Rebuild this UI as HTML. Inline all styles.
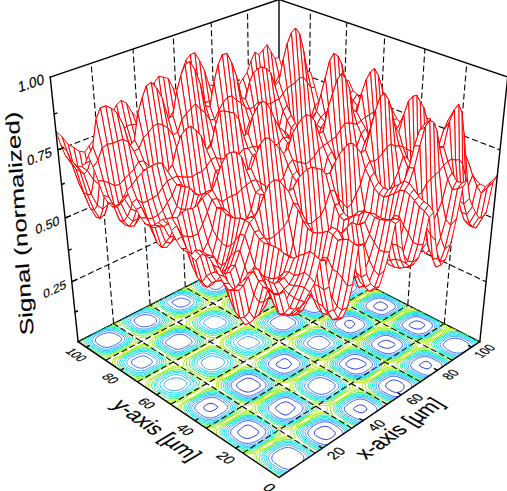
<!DOCTYPE html>
<html><head><meta charset="utf-8"><style>
html,body{margin:0;padding:0;background:#fff;width:507px;height:491px;overflow:hidden}
svg{display:block}
text{font-family:"Liberation Sans",sans-serif}
</style></head><body>
<svg width="507" height="491" viewBox="0 0 507 491">
<rect width="507" height="491" fill="#fff"/>
<path d="M113.6 323.6L91.1 63.2M444.3 323.6L466.8 63.2M150.1 305.1L133 49M407.8 305.1L424.9 49M185.3 287.2L173.2 35.3M372.6 287.2L384.7 35.3M218.8 270.1L211.2 22.4M339.1 270.1L346.7 22.4M251 253.8L247.5 10.1M307 253.8L310.4 10.1M71.8 281.8L279 184.5M279 184.5L486.1 281.8M65.1 218L279 126.3M279 126.3L492.8 218M57.9 149.9L279 64.7M279 64.7L500 149.9" stroke="#000" stroke-width="1.1" stroke-dasharray="6,3" fill="none"/>
<path d="M50.2 77.1L279 -0.5M279 -0.5L507.7 77.1M279 -0.5L279 239.5M78.1 341.7L279 239.5M279 239.5L479.8 341.7" stroke="#000" stroke-width="1.4" fill="none" stroke-linecap="square"/>
<path d="M326.7 439.5l-2.6 -0.2 -2 -0.5 -1.7 -0.7 -1.7 -0.8 -1.5 -0.8 -1.4 -1 -1.1 -1.1 -0.5 -1.5 1 -2.4 1.2 -1 1.4 -0.9 1.5 -0.7 1.6 -0.8 1.8 -0.5 1.5 -0.3 2.5 0.1 1.9 0.6 1.4 0.9 1.3 1 1.2 1.1 1.3 1 1.1 1.1 0.5 1.5 -1 2 -1.2 1 -1.3 0.8 -1.5 0.9 -1.6 0.7 -2.1 0.5M398.1 392.3l-1.5 0.2 -2.2 -0.3 -1.8 -0.6 -1.5 -0.7 -1.5 -0.9 -1.3 -0.8 -1.3 -1 -1 -1.1 -0.4 -1.4 0.6 -1.7 0.9 -1 1 -0.9 1.2 -0.8 1.4 -0.7 1.7 -0.5 1.9 -0.2 2.1 0.4 1.8 0.5 1.5 0.8 1.3 0.8 1.3 1 1 1 0.7 1.3 0.2 1.7 -0.9 1.8 -1 0.9 -1.1 0.9 -1.4 0.7 -1.7 0.6M362.8 412.5l-1.7 0.2 -2.1 -0.4 -1.7 -0.7 -1.7 -0.7 -1.4 -0.9 -0.7 -1.3 0.9 -1.2 1.3 -0.9 1.3 -0.8 1.6 -0.6 2.2 -0.3 2.8 0.7 1.4 0.8 1.2 1.1 0.7 1.3 -1.2 2.2 -1.4 0.8 -1.5 0.7M427 368.9l-2.2 -0.6 -1.6 -0.6 -1.7 -0.6 -1.5 -0.8 -0.6 -1.3 1 -1.1 1.2 -0.8 1.1 -0.8 1.3 -0.6 1.9 -0.4 2.8 0.9 1.3 0.9 1 1 0.6 1.4 -0.7 1.3 -1 0.9 -1.1 0.8 -1.8 0.4M251.1 437.8l-2 0.5 -2.3 0.2 -2.1 -0.4 -1.7 -0.7 -1.5 -0.9 -1.3 -0.9 -1.3 -1 -0.9 -1.1 -0.2 -1.7 1.4 -1.9 1.3 -1 1.3 -1 1.2 -1 1.3 -0.9 1.8 -0.7 2.3 -0.3 2.1 0.6 1.5 0.8 1.3 0.9 1.3 0.9 1.4 0.9 1.4 0.9 1 1.2 0.3 1.5 -1.3 1.8 -1.4 0.9 -1.6 0.8 -1.6 0.8 -1.7 0.8M287.3 414.8l-2.3 0.2 -2.6 -0.8 -1.4 -0.8 -1.3 -1 -1.3 -0.9 -1.2 -0.9 -1.1 -1 -0.6 -1.4 1.1 -1.9 1.2 -0.9 1.3 -0.9 1.4 -0.9 1.4 -0.8 1.6 -0.6 2.1 -0.4 2.2 0.4 1.5 0.8 1.4 0.8 1.3 0.9 1.3 0.9 1.1 1 0.7 1.3 -1.6 2.2 -1.2 0.9 -1.1 1 -1.1 1.1 -1.2 0.9 -1.6 0.8M362 367.3l-1.6 0.6 -1.7 0.5 -1.7 0.5 -2.3 0.2 -2.7 -0.6 -1.6 -0.7 -1.5 -0.7 -1.3 -0.8 -1.1 -0.9 -0.6 -1.2 0.4 -1.4 1.3 -1.3 1.9 -1.3 1.2 -0.7 1.5 -0.6 2 -0.3 2.8 0.2 1.7 0.5 1.6 0.7 1.5 0.7 1.4 0.7 1.4 0.7 1 1 0.4 1.4 -1.2 1.5 -1.3 0.7 -1.5 0.6M390.5 347.7l-1.4 0.5 -2.5 0.1 -1.9 -0.5 -1.7 -0.5 -1.7 -0.6 -1.5 -0.6 -1.2 -0.8 -0.5 -1.3 1 -1.1 1.2 -0.7 1.4 -0.7 1.3 -0.5 1.7 -0.5 1.9 -0.3 1.9 0.5 1.5 0.6 1.5 0.6 1.5 0.7 1.3 0.7 0.8 1.1 -0.7 1.3 -1.2 0.7 -1.4 0.7 -1.3 0.6M420 328.9l-2 0.2 -3 -0.4 -1.7 -0.6 -1.5 -0.6 -1.3 -0.7 -1.1 -0.9 -0.2 -1.4 1.8 -1.6 1.2 -0.6 1.3 -0.7 1.4 -0.5 2 -0.2 2.4 0.4 1.6 0.5 1.4 0.7 1.2 0.8 0.9 1 0.1 1.5 -0.9 1.1 -2.2 1.4 -1.4 0.6M252.4 391.2l-1.7 0.5 -2 0.4 -3 -0.2 -1.7 -0.6 -1.5 -0.7 -1.5 -0.7 -1.3 -0.8 -1.3 -0.8 -1 -1 -0.7 -1.1 0 -1.6 0.8 -1.2 1 -1 1.3 -0.8 1.4 -0.8 1.4 -0.8 1.4 -0.7 1.6 -0.7 1.9 -0.4 2.6 0 1.7 0.5 1.5 0.7 1.3 0.8 1.4 0.8 1.3 0.7 1.2 0.9 1.1 0.9 0.6 1.2 0 1.3 -0.8 1.2 -1.2 0.9 -1.3 0.8 -1.5 0.8 -1.4 0.7 -1.6 0.8M286 368.3l-1.5 0.2 -2.2 -0.2 -1.7 -0.6 -1.5 -0.6 -1.4 -0.7 -1.2 -0.9 -0.5 -1.2 0.9 -1.4 1.2 -0.8 1.3 -0.8 1.1 -0.9 1.1 -0.8 1.5 -0.7 2.1 -0.3 1.9 0.7 1.2 0.8 1 0.9 0.9 1 0.8 1.1 0.4 1.3 -1.2 1.8 -1.1 0.8 -1.4 0.8 -1.7 0.5M382 310.4l-2.9 -0.3 -1.4 -0.6 -1.3 -0.6 -1.3 -0.7 -1.1 -0.8 -0.5 -1.5 1.6 -1.6 2 -1.5 1.2 -0.6 1.8 -0.3 2.4 0.4 1.3 0.7 1.1 0.8 1.1 0.7 1.1 0.9 0.5 1.6 -1.6 1.7 -2.3 1.3 -1.7 0.4M211.2 411.4l-2.7 0 -2 -0.8 -1.4 -0.8 -1.1 -1 -0.5 -1.3 1.5 -2 1.4 -0.8 1.6 -0.8 1.9 -0.5 2.9 0.2 1.5 0.7 1.4 0.8 1.2 0.8 0.9 1.2 -1.8 2.1 -1.5 0.7 -1.6 0.8 -1.7 0.7M349.6 328.2l-1.9 -0.7 -1.1 -0.8 -1.7 -1.9 -0.1 -1.9 1.6 -1.8 1.3 -0.6 2 -0.2 1.9 0.5 1.3 0.7 1 0.8 0.8 2 -1.5 1.8 -1.8 1.8 -1.8 0.3" stroke="#2a3cf0" fill="none" stroke-width="1.0"/>
<path d="M294 467.3l-2.4 1.1 -2 0.6 -1.3 0.2 -1.3 0 -3.3 -0.8 -1.7 -0.8 -1.6 -0.9 -1.5 -0.9 -1.4 -1 -1.5 -0.9 -1.4 -1 -1.2 -1.1 -1 -1.3 -0.6 -1.5 0 -1.8 0.7 -1.5 0.8 -1.3 1.2 -1.2 1.3 -1 1.4 -0.9 1.5 -0.9 1.6 -0.8 1.6 -0.8 1.9 -0.7 2 -0.5 2.6 -0.1 3 0.5 1.4 0.5 2 0.9 1.6 0.9 1.4 0.9 1.5 1 1.3 1 1.3 1.1 1 1.2 0.8 1.4 0.3 1.7 -0.8 2.2 -0.4 0.5M327.7 444.5l-1.4 0.1 -1.5 -0.1 -1.7 -0.2 -2.7 -0.6 -1.9 -0.6 -1.7 -0.8 -1.5 -0.8 -1.4 -1 -1.3 -1 -1.2 -1.1 -1.1 -1.1 -1 -1.1 -0.8 -1.1 -0.6 -1.7 0.1 -1.9 0.8 -1.5 1 -1.2 1.1 -1 1.2 -1 1.3 -0.9 1.4 -0.9 1.4 -0.8 1.6 -0.7 1.7 -0.7 1.9 -0.5 2.1 -0.4 1.9 -0.1 2.4 0.3 2 0.5 1.7 0.7 1.6 0.8 1.4 0.8 1.4 0.9 1.4 1 1.3 1 1.2 1 1.2 1.1 1 1.2 0.8 1.3 0.3 1.6 0 0.1M365 419.3l-1.4 0.2 -1.9 0.1 -2.4 -0.2 -2 -0.5 -1.8 -0.6 -1.6 -0.8 -1.5 -0.8 -1.5 -0.9 -1.4 -0.8 -1.4 -0.9 -1.3 -1 -1.1 -1 -0.9 -1.3 -0.5 -1.3 0.1 -1.5 0.6 -1.3 1 -1 1.2 -0.9 1.2 -0.9 1.3 -0.8 1.3 -0.8 1.3 -0.8 1.4 -0.8 1.5 -0.7 1.5 -0.5 2.4 -0.4 2.7 0 2.6 0.6 1.7 0.6 1.5 0.8 1.4 0.9 1.4 0.9 1.4 0.8 1.3 0.9 1.3 1 1.2 1 0.8 1.1 0.6 1.6 -0.2 1.8 -0.2 0.3M398.5 396.6l-2.7 0 -2.1 -0.3 -1.9 -0.6 -1.7 -0.6 -1.6 -0.7 -1.6 -0.8 -1.5 -0.7 -1.5 -0.8 -1.5 -0.8 -1.3 -0.9 -1 -1.1 -0.9 -1.2 -0.6 -1.3 0 -1.7 0.9 -1.9 0.9 -1 1.1 -0.9 1.2 -0.8 1.3 -0.7 1.3 -0.8 1.3 -0.7 1.4 -0.7 1.4 -0.7 1.8 -0.5 2.2 -0.2 3.3 0.4 1.9 0.5 1.7 0.6 1.6 0.6 1.7 0.7 1.5 0.7 1.5 0.8 1.4 0.8 1.2 0.8 1.2 1.1 0.8 1.2 0.6 1.4 0.1 1.7M430.3 375.1l-2 0.2 -2.9 -0.4 -1.9 -0.5 -1.7 -0.6 -1.5 -0.7 -1.5 -0.8 -1.5 -0.7 -1.4 -0.8 -1.4 -0.8 -1.3 -0.9 -1.2 -0.9 -0.9 -1.1 -0.5 -1.4 0.2 -1.4 1.4 -2 2 -1.8 1.1 -0.7 1.2 -0.8 1.3 -0.7 1.4 -0.6 1.6 -0.5 1.8 -0.4 1.9 -0.2 2.3 0.1 2 0.4 1.6 0.6 1.6 0.7 1.5 0.7 1.4 0.7 1.5 0.8 1.4 0.7 1.4 0.8 1.2 1 1 1 0.6 1.3 -0.1 1.8 0 0.1M461.1 352.9l-2.1 0.2 -1.3 0 -1.4 -0.1 -2.7 -0.5 -1.7 -0.6 -1.4 -0.6 -1.6 -0.8 -1.3 -0.8 -1.3 -0.8 -1.1 -1 -1 -1 -0.7 -1.2 -0.3 -1.5 0.9 -1.5 1.9 -1.6 1.2 -0.7 1.2 -0.7 1.3 -0.6 1.5 -0.5 1.9 -0.3 1.8 -0.1 2.1 0.2 2 0.4 1.7 0.5 1.5 0.6 1.5 0.7 1.5 0.7 1.3 0.8 1.3 0.9 1 1 0.6 1.2 0.1 1.5 -1.2 2 -1.9 1.6 -1.1 0.8 -1.2 0.7 -1.4 0.6 -1.6 0.5M257.9 440.4l-1.6 0.8 -1.7 0.8 -1.9 0.6 -1.8 0.4 -2.6 0.4 -3 -0.1 -2.4 -0.5 -1.7 -0.7 -1.6 -0.8 -1.4 -0.9 -1.4 -0.9 -1.3 -1 -1.3 -0.9 -1.2 -1 -1 -1.1 -0.9 -1.2 -0.6 -1.4 0.1 -1.3 0.6 -1.5 0.9 -1.2 1.2 -1.1 1.3 -0.9 1.3 -1 1.4 -0.9 1.4 -0.9 1.4 -0.9 1.5 -0.8 1.3 -0.7 2.1 -0.7 2.1 -0.4 2.9 0.1 2.1 0.5 1.8 0.6 1.5 0.6 1.7 0.8 1.4 0.9 1.3 0.9 1.4 0.9 1.2 0.9 1.1 1.1 1.1 1.1 0.8 1.2 0.4 1.5 -0.3 2 -1.2 1.7 -1.1 1.1 -1.2 1.1 -1.3 1 -1.4 0.9 -1.4 0.9M295.4 416.4l-1.5 0.8 -1.6 0.7 -1.7 0.6 -1.9 0.5 -2.3 0.3 -3 -0.1 -2.5 -0.6 -1.7 -0.6 -1.6 -0.8 -1.4 -0.8 -1.2 -0.8 -1.4 -1 -1.3 -1 -1.2 -0.9 -1 -1.1 -1 -1.1 -0.7 -1.2 -0.1 -1.4 0.6 -1.4 0.9 -1.1 1.1 -1 1.2 -0.8 1.4 -0.9 1.4 -0.9 1.3 -0.8 1.3 -0.9 1.4 -0.8 1.5 -0.7 1.7 -0.6 2 -0.4 2.7 -0.1 2.3 0.6 1.6 0.6 1.5 0.8 1.4 0.8 1.4 0.8 1.5 0.8 1.4 0.7 1.5 0.8 1.3 0.9 1.2 1 0.8 1.2 0.4 1.4 -0.5 2.1 -1.1 1.7 -1 1 -1.1 1 -1.3 1 -1.3 0.8 -1.4 0.9M366.1 371.1l-1.3 0.8 -1.4 0.6 -1.6 0.6 -1.7 0.5 -2.1 0.3 -1.8 0.1 -2.3 -0.1 -1.9 -0.5 -1.6 -0.6 -1.4 -0.8 -1.3 -0.8 -1.1 -0.8 -1.4 -0.9 -1.3 -0.8 -1.3 -0.9 -1.2 -0.8 -1 -1 -0.8 -1.1 -0.1 -1.6 1.4 -2.1 1 -0.9 1.1 -0.8 1.2 -0.8 1.2 -0.8 1.2 -0.7 1.2 -0.8 1.3 -0.7 1.4 -0.6 1.7 -0.5 1.7 -0.2 2.4 0.1 2 0.3 1.8 0.5 1.6 0.6 1.4 0.7 1.5 0.7 1.4 0.7 1.3 0.8 1.3 0.8 1.2 0.8 1.1 1 0.9 1 0.6 1.3 -0.1 1.8 -0.8 1.3 -0.9 1 -1.1 0.8 -1.1 0.9 -1.2 0.8 -1.1 0.8M392.5 352.9l-1.8 0.5 -2.1 0.2 -2.6 -0.2 -1.9 -0.4 -1.7 -0.6 -1.6 -0.6 -1.4 -0.6 -1.4 -0.8 -1.3 -0.7 -1.3 -0.9 -1.1 -0.8 -1.1 -0.9 -1 -1 -0.6 -1.1 -0.1 -1.6 0.9 -1.5 1.9 -1.6 1.1 -0.8 1.2 -0.7 1.1 -0.8 1.2 -0.7 1.3 -0.6 1.4 -0.6 1.6 -0.4 2.1 -0.3 1.5 0.1 1.4 0.1 2.3 0.6 1.6 0.6 1.5 0.6 1.4 0.7 1.3 0.8 1.4 0.7 1.2 0.8 1.2 0.8 1.1 0.9 0.9 1.1 0.5 1.3 -0.2 1.4 -1.4 2 -1.9 1.7 -1.2 0.7 -1.2 0.8 -1.3 0.7 -1.4 0.6 -1.5 0.5M422 333.7l-2.1 0.3 -2.6 -0.1 -2.5 -0.4 -1.7 -0.5 -1.4 -0.7 -1.4 -0.7 -1.3 -0.7 -1.2 -0.7 -1.5 -0.8 -1.2 -0.7 -1.2 -0.8 -1 -1 -0.7 -1 -0.1 -1.5 1.2 -1.7 2 -1.5 1 -0.7 1.1 -0.7 2.3 -1.4 1.2 -0.6 1.4 -0.5 1.7 -0.4 2.1 -0.2 2.7 0.3 1.7 0.5 1.5 0.6 1.4 0.6 1.4 0.7 1.4 0.6 1.4 0.7 1.4 0.7 1.2 0.7 1.1 0.9 0.8 1 0.4 1.4 -0.5 1.8 -0.7 1.1 -1.8 1.6 -2.1 1.5 -1.1 0.7 -1.3 0.7 -1.4 0.5 -1.6 0.4M325.8 393.7l-1.9 0.4 -2.1 0.2 -2.3 -0.2 -1.5 -0.3 -2.2 -0.8 -1.5 -0.7 -1.4 -0.8 -1.3 -0.9 -1.1 -0.9 -1.1 -1 -0.8 -1.2 -0.5 -1.3 0.1 -1.5 0.6 -1.2 0.9 -1.1 1.1 -0.9 1.1 -0.8 1.3 -0.9 1.4 -0.7 1.5 -0.7 1.7 -0.5 2.2 -0.3 1.6 0.1 1.6 0.3 2.2 0.6 1.6 0.7 1.5 0.7 1.4 0.8 1.4 0.7 1.4 0.8 1.2 1 0.9 1 0.4 1.5 -0.6 2 -0.9 1 -1.1 0.9 -1.3 0.9 -1.2 0.8 -1.3 0.8 -1.4 0.8 -1.6 0.7M259.1 392l-1.3 0.6 -1.6 0.9 -1.5 0.7 -1.6 0.7 -1.7 0.6 -1.7 0.4 -2.8 0.1 -2 -0.4 -1.7 -0.6 -1.6 -0.7 -1.4 -0.7 -1.5 -0.7 -1.4 -0.8 -1.4 -0.7 -1.3 -0.8 -1.2 -0.9 -1 -1 -0.8 -1.1 -0.5 -1.3 0 -1.5 0.6 -1.7 0.9 -1.1 1 -1 1.2 -0.9 1.3 -0.8 1.3 -0.9 1.4 -0.7 1.4 -0.8 1.4 -0.7 1.6 -0.7 1.7 -0.6 2 -0.3 1.7 -0.2 2.3 0.2 1.8 0.4 1.8 0.6 1.5 0.6 1.4 0.8 1.2 0.8 1.3 0.8 1.2 0.8 1.2 0.9 1.2 0.9 1 0.9 0.9 1.1 0.5 1.3 0 1.6 -0.7 1.4 -0.9 1.1 -1.1 0.9 -1.3 0.9 -1.4 0.8 -1.4 0.8M216.2 416.5l-1.3 0.5 -2.5 0.7 -1.6 0.2 -2.6 -0.1 -1.4 -0.3 -2.4 -0.8 -1.4 -0.7 -1.3 -0.9 -1.3 -0.9 -1.2 -0.9 -1.2 -0.9 -1.1 -1 -1.1 -1 -0.8 -1.1 -0.4 -1.4 0.5 -1.8 1 -1.1 1.1 -1.1 1.3 -0.9 1.4 -0.9 1.4 -0.8 1.3 -0.9 1.4 -0.9 1.5 -0.8 1.7 -0.6 1.9 -0.5 2.3 -0.3 3.1 0.3 2 0.6 1.5 0.7 1.3 0.8 1.3 0.8 1.2 0.9 1.3 0.8 1.3 0.9 1.2 0.9 1.1 1 0.8 1 0.3 1.6 -0.7 1.7 -1.1 1.1 -1.2 1 -1.4 0.9 -1.4 0.8 -1.4 0.9 -1.4 0.9 -1.4 0.8 -1.6 0.8M288.1 372.7l-1.9 0.4 -1.8 0.2 -2.3 -0.2 -1.7 -0.3 -1.9 -0.7 -1.4 -0.7 -1.4 -0.7 -1.4 -0.7 -1.3 -0.8 -1.3 -0.8 -1.2 -0.8 -1 -0.9 -0.8 -1.1 -0.4 -1.3 0.3 -1.7 0.7 -1.2 0.9 -1 1.1 -0.9 1.1 -0.8 1.3 -0.8 1.3 -0.7 1.4 -0.7 1.5 -0.6 1.6 -0.6 1.7 -0.5 1.9 -0.4 2.1 -0.1 2 0.3 1.7 0.6 1.4 0.6 1.4 0.7 1.3 0.7 1.3 0.8 1.4 0.7 1.2 0.8 1.1 0.9 1 1 0.7 1.1 0.4 1.3 -0.3 1.7 -0.9 1.3 -1 0.9 -1.3 0.8 -1.3 0.7 -1.4 0.7 -1.3 0.8 -1.4 0.7 -1.5 0.7 -1.6 0.6M356.1 331.7l-1.4 0.6 -1.8 0.4 -1.9 0.3 -2.2 -0.2 -1.8 -0.4 -1.6 -0.5 -1.4 -0.7 -1.4 -0.6 -1.3 -0.7 -1.3 -0.7 -1.3 -0.7 -1.2 -0.8 -1 -0.8 -1.4 -2.1 0 -1.5 0.7 -1.3 2 -1.5 1.3 -0.7 1.2 -0.6 1.2 -0.7 1.2 -0.7 1.3 -0.6 1.4 -0.6 1.6 -0.4 2 -0.2 2.8 0.3 1.6 0.5 1.5 0.6 1.4 0.6 1.3 0.6 1.4 0.7 1.3 0.6 1.3 0.7 1.2 0.8 1 0.9 1 2.2 -0.8 2.1 -1.8 1.7 -1.2 0.7 -1.1 0.7 -1.2 0.7 -1.3 0.7 -1.3 0.6M384.6 314.2l-1.8 0.4 -1.4 0 -2 -0.3 -1.7 -0.4 -1.5 -0.6 -1.4 -0.6 -1.4 -0.6 -1.2 -0.6 -1.5 -0.7 -1.3 -0.6 -1.3 -0.7 -1 -0.8 -1.2 -1.7 -0.1 -1.4 0.8 -2 1.8 -1.6 2.2 -1.3 1.2 -0.6 1.3 -0.6 1.4 -0.5 1.5 -0.5 1.6 -0.3 2.1 -0.2 2.5 0.3 1.7 0.4 1.5 0.5 1.4 0.6 1.3 0.6 1.3 0.7 1.2 0.7 1.2 0.7 1.2 0.7 1 0.9 1.4 2 -0.1 1.5 -1.3 1.5 -2.3 1.3 -1.2 0.6 -1.1 0.7 -1.1 0.7 -1.1 0.6 -1.2 0.7 -1.4 0.5M320.8 349.8l-2.5 -0.1 -1.9 -0.4 -1.6 -0.5 -1.5 -0.7 -1.4 -0.6 -1.3 -0.7 -1.3 -0.8 -1 -0.9 -0.8 -1.5 0.2 -1.3 1.6 -1.9 1 -0.9 1.1 -0.8 1.1 -0.8 1.3 -0.7 1.5 -0.5 1.8 -0.4 2.3 -0.1 3 0.5 1.4 0.7 1.2 0.8 1.1 0.8 1.1 0.8 1 0.9 1 0.9 0.8 1.9 -1.4 2.1 -1.1 0.8 -1.1 0.8 -1.1 0.8 -1.3 0.7 -1.4 0.6 -1.8 0.5M319.1 311.6l-1.6 0.4 -1.8 0.4 -2.3 0.1 -2.7 -0.5 -1.3 -0.4 -1.6 -0.7 -1.3 -0.7 -1.2 -0.6 -1.3 -0.7 -1.1 -0.7 -1.8 -1.7 -0.4 -2.3 1.4 -1.8 2.1 -1.5 1.1 -0.7 1.2 -0.6 1.2 -0.7 1.3 -0.5 1.6 -0.5 1.3 -0.2 2.5 -0.1 2 0.2 1.7 0.4 1.5 0.5 1.3 0.6 1.3 0.7 1.2 0.6 1.1 0.7 1.1 0.8 1.5 1.9 0.2 1.6 -0.6 1.3 -1.5 1.5 -2.2 1.4 -1.2 0.6 -1.3 0.6 -1.4 0.6M285.7 329.8l-1.5 0.2 -2.5 0 -1.9 -0.3 -1.6 -0.5 -1.4 -0.6 -1.3 -0.7 -1.1 -0.8 -1 -0.8 -1.1 -0.8 -1.4 -1.3 -0.7 -1.7 0.5 -1.2 2 -1.7 1.2 -0.7 1.2 -0.7 1.2 -0.7 1.2 -0.7 1.4 -0.6 1.7 -0.4 1.9 -0.2 2.2 0.1 1.7 0.4 1.5 0.6 1.3 0.6 1.2 0.7 1.3 0.7 1.2 0.7 1.1 0.7 1.3 1.2 0.5 1.6 -1.3 2.1 -1.1 0.8 -1.1 0.7 -1.1 0.8 -1.2 0.7 -1.3 0.7 -1.4 0.6 -1.6 0.5M346.4 294.3l-2.3 0 -2 -0.3 -1.5 -0.5 -1.4 -0.5 -1.2 -0.7 -1.1 -0.7 -1.2 -0.7 -1.1 -0.7 -1.8 -1.6 -0.3 -1.6 1 -1.5 1.3 -0.9 2.2 -1.3 1.1 -0.6 1.3 -0.6 1.3 -0.5 1.6 -0.4 1.6 -0.2 2 0.2 1.6 0.3 1.6 0.5 1.3 0.6 1.3 0.6 1.2 0.6 1.2 0.7 1.7 1.3 0.8 1.2 0.1 1.3 -0.7 1.2 -1.8 1.5 -2.1 1.3 -1.2 0.6 -1.3 0.6 -1.4 0.5 -1.8 0.3M180.3 349.1l-2.1 0.3 -2.9 -0.5 -1.5 -0.6 -1.2 -0.7 -1.3 -0.7 -1.2 -0.7 -1.3 -0.6 -1.3 -0.7 -1.1 -0.8 -0.8 -1.1 0.2 -1.5 0.9 -1 1 -0.9 1.2 -0.9 1.2 -0.8 1.2 -0.8 1.3 -0.7 1.3 -0.8 1.5 -0.6 1.8 -0.4 2.1 -0.3 2.6 0.1 1.7 0.5 1.5 0.5 1.2 0.7 1.1 0.7 1.1 0.8 1.1 0.8 1.9 1.7 0.7 2.2 -0.8 1.1 -1.1 0.9 -1.2 0.8 -1.4 0.7 -1.4 0.7 -1.4 0.7 -1.4 0.7 -1.5 0.6 -1.7 0.6M284.9 291.7l-1.5 0.5 -1.7 0.3 -2.3 0.1 -2.3 -0.5 -1.4 -0.6 -1.2 -0.6 -1.2 -0.6 -2 -1.5 -0.9 -1.2 0.5 -2.2 1.8 -1.6 2.1 -1.4 1.2 -0.6 1.4 -0.5 1.3 -0.3 2.6 -0.1 1.7 0.3 1.5 0.5 1.2 0.6 2.2 1.3 2 1.5 1.3 1.9 -0.6 1.4 -2.1 1.5 -1.1 0.6 -1.3 0.6 -1.2 0.6M143.1 368l-2.4 0.2 -2.4 -0.5 -1.5 -0.6 -1.3 -0.7 -1.2 -0.7 -1.2 -0.8 -1 -0.8 -0.9 -2.2 0.7 -1.3 1.1 -0.9 1.4 -0.8 1.5 -0.7 1.5 -0.7 1.5 -0.7 1.7 -0.6 1.4 -0.3 2.4 0.1 1.6 0.5 1.3 0.7 1.2 0.8 1.2 0.7 1.1 0.8 1 0.8 0.6 2 -0.8 1.2 -1.1 0.9 -1.4 0.8 -1.3 0.8 -1.5 0.8 -1.5 0.7 -1.7 0.5M252.6 308.2l-1.5 0.5 -1.9 0.3 -2.4 -0.4 -1.3 -0.6 -2 -1.6 -1.3 -1.4 -0.2 -1.5 1.8 -1.7 1.1 -0.7 2.2 -1.5 1.3 -0.6 1.9 -0.3 1.8 0.5 1.3 0.6 1.1 0.7 1.2 0.6 1.1 0.7 1.3 1.4 -1 2.1 -2 1.4 -1.3 0.8 -1.2 0.7M311.4 276l-2.1 -0.2 -1.4 -0.5 -1.2 -0.6 -2.1 -1.4 -2.3 -1.3 -1.6 -1.5 1.3 -1.8 2.2 -1.3 1.9 -1.3 2.1 -1.3 1.3 -0.3 2.3 0 1.6 0.4 1.2 0.5 2.2 1.3 1.1 0.6 1.2 0.6 2 1.2 0.7 1.1 -0.6 1.3 -2.1 1.3 -1.2 0.6 -2.3 1.2 -1.2 0.6 -1.3 0.5 -1.7 0.3M112.5 346.1l-1.6 0.6 -1.8 0.5 -1.8 0.2 -2.2 -0.2 -1.6 -0.3 -1.6 -0.6 -1.3 -0.7 -1.2 -0.6 -1.2 -0.7 -1.1 -0.8 -1.6 -1.7 -0.2 -2.1 0.5 -1.3 0.9 -1.1 1.2 -0.9 1.3 -0.7 1.4 -0.7 1.5 -0.7 1.6 -0.6 1.7 -0.5 1.9 -0.4 2.2 -0.2 3 0.4 1.5 0.5 1.4 0.6 1.3 0.6 1.3 0.6 1.2 0.7 1.1 0.7 1.3 1.9 -0.2 1.4 -1 1.4 -1 1 -1.2 0.8 -1.4 0.8 -1.4 0.7 -1.4 0.7 -1.5 0.7M147.1 326.6l-2.1 0.2 -2.6 0 -2.1 -0.5 -1.4 -0.5 -1.1 -0.7 -2 -1.5 -1.6 -1.8 -0.1 -1.8 0.7 -1.1 1.1 -0.9 1.2 -0.7 1.3 -0.7 1.4 -0.7 1.5 -0.6 1.7 -0.4 2.1 -0.2 2.6 0.1 1.9 0.4 1.6 0.4 1.3 0.6 1.2 0.7 1.7 1.1 1 1.2 0.1 2.5 -0.9 1 -1.1 0.8 -1.3 0.8 -1.3 0.7 -1.5 0.6 -1.5 0.6 -1.8 0.4M183 306.9l-1.9 0.3 -1.4 -0.1 -1.7 -0.3 -1.2 -0.7 -2.2 -1.3 -1.1 -0.7 -1.2 -0.8 -0.4 -1.6 2.3 -1.5 1.5 -0.5 1.4 -0.6 1.4 -0.6 1.7 -0.4 2.3 0.1 1.6 0.4 1.5 0.5 1.5 0.5 1.4 0.5 1.2 0.8 0.6 1.8 -1.8 1.7 -1.3 0.7 -1.3 0.6 -1.4 0.6 -1.5 0.6M217.1 289.4l-1.3 0.2 -2 -0.2 -1.4 -0.5 -2 -1.4 -2 -1.4 -1.2 -1 -0.3 -1.5 1.9 -1.6 1.3 -0.6 1.3 -0.6 1.2 -0.4 1.9 -0.4 2.6 0.1 1.8 0.6 1.3 0.6 1.2 0.5 1.2 0.6 1.2 1.5 -1 2 -1.9 1.6 -2.2 1.4 -1.6 0.5M248 272.9l-2.3 0 -1.8 -0.4 -1.3 -0.5 -1.2 -0.5 -2.1 -1.3 -1 -1.3 0.9 -2 2 -1.4 1.2 -0.6 1.4 -0.4 1.9 -0.3 2.3 0.1 2 0.4 1.4 0.4 1.1 0.6 1.9 1.4 0.4 2 -1.7 1.6 -2.3 1.3 -1.3 0.5 -1.5 0.4M279 256.7l-1.6 0.4 -1.5 0 -1.6 -0.3 -1.4 -0.9 -1.3 -1.2 -1.9 -1.3 -0.8 -1.9 1.8 -1.4 2.3 -1.1 1.4 -0.5 2 -0.1 2.2 0.4 1.4 0.3 1.4 0.5 1.4 0.4 1.3 0.5 1.8 1.4 -1.1 2 -2.3 1.2 -2.3 1.1 -1.2 0.5" stroke="#3a66ff" fill="none" stroke-width="1.0"/>
<path d="M288 471.4l-2.6 -0.2 -2 -0.5 -2 -0.8 -1.6 -0.8 -1.5 -1 -1.5 -0.9 -1.4 -1 -1.4 -1 -1.4 -1 -1.3 -1 -1.2 -1.2 -0.9 -1.3 -0.5 -1.5 0 -1.9 0.6 -1.8 0.9 -1.3 1 -1.2 1.3 -1.1 1.3 -1 1.5 -0.9 1.5 -0.9 1.5 -0.8 1.6 -0.8 1.7 -0.8 1.9 -0.6 2 -0.5 2.5 -0.2 1.6 0 2 0.4 2 0.7 1.6 0.8 1.6 0.8 1.5 0.9 1.5 0.9 1.5 1 1.4 0.9 1.3 1 1.2 1.2 1 1.2 0.7 1.4 0.4 1.3 0 0.4M325.1 446.3l-2.1 -0.3 -2.5 -0.5 -1.9 -0.6 -1.8 -0.7 -1.6 -0.8 -1.5 -0.9 -1.4 -0.9 -1.3 -1 -1.2 -1.1 -1.2 -1.1 -1.1 -1.1 -1 -1.2 -0.8 -1.3 -0.5 -1.5 0.1 -1.9 0.7 -1.4 1 -1.2 1.1 -1 1.2 -1 1.3 -0.9 1.3 -0.9 1.3 -0.9 1.4 -0.9 1.5 -0.8 1.6 -0.7 1.8 -0.6 1.9 -0.5 2.2 -0.3 1.5 -0.1 1.3 0.1 3.2 0.6 1.3 0.5 2.1 0.9 1.6 0.8 1.5 0.8 1.4 0.9 1.5 0.9 1.3 0.9 1.3 1 1 1 1.2 1.2 1 1.3 0.7 1.4M361.7 421.5l-2.5 -0.2 -2.1 -0.4 -1.8 -0.7 -1.6 -0.7 -1.5 -0.8 -1.5 -0.9 -1.4 -0.9 -1.5 -0.8 -1.4 -0.9 -1.3 -1 -1.2 -1 -1 -1.1 -0.8 -1.2 -0.5 -1.3 0 -1.6 0.6 -1.3 0.9 -1.1 1.1 -1 1.2 -0.9 1.3 -0.8 1.2 -0.9 1.3 -0.8 1.3 -0.8 1.3 -0.8 1.5 -0.8 1.6 -0.6 1.8 -0.5 2.2 -0.3 2.7 0 2.7 0.5 1.8 0.6 1.6 0.8 1.5 0.8 1.4 0.8 1.4 0.9 1.4 0.8 1.4 0.9 1.4 0.9 1.4 0.9 1.1 1.1 0.9 1.2 0.4 1.5M396.1 398.3l-2.2 -0.4 -1.9 -0.5 -1.8 -0.6 -1.7 -0.7 -1.6 -0.7 -1.5 -0.8 -1.5 -0.7 -1.5 -0.8 -1.4 -0.9 -1.3 -0.9 -1.2 -1 -1 -1 -0.8 -1.3 -0.5 -1.4 0 -1.7 0.7 -1.7 0.9 -1 1 -0.9 1.2 -0.8 1.2 -0.8 1.3 -0.8 1.2 -0.8 1.3 -0.7 1.3 -0.8 1.4 -0.7 1.5 -0.6 1.8 -0.4 2.3 -0.2 3.2 0.3 1.8 0.5 1.8 0.6 1.6 0.6 1.6 0.7 1.6 0.7 1.6 0.7 1.5 0.7 1.4 0.8 1.4 0.9 1.2 0.9 1 1.1 0.8 1.3 0.6 1.4M427.8 376.8l-2.2 -0.3 -1.9 -0.4 -1.8 -0.6 -1.7 -0.6 -1.6 -0.7 -1.4 -0.8 -1.5 -0.8 -1.4 -0.8 -1.3 -0.8 -1.3 -0.8 -1.3 -1 -1.1 -0.9 -0.9 -1.2 -0.4 -1.4 0.2 -1.4 1.3 -2.1 1.9 -1.8 1.1 -0.8 1.1 -0.8 1.1 -0.7 1.3 -0.7 1.3 -0.7 1.5 -0.6 1.6 -0.5 1.9 -0.4 1.9 -0.2 2.4 0.2 2 0.4 1.7 0.5 1.6 0.7 1.5 0.6 1.5 0.7 1.5 0.7 1.5 0.7 1.5 0.8 1.3 0.7 1.4 0.9 1.1 1 0.9 1.1 0.5 1.4M459.9 355.1l-2.2 0 -2.4 -0.4 -1.5 -0.3 -2.1 -0.7 -1.6 -0.6 -1.5 -0.7 -1.5 -0.7 -1.4 -0.8 -1.3 -0.8 -1.2 -0.9 -1.1 -0.9 -0.9 -1.1 -0.7 -1.1 -0.4 -1.5 1 -2.2 1.9 -1.6 1.1 -0.7 1.1 -0.7 1.1 -0.8 1.2 -0.6 1.3 -0.7 1.5 -0.5 1.8 -0.4 2.2 -0.1 3 0.3 1.9 0.4 1.7 0.5 1.6 0.6 1.5 0.7 1.5 0.7 1.4 0.7 1.4 0.7 1.3 0.8 1.2 0.9 1 1 0.7 1.2 0.3 1.5M256.4 443.2l-1.8 0.6 -1.9 0.6 -1.6 0.4 -3 0.3 -3 -0.1 -2.2 -0.4 -1.9 -0.7 -1.6 -0.7 -1.5 -0.8 -1.5 -0.9 -1.3 -0.9 -1.3 -1 -1.3 -0.9 -1.1 -1 -1.2 -1.1 -1 -1.1 -0.8 -1.3 -0.5 -1.4 0.3 -1.9 1.1 -2 0.9 -1 1.4 -1.2 1.3 -1 1.4 -0.9 1.4 -0.9 1.4 -0.8 1.5 -0.9 1.5 -0.8 1.5 -0.8 1.7 -0.7 1.9 -0.6 2.2 -0.3 2.6 0.1 2.1 0.4 1.8 0.5 1.4 0.5 1.9 0.9 1.5 0.8 1.4 0.8 1.4 0.9 1.3 0.9 1.3 1 1.2 1 1.1 1 1 1.2 0.7 1.3 0.4 1.5 -0.3 2 -1.1 1.6 -1 1.2 -1.2 1 -1.3 1 -1.3 1 -1.4 1 -1.4 0.9 -1.5 0.9 -1.6 0.8M295.6 418.2l-1.2 0.6 -2.1 0.8 -1.8 0.6 -1.7 0.4 -2.7 0.3 -3 -0.2 -2.1 -0.4 -1.8 -0.6 -1.7 -0.7 -1.5 -0.8 -1.4 -0.8 -1.4 -0.9 -1.3 -0.9 -1.3 -0.9 -1.2 -1 -1.1 -1 -1 -1 -0.9 -1.2 -0.6 -1.3 0 -1.7 1.2 -2.1 1.1 -1 1.2 -1 1.3 -0.9 1.3 -0.9 1.3 -0.8 1.3 -0.9 1.4 -0.8 1.4 -0.8 1.5 -0.7 1.6 -0.7 1.8 -0.5 2.1 -0.4 2.6 0 2.1 0.4 1.8 0.6 1.6 0.7 1.4 0.7 1.5 0.8 1.4 0.8 1.4 0.8 1.5 0.8 1.4 0.8 1.3 0.9 1.2 0.9 1.1 1.1 0.7 1.2 0.3 1.6 -0.5 2.1 -0.9 1.5 -0.9 1.1 -1 1.1 -1.1 1 -1.3 0.9 -1.4 0.8 -1.4 0.8 -1.5 0.8M363.8 374.2l-1.7 0.5 -1.9 0.4 -2.2 0.3 -1.4 0.1 -2.5 -0.1 -2 -0.4 -1.7 -0.6 -1.6 -0.6 -1.3 -0.8 -1.3 -0.9 -1.2 -0.9 -1.3 -0.8 -1.3 -0.8 -1.3 -0.8 -1.2 -0.9 -1.2 -0.8 -1 -1.1 -0.6 -1.2 -0.1 -1.4 1.2 -2.2 1 -1 1 -0.8 1.2 -0.8 1.2 -0.8 1.2 -0.8 1.2 -0.7 1.2 -0.8 1.3 -0.7 1.3 -0.7 1.5 -0.6 1.8 -0.4 1.6 -0.2 2.5 0.1 2 0.3 1.8 0.4 1.7 0.6 1.5 0.6 1.4 0.8 1.4 0.7 1.4 0.7 1.3 0.8 1.4 0.8 1.2 0.8 1.2 0.9 1 1 0.8 1.1 0.5 1.4 -0.2 1.7 -0.6 1.2 -1.8 1.9 -1 0.9 -1.1 0.8 -1.2 0.9 -1.1 0.8 -1.2 0.8 -1.3 0.7 -1.5 0.6M398.5 352l-1.3 0.7 -1.3 0.7 -1.5 0.6 -1.6 0.5 -1.3 0.3 -2.7 0.3 -2.6 -0.2 -2 -0.4 -1.7 -0.5 -1.7 -0.5 -1.5 -0.7 -1.4 -0.7 -1.4 -0.7 -1.3 -0.8 -1.2 -0.8 -1.2 -0.9 -1.1 -0.9 -1 -0.9 -0.9 -1 -0.7 -1.2 0 -1.5 0.8 -1.5 1.8 -1.7 1 -0.8 1.1 -0.8 1.1 -0.7 1.1 -0.8 1.2 -0.7 1.2 -0.6 1.3 -0.6 1.7 -0.5 1.7 -0.4 2.2 -0.2 2.9 0.2 2.1 0.5 1.7 0.5 1.6 0.5 1.5 0.7 1.4 0.7 1.3 0.7 1.3 0.8 1.3 0.8 1.2 0.8 1.1 0.9 1 0.9 0.8 1.1 0.4 1.4 -0.1 1.3 -1.2 2 -1.8 1.8 -1 0.8 -1.1 0.8 -1.2 0.7M428 333l-1.2 0.7 -1.3 0.6 -1.5 0.5 -1.7 0.4 -2.1 0.2 -2.6 0 -2.7 -0.4 -1.8 -0.4 -1.5 -0.7 -1.4 -0.7 -1.3 -0.7 -1.3 -0.8 -1.3 -0.7 -1.3 -0.7 -1.3 -0.8 -1.3 -0.7 -1.1 -0.8 -1 -1 -0.7 -1.1 -0.1 -1.3 1.1 -2 1.7 -1.4 1.3 -0.9 1.1 -0.7 2.1 -1.4 2.3 -1.3 1.3 -0.6 1.5 -0.5 1.8 -0.3 2.1 -0.2 2.8 0.3 1.8 0.4 1.5 0.6 1.5 0.6 1.3 0.7 1.4 0.6 1.4 0.7 1.4 0.6 1.4 0.7 1.4 0.7 1.2 0.8 1 0.9 0.7 1.1 0.3 1.4 -0.3 1.7 -0.6 1.3 -1.7 1.7 -2.1 1.5 -1.1 0.7 -1.1 0.7M329.8 394.4l-1.4 0.8 -1.7 0.6 -1.9 0.5 -2.3 0.1 -1.3 0 -1.8 -0.2 -2.5 -0.5 -1.7 -0.6 -1.3 -0.6 -1.7 -0.9 -1.3 -0.8 -1.3 -0.9 -1.3 -0.9 -1.1 -0.9 -1 -1 -0.9 -1.2 -0.6 -1.3 -0.1 -1.6 0.9 -1.9 1 -1 1.1 -0.9 1.2 -0.8 1.3 -0.9 1.2 -0.8 1.3 -0.8 1.3 -0.8 1.4 -0.7 1.7 -0.5 2.1 -0.3 2.6 0 2.7 0.4 1.4 0.5 1.9 0.7 1.4 0.7 1.5 0.8 1.4 0.8 1.4 0.7 1.4 0.8 1.2 0.9 1.2 0.9 0.9 1.1 0.5 1.4 0 1.7 -0.6 1.2 -0.9 1.1 -1 1 -1.2 0.8 -1.2 0.9 -1.3 0.8 -1.3 0.8 -1.3 0.8M256.3 395.2l-1.5 0.8 -1.6 0.6 -1.8 0.6 -1.6 0.3 -2.9 0.1 -2.1 -0.3 -1.7 -0.6 -1.5 -0.6 -1.6 -0.8 -1.4 -0.7 -1.4 -0.8 -1.4 -0.8 -1.4 -0.7 -1.3 -0.8 -1.2 -0.9 -1.1 -0.9 -0.9 -1.1 -0.6 -1.2 -0.4 -1.3 0 -1.4 0.5 -1.4 0.7 -1.2 1 -1 1.1 -1 1.2 -0.9 1.3 -0.8 1.3 -0.9 1.3 -0.8 1.4 -0.7 1.4 -0.8 1.6 -0.6 1.6 -0.6 1.5 -0.4 2.5 -0.4 2.5 -0.1 2.9 0.4 1.8 0.5 1.6 0.6 1.5 0.7 1.3 0.8 1.3 0.8 1.2 0.8 1.2 0.8 1.2 0.9 1.2 0.9 1.1 0.9 1 1 0.8 1.1 0.4 1.3 -0.1 1.5 -0.5 1.3 -0.9 1.1 -1 1 -1.2 0.9 -1.3 0.9 -1.4 0.8 -1.4 0.8 -1.4 0.8 -1.4 0.8 -1.4 0.7M214.5 419l-2.1 0.4 -1.8 0.2 -2.6 -0.1 -1.3 -0.2 -2.6 -0.7 -1.6 -0.7 -1.4 -0.8 -1.3 -0.9 -1.3 -0.9 -1.2 -0.8 -1.3 -0.9 -1.2 -1 -1 -0.9 -1 -1.1 -0.7 -1.2 -0.4 -1.4 0.4 -1.8 1 -1.4 1.1 -1.1 1.3 -0.9 1.1 -0.8 1.6 -1 1.4 -0.9 1.3 -0.8 1.4 -0.9 1.5 -0.8 1.6 -0.7 1.7 -0.6 2 -0.4 2.3 -0.3 3 0.2 2.4 0.6 1.6 0.6 1.4 0.8 1.4 0.8 1.3 0.8 1.2 0.9 1.3 0.8 1.3 0.8 1.2 0.9 1.2 1 0.9 1 0.8 1.2 0.2 1.5 -0.6 1.9 -1 1.2 -1.1 1 -1.3 1 -1.3 0.9 -1.4 0.8 -1.5 0.9 -1.4 0.9 -1.5 0.8 -1.5 0.8 -1.7 0.7 -1.8 0.6M288.3 374.3l-2 0.4 -1.9 0.2 -2.4 -0.2 -1.3 -0.2 -2.4 -0.7 -1.6 -0.6 -1.4 -0.7 -1.3 -0.8 -1.3 -0.8 -1.2 -0.8 -1.3 -0.8 -1.2 -0.8 -1.1 -0.9 -1 -0.9 -0.8 -1.1 -0.4 -1.3 0.4 -1.7 0.6 -1.2 0.9 -1 0.9 -1 1.1 -0.8 1.2 -0.9 1.3 -0.7 1.3 -0.8 1.4 -0.7 1.4 -0.6 1.2 -0.5 1.9 -0.7 1.8 -0.5 1.9 -0.3 2.2 -0.1 2.1 0.3 1.6 0.5 1.5 0.6 1.4 0.7 1.4 0.7 1.3 0.7 1.4 0.7 1.4 0.7 1.3 0.8 1.2 0.8 1.1 0.9 0.8 1.1 0.6 1.2 0.3 1.4 -0.3 1.7 -0.7 1.2 -1 1 -1.1 0.8 -1.2 0.9 -1.3 0.7 -1.4 0.8 -1.3 0.7 -1.4 0.7 -1.4 0.7 -1.5 0.7 -1.7 0.5M354.9 333.8l-1.7 0.4 -2.1 0.2 -2.3 -0.1 -1.8 -0.4 -1.6 -0.5 -1.5 -0.6 -1.4 -0.6 -1.4 -0.7 -1.4 -0.7 -1.3 -0.7 -1.4 -0.6 -1.2 -0.8 -1.1 -0.8 -0.9 -0.9 -0.8 -1.1 -0.5 -1.7 0.7 -2.3 1.8 -1.7 1.1 -0.7 1.2 -0.6 1.3 -0.7 1.2 -0.6 1.3 -0.7 1.2 -0.6 1.3 -0.6 1.5 -0.5 1.6 -0.5 2.1 -0.1 3 0.2 1.7 0.5 1.5 0.5 1.4 0.6 1.4 0.7 1.4 0.6 1.3 0.7 1.3 0.6 1.4 0.7 1.2 0.8 1.1 0.8 0.9 0.9 1 2.3 -0.6 1.9 -0.9 1.3 -2 1.6 -1.1 0.7 -1.2 0.7 -1.2 0.7 -1.2 0.6 -1.3 0.7 -1.4 0.6 -1.6 0.5M384.9 315.7l-1.8 0.3 -1.6 0 -2.1 -0.2 -1.7 -0.5 -1.5 -0.5 -1.5 -0.6 -1.4 -0.6 -1.4 -0.6 -1.3 -0.7 -1.3 -0.6 -1.3 -0.7 -1.3 -0.7 -1.1 -0.7 -1.7 -1.9 -0.5 -2 0.8 -2.1 1.6 -1.7 2.1 -1.4 1.2 -0.6 1.1 -0.6 1.3 -0.6 1.2 -0.6 1.5 -0.5 1.5 -0.4 1.7 -0.3 2.2 -0.2 2.5 0.2 1.7 0.4 1.6 0.5 1.4 0.6 1.3 0.6 1.4 0.6 1.3 0.7 1.3 0.6 1.2 0.7 1.1 0.8 1.1 0.8 1.1 1 1.1 1.8 0 1.6 -1.1 1.6 -2 1.4 -1.2 0.7 -1.2 0.6 -1.1 0.7 -1.1 0.7 -1.1 0.6 -1.2 0.7 -1.3 0.6 -1.5 0.5M323.7 351.4l-1.8 0.4 -2.2 0.2 -2.3 -0.2 -1.9 -0.4 -1.6 -0.6 -1.6 -0.6 -1.4 -0.6 -1.4 -0.7 -1.4 -0.7 -1.3 -0.7 -1.2 -0.8 -1 -0.9 -1 -1.5 -0.1 -1.5 1.1 -2.3 1.7 -1.7 1.3 -0.9 1.1 -0.7 1.3 -0.7 1.3 -0.7 1.5 -0.5 1.6 -0.5 1.8 -0.4 2.2 -0.2 2.8 0.2 1.8 0.5 1.6 0.5 1.3 0.7 1.3 0.7 1.2 0.8 1.2 0.8 1.2 0.8 1.1 0.8 1.1 0.9 0.8 1 0.6 1.2 -0.4 1.3 -1.8 1.8 -1.1 0.8 -1.1 0.8 -1.2 0.7 -1.2 0.8 -1.1 0.8 -1.3 0.7 -1.5 0.6M287.8 331l-1.7 0.4 -2 0.3 -2.5 0 -2.3 -0.3 -1.7 -0.5 -1.5 -0.5 -1.4 -0.7 -1.2 -0.7 -1.1 -0.8 -1 -0.8 -1.1 -0.8 -1.9 -1.7 -1.2 -1.5 -0.1 -1.4 1.5 -1.9 1.1 -0.8 1.1 -0.8 1.1 -0.7 1.1 -0.8 1.1 -0.7 1.2 -0.8 1.3 -0.6 1.5 -0.5 1.8 -0.4 2 -0.2 1.5 0 2 0.1 1.8 0.4 1.3 0.5 1.5 0.7 1.3 0.6 1.2 0.7 1.2 0.7 1.2 0.7 1.1 0.8 1.1 0.8 1.6 1.9 0.1 1.3 -0.5 1.4 -1.7 1.8 -1 0.8 -1.2 0.7 -1.2 0.7 -1.3 0.7 -1.2 0.7 -1.4 0.6 -1.5 0.6M317.9 313.6l-1.8 0.4 -1.8 0.1 -2.2 -0.1 -1.8 -0.4 -1.5 -0.6 -1.3 -0.6 -1.3 -0.6 -1.3 -0.7 -1.2 -0.6 -1.3 -0.7 -1.2 -0.6 -1.2 -0.8 -1.5 -1.5 -0.6 -1.3 0 -1.4 0.6 -1.2 1.7 -1.7 2.2 -1.4 1.1 -0.7 1.2 -0.6 1.1 -0.7 1.3 -0.6 1.3 -0.5 1.6 -0.4 1.9 -0.3 2.3 0 2.6 0.2 1.7 0.3 1.5 0.5 1.4 0.6 1.2 0.7 1.1 0.7 1.2 0.7 1.1 0.7 1.1 0.7 1.1 0.8 1.6 1.8 0.2 2 -1.2 1.9 -1.9 1.6 -1.1 0.7 -1.1 0.7 -1.2 0.7 -1.3 0.6 -1.3 0.6 -1.4 0.5 -1.6 0.5M350.3 295.1l-1.6 0.4 -1.8 0.3 -2.2 0.1 -2.9 -0.3 -1.7 -0.5 -1.4 -0.5 -1.3 -0.6 -1.3 -0.6 -1.1 -0.7 -1.1 -0.7 -1.1 -0.8 -1.8 -1.3 -1 -1.1 -0.4 -2.1 1.2 -1.8 1.9 -1.4 2.2 -1.3 1.2 -0.6 1.2 -0.6 1.4 -0.5 1.4 -0.4 1.5 -0.4 1.9 -0.3 2.6 0.2 1.9 0.4 1.5 0.5 1.3 0.5 1.4 0.6 1.3 0.6 1.2 0.6 1.2 0.6 1.1 0.7 1.8 1.7 0.8 1.9 -0.8 2 -1.6 1.6 -2 1.4 -2.2 1.3 -1.3 0.6 -1.4 0.5M216.8 368.8l-1.8 0.5 -2 0.4 -2.3 0.1 -2.8 -0.4 -1.4 -0.6 -1.4 -0.8 -1.1 -0.8 -1 -1 -1.5 -2 -0.2 -1.4 0.5 -1.7 1 -1.1 1.2 -0.8 1.3 -0.8 1.3 -0.8 1.5 -0.7 1.6 -0.6 1.9 -0.4 1.8 0.1 2 0.3 1.6 0.5 1.6 0.6 1.6 0.6 1.4 0.6 1.3 0.7 1 0.9 0.7 2.2 -0.4 1.3 -0.7 1.2 -1.1 0.9 -1.2 0.9 -1.3 0.8 -1.5 0.7 -1.6 0.6M176.9 390.5l-2.4 0.2 -3 -0.3 -2.1 -0.6 -1.5 -0.6 -1.3 -0.8 -1.1 -0.9 -0.9 -1 -0.6 -1.1 -0.1 -1.5 0.8 -1.5 1.1 -1 1.4 -0.9 1.3 -0.6 1.8 -0.8 1.7 -0.6 2 -0.4 2.3 -0.2 2.9 0.2 1.9 0.6 1.5 0.6 1.4 0.7 1.3 0.8 1 0.9 0.6 1.1 -0.4 1.8 -0.9 1.1 -1.1 1 -1.2 1 -1.3 0.9 -1.4 0.8 -1.7 0.6 -2 0.5M250.3 348.5l-1.3 0.3 -2.3 -0.2 -1.6 -0.5 -1.4 -0.7 -1.2 -0.7 -1.3 -0.7 -1.2 -0.6 -1.3 -0.8 -1.2 -2.2 1.7 -2 1.3 -0.7 1.3 -0.8 1.2 -0.7 1.3 -0.7 1.5 -0.6 1.9 -0.4 2.3 0.2 1.6 0.5 1.4 0.6 1.4 0.7 1.3 0.6 1.4 0.7 1.2 0.8 1.2 1.4 -0.3 1.4 -0.9 0.9 -1.2 0.7 -1.4 0.7 -1.3 0.8 -1.3 0.7 -1.3 0.7 -1.5 0.6M182.6 350.5l-1.7 0.6 -2 0.3 -2.5 0 -2.2 -0.5 -1.4 -0.6 -1.3 -0.7 -1.1 -0.8 -1.2 -0.7 -1.2 -0.7 -1.4 -0.7 -1.3 -0.6 -1.2 -0.7 -1 -0.8 -0.9 -2.2 0.5 -1.3 0.8 -1 1 -1 1 -0.9 1.2 -0.8 1.2 -0.8 1.3 -0.8 1.3 -0.7 1.3 -0.8 1.5 -0.6 1.6 -0.6 1.8 -0.4 2.1 -0.2 1.9 -0.1 2.1 0.2 1.8 0.4 1.4 0.5 1.3 0.7 1.2 0.7 1.1 0.7 1.1 0.8 1.1 0.8 1.1 0.7 1.8 1.8 0.7 1.5 -0.1 1.5 -0.8 1.1 -1 0.9 -1.3 0.8 -1.3 0.7 -1.4 0.7 -1.4 0.7 -1.3 0.8 -1.3 0.7 -1.4 0.8 -1.5 0.6M144.1 370.4l-2 0.5 -1.9 0 -2 -0.3 -1.7 -0.5 -1.5 -0.6 -1.4 -0.7 -1.3 -0.7 -1.3 -0.7 -1.2 -0.7 -1.1 -0.8 -1.4 -1.5 -0.6 -1.6 0.1 -1.5 1.1 -1.6 1.1 -1 1.3 -0.8 1.4 -0.8 1.4 -0.7 1.5 -0.7 1.5 -0.8 1.5 -0.6 1.6 -0.6 1.8 -0.5 1.4 -0.2 2.4 0.1 1.7 0.4 1.5 0.6 1.2 0.7 1.2 0.7 1.2 0.8 1.2 0.7 1.3 0.7 1.2 0.7 1 0.9 1 2.3 -0.6 1.7 -1 1.1 -1.3 0.9 -1.4 0.8 -1.4 0.7 -1.5 0.7 -1.5 0.8 -1.4 0.8 -1.5 0.7 -1.6 0.6M253.7 310.2l-1.4 0.5 -1.7 0.5 -1.6 0.1 -2 -0.2 -1.6 -0.4 -1.4 -0.5 -1.4 -0.7 -1.2 -0.6 -1.3 -0.6 -1.2 -0.7 -1.2 -0.6 -1.3 -1.2 -0.7 -1.6 0.1 -1.3 0.6 -1.2 1.8 -1.5 1.5 -0.7 1.3 -0.6 1.4 -0.6 1.3 -0.6 1.3 -0.6 1.5 -0.5 1.6 -0.4 2 -0.2 2.5 0.3 1.4 0.5 1.2 0.7 2.2 1.4 1.1 0.7 1.2 0.6 1.1 0.7 1.9 1.6 0.1 1.9 -0.9 1.2 -1.9 1.3 -1.2 0.7 -1.3 0.7 -1.2 0.6 -1.3 0.7 -1.3 0.6M282.8 294.4l-2.1 0.2 -2.6 -0.2 -2.1 -0.5 -1.4 -0.5 -1.2 -0.6 -1.2 -0.7 -1.1 -0.6 -1.2 -0.7 -1.1 -0.6 -1.9 -1.5 -0.8 -2.1 0.7 -1.7 1.2 -1.1 2.2 -1.3 1.2 -0.7 1.2 -0.6 1.2 -0.6 1.3 -0.5 1.4 -0.5 1.7 -0.4 1.9 -0.2 2.1 0.2 1.7 0.3 1.5 0.5 1.3 0.5 1.2 0.6 1.1 0.6 2.2 1.4 2 1.4 1.4 1.8 0 1.7 -1.8 1.6 -1.1 0.7 -1.2 0.6 -1.2 0.7 -1.1 0.6 -1.2 0.7 -1.2 0.6 -1.4 0.5 -1.6 0.4M314 277.4l-1.3 0.3 -2.4 0.1 -1.8 -0.3 -1.5 -0.5 -1.2 -0.6 -1.2 -0.6 -1.1 -0.6 -1.2 -0.7 -1.2 -0.5 -1.3 -0.6 -1.1 -0.6 -1.8 -1.6 -0.2 -1.7 1.4 -1.6 2.1 -1.3 2.2 -1.3 2.2 -1.2 1.2 -0.5 1.3 -0.5 1.6 -0.4 2 -0.1 2 0.1 1.7 0.4 1.4 0.4 1.3 0.6 2.1 1.3 2.2 1.3 1.7 1.1 1.3 1 0.8 1.2 -0.8 2 -2 1.3 -2.3 1.2 -2.3 1.2 -1.1 0.6 -1.3 0.6 -1.4 0.5M219.9 327.4l-1.5 0.6 -1.5 0.5 -1.8 0.5 -2.3 0.1 -2.5 -0.6 -1.3 -0.7 -1.2 -0.7 -1 -0.7 -1.1 -0.8 -1.9 -1.6 -0.3 -2 1.9 -1.8 1.2 -0.7 1.2 -0.7 1.2 -0.8 1.1 -0.8 1.3 -0.6 1.6 -0.5 2.1 -0.2 2.7 0.5 1.5 0.5 1.2 0.7 1.2 0.7 1.2 0.6 1.2 0.7 1.1 0.7 1.3 2 -0.5 1.5 -2.1 1.6 -1.3 0.7 -1.3 0.7 -1.4 0.6M109.4 349.1l-2.2 0.2 -2.8 -0.2 -2 -0.5 -1.5 -0.5 -1.3 -0.6 -1.3 -0.7 -1.2 -0.7 -1.2 -0.7 -1.1 -0.7 -1.6 -1.4 -0.8 -1.2 -0.2 -2.5 0.7 -1.5 1 -1 1.1 -0.9 1.3 -0.8 1.3 -0.8 1.4 -0.7 1.4 -0.7 1.4 -0.7 1.6 -0.6 1.6 -0.6 1.7 -0.4 2.2 -0.3 2.5 0.1 2.3 0.4 1.5 0.5 1.3 0.6 1.2 0.7 1.2 0.6 1.2 0.7 1.2 0.7 1.1 0.7 1.8 1.7 0.4 1.9 -0.5 1.3 -0.7 1.2 -1 1 -1.2 0.9 -1.2 0.8 -1.4 0.7 -1.4 0.8 -1.4 0.7 -1.5 0.7 -1.5 0.7 -1.7 0.6 -1.7 0.5M149.7 328.2l-1.5 0.5 -2.3 0.3 -2.3 0.1 -2.8 -0.2 -2.1 -0.5 -1.4 -0.5 -1.2 -0.7 -2 -1.5 -1.8 -1.6 -1.3 -1.5 -0.6 -1.3 0.1 -1.3 1.1 -1.6 1.1 -0.9 1.2 -0.7 1.3 -0.7 1.3 -0.7 1.3 -0.7 1.4 -0.6 1.5 -0.6 1.6 -0.5 1.9 -0.4 2.2 -0.1 2.9 0.3 1.7 0.4 1.5 0.5 1.3 0.6 1.2 0.6 1.1 0.7 2.1 1.4 1.5 1.8 0.4 2.2 -1.4 2.1 -1.1 0.9 -1.2 0.7 -1.2 0.8 -1.3 0.7 -1.3 0.8 -1.4 0.6 -1.5 0.6M283.5 257.9l-1.4 0.5 -1.5 0.4 -1.6 0.3 -1.9 0.1 -2.5 -0.1 -1.8 -0.3 -1.4 -0.5 -2.1 -1.2 -1.9 -1.4 -1.7 -1.5 -1.2 -1.5 0.7 -2 1.9 -1.3 2.2 -1.2 2.3 -1.1 1.3 -0.5 1.5 -0.4 1.9 -0.1 2.6 0.2 1.7 0.3 1.4 0.4 1.3 0.5 1.3 0.5 2.2 1.2 1.8 1.3 0.9 1.2 -0.2 2 -1.7 1.7 -1.6 1.2 -1.3 0.7 -1.2 0.6M182.7 309.6l-2 0.3 -1.4 0 -2 -0.3 -1.5 -0.5 -1.3 -0.5 -1.2 -0.6 -1.1 -0.7 -1.2 -0.7 -1.1 -0.6 -2 -1.4 -1.2 -1.8 0.2 -1.3 1.9 -1.7 1.2 -0.7 1.3 -0.6 1.3 -0.6 1.3 -0.7 1.2 -0.7 1.3 -0.6 1.4 -0.6 1.7 -0.4 2.2 -0.1 2.2 0.3 1.6 0.4 1.3 0.5 1.2 0.6 2.2 1.3 2.1 1.4 1.1 1 0.9 1.7 -0.5 1.3 -1.8 1.8 -1.1 0.8 -1.1 0.7 -1.2 0.7 -1.3 0.7 -1.4 0.6 -1.5 0.6 -1.7 0.4M218.2 291.3l-1.7 0.4 -2.4 0 -1.8 -0.3 -1.6 -0.4 -1.4 -0.5 -1.2 -0.6 -1.2 -0.6 -2.1 -1.3 -1.3 -1 -1.1 -1.4 -0.2 -2.1 1.7 -1.7 1.1 -0.6 1.2 -0.7 1.2 -0.6 1.2 -0.6 1.3 -0.6 1.3 -0.6 1.5 -0.4 1.8 -0.3 1.6 0 1.8 0.2 1.5 0.4 1.4 0.5 1.3 0.6 1.3 0.5 1.2 0.6 1.2 0.6 1.8 1.3 0.8 1.8 -0.6 1.9 -0.9 1.1 -2 1.5 -1.2 0.7 -1.2 0.6 -1.3 0.6 -1.5 0.6 -1.5 0.4M247.8 275.3l-2.2 0.1 -2 -0.3 -1.5 -0.4 -1.3 -0.5 -1.2 -0.6 -2.2 -1.3 -2.1 -1.2 -1.5 -1.6 0.1 -1.8 1.4 -1.7 1.9 -1.4 2.1 -1.3 1.3 -0.6 1.4 -0.4 1.6 -0.4 2 -0.2 2.3 0.1 2.5 0.3 1.5 0.4 1.2 0.6 2.2 1.2 2.1 1.3 1.5 1.6 0.2 1.8 -1.5 1.7 -2 1.3 -2.2 1.3 -1.2 0.7 -1.2 0.5 -1.5 0.5 -1.7 0.3" stroke="#40a8ff" fill="none" stroke-width="1.0"/>
<path d="M285.9 472.8l-2.2 -0.5 -1.3 -0.4 -2.5 -0.9 -1.7 -0.9 -1.5 -0.9 -1.4 -1 -1.4 -1 -1.4 -1 -1.4 -1 -1.3 -1 -1.2 -1.1 -0.9 -1 -1 -1.6 -0.4 -1.3 0 -1.9 0.5 -1.6 0.8 -1.3 1 -1.3 1.2 -1.1 1.3 -1 1.3 -1 1.5 -0.9 1.5 -0.9 1.5 -0.9 1.5 -0.8 1.7 -0.8 1.6 -0.7 2 -0.6 2.1 -0.5 2.6 -0.1 3.1 0.4 1.9 0.6 1.7 0.7 1.6 0.8 1.5 0.9 1.5 0.9 1.5 0.9 1.5 0.9 1.4 1 1.4 0.9 1.2 1.1 1.1 1.2 0.9 1.3 0.7 1.5M323.4 447.4l-1.5 -0.2 -2.8 -0.7 -1.9 -0.7 -1.7 -0.7 -1.5 -0.9 -1.5 -0.9 -1.4 -0.9 -1.3 -1 -1.2 -1.1 -1.2 -1 -1.2 -1.1 -1.1 -1.2 -0.9 -1.1 -0.8 -1.4 -0.5 -1.5 0.1 -1.4 0.6 -1.4 0.9 -1.2 1.1 -1 1.2 -1 1.3 -0.9 1.3 -1 1.3 -0.9 1.4 -0.8 1.3 -0.9 1.5 -0.8 1.5 -0.8 1.6 -0.7 1.8 -0.6 2.1 -0.4 2.3 -0.3 2.7 0.1 2.1 0.5 1.8 0.6 1.7 0.7 1.6 0.7 1.6 0.8 1.6 0.8 1.5 0.8 1.4 0.9 1.4 0.9 1.3 1 1.1 1 1.2 1.2 0.9 1.2 0.9 1.4M359.8 422.8l-2.3 -0.3 -1.9 -0.6 -1.7 -0.7 -1.6 -0.8 -1.4 -0.9 -1.5 -0.8 -1.4 -0.9 -1.4 -0.9 -1.4 -0.9 -1.3 -0.9 -1.3 -1 -1.1 -1.1 -0.9 -1.2 -0.7 -1.3 -0.3 -1.6 0.4 -1.9 0.7 -1.2 1 -1 1.1 -1 1.3 -0.9 1.2 -0.8 1.3 -0.9 1.2 -0.8 1.3 -0.9 1.3 -0.8 1.5 -0.7 1.5 -0.7 1.7 -0.5 2 -0.5 1.9 -0.1 2.6 0 2.2 0.4 1.8 0.5 1.7 0.7 1.4 0.6 1.6 0.9 1.4 0.9 1.5 0.8 1.4 0.8 1.5 0.8 1.5 0.9 1.4 0.8 1.2 1.1 1 1.1 0.7 1.4M394.6 399.3l-2 -0.5 -1.9 -0.6 -1.7 -0.6 -1.7 -0.7 -1.6 -0.7 -1.5 -0.8 -1.5 -0.8 -1.4 -0.8 -1.4 -0.8 -1.3 -1 -1.1 -0.9 -1.2 -1.1 -0.9 -1.1 -0.7 -1.3 -0.4 -1.3 0.1 -1.5 0.4 -1.3 0.8 -1.1 0.9 -0.9 1.1 -0.9 1.2 -0.8 1.2 -0.8 1.3 -0.8 1.2 -0.7 1.3 -0.8 1.2 -0.8 1.3 -0.7 1.5 -0.7 1.6 -0.5 1.3 -0.4 2.9 -0.1 2.2 0.2 1.7 0.4 2 0.6 1.7 0.6 1.7 0.7 1.5 0.7 1.3 0.6 1.8 0.8 1.5 0.7 1.5 0.8 1.4 0.8 1.3 0.9 1.1 1.1 0.9 1.1 0.7 1.3M426.3 377.8l-1.9 -0.4 -2 -0.5 -1.7 -0.6 -1.7 -0.6 -1.5 -0.8 -1.5 -0.7 -1.4 -0.8 -1.4 -0.8 -1.4 -0.8 -1.3 -0.9 -1.3 -0.9 -1.1 -0.9 -1.1 -1 -0.7 -1.2 -0.3 -1.5 0.6 -2 1.5 -2 2 -1.7 1.1 -0.8 1.1 -0.8 1.2 -0.7 1.2 -0.7 1.3 -0.7 1.3 -0.7 1.6 -0.5 1.6 -0.5 2 -0.3 2.3 -0.2 3.2 0.4 1.8 0.6 1.6 0.6 1.5 0.7 1.5 0.6 1.6 0.7 1.5 0.7 1.5 0.7 1.5 0.7 1.5 0.8 1.2 0.8 1.2 1 0.9 1.1 0.8 1.2M457.9 356.5l-2.2 -0.3 -1.9 -0.5 -1.7 -0.5 -1.6 -0.6 -1.6 -0.7 -1.5 -0.7 -1.5 -0.7 -1.4 -0.7 -1.4 -0.8 -1.2 -0.9 -1.2 -0.9 -1 -1 -0.8 -1.1 -0.7 -1.2 -0.3 -1.5 0.8 -1.9 1.8 -1.7 1.1 -0.7 1.1 -0.7 1.1 -0.8 1.1 -0.7 1.1 -0.7 1.2 -0.7 1.3 -0.6 1.6 -0.5 1.8 -0.3 2.4 -0.1 2.5 0.3 2 0.3 1.7 0.5 1.7 0.6 1.5 0.6 1.5 0.7 1.4 0.7 1.5 0.7 1.4 0.7 1.3 0.8 1.3 0.9 1.1 0.9 0.9 1.1 0.7 1.2M259.3 443.2l-1.6 0.8 -1.7 0.8 -1.9 0.6 -2 0.5 -2.3 0.4 -1.3 0.1 -2.8 0 -1.7 -0.2 -2.6 -0.7 -1.7 -0.7 -1.6 -0.7 -1.6 -0.9 -1.4 -0.9 -1.3 -0.9 -1.3 -0.9 -1.3 -1 -1.2 -1 -1.1 -1.1 -1.1 -1.1 -0.9 -1.2 -0.7 -1.3 -0.3 -1.5 0.4 -1.7 0.7 -1.4 1 -1.2 1 -1.1 1.3 -1.1 1.3 -0.9 1.4 -0.9 1.5 -0.9 1.4 -0.8 1.5 -0.9 1.5 -0.8 1.6 -0.8 1.6 -0.7 1.7 -0.7 2 -0.5 2.4 -0.2 3.2 0.3 2.1 0.6 1.8 0.6 1.6 0.7 1.6 0.7 1.5 0.8 1.4 0.8 1.4 0.9 1.3 0.9 1.3 0.9 1.2 1 1.2 1 1.1 1.1 0.9 1.2 0.6 1.4 0.3 1.6 -0.4 1.7 -0.8 1.3 -1 1.1 -1.1 1.1 -1.3 1 -1.3 1 -1.3 1 -1.3 1 -1.4 0.9 -1.5 0.9M296.8 419l-1.5 0.7 -1.7 0.7 -1.7 0.7 -1.9 0.5 -2.2 0.4 -1.4 0.1 -2.6 -0.1 -1.8 -0.2 -2.4 -0.6 -1.8 -0.6 -1.6 -0.8 -1.5 -0.8 -1.4 -0.8 -1.3 -0.9 -1.3 -0.9 -1.3 -0.9 -1.2 -1 -1.2 -0.9 -1.1 -1 -1 -1.1 -0.8 -1.3 -0.4 -1.4 0.2 -1.8 0.8 -1.4 1 -1 1.1 -1 1.2 -1 1.3 -0.9 1.3 -0.9 1.3 -0.8 1.3 -0.9 1.4 -0.8 1.4 -0.8 1.6 -0.7 1.5 -0.7 1.8 -0.5 1.8 -0.5 2.3 -0.3 1.3 0 1.6 0.2 2.5 0.6 1.6 0.6 1.6 0.7 1.5 0.8 1.4 0.7 1.5 0.8 1.4 0.8 1.4 0.8 1.4 0.8 1.3 0.9 1.2 0.9 1.1 1.1 1 1.1 0.5 1.3 0.1 1.7 -0.4 1.4 -0.6 1.3 -0.8 1.2 -0.9 1.2 -1.1 1 -1.1 1 -1.3 0.8 -1.4 0.9 -1.5 0.8 -1.5 0.8M366.6 374.3l-1.3 0.6 -1.8 0.7 -1.9 0.4 -2 0.3 -2 0.2 -2.6 0 -2.2 -0.3 -1.9 -0.4 -1.7 -0.6 -1.5 -0.7 -1.4 -0.8 -1.2 -0.8 -1.3 -0.9 -1.2 -0.9 -1.3 -0.8 -1.3 -0.8 -1.3 -0.8 -1.2 -0.9 -1.1 -0.9 -0.8 -1.1 -0.5 -1.4 0.3 -1.7 0.7 -1.3 1.6 -1.7 1.3 -1 1.1 -0.8 1.3 -0.8 1.2 -0.8 1.2 -0.7 1.2 -0.8 1.2 -0.7 1.3 -0.7 1.5 -0.6 1.6 -0.5 1.9 -0.4 2.4 -0.1 2.8 0.2 1.9 0.4 1.7 0.5 1.6 0.7 1.4 0.6 1.4 0.8 1.4 0.7 1.3 0.8 1.4 0.7 1.4 0.8 1.3 0.8 1.2 0.8 1 1 0.9 1.1 0.7 1.2 0.3 1.4 -0.3 1.9 -0.9 1.4 -0.9 0.9 -1 0.9 -1.1 0.9 -1.1 0.8 -1.1 0.9 -1.1 0.8 -1.2 0.8 -1.3 0.7M330 396.1l-1.2 0.6 -2.1 0.7 -2 0.4 -2.5 0.1 -3 -0.2 -2 -0.4 -1.9 -0.6 -1.4 -0.5 -1.7 -0.9 -1.4 -0.8 -1.3 -0.9 -1.3 -0.8 -1.3 -0.9 -1.3 -0.9 -1.1 -0.9 -1 -1.1 -0.8 -1.1 -0.5 -1.3 -0.1 -1.6 0.8 -1.9 0.9 -1 1.1 -0.9 1.3 -0.9 1.3 -0.8 1.2 -0.8 1.3 -0.8 1.2 -0.8 1.2 -0.8 1.4 -0.8 1.5 -0.6 1.8 -0.5 2.1 -0.3 2.7 0 2.3 0.4 1.6 0.4 1.9 0.7 1.5 0.7 1.4 0.7 1.4 0.8 1.4 0.8 1.4 0.7 1.3 0.8 1.3 0.9 1.2 0.9 1.1 1 0.8 1.2 0.4 1.4 0 1.3 -0.4 1.3 -0.8 1.2 -0.9 1 -1.1 0.9 -1.2 0.9 -1.3 0.8 -1.3 0.8 -1.3 0.8 -1.3 0.9 -1.3 0.7M392.6 355.8l-1.9 0.3 -1.5 0.1 -2.4 -0.1 -1.6 -0.2 -2.3 -0.5 -1.7 -0.6 -1.6 -0.6 -1.4 -0.7 -1.4 -0.7 -1.4 -0.7 -1.3 -0.8 -1.2 -0.8 -1.2 -0.9 -1.1 -0.9 -1.1 -0.9 -1 -0.9 -0.8 -1.1 -0.6 -1.2 0.1 -1.4 1.3 -2 2 -1.7 1 -0.7 1.1 -0.8 1 -0.8 1.2 -0.7 1.1 -0.8 1.3 -0.6 1.4 -0.6 1.4 -0.6 1.7 -0.4 1.8 -0.4 2.2 -0.1 2.1 0.3 1.4 0.2 2.3 0.6 1.6 0.5 1.6 0.6 1.5 0.6 1.4 0.7 1.3 0.7 1.3 0.8 1.3 0.8 1.1 0.8 1.2 0.9 1 0.9 1 1 0.7 1.1 0.3 1.5 -0.5 1.7 -1.4 2 -1.8 1.7 -1.1 0.8 -1.1 0.8 -1.2 0.7 -1.2 0.7 -1.3 0.7 -1.4 0.6 -1.5 0.6 -1.7 0.5M423.8 336l-1.9 0.3 -1.8 0.2 -2.5 -0.1 -2.1 -0.2 -1.9 -0.4 -1.7 -0.5 -1.5 -0.6 -1.3 -0.8 -1.3 -0.7 -1.2 -0.8 -1.3 -0.8 -1.3 -0.7 -1.4 -0.7 -1.3 -0.7 -1.2 -0.8 -1.1 -0.9 -0.8 -1 -0.5 -1.2 0.1 -1.6 0.7 -1.2 1.7 -1.7 1.8 -1.3 1.4 -0.8 2.2 -1.5 2.2 -1.3 1.3 -0.6 1.4 -0.5 1.6 -0.4 1.9 -0.3 1.8 -0.1 2.2 0.2 1.7 0.3 1.8 0.5 1.5 0.6 1.4 0.7 1.4 0.6 1.3 0.7 1.4 0.6 1.5 0.7 1.4 0.6 1.3 0.7 1.3 0.8 1.1 0.8 0.9 1 0.5 1.3 0.2 1.4 -0.2 1.4 -1.1 2 -1.8 1.6 -2.1 1.5 -1.1 0.7 -1.1 0.7 -1.2 0.7 -1.2 0.6 -1.5 0.6 -1.6 0.4M257.6 396l-1.5 0.8 -1.6 0.7 -1.8 0.6 -1.9 0.4 -2.3 0.3 -2.9 -0.2 -2.2 -0.5 -1.7 -0.6 -1.5 -0.7 -1.5 -0.7 -1.4 -0.8 -1.4 -0.8 -1.3 -0.7 -1.3 -0.8 -1.3 -0.9 -1.3 -0.8 -1.1 -0.9 -1 -1 -0.8 -1.1 -0.5 -1.3 -0.2 -1.4 0.2 -1.7 0.7 -1.5 0.9 -1.1 1.1 -1 1.1 -0.9 1.3 -0.9 1.2 -0.8 1.3 -0.8 1.3 -0.9 1.4 -0.7 1.4 -0.8 1.5 -0.7 1.6 -0.6 1.3 -0.3 2.5 -0.6 1.3 -0.1 2.7 -0.1 2.2 0.3 1.9 0.4 1.7 0.5 1.6 0.6 1.4 0.7 1.4 0.8 1.2 0.8 1.3 0.8 1.2 0.9 1.2 0.8 1.2 0.9 1.1 0.9 1 0.9 0.9 1.1 0.7 1.2 0.3 1.4 -0.4 1.8 -0.8 1.3 -0.9 1.1 -1.2 0.9 -1.2 0.9 -1.3 0.9 -1.4 0.8 -1.3 0.8 -1.4 0.8 -1.3 0.8 -1.4 0.8M215.9 420l-1.9 0.5 -2.2 0.4 -2.7 0 -2.9 -0.3 -1.9 -0.5 -1.6 -0.7 -1.5 -0.7 -1.4 -0.8 -1.4 -0.9 -1.3 -0.8 -1.3 -0.9 -1.2 -0.9 -1.2 -0.9 -1.2 -0.9 -1 -1.1 -0.8 -1.1 -0.5 -1.3 -0.2 -1.4 0.3 -1.4 0.7 -1.3 1 -1.1 1.2 -1.1 1.2 -0.9 1.4 -0.9 1.4 -0.9 1.4 -0.8 1.4 -0.8 1.4 -0.9 1.5 -0.8 1.5 -0.7 1.7 -0.7 1.8 -0.5 1.6 -0.3 2.9 -0.3 2.5 0.2 2 0.4 1.7 0.6 1.5 0.7 1.4 0.8 1.3 0.8 1.3 0.8 1.3 0.8 1.3 0.8 1.4 0.9 1.2 0.8 1.1 1 1 1 0.9 1.1 0.5 1.4 0.1 1.5 -1.1 2.3 -1.1 1.3 -1.2 1 -1.2 1 -1.4 0.9 -1.4 0.8 -1.4 0.9 -1.5 0.8 -1.5 0.9 -1.5 0.8 -1.6 0.7 -1.8 0.7M289.7 375.2l-1.8 0.5 -2.1 0.3 -2.6 0 -2.7 -0.3 -1.9 -0.5 -1.7 -0.5 -1.5 -0.7 -1.4 -0.7 -1.3 -0.8 -1.2 -0.8 -1.2 -0.9 -1.2 -0.8 -1.3 -0.8 -1.2 -0.8 -1 -0.9 -1 -1 -0.6 -1.2 -0.2 -1.4 0.6 -1.8 0.9 -1.5 1 -1 1 -0.9 1.1 -0.9 1.2 -0.8 1.3 -0.7 1.3 -0.8 1.3 -0.7 1.4 -0.7 1.5 -0.6 1.6 -0.6 1.7 -0.5 1.8 -0.4 2 -0.3 2.6 0 2.5 0.6 1.6 0.6 1.4 0.6 1.3 0.7 1.4 0.8 1.4 0.6 1.4 0.7 1.4 0.7 1.4 0.7 1.2 0.8 1.1 0.9 0.9 1 0.7 1.2 0.4 1.3 0.2 1.4 -0.5 1.9 -1 1.4 -1.1 0.9 -1.1 0.9 -1.2 0.8 -1.3 0.8 -1.3 0.7 -1.3 0.8 -1.4 0.7 -1.4 0.7 -1.5 0.7 -1.6 0.6M356.4 334.6l-1.7 0.4 -1.8 0.4 -2.3 0.1 -3.1 -0.3 -1.8 -0.5 -1.6 -0.6 -1.4 -0.6 -1.4 -0.6 -1.4 -0.7 -1.3 -0.7 -1.4 -0.7 -1.3 -0.7 -1.2 -0.7 -1.2 -0.8 -1 -0.9 -1.1 -1.4 -0.6 -1.7 0 -1.3 1.1 -2.1 1.9 -1.6 1.1 -0.7 1.2 -0.7 1.2 -0.7 1.2 -0.6 1.3 -0.7 1.2 -0.6 1.4 -0.6 1.3 -0.5 1.6 -0.5 1.7 -0.4 2.2 -0.1 2.1 0.2 1.8 0.4 1.6 0.5 1.5 0.5 1.4 0.6 1.4 0.7 1.3 0.6 1.3 0.7 1.4 0.7 1.3 0.7 1.2 0.7 1.1 0.8 1 0.8 0.9 1.1 0.6 1.6 -0.4 2.4 -1.5 1.9 -2 1.5 -1.2 0.8 -1.1 0.7 -1.2 0.7 -1.2 0.7 -1.3 0.6 -1.4 0.6 -1.4 0.6M386.3 316.4l-1.6 0.4 -2 0.2 -2.7 -0.1 -1.8 -0.4 -1.6 -0.4 -1.6 -0.6 -1.5 -0.6 -1.3 -0.6 -1.4 -0.6 -1.3 -0.7 -1.3 -0.7 -1.3 -0.6 -1.2 -0.7 -1.2 -0.8 -1.1 -0.8 -1.5 -1.9 -0.3 -1.5 0.5 -2.2 1.1 -1.3 1.4 -1.2 2.2 -1.3 1.1 -0.7 1.2 -0.6 1.1 -0.7 1.3 -0.5 1.3 -0.6 1.5 -0.4 1.6 -0.4 1.9 -0.3 1.6 -0.1 2.1 0.2 1.7 0.2 1.8 0.5 1.4 0.6 1.4 0.5 1.4 0.7 1.3 0.6 1.3 0.6 1.3 0.7 1.3 0.7 1.1 0.7 1.1 0.8 1.2 1.1 1.3 1.7 0.4 1.7 -0.8 2 -1.8 1.6 -2.2 1.3 -1.1 0.7 -1.2 0.7 -1.1 0.6 -1.1 0.7 -1.2 0.7 -1.3 0.6 -1.4 0.5M323.8 352.9l-1.9 0.4 -2.1 0.1 -2.3 -0.1 -1.9 -0.4 -1.7 -0.5 -1.6 -0.6 -1.5 -0.6 -1.2 -0.6 -1.6 -0.8 -1.4 -0.7 -1.3 -0.7 -1.2 -0.8 -1.1 -0.8 -1 -1 -0.8 -1.5 -0.1 -1.5 0.9 -2.3 0.8 -1.1 2 -1.6 1.2 -0.8 1.2 -0.7 1.3 -0.6 1.3 -0.7 1.5 -0.6 1.5 -0.5 1.6 -0.5 1.6 -0.3 2.5 -0.2 2.6 0.2 1.8 0.4 1.6 0.5 1.4 0.6 1.4 0.7 1.3 0.7 1.3 0.7 1.3 0.7 1.2 0.8 1.2 0.8 1.1 0.8 1 0.9 0.8 1.1 0.4 1.2 -0.2 1.5 -1.7 1.9 -1 0.8 -1.2 0.7 -1.2 0.8 -1.2 0.8 -1.2 0.7 -1.2 0.8 -1.2 0.7 -1.4 0.7 -1.6 0.5M287.7 332.3l-1.8 0.4 -1.9 0.2 -2.4 0 -2 -0.3 -1.8 -0.3 -1.6 -0.5 -1.5 -0.6 -1.3 -0.7 -1.2 -0.7 -1.2 -0.8 -1 -0.8 -1.1 -0.8 -1 -0.8 -1 -0.8 -1.8 -1.8 -0.5 -2 1.5 -2 1.1 -0.8 1.1 -0.7 1.1 -0.8 1.1 -0.7 1.1 -0.8 1.1 -0.7 1.2 -0.7 1.3 -0.7 1.4 -0.6 1.6 -0.4 1.9 -0.3 2.1 -0.2 2.5 0.1 2.4 0.3 1.5 0.5 1.5 0.5 1.3 0.7 1.3 0.6 1.2 0.7 1.2 0.8 1.1 0.7 1.2 0.7 1.1 0.8 1.7 1.8 0.7 2.3 -1 2.1 -1.8 1.8 -1.1 0.8 -1.2 0.7 -1.2 0.7 -1.3 0.7 -1.3 0.6 -1.4 0.7 -1.4 0.6 -1.5 0.5M317.8 314.9l-1.9 0.3 -2.2 0.1 -3.2 -0.4 -1.5 -0.5 -1.4 -0.6 -1.3 -0.7 -1.3 -0.6 -1.3 -0.7 -1.2 -0.6 -1.3 -0.7 -1.3 -0.6 -1.1 -0.7 -1.9 -1.7 -1 -2 0.1 -1.6 1 -1.7 1.9 -1.6 2.2 -1.4 1.1 -0.7 1.2 -0.6 1.1 -0.7 1.3 -0.6 1.3 -0.6 1.4 -0.4 1.8 -0.4 1.5 -0.1 2.5 -0.1 2.1 0.2 1.9 0.2 1.6 0.4 1.5 0.6 1.2 0.6 1.2 0.7 1 0.7 1.2 0.8 1.1 0.7 1.1 0.7 1.2 0.7 1 0.8 1.6 1.8 0.2 1.7 -1.1 2.1 -1.8 1.6 -1.1 0.7 -1.2 0.7 -1.1 0.6 -1.2 0.7 -1.2 0.7 -1.2 0.6 -1.4 0.6 -1.5 0.5 -1.6 0.5M350.2 296.3l-1.7 0.3 -1.9 0.3 -2.3 0 -2.1 -0.2 -1.8 -0.4 -1.5 -0.4 -1.5 -0.6 -1.3 -0.6 -1.2 -0.6 -1.2 -0.7 -1.1 -0.7 -1.1 -0.7 -2.1 -1.5 -1.7 -1.7 -0.3 -2 1.1 -1.8 1.8 -1.6 2.1 -1.3 2.3 -1.2 1.2 -0.6 1.3 -0.5 1.4 -0.5 1.5 -0.4 1.6 -0.4 1.9 -0.2 2.5 0.1 1.7 0.4 1.5 0.4 1.4 0.6 1.4 0.5 1.3 0.6 1.2 0.6 1.3 0.6 1.2 0.7 1.1 0.7 2 1.5 0.9 1.1 0.5 1.4 -0.6 2.1 -1.5 1.7 -1.9 1.5 -2.1 1.3 -1.2 0.6 -1.2 0.6 -1.4 0.5 -1.5 0.5M219.3 370.3l-1.7 0.6 -1.8 0.5 -1.6 0.3 -2.8 0.3 -2.6 -0.2 -1.8 -0.4 -1.6 -0.6 -1.4 -0.7 -1.2 -0.8 -1.2 -0.8 -1.2 -0.8 -1.1 -0.8 -0.9 -1 -0.9 -1.1 -0.5 -2 0.3 -1.4 0.7 -1.2 1.1 -0.9 1.3 -0.8 1.4 -0.7 1.4 -0.7 1.4 -0.8 1.4 -0.7 1.4 -0.7 1.5 -0.7 1.7 -0.5 2.1 -0.2 2.1 0.3 1.7 0.4 1.6 0.6 1.4 0.6 1.5 0.6 1.4 0.7 1.4 0.7 1.3 0.7 1.1 0.8 1 0.9 0.8 1.5 0 1.6 -0.5 1.3 -0.8 1.1 -1 1 -1.1 0.9 -1.2 0.9 -1.3 0.8 -1.3 0.7 -1.5 0.7M177.8 392.8l-2.3 0.3 -2.7 -0.1 -2.9 -0.4 -1.8 -0.5 -1.5 -0.7 -1.4 -0.7 -1.3 -0.8 -1.1 -0.8 -1.1 -0.9 -0.9 -1 -0.6 -1.2 -0.3 -1.3 0.3 -1.6 0.9 -1.4 1.1 -1 1.2 -0.9 1.3 -0.9 1.3 -0.8 1.4 -0.9 1.4 -0.8 1.5 -0.7 1.7 -0.6 2.1 -0.3 2.4 -0.2 3.1 0.4 1.8 0.5 1.4 0.7 1.2 0.8 1.3 0.8 1.2 0.8 1.2 0.8 1.2 0.8 1 0.9 0.8 1.1 0.1 1.4 -0.7 1.6 -1 1.1 -1 1 -1.2 1 -1.2 0.9 -1.4 0.9 -1.4 0.8 -1.5 0.8 -1.7 0.6 -1.9 0.5M251.5 350.8l-1.6 0.3 -2.7 0.1 -1.9 -0.3 -1.6 -0.6 -1.5 -0.6 -1.3 -0.6 -1.3 -0.7 -1.3 -0.7 -1.3 -0.8 -1.2 -0.7 -1 -0.9 -1.3 -2.1 0.1 -1.4 0.8 -1.3 0.9 -1 1 -0.8 1.2 -0.8 1.3 -0.7 1.3 -0.7 1.3 -0.7 1.4 -0.7 1.5 -0.6 1.8 -0.4 1.4 -0.2 2.3 0.1 1.6 0.3 1.8 0.6 1.4 0.6 1.3 0.7 1.3 0.7 1.2 0.7 1.3 0.7 1.1 0.8 1.1 0.8 1 1.1 0.4 1.8 -1.5 2.1 -1.2 0.8 -1.2 0.7 -1.3 0.7 -1.3 0.8 -1.2 0.8 -1.2 0.7 -1.4 0.7 -1.5 0.7M182.4 352l-1.8 0.5 -2 0.3 -2.6 0 -1.9 -0.4 -1.6 -0.6 -1.3 -0.6 -1.2 -0.8 -1.2 -0.7 -1.2 -0.8 -1.2 -0.7 -1.3 -0.6 -1.3 -0.7 -1.2 -0.7 -1.1 -0.8 -1.4 -1.9 0.1 -1.4 0.9 -1.8 0.9 -1.2 1 -0.9 1.1 -0.9 1.2 -0.8 1.2 -0.8 1.3 -0.7 1.3 -0.8 1.4 -0.7 1.4 -0.6 1.6 -0.6 1.6 -0.5 1.9 -0.4 2.2 -0.2 2.5 0 2.9 0.4 1.6 0.5 1.4 0.6 1.2 0.7 1.2 0.7 1.1 0.8 1.1 0.7 1.1 0.7 1.1 0.8 1.1 0.8 1.6 1.8 0.5 1.3 -0.1 1.5 -0.6 1.2 -0.9 1 -1.2 0.8 -1.3 0.8 -1.3 0.7 -1.4 0.7 -1.3 0.8 -1.4 0.7 -1.3 0.8 -1.3 0.7 -1.5 0.7 -1.6 0.6M287.3 294.3l-1.3 0.6 -1.5 0.5 -1.8 0.3 -2.1 0.1 -2.7 -0.1 -1.9 -0.4 -1.5 -0.5 -1.4 -0.6 -1.2 -0.6 -1.2 -0.7 -1.1 -0.6 -1.2 -0.6 -1.1 -0.7 -2.1 -1.4 -1.3 -1.6 -0.2 -1.4 0.4 -1.5 1.2 -1.5 2.2 -1.4 1.2 -0.6 1.2 -0.5 1.3 -0.6 1.2 -0.6 1.3 -0.6 1.3 -0.5 1.5 -0.5 1.6 -0.3 2 -0.2 2.1 0.1 1.8 0.3 1.5 0.5 1.3 0.5 1.3 0.5 1.2 0.6 1.2 0.7 1.1 0.6 1.2 0.7 2 1.4 1.6 1.6 0.8 1.6 -0.9 2.1 -2.1 1.4 -1.2 0.6 -1.2 0.6 -1.1 0.7 -1.1 0.7 -1.1 0.7 -1.2 0.6M144.1 372.2l-1.8 0.4 -2.7 0.1 -2 -0.4 -1.7 -0.5 -1.5 -0.6 -1.4 -0.6 -1.4 -0.7 -1.2 -0.7 -1.3 -0.7 -1.2 -0.8 -1.1 -0.8 -1 -0.8 -1.5 -1.9 -0.3 -1.3 0.1 -1.5 1.1 -1.8 1 -1 1.3 -0.9 1.3 -0.8 1.4 -0.8 1.4 -0.7 1.4 -0.8 1.4 -0.7 1.5 -0.7 1.5 -0.7 1.7 -0.5 1.9 -0.5 1.9 -0.2 2.3 0.1 1.9 0.4 1.5 0.6 1.3 0.6 1.2 0.7 1.3 0.8 1.2 0.7 1.2 0.7 1.2 0.7 1.2 0.8 1 0.8 1.4 2.1 0.2 1.3 -0.5 1.7 -0.9 1.2 -1.2 1 -1.2 0.8 -1.5 0.8 -1.4 0.7 -1.5 0.7 -1.5 0.8 -1.4 0.8 -1.4 0.7 -1.5 0.8 -1.7 0.6M223.4 328l-1.4 0.7 -1.4 0.6 -1.6 0.5 -1.6 0.5 -1.8 0.4 -2.1 0.3 -2.4 -0.3 -1.6 -0.4 -1.4 -0.6 -1.3 -0.7 -1.2 -0.7 -1.2 -0.6 -1.2 -0.7 -1.2 -0.8 -1.8 -1.6 -0.7 -2 1.2 -2.2 1 -0.9 1.1 -0.8 1.2 -0.8 1.2 -0.7 1.3 -0.7 1.3 -0.7 1.4 -0.6 1.5 -0.5 1.7 -0.4 2 -0.3 2.6 0.1 1.9 0.4 1.5 0.5 1.4 0.5 1.3 0.7 1.2 0.6 1.1 0.8 2.1 1.5 1.6 1.8 0.4 2 -1.4 2.1 -1 0.8 -1.1 0.8 -1.3 0.8 -1.3 0.6M252.4 312.2l-1.7 0.4 -2 0.2 -2 -0.2 -1.5 -0.4 -1.6 -0.6 -1.3 -0.6 -1.3 -0.6 -1.3 -0.6 -1.3 -0.6 -1.3 -0.6 -1.2 -0.6 -1.9 -1.6 -0.9 -2.1 0.1 -1.3 0.6 -1.4 1.7 -1.8 1.1 -0.7 1.2 -0.7 1.3 -0.6 1.4 -0.6 1.3 -0.5 1.4 -0.6 1.5 -0.5 1.6 -0.4 1.7 -0.4 2 -0.2 2.9 0.3 1.5 0.5 1.3 0.5 1.2 0.7 2.2 1.4 1.1 0.7 1.1 0.6 1.2 0.7 1.6 1.2 1.2 1.2 0 2.1 -1.5 1.8 -2.2 1.5 -1.2 0.7 -1.2 0.7 -1.3 0.6 -1.3 0.7 -1.3 0.6 -1.4 0.6 -1.5 0.5M314.1 278.6l-1.7 0.4 -2.1 0 -1.8 -0.3 -1.5 -0.4 -1.3 -0.6 -1.3 -0.5 -1.2 -0.6 -1.2 -0.6 -1.2 -0.6 -1.3 -0.6 -1.2 -0.6 -1.2 -0.6 -1.2 -0.9 -1.2 -1.5 -0.1 -1.6 1.1 -1.8 1.7 -1.5 2.1 -1.2 2.4 -1.2 1.2 -0.6 1.2 -0.5 1.4 -0.4 1.5 -0.5 1.7 -0.2 1.5 -0.1 2.1 0.1 1.8 0.2 1.5 0.4 1.4 0.5 1.3 0.5 1.2 0.6 2.1 1.3 2 1.4 2 1.4 1.6 1.7 0 1.5 -1.5 1.6 -2 1.3 -2.3 1.2 -2.3 1.2 -1.2 0.6 -1.2 0.6 -1.3 0.5 -1.5 0.4M110.8 350l-1.7 0.4 -2.4 0.3 -2.8 -0.2 -1.7 -0.4 -1.5 -0.6 -1.4 -0.6 -1.3 -0.6 -1.3 -0.7 -1.1 -0.7 -1.2 -0.7 -1.1 -0.7 -2 -1.6 -1.3 -1.9 0 -2.5 0.7 -1.2 0.8 -1.1 1.1 -0.9 1.2 -0.9 1.3 -0.8 1.4 -0.7 1.3 -0.8 1.4 -0.7 1.4 -0.7 1.4 -0.7 1.6 -0.6 1.7 -0.5 1.6 -0.4 2.4 -0.2 2.5 0 2.3 0.4 1.4 0.4 1.5 0.6 1.2 0.7 1.2 0.6 1.1 0.7 1.1 0.7 1.1 0.8 1.1 0.7 1.9 1.6 1 2.1 -0.3 1.4 -0.8 1.5 -0.9 1.1 -1 0.9 -1.2 0.9 -1.3 0.8 -1.4 0.7 -1.4 0.8 -1.4 0.7 -1.5 0.7 -1.5 0.7 -1.5 0.6 -1.7 0.6M149.5 329.7l-1.4 0.3 -2.5 0.3 -2.4 0.1 -2.8 -0.2 -1.9 -0.4 -1.5 -0.5 -1.3 -0.6 -1.2 -0.6 -2 -1.5 -1.9 -1.6 -1.7 -1.7 -1 -2 0.1 -1.3 1.1 -1.6 1 -0.9 1.2 -0.8 1.3 -0.7 1.3 -0.7 1.4 -0.7 1.3 -0.7 1.4 -0.6 1.4 -0.7 1.4 -0.6 1.6 -0.5 1.8 -0.3 1.4 -0.2 2.3 0.1 1.4 0.2 2.1 0.5 1.4 0.5 1.3 0.6 1.3 0.6 1.1 0.6 1.2 0.7 2.1 1.4 1.6 1.7 0.8 1.3 0.2 1.7 -0.5 1.2 -0.8 1 -1.1 0.8 -1.1 0.8 -1.3 0.8 -1.2 0.8 -1.3 0.7 -1.3 0.8 -1.3 0.7 -1.4 0.6 -1.6 0.6M187.4 309.5l-1.3 0.6 -1.7 0.5 -1.7 0.4 -2 0.3 -1.8 0 -1.9 -0.2 -1.6 -0.5 -1.4 -0.5 -1.4 -0.6 -1.2 -0.6 -1.2 -0.6 -1.1 -0.6 -1.2 -0.7 -1.9 -1.5 -1.4 -1.7 -0.2 -2.3 1.7 -1.8 1.1 -0.8 1.2 -0.7 1.3 -0.7 1.2 -0.6 1.3 -0.7 1.2 -0.7 1.3 -0.6 1.4 -0.6 1.6 -0.5 1.8 -0.3 2.2 -0.1 2.6 0.3 1.7 0.3 1.5 0.5 1.3 0.5 1.2 0.6 2 1.4 2 1.5 1.8 1.5 1 2 -0.5 1.4 -1.8 1.8 -1 0.8 -1.1 0.7 -1.2 0.8 -1.2 0.7 -1.2 0.7 -1.4 0.6M222.5 291.1l-1.3 0.6 -1.5 0.5 -1.6 0.4 -1.7 0.4 -2.3 0 -2 -0.3 -1.5 -0.3 -1.6 -0.5 -1.4 -0.5 -1.3 -0.6 -1.1 -0.6 -2.2 -1.3 -1.8 -1.5 -1.4 -1.7 -0.2 -2.3 1.7 -1.7 2.3 -1.4 1.1 -0.6 1.2 -0.6 1.2 -0.7 1.2 -0.6 1.2 -0.6 1.5 -0.5 1.5 -0.4 1.7 -0.3 2.3 0 1.8 0.3 1.6 0.3 1.4 0.5 1.4 0.5 1.2 0.5 1.2 0.6 1.2 0.6 2.1 1.3 1.7 1.5 0.7 1.8 -0.5 1.8 -0.9 1.3 -1.9 1.6 -1.2 0.7 -1.2 0.6 -1.3 0.6 -1.3 0.6M252.5 275.4l-1.4 0.5 -1.5 0.4 -1.8 0.3 -2.2 0 -2.2 -0.2 -1.6 -0.4 -1.4 -0.4 -1.2 -0.6 -2.3 -1.2 -2.2 -1.3 -2.1 -1.2 -1.2 -1.2 -0.5 -1.5 0.5 -1.4 1.3 -1.4 1.8 -1.4 1.2 -0.7 2.2 -1.2 1.2 -0.6 1.3 -0.5 1.4 -0.5 1.7 -0.3 1.9 -0.2 1.6 0 2 0.1 1.5 0.2 1.7 0.5 1.3 0.5 2.3 1.2 2.1 1.2 2 1.3 1.5 1.6 0.3 2.2 -1.4 1.7 -2.1 1.3 -2.1 1.2 -1.3 0.7 -1.1 0.7 -1.2 0.6M283.6 259.1l-1.4 0.5 -1.6 0.3 -1.6 0.3 -2.1 0.2 -2.5 -0.2 -1.6 -0.3 -1.5 -0.4 -1.3 -0.5 -1.2 -0.5 -1.4 -0.8 -1.7 -1.1 -1.7 -1.5 -1 -0.9 -1 -1.5 0.1 -1.3 1.5 -1.6 1.9 -1.2 1.2 -0.6 2.2 -1.1 2.4 -1.1 1.4 -0.4 1.5 -0.4 1.9 -0.2 2.4 0.2 2.3 0.3 1.6 0.4 1.3 0.4 1.3 0.5 2.2 1.2 1.9 1.3 1.8 1.4 0.9 1.2 -0.2 1.9 -0.8 1.1 -1.4 1.3 -1.2 0.8 -2.1 1.3 -1.2 0.5 -1.3 0.5" stroke="#20c8ff" fill="none" stroke-width="1.0"/>
<path d="M284.3 473.9l-2.1 -0.6 -1.3 -0.4 -2.4 -1 -1.7 -0.8 -1.5 -0.9 -1.5 -1 -1.3 -1.1 -1.4 -1 -1.3 -1 -1.3 -1.1 -1.3 -1 -1.1 -1.1 -1.1 -1.3 -0.7 -1.4 -0.3 -1.7 0.3 -2.1 0.8 -1.8 0.8 -1.1 1.3 -1.3 1.2 -1.1 1.4 -0.9 1.4 -1 1.5 -0.9 1.4 -0.9 1.5 -0.9 1.5 -0.9 1.5 -0.8 1.7 -0.8 1.8 -0.7 2 -0.5 1.4 -0.3 3.2 -0.2 2.4 0.3 1.7 0.4 2.1 0.8 1.7 0.7 1.5 0.9 1.5 0.9 1.4 0.9 1.4 1 1.5 0.9 1.5 0.9 1.4 0.9 1.4 1 1.1 1.2 1 1.2 0.8 1.4M321.9 448.4l-2.2 -0.4 -1.9 -0.6 -1.8 -0.7 -1.7 -0.8 -1.5 -0.9 -1.4 -0.9 -1.4 -1 -1.3 -1 -1.3 -1 -1.3 -1 -1.2 -1.1 -1.1 -1.1 -1.1 -1.1 -0.9 -1.3 -0.7 -1.3 -0.3 -1.6 0.5 -2.1 0.8 -1.3 1 -1 1.2 -1 1.3 -1 1.4 -0.9 1.3 -0.8 1.4 -0.9 1.3 -0.9 1.3 -0.9 1.4 -0.9 1.4 -0.8 1.6 -0.7 1.7 -0.7 1.3 -0.3 2.7 -0.6 2.5 -0.1 1.3 0 2 0.3 2.1 0.6 1.7 0.7 1.6 0.7 1.6 0.8 1.6 0.8 1.6 0.8 1.5 0.8 1.5 0.8 1.5 0.9 1.3 1 1.2 1 1 1.2 1 1.2 0.9 1.3M358.2 423.9l-1.8 -0.4 -2.1 -0.7 -1.7 -0.7 -1.5 -0.9 -1.5 -0.8 -1.4 -0.9 -1.4 -0.9 -1.4 -0.9 -1.3 -0.9 -1.4 -1 -1.2 -0.9 -1.2 -1.1 -1 -1.1 -0.8 -1.3 -0.6 -1.4 -0.2 -1.6 0.9 -2.3 0.8 -1.1 1.1 -1 1.1 -0.9 1.2 -0.9 1.3 -0.9 1.2 -0.8 1.3 -0.9 1.3 -0.8 1.3 -0.8 1.4 -0.8 1.5 -0.7 1.6 -0.6 1.9 -0.5 2 -0.3 2.5 -0.1 3 0.3 2 0.4 1.7 0.6 1.6 0.7 1.5 0.8 1.5 0.8 1.4 0.8 1.5 0.8 1.5 0.8 1.6 0.8 1.5 0.8 1.3 0.9 1.3 1 1 1.1 0.8 1.3M393.3 400.1l-2 -0.5 -1.8 -0.5 -1.7 -0.7 -1.2 -0.5 -2.1 -0.9 -1.4 -0.8 -1.5 -0.8 -1.3 -0.9 -1.4 -0.9 -1.3 -0.9 -1.2 -1 -1.2 -0.9 -1 -1.1 -0.9 -1.2 -0.6 -1.3 -0.3 -1.6 0.4 -1.7 0.6 -1.2 0.9 -1 1.1 -0.9 1.1 -0.8 1.2 -0.8 1.2 -0.8 1.3 -0.8 1.2 -0.8 1.2 -0.8 1.2 -0.8 1.3 -0.7 1.4 -0.7 1.5 -0.6 1.6 -0.5 2.1 -0.3 2.7 0 2.7 0.5 1.5 0.4 2.1 0.7 1.6 0.6 1.6 0.7 1.6 0.7 1.5 0.7 1.5 0.7 1.5 0.8 1.5 0.7 1.4 0.8 1.4 0.9 1.2 1 1 1.1 0.8 1.2M425 378.7l-1.7 -0.4 -2.1 -0.6 -1.7 -0.6 -1.6 -0.7 -1.5 -0.7 -1.4 -0.8 -1.5 -0.8 -1.3 -0.8 -1.4 -0.8 -1.4 -0.9 -1.3 -0.8 -1.2 -1 -1.1 -0.9 -0.9 -1.1 -0.7 -1.3 -0.1 -1.6 1 -2.3 1.7 -1.9 1 -0.8 1.1 -0.8 1.1 -0.8 1.2 -0.8 1.1 -0.7 1.2 -0.8 1.2 -0.7 1.3 -0.7 1.4 -0.6 1.6 -0.5 1.7 -0.5 1.9 -0.2 2.5 -0.1 2.3 0.2 1.5 0.4 2 0.7 1.5 0.7 1.5 0.7 1.5 0.7 1.6 0.7 1.5 0.6 1.6 0.7 1.5 0.7 1.4 0.8 1.3 0.8 1.2 1 1 1 0.8 1.2M456.3 357.5l-1.9 -0.4 -1.8 -0.5 -1.7 -0.6 -1.6 -0.7 -1.5 -0.7 -1.5 -0.7 -1.5 -0.7 -1.4 -0.7 -1.4 -0.8 -1.3 -0.8 -1.2 -0.9 -1.1 -1 -0.9 -1 -0.8 -1.2 -0.6 -1.2 -0.2 -1.5 0.6 -1.5 1.7 -1.7 1.1 -0.7 1.1 -0.8 1.1 -0.7 1.1 -0.7 2.1 -1.5 1.1 -0.7 1.2 -0.7 1.4 -0.5 1.6 -0.5 1.4 -0.2 2.6 -0.1 2.3 0.2 1.4 0.2 2.3 0.6 1.7 0.5 1.6 0.7 1.5 0.6 1.4 0.7 1.5 0.7 1.4 0.7 1.5 0.7 1.3 0.8 1.3 0.8 1.2 0.9 1 1 0.9 1.1M253.6 446.9l-2.2 0.5 -2 0.2 -3 0.1 -2.4 -0.2 -2.1 -0.5 -1.9 -0.6 -1.6 -0.8 -1.6 -0.8 -1.5 -0.8 -1.4 -0.9 -1.4 -0.9 -1.3 -0.9 -1.2 -1 -1.2 -1 -1.2 -1.1 -1 -1.1 -1 -1.1 -0.9 -1.2 -0.6 -1.4 -0.1 -1.6 0.8 -2.2 0.9 -1.3 1 -1.1 1.2 -1.1 1.2 -1 1.3 -1 1.5 -0.9 1.4 -0.8 1.5 -0.9 1.5 -0.8 1.5 -0.8 1.6 -0.8 1.5 -0.7 1.7 -0.7 1.8 -0.6 2.1 -0.5 2.1 -0.1 2.4 0.2 1.8 0.4 2 0.6 1.8 0.7 1.6 0.7 1.5 0.8 1.5 0.8 1.4 0.8 1.3 0.9 1.4 0.9 1.3 0.9 1.3 0.9 1.2 1 1.1 1 1 1.2 0.8 1.2 0.6 1.5 0 1.7 -0.8 2.2 -0.9 1.2 -1.1 1.1 -1.2 1 -1.3 1 -1.3 1 -1.4 0.9 -1.4 1 -1.4 0.9 -1.4 0.9 -1.5 0.9 -1.6 0.8 -1.8 0.7 -1.9 0.6M291.4 422.5l-2 0.5 -2 0.2 -2.8 0.1 -2.4 -0.3 -1.5 -0.3 -2.4 -0.7 -1.7 -0.6 -1.6 -0.8 -1.4 -0.8 -1.4 -0.9 -1.4 -0.9 -1.3 -0.9 -1.3 -0.9 -1.3 -0.9 -1.2 -0.9 -1.1 -1 -1 -1.1 -0.9 -1.2 -0.6 -1.2 -0.3 -1.6 0.6 -2 1.1 -1.5 1 -1 1.1 -1 1.2 -0.9 1.3 -0.9 1.3 -0.9 1.3 -0.9 1.4 -0.8 1.4 -0.8 1.4 -0.8 1.5 -0.7 1.6 -0.7 1.7 -0.6 1.7 -0.5 2 -0.5 2.1 -0.1 2.4 0.1 1.3 0.3 2.4 0.7 1.6 0.7 1.6 0.7 1.5 0.7 1.4 0.8 1.5 0.8 1.4 0.8 1.4 0.8 1.3 0.8 1.3 0.9 1.3 0.9 1.1 1 1 1.1 0.8 1.2 0.5 1.5 -0.2 1.8 -0.6 1.6 -0.7 1.3 -0.9 1.1 -1 1.1 -1.1 1 -1.3 0.9 -1.3 0.9 -1.4 0.9 -1.4 0.8 -1.5 0.8 -1.5 0.8 -1.6 0.7 -1.6 0.7 -1.8 0.6M329.9 397.7l-1.6 0.6 -1.9 0.5 -1.3 0.2 -2.9 0.2 -2.4 -0.2 -1.5 -0.2 -2.6 -0.6 -1.7 -0.6 -1.6 -0.7 -1.5 -0.8 -1.3 -0.8 -1.4 -0.9 -1.3 -0.8 -1.3 -0.8 -1.3 -0.9 -1.2 -0.9 -1.1 -1 -1 -1.1 -0.7 -1.2 -0.4 -1.4 -0.1 -1.6 0.6 -1.5 0.8 -1.1 1.1 -0.9 1.2 -0.9 1.4 -0.7 1.3 -0.8 1.3 -0.8 1.2 -0.8 1.2 -0.9 1.3 -0.8 1.3 -0.8 1.4 -0.7 1.4 -0.5 2.1 -0.4 1.5 -0.2 2.6 0 2.2 0.3 2 0.4 1.7 0.5 1.7 0.6 1.5 0.7 1.4 0.7 1.4 0.8 1.3 0.8 1.4 0.8 1.3 0.9 1.3 0.8 1.2 0.9 1.1 1 0.9 1.1 0.7 1.2 0.4 1.5 -0.3 1.9 -0.7 1.3 -0.8 1 -1 1 -1.1 0.9 -1.3 0.9 -1.2 0.8 -1.3 0.8 -1.3 0.8 -1.3 0.9 -1.3 0.8 -1.5 0.7M363 376.8l-2 0.3 -2.2 0.3 -2.4 0.1 -2.7 -0.2 -2.1 -0.3 -1.8 -0.5 -1.3 -0.6 -1.8 -0.8 -1.4 -0.7 -1.3 -0.9 -1.3 -0.8 -1.3 -0.8 -1.3 -0.9 -1.2 -0.8 -1.3 -0.8 -1.2 -0.9 -1.1 -0.9 -1 -1 -0.7 -1.2 -0.2 -1.5 0.5 -1.9 0.9 -1.3 0.9 -1 1 -0.9 1.1 -0.8 1.2 -0.8 1.2 -0.8 1.2 -0.7 1.2 -0.8 1.3 -0.7 1.2 -0.8 1.3 -0.7 1.4 -0.6 1.5 -0.6 1.8 -0.4 2.1 -0.2 1.3 -0.1 2.4 0.1 2 0.3 1.9 0.5 1.6 0.5 1.5 0.7 1.4 0.7 1.4 0.7 1.4 0.8 1.3 0.7 1.4 0.8 1.4 0.7 1.3 0.8 1.3 0.8 1.1 0.9 1 1.1 0.7 1.1 0.6 1.3 0.1 1.6 -0.2 1.3 -1.5 2.1 -0.9 0.9 -1.1 0.9 -1 0.8 -1.2 0.9 -1.1 0.8 -1.1 0.8 -1.2 0.8 -1.3 0.8 -1.4 0.7 -1.6 0.6 -1.7 0.5M394.1 356.6l-1.8 0.4 -2 0.3 -2.6 0 -2.3 -0.3 -1.9 -0.4 -1.8 -0.5 -1.6 -0.6 -1.5 -0.6 -1.5 -0.7 -1.4 -0.7 -1.3 -0.8 -1.3 -0.8 -1.2 -0.8 -1.3 -0.8 -1.1 -0.9 -1.1 -0.9 -1.1 -0.9 -0.9 -1 -0.8 -1.1 -0.4 -1.3 0.4 -1.8 1.7 -1.9 2 -1.6 1.1 -0.8 1 -0.8 1.1 -0.7 1.1 -0.8 1.2 -0.7 1.3 -0.6 1.3 -0.6 1.4 -0.6 1.6 -0.5 1.2 -0.3 2.5 -0.4 2.5 0 2.4 0.4 1.5 0.4 2 0.5 1.6 0.6 1.6 0.6 1.5 0.6 1.4 0.7 1.4 0.7 1.3 0.7 1.2 0.8 1.2 0.9 1.1 0.8 1.1 0.9 1.1 0.9 0.9 1.1 0.6 1.2 0.1 1.3 -0.8 2.3 -1.6 1.8 -2 1.7 -1.1 0.8 -1.1 0.7 -1.2 0.8 -1.2 0.7 -1.2 0.7 -1.3 0.7 -1.4 0.6 -1.6 0.6M425.2 336.7l-1.8 0.4 -2 0.3 -2.4 0 -2.7 -0.1 -2 -0.3 -1.8 -0.4 -1.6 -0.6 -1.5 -0.7 -1.3 -0.7 -1.3 -0.8 -1.2 -0.8 -1.3 -0.7 -1.3 -0.8 -1.4 -0.7 -1.3 -0.7 -1.2 -0.8 -1.1 -0.8 -1 -1 -0.7 -1.1 -0.3 -1.3 0.4 -1.8 0.8 -1.2 1.8 -1.6 2.1 -1.5 2.2 -1.4 2.2 -1.4 1.1 -0.6 1.3 -0.6 1.4 -0.6 1.5 -0.4 1.7 -0.4 2.1 -0.2 2.5 0.1 2 0.3 1.8 0.4 1.6 0.5 1.4 0.6 1.5 0.6 1.3 0.7 1.4 0.7 1.4 0.6 1.4 0.7 1.5 0.6 1.3 0.7 1.3 0.8 1.1 0.8 1 0.9 0.7 1.1 0.5 1.3 0 1.6 -0.3 1.5 -1.3 1.9 -1.9 1.6 -2.2 1.4 -1.1 0.8 -1.1 0.7 -1.1 0.7 -1.3 0.6 -1.3 0.6 -1.5 0.5M217.2 420.8l-1.8 0.6 -2.1 0.5 -2.4 0.3 -1.7 0 -2.4 -0.2 -2.1 -0.5 -1.8 -0.6 -1.6 -0.7 -1.4 -0.7 -1.4 -0.8 -1.4 -0.9 -1.3 -0.8 -1.3 -0.9 -1.3 -0.8 -1.2 -0.9 -1.2 -1 -1 -1 -0.8 -1.1 -0.7 -1.2 -0.5 -1.4 0.1 -1.6 0.7 -1.7 0.8 -1.3 1.1 -1.1 1.1 -1 1.3 -0.9 1.4 -0.9 1.4 -0.8 1.4 -0.9 1.5 -0.8 1.4 -0.8 1.5 -0.8 1.5 -0.8 1.6 -0.7 1.7 -0.6 1.9 -0.5 2.2 -0.3 2.5 -0.1 3.3 0.4 1.9 0.6 1.5 0.6 1.4 0.8 1.4 0.7 1.3 0.9 1.4 0.8 1.3 0.7 1.4 0.8 1.3 0.9 1.3 0.8 1.1 1 1 1 0.8 1.1 0.7 1.3 0.4 1.4 -0.2 1.7 -0.7 1.4 -0.8 1.2 -1.1 1.1 -1.2 1 -1.3 0.9 -1.3 0.9 -1.5 0.9 -1.4 0.8 -1.4 0.9 -1.5 0.8 -1.5 0.9 -1.6 0.7 -1.7 0.7M253.9 398.8l-1.8 0.6 -2.1 0.3 -1.4 0.2 -2.6 -0.1 -1.8 -0.3 -2.1 -0.6 -1.6 -0.6 -1.6 -0.7 -1.4 -0.8 -1.4 -0.7 -1.4 -0.8 -1.3 -0.9 -1.2 -0.8 -1.3 -0.8 -1.2 -0.9 -1.2 -0.9 -1.1 -0.9 -0.9 -1.1 -0.7 -1.1 -0.4 -1.3 -0.1 -1.5 0.4 -1.8 1 -1.7 1.1 -1 1.1 -0.9 1.2 -0.9 1.3 -0.9 1.3 -0.8 1.2 -0.8 1.3 -0.9 1.4 -0.8 1.4 -0.7 1.5 -0.7 1.6 -0.6 1.7 -0.6 1.8 -0.4 1.5 -0.3 2.9 -0.2 2.4 0.2 2 0.3 1.8 0.5 1.5 0.5 1.7 0.7 1.4 0.7 1.4 0.7 1.2 0.8 1.3 0.9 1.2 0.8 1.2 0.8 1.2 0.9 1.1 0.9 1.2 0.9 0.9 1 0.8 1.1 0.5 1.3 0.1 1.6 -0.8 2 -0.9 1.3 -1.1 1 -1.2 0.9 -1.2 0.8 -1.3 0.9 -1.4 0.8 -1.3 0.8 -1.3 0.9 -1.3 0.8 -1.4 0.8 -1.5 0.8 -1.6 0.7 -1.7 0.6M290.9 375.9l-1.7 0.6 -1.9 0.4 -2.2 0.2 -1.8 0 -2.2 -0.2 -2 -0.4 -1.8 -0.5 -1.7 -0.6 -1.4 -0.6 -1.4 -0.8 -1.2 -0.8 -1.2 -0.9 -1.2 -0.8 -1.3 -0.8 -1.2 -0.8 -1.2 -0.9 -1.1 -0.8 -1.1 -0.9 -0.8 -1.1 -0.5 -1.2 0 -1.5 0.5 -1.5 0.7 -1.2 0.9 -1 1 -0.9 1.1 -0.9 1.1 -0.8 1.3 -0.8 1.2 -0.8 1.3 -0.7 1.3 -0.8 1.4 -0.7 1.4 -0.6 1.5 -0.6 1.7 -0.6 1.7 -0.4 1.9 -0.4 1.9 -0.2 2.4 0 2 0.4 1.6 0.5 1.4 0.7 1.4 0.7 1.3 0.7 1.4 0.7 1.4 0.7 1.4 0.7 1.4 0.6 1.4 0.8 1.3 0.7 1.1 0.9 0.9 1 0.8 1.1 0.6 1.2 0.3 1.3 0.1 1.6 -0.5 1.3 -0.7 1 -0.9 1 -1.1 0.9 -1.1 0.9 -1.2 0.8 -1.3 0.8 -1.3 0.8 -1.3 0.8 -1.3 0.7 -1.4 0.7 -1.5 0.7 -1.6 0.6M357.6 335.3l-1.5 0.5 -1.8 0.4 -1.5 0.2 -2.6 0.1 -2.2 -0.2 -1.6 -0.4 -1.9 -0.5 -1.5 -0.6 -1.4 -0.6 -1.4 -0.7 -1.4 -0.7 -1.3 -0.6 -1.3 -0.7 -1.3 -0.7 -1.3 -0.8 -1.2 -0.7 -1 -0.9 -1.4 -1.5 -0.8 -1.6 -0.2 -1.3 0.3 -1.5 1.4 -1.9 1.8 -1.6 1.3 -0.7 1.1 -0.7 1.2 -0.7 1.2 -0.7 1.3 -0.6 1.3 -0.6 1.3 -0.6 1.3 -0.6 1.5 -0.5 1.4 -0.4 2.1 -0.3 2.4 0 2.7 0.4 1.7 0.4 1.5 0.5 1.5 0.6 1.4 0.6 1.3 0.6 1.4 0.7 1.3 0.7 1.3 0.6 1.3 0.7 1.2 0.8 1.2 0.7 1.1 0.9 0.9 0.9 1 2 0.2 1.3 -0.8 2.3 -1.7 1.7 -2.1 1.5 -1.2 0.7 -1.2 0.8 -1.1 0.7 -1.2 0.7 -1.2 0.7 -1.3 0.6 -1.5 0.6M387.5 317l-1.5 0.5 -1.8 0.3 -2.2 0.2 -3.1 -0.4 -1.8 -0.4 -1.6 -0.5 -1.6 -0.5 -1.4 -0.6 -1.4 -0.7 -1.3 -0.6 -1.3 -0.7 -1.3 -0.7 -1.3 -0.7 -1.2 -0.7 -1.2 -0.7 -1.2 -0.7 -1.7 -1.9 -0.7 -1.8 0.2 -2.1 0.7 -1.3 1.6 -1.5 1.2 -0.7 2.2 -1.4 2.2 -1.3 2.3 -1.3 1.3 -0.5 1.3 -0.5 1.6 -0.4 1.8 -0.4 2 -0.1 2.4 0 2.1 0.2 1.4 0.4 1.8 0.5 1.5 0.6 1.3 0.5 1.4 0.7 1.3 0.6 1.3 0.6 1.3 0.7 1.2 0.7 1.2 0.7 1.1 0.8 1 0.8 1.7 1.9 0.8 2 -0.5 2.1 -1.7 1.7 -2 1.4 -2.2 1.4 -2.2 1.4 -1.1 0.6 -1.3 0.7 -1.2 0.6 -1.4 0.5M323.7 354.3l-2 0.3 -1.5 0.1 -2.4 -0.1 -1.8 -0.3 -1.9 -0.5 -1.6 -0.6 -1.6 -0.6 -1.4 -0.6 -1.4 -0.7 -1.4 -0.7 -1.4 -0.7 -1.3 -0.7 -1.3 -0.8 -1.1 -0.8 -1 -0.9 -1.3 -2 -0.3 -1.6 0.3 -1.3 1.1 -2.2 1.8 -1.8 1.2 -0.8 1.2 -0.7 1.3 -0.7 1.3 -0.7 1.4 -0.6 1.3 -0.6 1.5 -0.6 1.5 -0.6 1.7 -0.4 1.9 -0.3 1.9 -0.1 2.3 0.1 1.9 0.4 1.6 0.5 1.5 0.5 1.4 0.7 1.4 0.7 1.3 0.6 1.4 0.7 1.3 0.7 1.3 0.7 1.2 0.8 1.2 0.8 1 1 0.8 0.9 0.7 1.1 0.4 1.4 -0.6 1.8 -1 1.2 -1 0.9 -1.1 0.8 -1.1 0.8 -1.2 0.7 -1.3 0.8 -1.2 0.7 -1.2 0.8 -1.3 0.7 -1.3 0.7 -1.5 0.6 -1.6 0.5M289 333.1l-1.6 0.5 -1.8 0.4 -2.2 0.1 -2.9 -0.2 -2.4 -0.4 -1.5 -0.4 -1.7 -0.6 -1.4 -0.6 -1.3 -0.7 -1.2 -0.7 -1.2 -0.8 -1.1 -0.7 -1.1 -0.8 -1.1 -0.8 -1.1 -0.8 -1.9 -1.7 -0.8 -1.3 -0.3 -1.5 1.4 -2 1 -0.9 1.1 -0.7 1.1 -0.8 1.2 -0.7 1.1 -0.7 1.1 -0.8 1.1 -0.7 1.2 -0.7 1.3 -0.7 1.2 -0.5 1.7 -0.6 1.7 -0.3 2 -0.3 1.8 -0.1 2.3 0 2 0.3 1.7 0.4 1.5 0.5 1.4 0.6 1.4 0.6 1.2 0.7 1.2 0.6 1.2 0.8 1.1 0.7 1.2 0.7 1 0.8 1.1 0.8 1.6 1.9 0.5 1.7 -0.8 2.3 -1.6 1.9 -2.1 1.6 -1.3 0.7 -1.2 0.7 -1.3 0.6 -1.3 0.7 -1.4 0.6 -1.3 0.7 -1.5 0.6M319.2 315.6l-1.7 0.4 -2 0.3 -2.3 0 -2.3 -0.3 -1.3 -0.3 -1.8 -0.7 -1.4 -0.6 -1.2 -0.6 -1.3 -0.7 -1.3 -0.7 -1.3 -0.6 -1.2 -0.6 -1.3 -0.7 -1.2 -0.7 -1.1 -0.7 -1.3 -1.3 -0.9 -1.6 -0.2 -1.7 0.9 -2.1 1.3 -1.3 1.5 -1.1 2.2 -1.4 1.1 -0.7 1.1 -0.6 1.2 -0.7 1.2 -0.6 1.3 -0.6 1.4 -0.5 1.7 -0.4 1.8 -0.3 2.2 -0.1 2.5 0.1 2.2 0.2 1.8 0.3 1.6 0.5 1.4 0.5 1.2 0.7 1.1 0.7 2.2 1.5 1.1 0.7 1.2 0.7 1.2 0.7 1.1 0.7 1.1 0.7 1.4 2 0.1 1.3 -0.7 1.8 -1 1.2 -2 1.5 -1.2 0.7 -1.1 0.7 -1.2 0.7 -1.2 0.6 -1.1 0.7 -1.2 0.7 -1.3 0.6 -1.4 0.6 -1.6 0.4M351.5 296.9l-1.6 0.4 -1.7 0.4 -2 0.2 -1.4 0 -2.1 -0.2 -1.8 -0.3 -1.7 -0.4 -1.5 -0.5 -1.4 -0.5 -1.3 -0.7 -1.2 -0.6 -1.2 -0.7 -1.1 -0.7 -1.1 -0.7 -1.1 -0.7 -2.1 -1.5 -1.6 -1.7 -0.2 -1.7 1 -1.9 1.7 -1.6 2 -1.4 2.2 -1.3 1.2 -0.6 1.2 -0.5 1.2 -0.6 1.4 -0.5 1.4 -0.4 1.5 -0.5 1.7 -0.3 1.7 -0.1 2.1 0.1 1.8 0.3 1.6 0.4 1.4 0.5 1.4 0.5 1.3 0.6 1.2 0.6 1.3 0.6 1.2 0.6 1.2 0.7 1.2 0.7 1.1 0.7 1.9 1.5 1.2 2 0 1.3 -1.1 2 -1.6 1.5 -2 1.5 -2.1 1.3 -1.2 0.6 -1.2 0.6 -1.4 0.5 -1.4 0.5M183.1 392.8l-1.6 0.7 -1.7 0.6 -1.9 0.5 -2.2 0.4 -2 0 -2.4 -0.2 -1.7 -0.3 -1.9 -0.6 -1.6 -0.7 -1.4 -0.7 -1.3 -0.8 -1.3 -0.7 -1.3 -0.8 -1.2 -0.9 -1 -0.9 -0.9 -1 -0.6 -1.1 -0.3 -1.4 0.2 -1.5 1.1 -1.9 1.1 -1 1.2 -1 1.3 -0.9 1.3 -0.9 1.2 -0.8 1.3 -0.9 1.4 -0.8 1.4 -0.8 1.7 -0.6 1.8 -0.5 2.1 -0.4 2 -0.1 2.5 0 2 0.3 1.8 0.5 1.4 0.7 1.3 0.7 1.1 0.9 1.2 0.8 1.1 0.8 1.2 0.9 1.2 0.8 1.2 0.8 1.1 0.9 0.7 1.1 0.2 1.4 -0.9 2 -0.9 1.1 -1 1.1 -1.1 1 -1.3 0.9 -1.3 0.9 -1.4 0.8 -1.4 0.8 -1.5 0.8M217.8 372.7l-1.9 0.4 -2.1 0.3 -2.4 0.2 -2.8 -0.2 -1.9 -0.4 -1.7 -0.5 -1.4 -0.7 -1.3 -0.7 -1.3 -0.8 -1.3 -0.7 -1.2 -0.8 -1.2 -0.8 -1.1 -0.9 -0.9 -0.9 -0.9 -1.8 -0.3 -1.8 0.3 -1.4 0.7 -1.2 1 -1 1.2 -0.8 1.3 -0.8 1.5 -0.7 1.4 -0.7 1.5 -0.7 1.3 -0.7 1.4 -0.8 1.3 -0.7 1.5 -0.7 1.7 -0.5 2.1 -0.3 3 0.3 1.9 0.5 1.5 0.6 1.4 0.6 1.4 0.7 1.3 0.7 1.3 0.7 1.3 0.7 1.3 0.8 1.2 0.7 1.2 0.8 0.9 1 0.8 1.8 0 1.5 -0.5 1.3 -0.8 1.1 -1 1 -1.1 0.9 -1.2 0.9 -1.2 0.8 -1.3 0.9 -1.3 0.8 -1.4 0.7 -1.5 0.7 -1.7 0.6M254.9 351.3l-1.5 0.6 -1.7 0.5 -1.9 0.4 -2.5 0 -2.2 -0.3 -1.6 -0.4 -1.7 -0.7 -1.5 -0.6 -1.4 -0.6 -1.4 -0.7 -1.3 -0.7 -1.2 -0.7 -1.2 -0.8 -1 -0.8 -1.6 -1.8 -0.5 -1.3 0 -1.5 0.8 -1.6 0.9 -1 1 -0.9 1.1 -0.8 1.2 -0.8 1.2 -0.7 1.3 -0.7 1.3 -0.7 1.4 -0.7 1.4 -0.6 1.6 -0.6 1.8 -0.4 2.1 -0.2 2.6 0.1 1.8 0.4 1.6 0.5 1.5 0.5 1.4 0.7 1.2 0.7 1.2 0.7 1.2 0.7 1.2 0.8 1.1 0.8 1.1 0.8 0.9 0.9 1.2 1.5 0.3 1.6 -1.5 2.1 -1.1 0.9 -1.1 0.8 -1.3 0.8 -1.2 0.7 -1.2 0.8 -1.2 0.8 -1.3 0.7 -1.3 0.8M183.7 352.8l-1.7 0.5 -1.9 0.5 -2.2 0.2 -1.7 0 -2 -0.3 -1.7 -0.5 -1.4 -0.6 -1.3 -0.7 -1.2 -0.7 -1.2 -0.7 -1.2 -0.8 -1.3 -0.7 -1.3 -0.6 -1.2 -0.7 -1.2 -0.7 -1.1 -0.8 -1.5 -1.9 -0.1 -2.6 0.6 -1.2 0.8 -1.1 0.9 -1.1 1 -0.9 1.1 -0.9 1.2 -0.8 1.3 -0.7 1.3 -0.8 1.3 -0.7 1.4 -0.7 1.4 -0.7 1.4 -0.6 1.7 -0.5 1.7 -0.5 1.6 -0.2 2.7 -0.2 2.5 0.1 2 0.2 1.5 0.4 1.7 0.6 1.3 0.6 1.2 0.7 1.2 0.7 1.1 0.7 1.1 0.8 1.2 0.7 1.1 0.8 1.1 0.7 1.1 1.1 1.2 1.7 0.3 2.3 -0.5 1.2 -0.8 1.1 -1 0.9 -1.2 0.8 -1.3 0.8 -1.3 0.8 -1.3 0.7 -1.4 0.8 -1.3 0.7 -1.3 0.8 -1.4 0.7 -1.5 0.7 -1.5 0.6M287.3 295.6l-1.4 0.5 -1.6 0.4 -1.6 0.3 -2.5 0.1 -2.2 -0.2 -1.8 -0.3 -1.6 -0.4 -1.4 -0.5 -1.3 -0.6 -1.3 -0.6 -1.2 -0.7 -1.1 -0.6 -1.2 -0.6 -1.2 -0.7 -1.2 -0.7 -1.8 -1.5 -0.8 -1.3 -0.3 -1.4 0.4 -1.9 0.9 -1.2 1.8 -1.5 1.3 -0.7 1.2 -0.5 1.3 -0.6 1.3 -0.6 1.2 -0.6 1.3 -0.5 1.2 -0.6 1.4 -0.5 1.5 -0.4 1.7 -0.4 1.5 -0.1 2.2 0.1 1.8 0.3 1.6 0.4 1.4 0.4 1.3 0.6 1.2 0.6 1.2 0.6 1.2 0.6 1.2 0.6 1.2 0.7 2 1.4 1.8 1.6 1.2 1.9 0 1.4 -1.5 1.8 -2.2 1.3 -1.2 0.7 -1.1 0.6 -1.2 0.7 -2.2 1.3 -1.1 0.7 -1.3 0.6M320.6 277.2l-1.1 0.6 -1.3 0.6 -1.3 0.5 -1.4 0.5 -1.6 0.4 -1.7 0.2 -1.5 0.1 -2 -0.2 -1.5 -0.4 -1.4 -0.5 -1.3 -0.6 -1.3 -0.6 -1.2 -0.6 -1.3 -0.5 -1.3 -0.6 -1.3 -0.5 -1.2 -0.6 -2.1 -1.4 -1.5 -1.6 -0.6 -2.2 0.7 -1.6 0.9 -1.1 1.8 -1.5 2.1 -1.3 2 -0.9 1.6 -0.7 1.3 -0.5 1.3 -0.5 1.5 -0.4 1.5 -0.4 1.9 -0.2 2.2 0 2.4 0.2 1.6 0.3 1.6 0.4 1.3 0.5 1.3 0.6 1.2 0.5 2.1 1.4 2.1 1.3 2 1.4 1.7 1.5 0.6 2.2 -1.3 1.7 -1.7 1.3 -1.3 0.7 -2.2 1.3 -2.3 1.2M143.9 373.8l-1.6 0.3 -2.7 0 -2.1 -0.3 -1.8 -0.4 -1.6 -0.6 -1.5 -0.6 -1.4 -0.7 -1.3 -0.7 -1.2 -0.7 -1.2 -0.8 -1.2 -0.7 -1.1 -0.8 -1.1 -0.8 -1.7 -1.9 -0.7 -2.4 0.2 -1.5 0.8 -1.5 1 -1.1 1.2 -0.9 1.3 -0.8 1.4 -0.8 1.4 -0.8 1.3 -0.8 1.4 -0.7 1.4 -0.8 1.4 -0.7 1.5 -0.7 1.7 -0.6 1.5 -0.4 2.3 -0.4 2.3 -0.1 1.4 0 1.7 0.3 1.8 0.5 1.5 0.6 1.3 0.7 1.3 0.6 1.3 0.7 1.2 0.8 1.2 0.7 1.2 0.7 1.1 0.8 0.9 0.9 1.6 2 0.5 2.3 -0.3 1.5 -0.8 1.2 -1 1 -1.2 0.9 -1.3 0.8 -1.4 0.8 -1.5 0.7 -1.4 0.8 -1.4 0.8 -1.4 0.7 -1.4 0.8 -1.5 0.8 -1.6 0.7 -1.7 0.6M222.2 330.3l-1.2 0.4 -1.9 0.7 -1.7 0.4 -1.5 0.4 -2.5 0.2 -2.5 -0.2 -1.7 -0.5 -1.4 -0.5 -1.4 -0.6 -1.3 -0.7 -1.3 -0.6 -1.2 -0.7 -1.3 -0.6 -1.1 -0.8 -2 -1.6 -1 -1.5 -0.3 -1.6 1 -1.9 1.1 -1.3 1 -0.9 1 -0.8 1.2 -0.7 1.2 -0.8 1.3 -0.6 1.3 -0.6 1.6 -0.6 1.5 -0.5 1.6 -0.5 1.3 -0.3 2.5 -0.3 2.6 0.1 1.9 0.3 1.7 0.5 1.5 0.4 1.4 0.6 1.3 0.6 1.2 0.7 1.1 0.7 2 1.6 1.7 1.7 1 1.5 0.1 1.5 -1.4 2.1 -1 0.9 -1 0.8 -1.1 0.8 -1.3 0.8 -1.2 0.7 -1.4 0.6 -1.4 0.7M252.4 313.6l-1.8 0.3 -1.8 0.2 -2.2 -0.2 -1.4 -0.3 -1.7 -0.6 -1.4 -0.6 -1.2 -0.6 -1.3 -0.6 -1.3 -0.6 -1.3 -0.6 -1.3 -0.6 -1.3 -0.7 -1.1 -0.7 -1.7 -1.6 -0.6 -2.3 0.1 -1.3 0.9 -1.8 1.1 -1.2 2.1 -1.5 1.2 -0.7 1.3 -0.6 1.3 -0.6 1.4 -0.6 1.4 -0.5 1.5 -0.5 1.6 -0.4 1.6 -0.4 1.6 -0.3 2.3 -0.2 2.4 0.2 1.6 0.4 1.5 0.5 1.3 0.6 1.2 0.6 1.1 0.7 2.2 1.4 2.1 1.4 2.1 1.4 1.6 1.8 0.1 1.9 -1.5 1.9 -2 1.6 -1.1 0.7 -1.2 0.7 -1.2 0.7 -1.3 0.6 -1.2 0.7 -1.4 0.6 -1.3 0.6 -1.5 0.6 -1.5 0.5M110.2 351.3l-1.9 0.4 -2 0.2 -2.3 -0.2 -1.8 -0.3 -1.6 -0.5 -1.5 -0.6 -1.3 -0.6 -1.3 -0.7 -1.2 -0.7 -1.1 -0.7 -1.2 -0.7 -1.1 -0.7 -1.1 -0.7 -1.9 -1.6 -1 -2.1 0.1 -2 0.5 -1.3 0.8 -1.1 1 -1 1.2 -0.9 1.3 -0.8 1.3 -0.7 1.4 -0.8 1.3 -0.7 1.4 -0.8 1.3 -0.7 1.4 -0.7 1.5 -0.7 1.6 -0.5 1.8 -0.5 2 -0.3 1.9 -0.2 2.4 0.1 1.9 0.2 1.7 0.4 1.5 0.5 1.4 0.6 1.2 0.7 1.1 0.7 2.1 1.5 2.1 1.4 1.9 1.6 1.4 1.9 0 2.3 -0.7 1.3 -0.8 1.1 -1 0.9 -1.1 1 -1.2 0.8 -1.3 0.8 -1.4 0.8 -1.4 0.7 -1.4 0.7 -1.5 0.8 -1.4 0.6 -1.6 0.7 -1.6 0.6 -1.8 0.5M149.1 331l-1.9 0.3 -2 0.2 -2.5 0 -2.2 -0.1 -1.8 -0.4 -1.7 -0.4 -1.4 -0.6 -1.3 -0.6 -1.2 -0.6 -1.1 -0.7 -2 -1.5 -1.9 -1.6 -1.6 -1.7 -0.8 -2.1 0.3 -1.4 0.8 -1.3 1 -1 1.1 -0.8 1.2 -0.7 1.4 -0.7 1.3 -0.7 1.4 -0.7 1.3 -0.6 1.4 -0.7 1.3 -0.7 1.4 -0.7 1.4 -0.5 1.7 -0.5 1.8 -0.4 2.3 0 2.8 0.2 2 0.5 1.4 0.4 1.4 0.6 1.2 0.6 1.2 0.7 1.1 0.6 1.1 0.7 1.1 0.7 1.8 1.2 1.1 1.1 1.1 1.8 0.4 1.7 -0.4 1.3 -1.6 1.8 -1.3 1 -1.2 0.7 -1.3 0.8 -1.2 0.7 -1.3 0.8 -1.3 0.7 -1.3 0.8 -1.4 0.7 -1.5 0.6 -1.6 0.5M187.3 310.9l-1.5 0.5 -1.6 0.5 -1.8 0.4 -2 0.2 -1.5 0.1 -2 -0.2 -1.6 -0.4 -1.5 -0.5 -1.4 -0.6 -1.3 -0.6 -1.2 -0.6 -1.3 -0.6 -1.2 -0.6 -1.1 -0.7 -1.9 -1.5 -1 -1.1 -0.9 -1.6 -0.1 -1.9 1.5 -2 1 -0.8 1.1 -0.8 1.1 -0.7 1.3 -0.7 1.2 -0.6 1.2 -0.7 1.3 -0.7 1.4 -0.6 1.3 -0.5 1.5 -0.6 1.7 -0.4 1.8 -0.3 2.3 0 2.1 0.2 1.8 0.3 1.6 0.4 1.5 0.5 1.3 0.5 2.1 1.3 1.9 1.5 2 1.5 1.8 1.5 1 2 -0.5 1.4 -1.7 1.8 -1.1 0.8 -1.1 0.7 -1.2 0.8 -1.2 0.7 -1.2 0.7 -1.3 0.7 -1.2 0.6 -1.4 0.7M222.3 292.3l-1.3 0.6 -1.5 0.5 -1.6 0.5 -1.3 0.2 -2.5 0.1 -1.9 -0.3 -1.7 -0.3 -1.5 -0.5 -1.5 -0.4 -1.3 -0.6 -1.3 -0.5 -1.2 -0.6 -2.1 -1.3 -1.9 -1.5 -1.6 -1.6 -0.9 -1.9 0.2 -1.3 1.6 -1.7 2.2 -1.4 1.2 -0.6 1.1 -0.7 1.2 -0.7 1.1 -0.6 1.2 -0.7 1.2 -0.6 1.4 -0.5 1.5 -0.4 1.7 -0.4 1.9 -0.2 1.6 0 1.9 0.2 1.7 0.3 1.5 0.4 1.5 0.5 1.3 0.5 1.2 0.5 2.3 1.3 2 1.3 1.8 1.5 1.2 1.8 0 1.8 -1 2 -1 0.9 -2 1.4 -1.2 0.6 -1.2 0.7 -1.3 0.6 -1.3 0.6 -1.4 0.5M253.7 276l-1.3 0.6 -1.5 0.4 -1.6 0.4 -1.3 0.2 -2.4 0.1 -2 -0.2 -1.6 -0.3 -1.6 -0.4 -1.3 -0.5 -1.2 -0.6 -1.2 -0.6 -2.2 -1.2 -2.3 -1.2 -2 -1.4 -1.1 -1.2 -0.4 -1.5 0.5 -1.5 1.1 -1.3 1.3 -1 1.7 -1.1 2.3 -1.2 2.3 -1.2 1.2 -0.6 1.3 -0.5 1.5 -0.4 1.7 -0.3 2 -0.2 2.3 0 2.7 0.3 1.8 0.3 1.3 0.5 1.2 0.6 2.1 1.2 2.2 1.3 2.1 1.2 1.7 1.5 1 1.8 -0.2 1.4 -1.2 1.5 -1.3 1 -1.8 1 -1.1 0.7 -1.2 0.6 -1.1 0.6 -1.2 0.6 -1.2 0.6M284.8 259.8l-1.2 0.4 -1.6 0.4 -1.6 0.4 -1.8 0.2 -1.8 0.1 -2 -0.1 -1.8 -0.2 -1.5 -0.4 -1.4 -0.5 -1.3 -0.5 -1.2 -0.5 -2.3 -1.2 -1.3 -0.8 -1.5 -1.2 -1.6 -1.5 -1.1 -1.7 0.7 -2.1 1.8 -1.4 2 -1.3 2.3 -1.1 2.3 -1.1 1.2 -0.5 1.3 -0.5 1.4 -0.4 1.5 -0.4 2 -0.1 2.4 0.1 2.1 0.3 1.3 0.3 1.7 0.5 1.3 0.4 2.3 1.2 2 1.2 1.9 1.3 1.7 1.5 0.8 1 -0.1 2.1 -1.5 1.7 -1.8 1.4 -2.1 1.3 -2.2 1.1 -1.3 0.6" stroke="#00e0ff" fill="none" stroke-width="1.0"/>
<path d="M282.9 474.8l-2.1 -0.6 -1.8 -0.6 -1.9 -0.8 -1.6 -0.8 -1.6 -0.9 -1.4 -1 -1.3 -1.1 -1.4 -1 -1.3 -1.1 -1.3 -1 -1.3 -1.1 -1.3 -1 -1.1 -1.2 -1 -1.2 -0.6 -1.5 -0.1 -1.8 0.3 -1.7 0.6 -1.5 0.8 -1.3 1.1 -1.2 1.3 -1.1 1.4 -0.9 1.4 -1 1.5 -0.9 1.4 -0.9 1.4 -0.9 1.4 -1 1.4 -0.9 1.5 -0.9 1.6 -0.8 1.7 -0.7 1.9 -0.6 2 -0.4 2.5 -0.3 2.9 0 2.8 0.5 1.4 0.4 2.2 0.9 1.6 0.8 1.5 0.9 1.4 0.9 1.4 0.9 1.4 1 1.5 0.9 1.5 0.9 1.5 0.9 1.4 1 1.2 1 1.1 1.2 0.8 1.4M320.5 449.4l-2.1 -0.5 -1.9 -0.7 -1.7 -0.7 -1.6 -0.9 -1.5 -0.9 -1.4 -0.9 -1.3 -1 -1.4 -0.9 -1.4 -1 -1.3 -1 -1.2 -1 -1.2 -1.1 -1.1 -1.1 -1 -1.2 -0.9 -1.3 -0.6 -1.4 -0.2 -1.4 0.3 -1.6 0.7 -1.2 1 -1.2 1.2 -1 1.3 -0.9 1.4 -0.9 1.4 -0.9 1.4 -0.8 1.3 -0.9 1.4 -0.9 1.3 -0.9 1.3 -0.9 1.3 -0.8 1.5 -0.9 1.6 -0.7 1.2 -0.4 2.5 -0.7 1.6 -0.2 3 -0.2 2.4 0.3 1.6 0.4 2.1 0.7 1.6 0.8 1.6 0.7 1.5 0.8 1.6 0.8 1.6 0.8 1.5 0.8 1.6 0.8 1.5 0.8 1.4 1 1.2 1 1.1 1.2 0.9 1.2 1 1.2M356.9 424.8l-1.9 -0.5 -2 -0.7 -1.6 -0.7 -1.5 -0.8 -1.5 -0.9 -1.3 -1 -1.4 -0.9 -1.4 -0.9 -1.3 -0.9 -1.3 -1 -1.3 -0.9 -1.2 -1 -1.1 -1.1 -1 -1.2 -0.7 -1.3 -0.5 -1.5 0 -1.7 0.6 -1.3 0.8 -1.2 1 -1 1.1 -0.9 1.1 -0.9 1.3 -0.9 1.2 -0.9 1.2 -0.9 1.3 -0.8 1.3 -0.8 1.3 -0.8 1.4 -0.8 1.4 -0.7 1.6 -0.7 1.7 -0.6 1.9 -0.4 2.2 -0.3 1.5 0 2.5 0.1 2.1 0.4 1.8 0.6 1.7 0.6 1.5 0.8 1.5 0.8 1.5 0.8 1.5 0.7 1.5 0.8 1.6 0.8 1.6 0.7 1.5 0.8 1.3 0.9 1.3 1 1 1.1 0.9 1.2M392.1 400.9l-1.9 -0.5 -1.8 -0.6 -1.8 -0.6 -1.6 -0.7 -1.6 -0.7 -1.4 -0.9 -1.4 -0.9 -1.3 -0.9 -1.3 -0.9 -1.3 -0.9 -1.3 -0.9 -1.2 -1 -1.1 -1 -1 -1.1 -0.8 -1.2 -0.6 -1.3 -0.1 -1.7 0.7 -2.1 0.9 -1 1 -0.9 1.1 -0.9 1.2 -0.8 1.2 -0.8 1.3 -0.8 1.2 -0.8 1.2 -0.8 1.2 -0.8 1.2 -0.8 1.2 -0.7 1.3 -0.8 1.4 -0.6 1.5 -0.6 1.9 -0.5 1.7 -0.2 2.5 0.1 2.1 0.3 1.9 0.5 1.8 0.6 1.7 0.6 1.6 0.6 1.6 0.7 1.5 0.7 1.5 0.8 1.5 0.7 1.5 0.7 1.5 0.8 1.4 0.8 1.4 0.8 1.2 1 1.1 1 0.9 1.2M423.8 379.5l-1.7 -0.4 -2 -0.6 -1.7 -0.7 -1.6 -0.7 -1.4 -0.7 -1.5 -0.8 -1.4 -0.8 -1.3 -0.9 -1.4 -0.8 -1.4 -0.8 -1.3 -0.9 -1.2 -0.9 -1.2 -0.9 -1 -1 -0.9 -1.2 -0.4 -1.4 0.1 -1.7 0.6 -1.4 0.9 -1.3 1.6 -1.5 1.1 -0.8 1.2 -0.8 1.1 -0.8 1.2 -0.7 1.2 -0.8 1.1 -0.7 1.1 -0.8 1.2 -0.7 1.3 -0.7 1.4 -0.6 1.7 -0.5 1.8 -0.4 2.1 -0.2 1.4 0 2.3 0.1 1.9 0.4 1.3 0.4 1.9 0.8 1.5 0.7 1.5 0.7 1.5 0.7 1.5 0.7 1.6 0.7 1.5 0.7 1.5 0.7 1.5 0.7 1.3 0.9 1.2 0.9 1 1 0.9 1.1M455 358.4l-1.8 -0.5 -1.8 -0.6 -1.6 -0.6 -1.5 -0.6 -1.5 -0.8 -1.5 -0.7 -1.5 -0.7 -1.4 -0.8 -1.4 -0.7 -1.3 -0.8 -1.3 -0.9 -1.1 -0.9 -1 -1 -0.9 -1.1 -0.8 -1.1 -0.5 -1.3 -0.1 -1.3 1.1 -2.1 1.9 -1.6 1.1 -0.7 1.1 -0.8 1.1 -0.7 1.1 -0.7 2.1 -1.5 2.2 -1.4 1.3 -0.7 1.4 -0.5 1.7 -0.4 2.1 -0.2 2.6 0 2.8 0.4 1.8 0.5 1.7 0.5 1.6 0.6 1.5 0.6 1.5 0.7 1.5 0.6 1.5 0.7 1.5 0.7 1.4 0.7 1.4 0.8 1.2 0.8 1.2 0.9 1.1 1 0.9 1M105.7 327.6l2.9 -0.4 2.3 -0.1 2.8 0.2 1.9 0.3 1.6 0.5 1.5 0.5 1.3 0.6 1.2 0.6 2 1.5 2 1.6 2 1.5 2 1.6 1.2 1.9 -0.1 1.8 -0.5 1.3 -0.8 1.1 -0.9 1 -1.1 1 -1.2 0.8 -1.2 0.9 -1.3 0.8 -1.4 0.7 -1.4 0.8 -1.4 0.7 -1.4 0.7 -1.5 0.7 -1.5 0.7 -1.6 0.6 -1.7 0.6 -1.9 0.5 -2 0.3 -2.4 0.1 -2.7 -0.4 -1.7 -0.4 -1.6 -0.5 -1.4 -0.6 -1.3 -0.7 -1.2 -0.7 -1.1 -0.7 -1.2 -0.7 -1.1 -0.7 -1.2 -0.7 -1.1 -0.7 -1.1 -0.8 -1.1 -0.9 -1.1 -1.8 -0.2 -2.5 0.4 -1.4 0.7 -1.2 1 -1M141.8 309.3l1.3 -0.3 2 -0.3 2.4 0 2.3 0.2 1.7 0.3 1.6 0.5 1.4 0.5 1.2 0.6 1.2 0.6 1.1 0.7 1.2 0.7 1.1 0.6 1.1 0.7 1.6 1.1 1.3 1.2 1.4 1.8 0.7 2.1 -0.2 1.4 -1.6 2 -1.1 0.9 -1.2 0.7 -1.3 0.8 -1.2 0.7 -1.3 0.8 -1.3 0.7 -1.3 0.8 -1.3 0.7 -1.3 0.7 -1.5 0.7 -1.5 0.5 -1.8 0.5 -2 0.3 -2.2 0.1 -2.6 0 -2.8 -0.4 -1.7 -0.4 -1.5 -0.5 -1.3 -0.6 -1.3 -0.7 -1.2 -0.6 -1.1 -0.7 -1.2 -0.7 -1 -0.7 -2 -1.5 -1.6 -1.7 -1 -2 0.1 -2.2 0.6 -1.2 0.9 -1 0.5 -0.4M174.6 292.6l2.1 -0.7 1.7 -0.4 2 -0.2 1.5 0 2 0.2 1.8 0.2 1.8 0.4 1.5 0.4 1.4 0.5 1.3 0.5 2.1 1.4 1.9 1.4 2 1.5 2 1.4 1.1 1.2 0.5 1.7 -0.6 1.6 -1.4 1.5 -1 0.8 -1.1 0.7 -1.2 0.7 -1.3 0.7 -1.2 0.7 -1.3 0.7 -1.2 0.7 -1.3 0.7 -1.3 0.7 -1.4 0.6 -1.5 0.5 -1.6 0.5 -1.9 0.3 -2.1 0.2 -2.6 -0.1 -2 -0.4 -1.5 -0.5 -1.4 -0.5 -1.3 -0.6 -1.3 -0.6 -1.3 -0.6 -1.2 -0.6 -1.3 -0.6 -1.1 -0.6 -1.9 -1.5 -1.1 -1.4 -0.9 -1.3 -0.5 -2.2 0.5 -1.3 1.7 -1.8 1.1 -0.8 0.8 -0.6M209 275.1l2.5 -0.7 1.8 -0.3 2 -0.2 2.6 0.2 1.7 0.3 1.6 0.3 1.6 0.4 1.4 0.5 1.3 0.5 1.3 0.6 2.1 1.2 2 1.4 1.8 1.5 1.6 1.6 0.5 2.2 -0.4 1.3 -1.4 1.9 -2 1.5 -1.2 0.6 -1.2 0.6 -1.3 0.6 -1.3 0.6 -1.3 0.6 -1.3 0.6 -1.3 0.6 -1.4 0.6 -1.4 0.5 -1.6 0.5 -2 0.2 -1.4 0 -1.9 -0.2 -1.7 -0.4 -1.3 -0.3 -1.8 -0.5 -1.4 -0.5 -1.4 -0.6 -1.2 -0.6 -1.1 -0.6 -2.2 -1.3 -2 -1.4 -1.7 -1.5 -1.2 -1.8 -0.2 -2 1.6 -1.8 2.1 -1.4 1.2 -0.7 1.2 -0.7 0.1 0M240.3 259.2l1.9 -0.5 1.8 -0.2 2.1 -0.1 2.3 0 2.1 0.2 1.8 0.2 1.4 0.4 1.3 0.6 2.2 1.2 2 1.2 2.2 1.3 2 1.3 1.4 1.1 0.9 1.3 0.1 1.7 -1.1 1.9 -1.4 1.3 -1.4 0.9 -2.3 1.2 -1.2 0.6 -1.2 0.6 -1.3 0.6 -1.2 0.6 -1.3 0.5 -1.3 0.6 -1.5 0.4 -1.7 0.4 -1.9 0.2 -2.4 -0.1 -2.4 -0.3 -1.6 -0.4 -1.4 -0.5 -1.3 -0.5 -1.2 -0.6 -1.2 -0.6 -1.2 -0.6 -1.1 -0.6 -1.2 -0.6 -2.2 -1.2 -1.8 -1.4 -1.1 -1.8 0.2 -1.7 1.1 -1.9 1.5 -1.3M268.9 244.6l1.3 -0.5 1.3 -0.5 1.5 -0.4 1.4 -0.2 2.2 -0.2 2.2 0.2 1.7 0.2 1.6 0.3 1.5 0.4 1.4 0.4 1.2 0.5 2.2 1.2 2.1 1.2 1.9 1.4 1.8 1.3 1.5 1.6 0.4 1.3 -1 1.8 -1.6 1.5 -2 1.3 -2.1 1.2 -2.3 1.2 -1.2 0.5 -1.3 0.5 -1.4 0.5 -1.5 0.4 -1.6 0.3 -1.8 0.2 -2.2 0.1 -2.8 -0.3 -1.5 -0.4 -1.4 -0.4 -1.4 -0.5 -1.3 -0.5 -1.2 -0.5 -1.2 -0.6 -2.3 -1.1 -1.1 -0.8 -1.6 -1.3 -1.3 -1.4 -1.1 -1.8 0.2 -1.4 1.2 -1.4 1.7 -1.3M254.9 447.8l-2 0.6 -2.2 0.4 -2.5 0.2 -2.9 0 -2.9 -0.5 -1.9 -0.6 -1.8 -0.7 -1.6 -0.8 -1.5 -0.8 -1.5 -0.8 -1.4 -0.9 -1.4 -0.9 -1.3 -1 -1.2 -1 -1.2 -1 -1.2 -1 -1.1 -1.1 -1 -1.1 -0.9 -1.2 -0.8 -1.2 -0.5 -1.5 0 -1.4 0.6 -1.5 0.8 -1.3 1 -1.2 1.1 -1.1 1.2 -1 1.3 -1 1.4 -0.9 1.4 -0.9 1.5 -0.9 1.4 -0.8 1.5 -0.8 1.5 -0.8 1.6 -0.8 1.5 -0.8 1.6 -0.7 1.7 -0.7 1.9 -0.6 2.2 -0.3 2.9 0.1 2.2 0.4 1.9 0.5 1.8 0.6 1.7 0.6 1.6 0.7 1.5 0.8 1.4 0.9 1.4 0.8 1.3 0.9 1.4 0.9 1.4 0.8 1.3 0.9 1.3 1 1.1 1 1.1 1.1 0.9 1.2 0.6 1.4 0.4 1.5 0 1.5 -0.5 1.4 -0.8 1.3 -1.1 1.2 -1.2 1 -1.3 1 -1.3 0.9 -1.4 1 -1.5 0.9 -1.4 0.9 -1.4 0.9 -1.4 1 -1.4 0.9 -1.5 0.9 -1.6 0.8 -1.8 0.7M294.3 422.6l-1.2 0.5 -2.3 0.8 -2.1 0.4 -2.5 0.2 -3 -0.2 -2.4 -0.4 -1.5 -0.3 -2.3 -0.7 -1.7 -0.8 -1.5 -0.8 -1.4 -0.8 -1.3 -0.9 -1.4 -0.9 -1.3 -0.9 -1.3 -0.9 -1.3 -0.9 -1.2 -0.9 -1.2 -1 -1.1 -1 -0.9 -1.2 -0.8 -1.2 -0.5 -1.3 0 -1.5 0.5 -1.5 0.7 -1.1 1 -1.2 1.1 -1 1.1 -1 1.3 -0.9 1.2 -0.9 1.4 -0.8 1.3 -0.9 1.4 -0.8 1.4 -0.8 1.4 -0.8 1.5 -0.7 1.6 -0.7 1.6 -0.7 1.7 -0.6 1.8 -0.5 2.1 -0.3 2.5 -0.1 2.5 0.4 1.5 0.4 2 0.7 1.7 0.7 1.5 0.7 1.5 0.7 1.5 0.8 1.4 0.8 1.4 0.8 1.4 0.8 1.3 0.8 1.3 0.9 1.3 0.9 1.1 1 1.1 1 0.9 1.2 0.7 1.3 0.2 1.6 -0.4 2 -0.8 1.7 -0.8 1.2 -1 1 -1.1 1 -1.2 1 -1.3 0.8 -1.4 0.9 -1.4 0.8 -1.4 0.9 -1.4 0.8 -1.4 0.9 -1.5 0.8 -1.6 0.7M333.9 396.9l-1.4 0.8 -1.4 0.7 -1.5 0.7 -1.7 0.6 -1.8 0.4 -2.5 0.2 -2.9 -0.1 -2.4 -0.2 -2.1 -0.4 -1.8 -0.6 -1.7 -0.6 -1.5 -0.7 -1.2 -0.7 -1.6 -1 -1.4 -0.8 -1.3 -0.8 -1.4 -0.9 -1.3 -0.8 -1.2 -0.9 -1.2 -1 -1 -1 -0.8 -1.1 -0.6 -1.3 -0.3 -1.4 0 -1.7 1 -2 0.9 -1 1.2 -0.9 1.3 -0.8 1.4 -0.8 1.3 -0.7 1.3 -0.8 1.3 -0.8 1.2 -0.8 1.2 -0.8 1.3 -0.8 1.4 -0.8 1.5 -0.6 1.7 -0.5 2 -0.4 2.5 -0.1 2.7 0.3 2 0.3 1.9 0.5 1.7 0.5 1.6 0.6 1.5 0.7 1.5 0.8 1.3 0.7 1.4 0.9 1.3 0.8 1.2 0.8 1.3 0.9 1.2 0.9 1.1 0.9 1.1 1.1 0.8 1.1 0.6 1.3 0.2 1.6 -0.5 2 -0.9 1.5 -0.9 1 -1.1 0.9 -1.2 0.9 -1.2 0.9 -1.3 0.8 -1.2 0.8 -1.3 0.8 -1.3 0.9M364.2 377.4l-1.8 0.5 -2.1 0.3 -2.3 0.2 -2.6 0 -2.9 -0.3 -2 -0.4 -1.7 -0.6 -1.6 -0.7 -1.5 -0.7 -1.4 -0.7 -1.4 -0.8 -1.3 -0.8 -1.3 -0.8 -1.3 -0.9 -1.2 -0.8 -1.3 -0.9 -1.2 -0.8 -1.1 -1 -1 -0.9 -0.9 -1.1 -0.5 -1.3 0 -1.6 0.4 -1.2 1.4 -2.1 1 -0.9 1.1 -0.9 1.1 -0.8 1.2 -0.8 1.2 -0.7 1.3 -0.8 1.2 -0.7 1.2 -0.8 1.2 -0.7 1.3 -0.7 1.3 -0.7 1.5 -0.6 1.7 -0.5 1.9 -0.3 1.7 -0.2 2.5 0 2.1 0.3 2 0.3 1.7 0.5 1.6 0.6 1.5 0.7 1.4 0.7 1.4 0.7 1.3 0.8 1.4 0.7 1.4 0.7 1.4 0.8 1.4 0.7 1.2 0.8 1.2 0.9 1 1 0.8 1.2 0.7 1.2 0.4 1.4 0 1.6 -0.5 1.4 -0.8 1.1 -1.9 1.8 -1.1 0.8 -1.1 0.8 -1.2 0.8 -1.2 0.9 -1.2 0.8 -1.2 0.8 -1.2 0.7 -1.3 0.8 -1.4 0.7 -1.6 0.5M395.4 357.3l-1.7 0.5 -1.8 0.4 -2.3 0.1 -2.7 -0.1 -2.7 -0.4 -1.8 -0.4 -1.8 -0.6 -1.6 -0.6 -1.5 -0.6 -1.4 -0.8 -1.3 -0.7 -1.4 -0.8 -1.3 -0.8 -1.2 -0.8 -1.3 -0.8 -1.2 -0.8 -1.1 -0.9 -1.1 -0.9 -1 -1 -0.9 -1 -0.7 -1.1 -0.3 -1.3 1 -2.2 1.9 -1.8 1 -0.8 1.1 -0.7 1 -0.8 1.1 -0.8 1.2 -0.7 1.1 -0.8 1.2 -0.7 1.2 -0.7 1.3 -0.6 1.3 -0.6 1.5 -0.6 1.6 -0.4 1.7 -0.4 2.1 -0.2 1.7 0 2 0.3 1.8 0.4 1.7 0.5 1.7 0.5 1.6 0.6 1.5 0.6 1.5 0.6 1.4 0.7 1.4 0.7 1.3 0.7 1.3 0.8 1.2 0.8 1.2 0.9 1.1 0.8 1.1 0.9 1 1 0.8 1.1 0.5 1.3 -0.1 1.6 -0.5 1.3 -1.1 1.4 -1.4 1.3 -1.1 0.8 -1.1 0.8 -1.1 0.7 -1.2 0.8 -1.1 0.8 -1.2 0.7 -1.1 0.8 -1.3 0.7 -1.3 0.7 -1.4 0.6M426.4 337.4l-1.6 0.4 -1.9 0.4 -2.2 0.1 -2.6 0 -2.9 -0.3 -2 -0.3 -1.8 -0.5 -1.2 -0.5 -1.7 -0.8 -1.4 -0.7 -1.2 -0.8 -1.3 -0.8 -1.3 -0.7 -1.3 -0.8 -1.3 -0.7 -1.3 -0.7 -1.3 -0.8 -1.1 -0.8 -1.1 -0.9 -0.8 -1 -0.5 -1.2 -0.1 -1.5 0.9 -2.1 1.6 -1.7 2 -1.5 2.1 -1.4 1.1 -0.7 1.1 -0.7 1.2 -0.7 1.1 -0.6 1.3 -0.6 1.3 -0.6 1.4 -0.5 1.6 -0.4 1.9 -0.3 2.1 -0.2 2.8 0.2 2.2 0.4 1.6 0.5 1.6 0.6 1.4 0.5 1.5 0.7 1.4 0.6 1.4 0.7 1.4 0.6 1.4 0.7 1.4 0.6 1.3 0.7 1.3 0.8 1.2 0.8 1 0.9 0.9 1 0.6 1.2 0.3 1.4 -0.1 1.6 -0.5 1.6 -1.5 1.8 -2.1 1.5 -1.1 0.7 -1.1 0.7 -1.1 0.7 -1.1 0.7 -1.1 0.7 -1.2 0.7 -1.2 0.7 -1.4 0.6M218.4 421.6l-1.7 0.7 -2 0.5 -1.6 0.3 -3.1 0.3 -2.6 -0.2 -2.2 -0.3 -1.9 -0.5 -1.7 -0.7 -1.5 -0.7 -1.5 -0.8 -1.4 -0.8 -1.3 -0.8 -1.3 -0.9 -1.4 -0.8 -1.3 -0.9 -1.2 -0.9 -1.2 -0.9 -1 -1 -0.9 -1.1 -0.8 -1.2 -0.5 -1.2 -0.3 -1.5 0.3 -1.7 1 -2 0.9 -1.2 1.1 -1 1.3 -1 1.3 -0.9 1.4 -0.9 1.4 -0.8 1.5 -0.8 1.4 -0.8 1.4 -0.8 1.5 -0.8 1.4 -0.8 1.6 -0.8 1.6 -0.7 1.8 -0.5 2 -0.5 1.9 -0.2 2.8 0 2.3 0.2 1.5 0.4 2 0.7 1.5 0.7 1.3 0.8 1.3 0.8 1.4 0.8 1.3 0.7 1.4 0.8 1.4 0.8 1.4 0.8 1.2 0.8 1.1 1 1 1 0.9 1.2 0.7 1.2 0.5 1.3 0.2 1.5 -0.5 2 -0.8 1.2 -1 1.2 -1.1 1 -1.2 1 -1.3 0.9 -1.4 0.9 -1.4 0.9 -1.5 0.8 -1.4 0.9 -1.5 0.8 -1.4 0.9 -1.5 0.8 -1.6 0.8M255 399.5l-1.8 0.6 -1.9 0.4 -1.5 0.3 -2.9 0.1 -2.2 -0.3 -2 -0.5 -1.7 -0.5 -1.7 -0.6 -1.6 -0.7 -1.5 -0.7 -1.3 -0.8 -1.3 -0.8 -1.3 -0.9 -1.2 -0.9 -1.2 -0.8 -1.3 -0.9 -1.2 -0.8 -1.1 -0.9 -1 -1 -0.9 -1.1 -0.5 -1.2 -0.3 -1.4 -0.1 -1.5 0.4 -1.5 0.7 -1.2 1 -1 1.1 -0.9 1.3 -0.9 1.3 -0.9 1.2 -0.8 1.3 -0.8 1.3 -0.8 1.3 -0.9 1.4 -0.8 1.3 -0.7 1.5 -0.8 1.5 -0.6 1.6 -0.6 1.8 -0.5 1.9 -0.4 2.2 -0.3 2.6 0 2.5 0.3 1.9 0.4 1.7 0.5 1.6 0.6 1.5 0.7 1.4 0.7 1.4 0.7 1.2 0.8 1.3 0.8 1.2 0.9 1.2 0.8 1.3 0.8 1.2 0.9 1.1 0.9 1 1 0.9 1 0.6 1.2 0.3 1.3 0 1.6 -0.5 1.3 -0.8 1.2 -1 1 -1.1 0.9 -1.3 0.9 -1.3 0.8 -1.4 0.8 -1.3 0.9 -1.3 0.8 -1.3 0.9 -1.3 0.8 -1.4 0.9 -1.4 0.8 -1.5 0.7 -1.6 0.7M292 376.6l-1.6 0.6 -1.8 0.5 -1.4 0.3 -3 0.2 -2.4 -0.2 -2.1 -0.3 -1.9 -0.4 -1.7 -0.6 -1.6 -0.6 -1.5 -0.7 -1.3 -0.7 -1.3 -0.9 -1.1 -0.8 -1.2 -0.8 -1.2 -0.9 -1.3 -0.8 -1.2 -0.8 -1.2 -0.9 -1.1 -0.8 -0.9 -1 -0.7 -1.1 -0.3 -1.4 0.2 -1.6 0.8 -1.7 0.8 -1.1 0.9 -1 1.1 -0.9 1.2 -0.8 1.2 -0.8 1.3 -0.7 1.2 -0.8 1.3 -0.8 1.2 -0.7 1.4 -0.8 1.3 -0.7 1.5 -0.6 1.6 -0.5 1.7 -0.5 1.9 -0.4 1.9 -0.4 2.3 -0.1 2.7 0.2 1.8 0.5 1.5 0.6 1.4 0.6 1.4 0.7 1.3 0.8 1.4 0.7 1.3 0.7 1.4 0.6 1.4 0.7 1.4 0.7 1.3 0.8 1.2 0.8 1 1 0.9 1 0.6 1.2 0.5 1.2 0.3 1.4 -0.2 1.7 -0.7 1.4 -0.9 1 -1 0.9 -1.2 0.9 -1.2 0.8 -1.2 0.8 -1.3 0.8 -1.2 0.8 -1.3 0.8 -1.3 0.8 -1.3 0.7 -1.5 0.7 -1.5 0.7M358.8 335.9l-1.5 0.5 -1.7 0.5 -1.6 0.3 -2.4 0.2 -2.7 -0.1 -2 -0.3 -1.8 -0.4 -1.6 -0.6 -1.6 -0.5 -1.4 -0.7 -1.4 -0.6 -1.4 -0.7 -1.3 -0.7 -1.2 -0.7 -1.3 -0.8 -1.3 -0.7 -1.2 -0.7 -1.1 -0.8 -1 -0.9 -1.4 -2.1 -0.5 -2 0.6 -2.3 1.6 -1.8 2.1 -1.5 1.1 -0.8 1.2 -0.7 1.2 -0.6 1.2 -0.7 1.2 -0.7 1.2 -0.6 1.3 -0.6 1.3 -0.6 1.4 -0.5 1.6 -0.5 1.7 -0.4 1.5 -0.2 2.4 0 2 0.3 1.7 0.4 1.7 0.5 1.5 0.5 1.4 0.6 1.4 0.6 1.4 0.6 1.3 0.7 1.3 0.7 1.3 0.6 1.3 0.7 1.2 0.8 1.2 0.7 1.1 0.8 0.9 1 1.4 2 0.3 1.4 -0.1 1.3 -1 2.1 -1.9 1.7 -1.1 0.7 -1.2 0.7 -1.1 0.7 -1.2 0.7 -1.1 0.7 -1.2 0.8 -1.2 0.7 -1.2 0.7 -1.3 0.6M389.8 317l-1.3 0.6 -1.4 0.5 -1.6 0.4 -1.9 0.3 -1.9 0 -2 -0.2 -1.9 -0.4 -1.7 -0.4 -1.6 -0.5 -1.6 -0.5 -1.4 -0.6 -1.4 -0.7 -1.3 -0.6 -1.3 -0.7 -1.3 -0.7 -1.2 -0.7 -1.3 -0.7 -1.2 -0.7 -1.2 -0.8 -1 -0.8 -1.2 -1.3 -0.7 -1.7 -0.1 -1.3 0.3 -1.8 0.9 -1.3 2 -1.5 1.2 -0.6 1.1 -0.6 1.2 -0.7 2.1 -1.3 2.2 -1.4 1.2 -0.6 1.3 -0.5 1.4 -0.5 1.7 -0.3 1.9 -0.3 2.1 -0.1 2.6 0.1 2.3 0.4 1.7 0.4 1.5 0.5 1.4 0.6 1.4 0.6 1.3 0.6 1.3 0.6 1.3 0.7 1.3 0.7 1.2 0.6 1.2 0.8 1.1 0.7 1.1 0.8 1.8 1.8 1.2 2.2 0.1 1.3 -1 1.9 -1.8 1.6 -2.1 1.4 -2.1 1.4 -2.2 1.4 -1.2 0.6 -1.2 0.7 -1.3 0.6M325.1 355.1l-1.7 0.5 -2 0.3 -2.5 0 -2.7 -0.3 -1.8 -0.4 -1.7 -0.6 -1.5 -0.6 -1.5 -0.6 -1.4 -0.7 -1.4 -0.7 -1.4 -0.7 -1.4 -0.7 -1.3 -0.7 -1.3 -0.8 -1.1 -0.8 -1 -0.9 -0.9 -1 -0.8 -1.2 -0.4 -1.7 0 -1.4 1 -2.3 0.9 -1.2 1.8 -1.5 1.2 -0.8 1.3 -0.6 1.3 -0.7 1.3 -0.7 1.4 -0.6 1.3 -0.7 1.3 -0.6 1.4 -0.6 1.6 -0.6 1.7 -0.4 2 -0.2 2.4 -0.1 3.1 0.4 1.7 0.5 1.5 0.5 1.4 0.7 1.4 0.6 1.3 0.7 1.4 0.7 1.4 0.6 1.4 0.7 1.3 0.7 1.2 0.7 1.1 0.9 1 0.9 0.9 1 0.8 1 0.6 1.2 0.2 1.4 -0.5 1.4 -1.6 2 -1 0.8 -1.1 0.8 -1.2 0.8 -1.2 0.7 -1.2 0.8 -1.3 0.7 -1.2 0.7 -1.3 0.8 -1.3 0.7 -1.4 0.6 -1.5 0.6M290.2 333.8l-1.4 0.6 -1.7 0.4 -1.9 0.4 -2.4 0 -2.3 -0.2 -2 -0.3 -1.7 -0.5 -1.6 -0.5 -1.4 -0.6 -1.4 -0.6 -1.3 -0.7 -1.2 -0.7 -1.2 -0.7 -1.2 -0.7 -1.2 -0.8 -1.2 -0.7 -1 -0.8 -1.9 -1.7 -1.2 -1.6 -0.5 -1.6 0.7 -1.8 1.3 -1.3 1.1 -0.8 1.1 -0.8 1.1 -0.7 1.2 -0.7 1.2 -0.8 1.1 -0.7 1.2 -0.7 1.1 -0.7 1.3 -0.7 1.4 -0.6 1.4 -0.5 1.6 -0.5 1.9 -0.3 2 -0.2 2.3 -0.1 2.7 0.2 1.8 0.3 1.6 0.5 1.3 0.5 1.6 0.6 1.3 0.7 1.2 0.6 1.2 0.7 1.2 0.7 1.1 0.8 1.2 0.7 1 0.8 1.1 0.8 1.8 1.7 0.9 2.2 -0.1 1.3 -1.1 2.1 -1.7 1.8 -1.1 0.8 -1.2 0.7 -1.2 0.7 -1.3 0.6 -1.3 0.7 -1.3 0.7 -1.3 0.7 -1.3 0.6 -1.4 0.7M320.5 316.3l-1.7 0.5 -1.8 0.3 -2.1 0.2 -1.3 0 -2.1 -0.2 -1.8 -0.4 -1.5 -0.5 -1.5 -0.5 -1.3 -0.7 -1.3 -0.6 -1.3 -0.7 -1.2 -0.6 -1.3 -0.7 -1.3 -0.6 -1.3 -0.7 -1.2 -0.7 -1.1 -0.7 -1.4 -1.2 -1 -1.5 -0.6 -2.1 0.5 -1.9 0.9 -1.3 1.9 -1.5 2.2 -1.4 1.1 -0.7 1.1 -0.7 1.2 -0.7 1.1 -0.6 1.3 -0.6 1.2 -0.6 1.4 -0.5 1.6 -0.5 1.7 -0.3 2 -0.2 2.3 -0.1 2.6 0.2 2.4 0.2 1.8 0.4 1.5 0.5 1.3 0.6 1.2 0.6 1.1 0.7 2.1 1.5 1.2 0.7 1.2 0.7 1.2 0.7 1.2 0.6 1.2 0.8 1.7 1.7 0.3 1.9 -0.6 2.2 -1.6 1.8 -2.1 1.4 -1.2 0.7 -1.2 0.6 -1.2 0.7 -1.2 0.7 -1.1 0.7 -1.2 0.7 -1.2 0.6 -1.3 0.6 -1.5 0.5M352.6 297.5l-1.4 0.5 -1.6 0.4 -1.4 0.3 -2.5 0.2 -2.4 -0.1 -1.9 -0.3 -1.7 -0.4 -1.5 -0.5 -1.5 -0.5 -1.4 -0.6 -1.3 -0.6 -1.2 -0.6 -1.2 -0.7 -1.2 -0.7 -1.1 -0.7 -1.1 -0.7 -1.1 -0.7 -1.2 -0.9 -1.7 -1.5 -0.7 -2.2 0.8 -1.8 0.9 -1 1.7 -1.5 2.1 -1.4 2.2 -1.2 1.2 -0.6 1.2 -0.6 1.2 -0.6 1.3 -0.5 1.4 -0.5 1.4 -0.4 1.6 -0.4 1.8 -0.3 2.1 0 2.6 0.2 1.7 0.4 1.5 0.4 1.5 0.5 1.3 0.6 1.2 0.6 1.2 0.6 1.2 0.7 1.2 0.6 1.2 0.6 1.2 0.7 1.2 0.7 1.1 0.7 1.9 1.6 1 1.8 0 1.6 -0.9 1.5 -1.6 1.6 -2 1.4 -2.1 1.4 -2.3 1.3 -1.2 0.6 -1.3 0.5 -1.4 0.5M181.4 395.2l-1.7 0.7 -1.9 0.5 -1.7 0.3 -2.9 0.1 -2.3 -0.2 -2 -0.4 -1.6 -0.6 -1.5 -0.7 -1.3 -0.8 -1.3 -0.7 -1.3 -0.8 -1.3 -0.8 -1.4 -0.7 -1.3 -0.8 -1.1 -0.8 -1 -1 -0.8 -1 -0.5 -1.2 -0.2 -1.4 0.2 -1.6 1 -1.8 1 -1.1 1.2 -1 1.2 -0.9 1.3 -0.9 1.2 -0.9 1.3 -0.8 1.4 -0.9 1.3 -0.8 1.5 -0.7 1.6 -0.7 1.7 -0.6 1.9 -0.4 2.1 -0.3 1.6 -0.1 2.5 0 2.2 0.2 1.9 0.4 1.6 0.6 1.4 0.7 1.2 0.8 1.1 0.8 1.1 0.9 1.1 0.9 1.2 0.8 1.2 0.8 1.2 0.8 1.2 0.8 1 0.9 0.7 1.1 0.1 1.5 -0.9 2 -0.8 1.1 -1 1.1 -1 1.1 -1.2 0.9 -1.3 0.9 -1.4 0.8 -1.5 0.8 -1.4 0.9 -1.5 0.7 -1.5 0.8 -1.6 0.7M217.7 374.2l-2 0.4 -1.7 0.2 -2.9 0.2 -2.4 -0.1 -2 -0.4 -1.7 -0.5 -1.5 -0.6 -1.4 -0.7 -1.3 -0.8 -1.3 -0.7 -1.3 -0.8 -1.3 -0.7 -1.2 -0.8 -1.1 -0.8 -1 -0.9 -1.4 -2.1 -0.3 -1.3 0 -1.5 0.6 -1.7 1.1 -1.6 1 -0.9 1.3 -0.8 1.3 -0.8 1.4 -0.7 1.5 -0.7 1.4 -0.7 1.3 -0.7 1.4 -0.8 1.3 -0.7 1.5 -0.7 1.5 -0.6 1.8 -0.5 2.2 -0.2 2.9 0.2 2.1 0.4 1.6 0.5 1.5 0.6 1.3 0.7 1.3 0.8 1.1 0.7 1.2 0.8 1.3 0.7 1.3 0.8 1.2 0.7 1.3 0.8 1.1 0.8 0.9 0.9 0.8 1.8 -0.1 1.6 -0.5 1.3 -0.7 1.1 -0.9 1 -1.2 0.9 -1.2 0.9 -1.3 0.8 -1.2 0.8 -1.3 0.9 -1.3 0.8 -1.3 0.8 -1.4 0.8 -1.6 0.6 -1.7 0.5M254.9 352.8l-1.6 0.6 -1.7 0.5 -1.9 0.3 -2.5 0 -2.1 -0.3 -1.7 -0.5 -1.7 -0.5 -1.5 -0.5 -1.5 -0.6 -1.4 -0.7 -1.4 -0.6 -1.3 -0.7 -1.2 -0.8 -1.2 -0.8 -1 -0.8 -1 -0.9 -1.3 -1.7 -0.6 -1.5 0.1 -1.5 0.7 -1.5 1.7 -2 1 -0.8 1.2 -0.8 1.2 -0.7 1.3 -0.8 1.3 -0.7 1.3 -0.7 1.3 -0.7 1.4 -0.6 1.5 -0.6 1.6 -0.5 1.8 -0.4 2.2 -0.2 2.4 0.1 2 0.4 1.7 0.4 1.6 0.5 1.5 0.5 1.3 0.7 1.2 0.7 1.1 0.8 1.1 0.8 1.1 0.8 1.1 0.8 1.1 0.8 1.1 0.8 1 0.9 1.1 1.5 0.2 1.6 -1.3 2.2 -1.1 0.8 -1.1 0.9 -1.2 0.8 -1.1 0.7 -1.3 0.8 -1.2 0.8 -1.2 0.8 -1.3 0.7 -1.3 0.7 -1.5 0.7M184.8 353.5l-1.6 0.6 -1.8 0.5 -1.8 0.3 -2.5 0.2 -2.6 -0.2 -1.7 -0.4 -1.6 -0.6 -1.4 -0.6 -1.3 -0.7 -1.2 -0.7 -1.3 -0.7 -1.1 -0.6 -1.4 -0.8 -1.3 -0.7 -1.2 -0.7 -1.1 -0.8 -1 -0.8 -1.7 -1.8 -0.5 -1.3 0 -1.6 0.5 -1.3 0.7 -1.1 0.8 -1.1 0.9 -1 1.1 -0.9 1.1 -0.8 1.3 -0.8 1.3 -0.7 1.3 -0.8 1.4 -0.7 1.3 -0.7 1.4 -0.7 1.3 -0.6 1.6 -0.6 1.7 -0.5 1.9 -0.4 2.1 -0.2 2.4 -0.1 2.7 0.2 2.4 0.3 1.6 0.5 1.4 0.6 1.3 0.6 1.2 0.7 1.1 0.8 1.1 0.7 1.1 0.7 1.2 0.8 1.1 0.7 1.1 0.8 1.1 0.9 1.5 1.8 0.6 2.4 -0.4 1.5 -0.7 1.1 -0.9 1 -1.1 0.9 -1.2 0.8 -1.2 0.8 -1.3 0.7 -1.4 0.8 -1.3 0.7 -1.4 0.8 -1.3 0.7 -1.4 0.7 -1.4 0.7 -1.5 0.7M289.7 295.6l-1.3 0.6 -1.3 0.6 -1.5 0.4 -1.8 0.4 -2 0.2 -2.3 0 -2.9 -0.3 -1.6 -0.4 -1.5 -0.5 -1.4 -0.5 -1.3 -0.6 -1.3 -0.6 -1.2 -0.6 -1.2 -0.6 -1.3 -0.7 -1.1 -0.6 -1.4 -0.9 -1.6 -1.3 -1.1 -1.5 -0.5 -1.4 0.1 -1.4 0.5 -1.5 1.1 -1.4 2.1 -1.4 1.2 -0.6 1.3 -0.6 1.2 -0.6 1.3 -0.6 1.2 -0.5 1.2 -0.6 1.3 -0.6 1.3 -0.6 1.4 -0.4 1.6 -0.4 1.8 -0.3 2.3 0 2.4 0.2 1.7 0.4 1.5 0.4 1.4 0.5 1.3 0.6 1.2 0.5 1.2 0.6 1.2 0.7 1.2 0.6 1.1 0.6 2.1 1.4 1.8 1.6 1.4 1.8 0.5 2 -1.3 1.8 -2.1 1.5 -1.1 0.6 -1.2 0.7 -1.1 0.6 -1.2 0.7 -1.7 1.1 -1.6 0.9M321.8 277.8l-1.2 0.6 -1.2 0.6 -1.3 0.5 -1.4 0.5 -1.5 0.4 -1.6 0.4 -1.9 0.2 -2.5 -0.1 -1.7 -0.3 -1.5 -0.5 -1.3 -0.5 -1.3 -0.6 -1.3 -0.6 -1.3 -0.5 -1.3 -0.6 -1.3 -0.5 -1.3 -0.6 -1.1 -0.6 -2.1 -1.4 -1.6 -1.6 -0.9 -2 0.1 -1.5 0.8 -1.4 1.1 -1.2 1.8 -1.5 2.1 -1.2 2.4 -1.1 1.2 -0.6 1.3 -0.5 1.3 -0.5 1.4 -0.4 1.5 -0.4 1.7 -0.3 1.9 -0.2 1.6 0 1.9 0.2 1.8 0.3 1.6 0.3 1.5 0.4 1.3 0.5 1.3 0.6 1.2 0.6 2.1 1.3 2.1 1.3 2 1.4 1.9 1.5 1 1.4 0 1.8 -0.9 1.2 -1.8 1.4 -1.5 1 -1.7 1 -2.3 1.2 -1.1 0.6M143.3 375.1l-2.2 0.3 -2.9 -0.2 -2.4 -0.5 -1.6 -0.4 -1.7 -0.6 -1.5 -0.6 -1.3 -0.7 -1.3 -0.7 -1.2 -0.8 -1.2 -0.8 -1.1 -0.7 -1.2 -0.8 -1.1 -0.8 -1 -0.9 -1.4 -2 -0.5 -2.1 0.2 -1.6 0.6 -1.3 0.9 -1.1 1.1 -1 1.2 -0.9 1.4 -0.8 1.4 -0.8 1.3 -0.7 1.4 -0.8 1.4 -0.8 1.3 -0.8 1.4 -0.7 1.5 -0.7 1.6 -0.6 1.8 -0.5 1.9 -0.4 2.1 -0.3 2.4 -0.1 2.3 0.3 1.7 0.4 1.6 0.6 1.4 0.6 1.4 0.6 1.3 0.6 1.3 0.7 1.3 0.7 1.1 0.8 1.1 0.7 1 0.9 1.9 1.8 1.1 1.6 0.6 1.7 -0.1 1.4 -0.7 1.8 -0.9 1.1 -1.1 0.9 -1.3 0.9 -1.3 0.8 -1.4 0.8 -1.4 0.8 -1.4 0.8 -1.4 0.7 -1.4 0.9 -1.4 0.8 -1.5 0.7 -1.5 0.7 -1.7 0.7 -1.9 0.4M222.1 331.7l-1.5 0.5 -1.6 0.6 -1.7 0.4 -1.4 0.3 -2.6 0.3 -2.5 -0.2 -1.6 -0.5 -1.5 -0.5 -1.4 -0.6 -1.3 -0.7 -1.3 -0.6 -1.3 -0.6 -1.3 -0.7 -1.3 -0.6 -1.1 -0.7 -2 -1.6 -1.5 -1.9 -0.4 -1.9 0.4 -1.3 0.7 -1.1 1.7 -1.8 1 -0.9 1 -0.8 1.2 -0.8 1.2 -0.7 1.4 -0.6 1.4 -0.6 1.5 -0.6 1.5 -0.5 1.6 -0.5 1.6 -0.5 1.8 -0.3 2 -0.3 2.3 0.1 1.9 0.4 1.6 0.4 1.6 0.4 1.4 0.6 1.4 0.5 1.3 0.7 1.2 0.6 1.1 0.7 2 1.6 1.2 1.1 1.4 1.5 0.9 1.3 0.2 1.5 -1.4 2.1 -0.9 0.9 -1.1 0.9 -1 0.8 -1.2 0.8 -1.2 0.7 -1.2 0.7 -1.4 0.7 -1.3 0.7 -1.5 0.6M253.7 314.3l-1.6 0.5 -1.9 0.3 -2.2 0.1 -3 -0.4 -1.5 -0.5 -1.4 -0.5 -1.3 -0.6 -1.2 -0.7 -1.3 -0.6 -1.3 -0.7 -1.2 -0.6 -1.3 -0.6 -1.3 -0.6 -1.2 -0.7 -1.8 -1.5 -0.7 -1.2 -0.3 -1.6 0.1 -1.3 0.9 -2.2 1.7 -1.7 2.2 -1.5 1.2 -0.7 1.2 -0.7 1.3 -0.6 1.3 -0.5 1.5 -0.6 1.5 -0.5 1.5 -0.4 1.6 -0.4 1.7 -0.4 1.9 -0.3 1.4 -0.1 2.2 0.2 1.7 0.3 1.6 0.4 1.4 0.5 1.4 0.6 1.2 0.6 1.2 0.6 2.1 1.5 2.1 1.4 2.1 1.5 1.9 1.5 0.7 1.4 -0.7 2.3 -1.7 1.7 -2.1 1.5 -1.1 0.8 -1.2 0.7 -1.2 0.7 -1.2 0.6 -1.3 0.7 -1.2 0.6 -1.4 0.7 -1.4 0.5 -1.6 0.5" stroke="#00ecc8" fill="none" stroke-width="1.0"/>
<path d="M281.3 475.9l-2 -0.6 -1.4 -0.5 -2.3 -0.9 -1.7 -0.9 -1.5 -0.9 -1.5 -1 -1.3 -1.1 -1.3 -1 -1.2 -1.1 -1.4 -1 -1.3 -1.1 -1.3 -1 -1.3 -1 -1.2 -1.2 -0.9 -1.3 -0.5 -1.6 0 -1.4 0.3 -1.7 0.5 -1.6 0.8 -1.4 1.1 -1.2 1.3 -1 1.5 -0.9 1.5 -0.9 1.5 -0.9 1.4 -0.9 1.5 -0.9 1.4 -0.9 1.1 -0.9 1.6 -1.1 1.3 -0.9 1.5 -0.9 1.6 -0.8 1.8 -0.6 2 -0.6 2.2 -0.4 2.1 -0.2 2.7 0 2.4 0.3 2 0.5 1.9 0.7 1.7 0.7 1.5 0.9 1.4 0.9 1.4 0.9 1.4 1 1.4 0.9 1.5 0.9 1.6 0.9 1.5 0.9 1.4 0.9 1.3 1.1 1.1 1.1 1 1.3M318.8 450.5l-2 -0.6 -1.8 -0.6 -1.6 -0.9 -1.5 -0.9 -1.4 -0.9 -1.4 -1 -1.4 -0.9 -1.4 -1 -1.4 -0.9 -1.4 -1 -1.4 -0.9 -1.2 -1.1 -1.1 -1.1 -1.1 -1.1 -0.9 -1.3 -0.8 -1.3 -0.5 -1.5 -0.1 -1.8 0.8 -2 1 -1.1 1.2 -1.1 1.3 -0.9 1.4 -0.8 1.4 -0.9 1.5 -0.8 1.4 -0.8 1.4 -0.9 1.3 -0.9 1.3 -0.9 1.3 -0.9 1.3 -0.9 1.3 -0.9 1.4 -0.8 1.6 -0.8 1.8 -0.5 2 -0.5 2.3 -0.2 1.5 -0.1 2.5 0.1 2.1 0.5 1.7 0.6 1.7 0.7 1.5 0.8 1.5 0.8 1.6 0.8 1.6 0.8 1.6 0.8 1.6 0.7 1.7 0.7 1.6 0.8 1.3 0.9 1.1 1.1 1.2 1.1 0.9 1.3 0.9 1.2M355.4 425.8l-1.4 -0.4 -2.4 -0.8 -1.6 -0.8 -1.6 -0.8 -1.4 -0.9 -1.4 -0.9 -1.3 -1 -1.3 -0.9 -1.3 -1 -1.3 -0.9 -1.3 -1 -1.2 -1 -1.2 -1 -1.1 -1.1 -0.9 -1.2 -0.7 -1.3 -0.4 -1.5 0 -1.3 0.4 -1.3 0.9 -1.2 1 -1 1.2 -0.9 1.1 -0.9 1.3 -0.9 1.2 -0.9 1.3 -0.8 1.2 -0.9 1.3 -0.8 1.3 -0.8 1.3 -0.9 1.3 -0.8 1.3 -0.7 1.5 -0.8 1.5 -0.6 1.7 -0.6 1.7 -0.4 2.5 -0.2 2.7 0 2.7 0.3 1.8 0.5 1.7 0.7 1.6 0.7 1.5 0.8 1.4 0.8 1.6 0.8 1.5 0.7 1.6 0.7 1.3 0.6 2 0.8 1.5 0.8 1.3 1 1.2 1 1.1 1.1 0.9 1.2M390.8 401.8l-2 -0.5 -1.8 -0.5 -1.8 -0.6 -1.7 -0.7 -1.5 -0.8 -1.3 -0.9 -1.2 -0.9 -1.4 -1 -1.2 -0.9 -1.3 -1 -1.3 -0.9 -1.3 -0.9 -1.2 -0.9 -1.2 -1 -1 -1.1 -0.8 -1.2 -0.5 -1.4 0 -1.7 0.6 -1.7 0.9 -1 1.1 -0.9 1.2 -0.9 1.2 -0.7 1.3 -0.8 1.2 -0.8 1.2 -0.8 1.2 -0.8 1.2 -0.8 1.2 -0.8 1.1 -0.8 1.2 -0.8 1.2 -0.8 1.3 -0.7 1.4 -0.7 1.6 -0.6 1.8 -0.4 2.3 -0.2 3.2 0.3 2.1 0.5 1.9 0.5 1.7 0.6 1.6 0.6 1.6 0.7 1.6 0.7 1.5 0.7 1.4 0.8 1.5 0.7 1.5 0.8 1.5 0.7 1.5 0.8 1.3 0.9 1.3 0.9 1.2 1 0.9 1 0 0.1M422.4 380.4l-1.9 -0.4 -1.8 -0.6 -1.7 -0.6 -1.5 -0.8 -1.4 -0.8 -1.4 -0.8 -1.4 -0.8 -1.3 -0.9 -1.4 -0.8 -1.4 -0.8 -1.3 -0.9 -1.2 -0.9 -1.2 -0.9 -1.1 -1 -1 -1 -0.7 -1.2 -0.4 -1.5 0.1 -1.4 1.1 -2.3 1.1 -1.1 1.8 -1.5 1.2 -0.7 1.2 -0.8 1.3 -0.7 1.1 -0.7 1.2 -0.8 1.1 -0.8 1.1 -0.8 1.1 -0.8 1.1 -0.7 1.2 -0.7 1.5 -0.6 1.7 -0.4 1.7 -0.3 2.4 -0.2 2.6 0 2.4 0.3 1.7 0.5 1.7 0.6 1.5 0.7 1.4 0.7 1.5 0.7 1.5 0.8 1.5 0.6 1.5 0.7 1.6 0.7 1.5 0.7 1.4 0.8 1.3 0.8 1.2 0.9 1.1 1 1 1.1M453.6 359.3l-1.4 -0.4 -2.1 -0.7 -1.6 -0.6 -1.6 -0.7 -1.4 -0.7 -1.4 -0.8 -1.4 -0.7 -1.4 -0.8 -1.4 -0.8 -1.4 -0.7 -1.3 -0.9 -1.2 -0.8 -1.1 -0.9 -1.1 -1.1 -0.8 -1.1 -0.7 -1.1 -0.6 -1.3 0 -1.7 1 -1.5 2 -1.6 1.1 -0.7 1.1 -0.7 1.2 -0.7 1.1 -0.8 1.1 -0.7 2 -1.5 2.1 -1.5 1.1 -0.7 1.2 -0.7 1.5 -0.5 1.7 -0.4 2.1 -0.2 2.6 0.1 2.7 0.3 1.8 0.4 1.7 0.6 1.5 0.6 1.5 0.6 1.5 0.7 1.5 0.6 1.6 0.7 0.3 0.1M475.4 339.4l1.2 1 1.1 0.9 1 1.1M439.4 321.1l1.7 1.9 0.5 1.3 0.2 1.4 -0.1 1.6 -1 2 -1.9 1.6 -1.1 0.7 -1.1 0.7 -1.1 0.7 -1.2 0.7 -1.1 0.7 -1.1 0.8 -1.1 0.7 -1.1 0.7 -1.1 0.7 -1.2 0.7 -1.4 0.6 -1.6 0.4 -1.3 0.2 -2.7 0.2 -2.5 -0.1 -2.3 -0.1 -1.3 -0.2 -2.6 -0.5 -1.6 -0.6 -1.5 -0.6 -1.6 -0.6 -1.4 -0.7 -1.2 -0.8 -1.2 -0.8 -1.3 -0.8 -1.3 -0.7 -1.3 -0.8 -1.2 -0.7 -1.3 -0.8 -1.2 -0.8 -1 -0.9 -1 -0.9 -0.7 -1.1 -0.4 -1.3 0.1 -1.6 0.6 -1.3 0.9 -1.1 1.6 -1.4 2.1 -1.5 1.1 -0.7 1.1 -0.7 1.1 -0.7 1.1 -0.7 1.2 -0.6 1.1 -0.7 1.2 -0.7 1.2 -0.6 1.3 -0.6 1.4 -0.5 1.6 -0.4 1.5 -0.2 2.7 -0.1 2.2 0.1 1.9 0.3 1.6 0.5 1.6 0.5 1.4 0.5M400.9 301.5l1.8 1.7 1.4 2 0.6 2 -1 1.9 -1.9 1.5 -2.1 1.4 -2.1 1.4 -2.2 1.4 -1.1 0.7 -1.1 0.7 -1.2 0.6 -1.2 0.7 -1.3 0.6 -1.3 0.6 -1.4 0.5 -1.4 0.4 -2.2 0.3 -2.7 -0.2 -2.1 -0.3 -1.8 -0.4 -1.7 -0.5 -1.6 -0.5 -1.6 -0.5 -1.4 -0.6 -1.4 -0.6 -1.4 -0.7 -1.2 -0.7 -1.2 -0.7 -1.3 -0.7 -1.2 -0.7 -1.2 -0.7 -1.2 -0.8 -1.1 -0.7 -1.7 -1.8 -0.6 -1.1 -0.4 -1.9 0.4 -2.4 1.5 -1.6 2.3 -1.3 1.2 -0.6 1.2 -0.7 1.2 -0.6 2.1 -1.3 2.1 -1.4 2.2 -1.3 1.3 -0.6 1.5 -0.4 1.8 -0.3 1.5 -0.2 2.6 -0.1 2.2 0.1 1.8 0.3 1.7 0.4 1.5 0.4M355.8 278.6l1.9 1.1 1.2 0.7 1.2 0.6 1.2 0.7 1.3 0.6 1.2 0.6 1.1 0.7 1.8 1.7 1 1.7 0 1.8 -0.8 1.4 -1.8 1.6 -2 1.3 -2.3 1.3 -2.2 1.3 -1.1 0.7 -1.2 0.6 -1.1 0.6 -1.3 0.6 -1.3 0.6 -1.4 0.5 -1.6 0.4 -1.8 0.3 -2.1 0.2 -2.2 -0.1 -2 -0.3 -1.6 -0.4 -1.6 -0.5 -1.4 -0.5 -1.4 -0.6 -1.3 -0.6 -1.3 -0.7 -1.2 -0.6 -1.3 -0.6 -1.2 -0.7 -1.2 -0.6 -1.2 -0.7 -1.1 -0.7 -2.1 -1.5 -1.6 -1.7 -0.5 -2 0.8 -2 1.6 -1.7 2 -1.4 2.2 -1.2 2.2 -1.3 2.3 -1.2 1.1 -0.6 1.2 -0.6 1.3 -0.5 1.4 -0.5 1.3 -0.4 1.8 -0.4 1.6 -0.2 2.4 0 2 0.1 1.7 0.3 1.7 0.4 1.5 0.5 1.4 0.5 0.1 0M108.8 326.1l2.6 -0.1 2.2 0.1 1.9 0.3 1.7 0.4 1.6 0.5 1.5 0.5 1.3 0.5 1.2 0.7 2 1.5 1.8 1.7 2 1.5 2.1 1.5 1.7 1.7 0.3 2.4 -0.6 1.5 -0.7 1.2 -0.9 1 -1.1 1 -1.1 0.9 -1.3 0.8 -1.3 0.8 -1.3 0.8 -1.3 0.8 -1.4 0.7 -1.4 0.8 -1.4 0.7 -1.5 0.7 -1.5 0.7 -1.6 0.6 -1.7 0.6 -1.6 0.5 -2 0.5 -2 0.3 -2.6 0.1 -2.1 -0.3 -1.3 -0.3 -2.1 -0.6 -1.4 -0.6 -1.4 -0.6 -1.2 -0.7 -1.2 -0.7 -1.2 -0.7 -1.1 -0.7 -1.2 -0.7 -1.1 -0.7 -1.2 -0.7 -1.1 -0.8 -1.8 -1.6 -1 -2.1 -0.1 -2 0.4 -1.5 0.2 -0.6M145.2 307.5l2.5 0 2 0.2 1.9 0.3 1.6 0.4 1.5 0.5 1.3 0.5 1.3 0.6 1.2 0.6 1.1 0.7 2.2 1.4 2.1 1.4 1.5 1.1 1.3 1.2 1.2 1.8 0.7 2 0 1.4 -1.6 2.1 -1.1 0.9 -1.1 0.7 -1.3 0.8 -1.3 0.7 -1.3 0.8 -1.3 0.7 -1.3 0.7 -1.3 0.8 -1.3 0.7 -1.3 0.7 -1.3 0.7 -1.5 0.7 -1.5 0.6 -1.8 0.4 -2 0.3 -2.3 0.1 -2.7 -0.1 -2.5 -0.3 -1.7 -0.4 -1.5 -0.6 -1.3 -0.6 -1.3 -0.6 -1.2 -0.7 -1.2 -0.6 -1.3 -0.6 -1.2 -0.7 -1.2 -0.6 -2 -1.5 -1.6 -1.8 -0.8 -1.4 -0.6 -1.6 0.1 -1.9 0.4 -0.8M179.2 290.3l1.6 -0.1 2.6 0.1 2.2 0.3 1.8 0.3 1.7 0.3 1.3 0.4 1.5 0.6 1.2 0.6 2.2 1.3 1.9 1.5 2.1 1.4 2 1.4 1.6 1.6 0.7 2.1 -0.6 1.6 -1.1 1.6 -2 1.6 -1.3 0.7 -1.3 0.7 -1.3 0.6 -1.3 0.6 -1.3 0.7 -1.3 0.7 -1.2 0.7 -1.2 0.7 -1.3 0.7 -1.4 0.6 -1.5 0.5 -1.7 0.5 -1.9 0.3 -2.2 0.2 -2.6 -0.1 -2.1 -0.4 -1.5 -0.5 -1.4 -0.5 -1.3 -0.6 -1.3 -0.6 -1.2 -0.6 -1.3 -0.6 -1.3 -0.6 -1.2 -0.6 -1.1 -0.7 -2 -1.4 -1.4 -1.8 -1.1 -1.8 -0.5 -2.1 0.8 -1.8M213.1 273l2.5 -0.2 2.2 0.2 1.7 0.3 1.7 0.3 1.6 0.4 1.5 0.4 1.4 0.4 1.3 0.5 1.2 0.6 2 1.3 2 1.5 1.9 1.4 1.8 1.4 1.2 1.8 0 1.5 -0.8 2.1 -1.7 1.7 -1.1 0.7 -1.2 0.7 -1.3 0.6 -1.3 0.6 -1.3 0.6 -1.3 0.6 -1.2 0.6 -1.3 0.6 -1.2 0.7 -1.3 0.6 -1.3 0.6 -1.5 0.5 -1.7 0.4 -2 0.2 -1.4 0 -1.9 -0.3 -1.7 -0.3 -1.5 -0.4 -1.6 -0.4 -1.5 -0.5 -1.4 -0.5 -1.2 -0.6 -1.2 -0.6 -2.3 -1.3 -2.1 -1.3 -1.9 -1.4 -1.6 -1.6 -1.2 -1.8 -0.1 -2 0.2 -0.5M243.7 257.5l2.4 -0.1 2.2 0 2.1 0.1 1.8 0.2 1.6 0.3 1.4 0.5 1.2 0.5 1.6 0.9 1.5 1 2.1 1.3 2.1 1.3 2 1.3 1.3 1.1 0.9 1.3 0 1.6 -1 1.9 -1.3 1.3 -1.3 1.1 -2.1 1.3 -1.2 0.6 -1.3 0.5 -1.3 0.6 -1.2 0.5 -1.3 0.6 -1.3 0.6 -1.3 0.5 -1.3 0.6 -1.5 0.4 -1.6 0.4 -2 0.2 -2.4 -0.1 -2.4 -0.3 -1.5 -0.4 -1.4 -0.5 -1.3 -0.5 -1.3 -0.6 -1.2 -0.5 -1.3 -0.6 -1.2 -0.5 -1.2 -0.6 -1.2 -0.6 -1.7 -1 -1.4 -0.9 -1.6 -1.6 -0.9 -1.9 0.1 -1.4 0.6 -1.2M274.3 241.9l2.4 -0.1 2 0.1 1.8 0.2 1.6 0.3 1.6 0.3 1.4 0.5 1.3 0.4 2.2 1.1 2.1 1.3 2 1.2 1.9 1.3 1.9 1.4 1.5 1.5 0.4 1.4 -0.9 1.9 -1.5 1.3 -1.1 0.8 -2.1 1.2 -2.3 1.2 -2.3 1.1 -2.4 1.2 -1.2 0.5 -1.3 0.5 -1.5 0.4 -1.7 0.3 -1.8 0.3 -2.1 0 -2.9 -0.3 -1.5 -0.4 -1.4 -0.5 -1.3 -0.5 -1.3 -0.5 -1.2 -0.5 -1.3 -0.5 -1.3 -0.5 -1.2 -0.6 -2.2 -1.1 -1.7 -1.3 -0.9 -0.9 -1.3 -1.4 -1 -1.8 0.2 -1.4M256.3 448.7l-1.7 0.8 -2.1 0.5 -1.5 0.2 -3.3 0.3 -2.7 0 -2.4 -0.3 -2 -0.6 -1.8 -0.6 -1.6 -0.8 -1.6 -0.8 -1.5 -0.9 -1.4 -0.8 -1.4 -0.9 -1.3 -1 -1.4 -0.9 -1.2 -1 -1.3 -1 -1.1 -1 -1.1 -1.1 -1.1 -1.1 -1 -1.1 -1 -1.1 -0.7 -1.3 -0.5 -1.5 0.3 -1.8 1.1 -2 1 -1.2 1.2 -1.1 1.3 -1 1.3 -0.9 1.4 -0.9 1.4 -0.9 1.5 -0.9 1.4 -0.8 1.5 -0.9 1.4 -0.8 1.5 -0.8 1.5 -0.9 1.5 -0.8 1.5 -0.8 1.6 -0.7 1.7 -0.7 1.9 -0.5 1.5 -0.3 2.7 0.1 2.2 0.3 2 0.5 1.4 0.4 2.2 0.7 1.6 0.7 1.6 0.8 1.4 0.8 1.4 0.8 1.4 0.9 1.4 0.9 1.4 0.8 1.4 0.9 1.3 0.8 1.4 1 1.2 0.9 1.1 1.1 0.9 1.2 0.8 1.3 0.5 1.4 0.3 1.6 -0.4 2 -0.8 1.5 -0.9 1.2 -1 0.9 -1.5 1.2 -1.4 0.9 -1.5 0.9 -1.5 0.8 -1.4 0.9 -1.4 1 -1.4 0.9 -1.4 0.9 -1.4 1 -1.4 1 -1.4 0.9 -1.6 0.8M295.5 423.4l-1.5 0.7 -1.7 0.7 -1.9 0.6 -2.2 0.3 -2.1 0.1 -2.6 -0.1 -2.3 -0.3 -2.1 -0.4 -1.9 -0.5 -1.7 -0.7 -1.6 -0.7 -1.5 -0.9 -1.3 -0.8 -1.4 -0.9 -1.3 -0.9 -1.3 -0.9 -1.4 -0.9 -1.3 -0.9 -1.2 -0.9 -1.2 -1 -1.1 -1 -1 -1.1 -0.8 -1.2 -0.7 -1.3 -0.4 -1.4 0.2 -1.8 0.9 -1.7 0.9 -1.1 1.1 -1.1 1.2 -0.9 1.2 -0.9 1.3 -0.9 1.4 -0.9 1.3 -0.8 1.4 -0.8 1.4 -0.8 1.4 -0.8 1.3 -0.8 1.4 -0.8 1.5 -0.8 1.5 -0.7 1.5 -0.7 1.7 -0.6 1.9 -0.5 2.1 -0.3 2 0 2.3 0.2 1.8 0.5 1.8 0.6 1.6 0.6 1.6 0.7 1.6 0.7 1.5 0.7 1.4 0.8 1.4 0.8 1.4 0.8 1.4 0.9 1.3 0.8 1.3 0.9 1.2 0.9 1.3 1 1.1 1 1 1.1 0.8 1.1 0.6 1.4 0 1.7 -0.4 1.6 -0.5 1.4 -0.8 1.2 -1 1.1 -1.1 0.9 -1.3 0.9 -1.4 0.9 -1.3 0.8 -1.4 0.9 -1.4 0.8 -1.4 0.9 -1.3 0.9 -1.4 0.9 -1.4 0.8 -1.4 0.9M366.8 377.5l-1.4 0.6 -1.6 0.6 -1.8 0.5 -2.2 0.3 -1.8 0.1 -2.6 0 -2.3 -0.2 -2 -0.4 -1.8 -0.5 -1.7 -0.7 -1.5 -0.6 -1.5 -0.7 -1.5 -0.7 -1.5 -0.8 -1.3 -0.8 -1.4 -0.8 -1.2 -0.8 -1.3 -0.9 -1.1 -0.9 -1.2 -0.9 -1.1 -0.9 -1.1 -0.9 -1 -1 -0.8 -1.1 -0.4 -1.4 0.2 -1.7 0.8 -1.7 1.7 -1.9 1.1 -0.8 1.2 -0.8 1.2 -0.8 1.2 -0.7 1.3 -0.8 1.2 -0.7 1.2 -0.8 1.2 -0.8 1.2 -0.7 1.2 -0.8 1.3 -0.7 1.4 -0.6 1.5 -0.6 1.7 -0.5 1.9 -0.3 2.4 -0.1 2.8 0.2 2.1 0.3 1.8 0.4 1.7 0.6 1.6 0.6 1.5 0.6 1.4 0.8 1.3 0.7 1.4 0.7 1.4 0.8 1.4 0.7 1.4 0.7 1.4 0.7 1.3 0.8 1.2 0.9 1 1 0.9 1.1 0.7 1.2 0.6 1.2 0.3 1.5 -0.1 1.7 -0.9 1.7 -0.9 1 -1 0.8 -1.2 0.8 -1.2 0.8 -1.2 0.8 -1.2 0.8 -1.2 0.8 -1.2 0.8 -1.2 0.8 -1.2 0.8 -1.2 0.8 -1.3 0.8M398 357.3l-1.3 0.7 -1.5 0.6 -1.7 0.5 -1.4 0.2 -2.9 0.2 -2.3 -0.1 -2.1 -0.3 -2 -0.4 -1.8 -0.5 -1.7 -0.5 -1.6 -0.7 -1.4 -0.7 -1.4 -0.7 -1.3 -0.8 -1.3 -0.8 -1.3 -0.8 -1.3 -0.7 -1.3 -0.8 -1.3 -0.8 -1.2 -0.9 -1.1 -0.9 -1 -0.9 -0.9 -1 -0.9 -1 -0.6 -1.2 -0.2 -1.4 0.8 -1.8 1.9 -1.7 1.1 -0.8 1.1 -0.8 1.2 -0.7 1.1 -0.7 1.2 -0.8 1.1 -0.7 1.1 -0.7 1.2 -0.7 1.2 -0.8 1.2 -0.6 1.2 -0.7 1.3 -0.6 1.4 -0.6 1.6 -0.5 1.7 -0.4 2.2 -0.2 3 0.4 1.9 0.4 1.7 0.5 1.6 0.5 1.6 0.5 1.6 0.6 1.5 0.6 1.5 0.6 1.4 0.7 1.4 0.7 1.3 0.7 1.4 0.8 1.2 0.7 1.3 0.8 1.1 0.9 1.1 0.9 1.1 0.9 0.9 1 0.8 1.1 0.4 1.4 -0.1 1.4 -1.1 2.1 -1.9 1.7 -1.2 0.8 -1.1 0.7 -1.2 0.8 -1.2 0.7 -1.2 0.7 -1.1 0.8 -1.1 0.8 -1.1 0.8 -1.1 0.8 -1.2 0.7M327.7 401.2l-2 0.4 -2.1 0.1 -2.5 -0.1 -2.3 -0.2 -2.2 -0.4 -1.9 -0.4 -1.8 -0.6 -1.6 -0.7 -1.3 -0.6 -1.7 -1 -1.3 -0.8 -1.4 -0.8 -1.4 -0.8 -1.3 -0.9 -1.3 -0.8 -1.3 -0.9 -1.2 -0.9 -1 -1 -0.9 -1.1 -0.8 -1.2 -0.5 -1.3 -0.2 -1.5 0.1 -1.7 0.7 -1.6 0.8 -1 1.2 -0.9 1.2 -0.9 1.4 -0.7 1.4 -0.8 1.3 -0.7 1.4 -0.8 1.3 -0.8 1.2 -0.8 1.2 -0.8 1.3 -0.8 1.3 -0.8 1.3 -0.7 1.6 -0.6 1.7 -0.5 1.4 -0.2 2.8 -0.2 2.3 0.2 1.4 0.2 2.6 0.6 1.8 0.5 1.7 0.6 1.6 0.6 1.5 0.6 1.5 0.8 1.4 0.7 1.3 0.8 1.3 0.9 1.2 0.9 1.2 0.9 1.2 0.9 1.2 0.9 1.1 1 1 1 0.8 1.2 0.5 1.3 0.1 1.7 -0.5 1.9 -0.8 1.1 -0.9 1 -1.1 0.9 -1.2 0.9 -1.2 0.8 -1.3 0.9 -1.3 0.8 -1.3 0.8 -1.2 0.8 -1.3 0.9 -1.3 0.8 -1.3 0.8 -1.4 0.8 -1.5 0.7 -1.7 0.6M257.6 399.4l-1.6 0.8 -1.6 0.6 -1.8 0.6 -1.7 0.3 -2.6 0.3 -3 -0.1 -2.1 -0.4 -1.8 -0.5 -1.8 -0.6 -1.7 -0.6 -1.6 -0.6 -1.5 -0.7 -1.4 -0.8 -1.2 -0.9 -1.2 -0.9 -1.2 -0.9 -1.2 -0.9 -1.2 -0.8 -1.3 -0.9 -1.2 -0.8 -1.2 -0.9 -0.9 -1 -0.8 -1.1 -0.4 -1.3 -0.3 -1.5 0.1 -1.5 0.5 -1.9 1.2 -1.4 1.2 -0.9 1.4 -0.8 1.4 -0.8 1.3 -0.8 1.4 -0.8 1.3 -0.8 1.3 -0.8 1.3 -0.8 1.3 -0.8 1.4 -0.8 1.3 -0.8 1.4 -0.7 1.5 -0.7 1.7 -0.6 1.4 -0.4 2.3 -0.5 1.4 -0.2 2.7 0 2.2 0.2 1.9 0.4 1.8 0.4 1.7 0.6 1.5 0.6 1.4 0.7 1.4 0.8 1.3 0.7 1.4 0.8 1.3 0.8 1.3 0.8 1.2 0.8 1.3 0.8 1.2 0.9 1.1 0.9 1 0.9 1 1 0.7 1.2 0.5 1.3 0.2 1.5 -0.4 1.8 -0.7 1.4 -1 1 -1.1 0.9 -1.2 0.8 -1.5 0.9 -1.3 0.8 -1.4 0.8 -1.3 0.9 -1.3 0.8 -1.3 0.9 -1.3 0.9 -1.3 0.8 -1.4 0.9 -1.4 0.7M214.2 424.3l-2.3 0.4 -1.4 0 -2.7 0 -1.7 -0.2 -2.6 -0.6 -1.8 -0.6 -1.6 -0.6 -1.5 -0.8 -1.5 -0.8 -1.3 -0.8 -1.4 -0.9 -1.3 -0.8 -1.3 -0.9 -1.3 -0.8 -1.3 -0.9 -1.2 -0.9 -1 -1 -1 -1.1 -0.8 -1.1 -0.7 -1.2 -0.5 -1.3 -0.1 -1.5 0.4 -1.8 0.7 -1.3 0.9 -1.2 1.1 -1.1 1.2 -1 1.4 -0.9 1.4 -0.8 1.4 -0.8 1.5 -0.9 1.4 -0.8 1.5 -0.8 1.4 -0.8 1.4 -0.8 1.4 -0.9 1.4 -0.8 1.5 -0.8 1.6 -0.6 1.8 -0.6 2.1 -0.3 2.4 -0.2 1.3 0 1.4 0 3.2 0.4 1.8 0.5 1.5 0.7 1.3 0.8 1.3 0.8 1.3 0.9 1.3 0.8 1.4 0.7 1.5 0.8 1.4 0.7 1.4 0.8 1.2 0.8 1.1 1 1 1.1 0.8 1.1 0.7 1.2 0.7 1.2 0.4 1.4 0.1 1.6 -0.9 2.2 -1.1 1.3 -1.1 1.1 -1.2 1 -1.3 0.9 -1.4 0.9 -1.4 0.9 -1.4 0.8 -1.5 0.9 -1.4 0.8 -1.4 0.9 -1.4 0.9 -1.5 0.9 -1.4 0.8 -1.6 0.8 -1.7 0.7 -2 0.5M288.3 379l-2.1 0.4 -1.4 0 -2.5 -0.1 -1.9 -0.2 -2.2 -0.5 -1.8 -0.4 -1.7 -0.6 -1.6 -0.7 -1.4 -0.7 -1.3 -0.8 -1.3 -0.8 -1.2 -0.8 -1.2 -0.9 -1.2 -0.8 -1.2 -0.8 -1.2 -0.8 -1.2 -0.9 -1.1 -0.8 -1.1 -0.9 -0.9 -1.1 -0.5 -1.1 -0.2 -1.5 0.3 -1.6 0.6 -1.2 0.7 -1.1 1 -1 1.1 -0.8 1.2 -0.8 1.3 -0.8 1.3 -0.8 1.3 -0.7 1.2 -0.8 1.3 -0.8 1.2 -0.7 1.3 -0.8 1.3 -0.7 1.3 -0.7 1.5 -0.6 1.6 -0.6 1.8 -0.5 1.8 -0.4 2 -0.3 1.9 -0.1 2.3 0.1 1.4 0.3 2 0.7 1.5 0.6 1.4 0.7 1.3 0.7 1.4 0.7 1.3 0.7 1.4 0.7 1.4 0.7 1.4 0.7 1.3 0.7 1.3 0.8 1.2 0.8 1.2 0.9 0.9 0.9 0.8 1.1 0.5 1.2 0.5 1.3 0.2 1.4 -0.1 1.4 -0.6 1.2 -0.9 1 -1.1 0.8 -1.2 0.9 -1.2 0.8 -1.3 0.8 -1.2 0.7 -1.3 0.8 -1.2 0.9 -1.3 0.8 -1.3 0.8 -1.2 0.7 -1.4 0.8 -1.4 0.7 -1.5 0.7 -1.6 0.6 -1.7 0.5M325.1 356.6l-1.7 0.4 -2.1 0.3 -2.5 0 -2.5 -0.2 -1.9 -0.4 -1.7 -0.5 -1.6 -0.6 -1.4 -0.7 -1.4 -0.7 -1.4 -0.7 -1.4 -0.7 -1.4 -0.7 -1.3 -0.7 -1.4 -0.7 -1.2 -0.8 -1.2 -0.8 -1 -0.9 -1 -0.9 -1.2 -1.7 -0.6 -1.7 0 -1.5 0.3 -1.3 1.3 -2.2 1.9 -1.7 1.2 -0.8 1.3 -0.7 1.3 -0.6 1.3 -0.7 1.3 -0.7 1.2 -0.7 1.3 -0.7 1.2 -0.7 1.3 -0.6 1.3 -0.7 1.6 -0.5 1.7 -0.4 2.1 -0.2 2.4 0 3 0.3 1.7 0.4 1.6 0.6 1.4 0.6 1.3 0.7 1.4 0.6 1.3 0.7 1.4 0.7 1.5 0.6 1.5 0.5 1.4 0.7 1.1 0.8 1 0.9 1 0.9 0.9 1 0.9 1 0.7 1.1 0.5 1.2 0.1 1.5 -1 2 -1.9 1.8 -1 0.8 -1.2 0.8 -1.2 0.7 -1.2 0.7 -1.3 0.8 -1.2 0.7 -1.3 0.7 -1.2 0.8 -1.2 0.7 -1.3 0.8 -1.3 0.6 -1.5 0.7M355.3 338.1l-1.9 0.3 -1.5 0.1 -2.5 0 -2 -0.3 -1.9 -0.4 -1.5 -0.4 -1.8 -0.6 -1.6 -0.5 -1.5 -0.7 -1.3 -0.6 -1.3 -0.8 -1.3 -0.7 -1.2 -0.7 -1.2 -0.8 -1.3 -0.7 -1.2 -0.8 -1.2 -0.7 -1.1 -0.8 -0.9 -1 -1.3 -2 -0.3 -1.4 0 -1.4 1 -2 1 -1 2.2 -1.5 1.1 -0.7 1.2 -0.7 1.2 -0.7 1.1 -0.7 1.2 -0.7 1.2 -0.6 1.1 -0.7 1.3 -0.7 1.2 -0.6 1.3 -0.6 1.4 -0.5 1.6 -0.5 1.7 -0.3 2.2 -0.2 2.7 0.2 2.2 0.4 1.7 0.4 1.5 0.5 1.5 0.6 1.4 0.6 1.4 0.6 1.3 0.6 1.4 0.7 1.3 0.7 1.3 0.6 1.3 0.7 1.2 0.8 1.2 0.7 1 0.8 1 0.9 1.6 2 0.7 1.9 0.1 1.4 -1 2.1 -1.8 1.6 -1.2 0.7 -1.1 0.7 -1.2 0.7 -1.2 0.7 -1.2 0.7 -1.1 0.8 -1.1 0.7 -1.2 0.8 -1.1 0.7 -1.3 0.7 -1.3 0.6 -1.5 0.5 -1.7 0.5M290.2 335.2l-1.4 0.6 -1.7 0.5 -1.8 0.2 -2.5 0 -2.1 -0.2 -1.3 -0.2 -2.5 -0.5 -1.6 -0.5 -1.5 -0.6 -1.3 -0.6 -1.3 -0.7 -1.3 -0.7 -1.3 -0.7 -1.3 -0.7 -1.3 -0.6 -1.3 -0.7 -1.2 -0.7 -1.1 -0.8 -1.3 -1.3 -1.2 -1.4 -1.2 -2.1 -0.1 -1.3 0.8 -1.8 1.9 -1.8 1.1 -0.7 1.1 -0.8 1.2 -0.7 1.3 -0.6 1.2 -0.7 1.2 -0.7 1.2 -0.7 1.2 -0.7 1.2 -0.7 1.2 -0.6 1.4 -0.7 1.4 -0.5 1.7 -0.4 1.8 -0.3 1.5 -0.2 2.6 -0.1 2.2 0.1 2 0.3 1.7 0.4 1.5 0.5 1.5 0.5 1.4 0.6 1.3 0.7 1.2 0.6 1.2 0.7 1.1 0.8 1.2 0.7 1 0.8 1.1 0.8 1.1 0.7 1 0.8 1.8 1.8 0.8 1.9 -0.1 1.3 -1 2.2 -1 1.1 -1.9 1.4 -1.2 0.7 -1.2 0.7 -1.3 0.7 -1.2 0.7 -1.3 0.7 -1.3 0.7 -1.2 0.7 -1.2 0.7 -1.3 0.7 -1.3 0.7M321.8 317l-1.5 0.6 -1.7 0.4 -1.8 0.2 -2.2 0.2 -2.6 0 -2.1 -0.4 -1.6 -0.5 -1.4 -0.5 -1.4 -0.6 -1.3 -0.7 -1.3 -0.6 -1.3 -0.7 -1.3 -0.6 -1.3 -0.6 -1.3 -0.7 -1.3 -0.7 -1.2 -0.7 -1.1 -0.7 -1.9 -1.6 -1.3 -2 -0.4 -1.6 0.4 -2.4 1.7 -1.7 2.1 -1.5 1.1 -0.6 1.2 -0.7 1.1 -0.7 1.2 -0.7 1.1 -0.6 1.2 -0.7 1.2 -0.6 1.2 -0.6 1.3 -0.6 1.4 -0.5 1.5 -0.5 1.8 -0.3 1.9 -0.1 2.3 0 2.2 0.1 2 0.2 1.9 0.3 1.6 0.4 1.5 0.5 1.3 0.6 1.2 0.7 1.1 0.7 2.1 1.5 1.1 0.7 1.2 0.7 1.3 0.6 1.3 0.6 1.2 0.7 1.1 0.7 1.5 1.9 0.1 1.6 -0.5 2.2 -1.5 1.9 -2.1 1.4 -1.2 0.7 -1.2 0.6 -1.3 0.6 -1.1 0.7 -1.2 0.7 -1.1 0.7 -1.2 0.7 -1.1 0.7 -1.3 0.6 -1.3 0.6M180 397.8l-1.9 0.5 -2.2 0.4 -2.5 0.1 -2.9 -0.1 -2.4 -0.5 -1.6 -0.6 -1.4 -0.7 -1.2 -0.9 -1.2 -0.8 -1.2 -0.9 -1.2 -0.8 -1.4 -0.7 -1.4 -0.7 -1.4 -0.7 -1.3 -0.8 -1.1 -0.9 -0.9 -1 -0.6 -1.1 -0.4 -1.3 -0.1 -1.4 0.2 -1.6 0.9 -1.8 0.9 -1.2 1.1 -1 1.2 -0.9 1.3 -1 1.3 -0.8 1.3 -0.9 1.4 -0.8 1.4 -0.8 1.4 -0.8 1.5 -0.7 1.5 -0.7 1.6 -0.7 1.7 -0.6 1.9 -0.4 2.2 -0.3 1.4 -0.1 2.6 0 2.3 0.2 1.9 0.4 1.7 0.5 1.5 0.6 1.3 0.8 1.2 0.8 1.1 0.8 1 0.9 1.1 0.9 1.2 0.8 1.2 0.8 1.3 0.8 1.2 0.7 1.2 0.9 1 0.9 0.7 1.1 0 1.5 -1 2.1 -0.8 1.3 -0.9 1.1 -1.1 1.1 -1.1 1 -1.3 0.9 -1.4 0.8 -1.4 0.8 -1.5 0.8 -1.5 0.8 -1.4 0.8 -1.4 0.9 -1.5 0.8 -1.5 0.7 -1.6 0.7M217.7 375.9l-2.1 0.4 -1.8 0.1 -2.8 0.2 -2.5 -0.1 -2 -0.3 -1.8 -0.6 -1.5 -0.6 -1.4 -0.7 -1.4 -0.7 -1.3 -0.7 -1.3 -0.8 -1.3 -0.7 -1.3 -0.8 -1.2 -0.7 -1.2 -0.8 -1.1 -0.9 -0.9 -0.9 -1.2 -2.3 -0.2 -1.3 0.1 -1.5 0.6 -1.7 0.9 -1.4 1 -1 1.2 -0.9 1.3 -0.8 1.3 -0.8 1.4 -0.7 1.4 -0.8 1.3 -0.7 1.4 -0.7 1.4 -0.7 1.3 -0.8 1.5 -0.7 1.5 -0.6 1.6 -0.5 1.9 -0.5 2.2 -0.1 2.9 0.2 2 0.3 1.7 0.4 1.8 0.5 1.5 0.6 1.3 0.7 1.1 0.8 1.1 0.8 1.1 0.8 1.2 0.8 1.2 0.8 1.3 0.7 1.3 0.7 1.2 0.8 1.1 0.8 0.9 1 0.7 2 -0.1 1.6 -0.4 1.3 -0.7 1.2 -0.9 1 -1.2 0.9 -1.2 0.8 -1.4 0.8 -1.3 0.8 -1.3 0.8 -1.3 0.8 -1.3 0.8 -1.2 0.9 -1.3 0.8 -1.4 0.7 -1.6 0.7 -1.8 0.5M255 354.4l-1.4 0.5 -1.9 0.5 -2 0.4 -2.6 0 -2.1 -0.3 -1.7 -0.5 -1.7 -0.5 -1.6 -0.6 -1.5 -0.6 -1.5 -0.6 -1.4 -0.6 -1.4 -0.7 -1.3 -0.7 -1.3 -0.7 -1.2 -0.8 -1.1 -0.8 -1 -0.8 -1.6 -2 -0.9 -2.3 0.1 -1.4 0.5 -1.7 1.6 -2 1.1 -0.9 1.2 -0.7 1.3 -0.8 1.2 -0.7 1.3 -0.7 1.3 -0.7 1.3 -0.7 1.2 -0.7 1.4 -0.7 1.3 -0.7 1.6 -0.6 1.7 -0.4 1.3 -0.2 2.8 -0.2 2.3 0.1 2 0.2 1.9 0.4 1.8 0.4 1.6 0.4 1.4 0.6 1.2 0.8 1.1 0.7 1.1 0.9 1 0.8 1.1 0.8 1.1 0.8 1.1 0.8 1.2 0.7 1 0.9 1 0.8 1.3 1.9 0.1 1.5 -1.4 2.2 -1 0.9 -1.1 0.8 -1.1 0.8 -1.2 0.8 -1.2 0.8 -1.3 0.8 -1.2 0.7 -1.3 0.8 -1.3 0.7 -1.3 0.8 -1.4 0.6 -1.5 0.7M188.7 352.7l-1.4 0.8 -1.5 0.7 -1.5 0.6 -1.6 0.6 -1.8 0.5 -2 0.4 -2 0.1 -2.3 -0.1 -1.8 -0.4 -1.6 -0.6 -1.4 -0.6 -1.4 -0.7 -1.3 -0.6 -1.3 -0.7 -1.4 -0.6 -1.3 -0.7 -1.3 -0.6 -1.2 -0.8 -1.2 -0.7 -1 -0.9 -1.3 -1.2 -1.3 -1.4 -0.9 -1.6 -0.2 -1.7 0.4 -1.4 0.6 -1.2 0.8 -1.1 0.9 -1 1.1 -0.9 1.1 -0.8 1.3 -0.8 1.3 -0.8 1.3 -0.7 1.4 -0.7 1.3 -0.7 1.3 -0.7 1.4 -0.7 1.3 -0.7 1.5 -0.7 1.5 -0.6 1.7 -0.5 1.9 -0.3 2.1 -0.1 2.5 -0.1 2.3 0.1 2 0.3 1.8 0.4 1.5 0.5 1.4 0.6 1.2 0.6 1.2 0.7 1.1 0.8 1.1 0.7 1.1 0.8 1.2 0.7 1.1 0.7 1.1 0.8 1.5 1.3 1.2 1.3 0.8 1.4 0.3 1.8 -0.3 1.3 -0.6 1.2 -0.9 0.9 -1.1 1 -1.1 0.8 -1.2 0.8 -1.3 0.8 -1.3 0.8 -1.4 0.7 -1.3 0.7 -1.4 0.8 -1.4 0.7 -1.3 0.7M142.9 376.6l-2.3 0.2 -2.9 -0.2 -2 -0.4 -1.7 -0.5 -1.7 -0.5 -1.6 -0.5 -1.4 -0.7 -1.3 -0.7 -1.3 -0.7 -1.2 -0.8 -1.1 -0.8 -1.2 -0.7 -1.1 -0.8 -1.2 -0.8 -1 -0.9 -1.6 -1.9 -0.7 -2.4 0 -1.3 0.3 -1.6 1 -1.8 1.1 -1 1.2 -0.8 1.4 -0.8 1.4 -0.8 1.4 -0.8 1.4 -0.7 1.4 -0.8 1.3 -0.8 1.4 -0.7 1.4 -0.8 1.4 -0.7 1.5 -0.7 1.6 -0.6 1.5 -0.4 2.2 -0.5 1.5 -0.2 2.8 -0.1 2.1 0.3 1.7 0.4 1.6 0.5 1.5 0.5 1.5 0.6 1.4 0.6 1.5 0.6 1.3 0.6 1.2 0.7 1.1 0.8 1 0.9 1.1 1 1.7 1.7 1.5 1.9 1 2.3 -0.1 1.5 -0.6 1.5 -0.9 1 -1.1 1 -1.3 0.9 -1.3 0.8 -1.4 0.8 -1.4 0.8 -1.4 0.8 -1.4 0.8 -1.4 0.8 -1.3 0.8 -1.4 0.8 -1.4 0.8 -1.5 0.7 -1.6 0.7 -1.7 0.6 -1.9 0.5M220.6 333.8l-1.5 0.5 -1.7 0.5 -1.8 0.4 -2.1 0.3 -2.8 -0.2 -1.9 -0.6 -1.4 -0.6 -1.4 -0.6 -1.3 -0.7 -1.3 -0.6 -1.3 -0.6 -1.4 -0.6 -1.3 -0.7 -1.2 -0.6 -1.2 -0.7 -1.1 -0.8 -1.4 -1.2 -1.2 -1.4 -0.7 -1.3 -0.3 -1.6 1.1 -2.3 1.8 -1.9 0.9 -0.9 1.1 -0.8 1.2 -0.8 1.2 -0.7 1.2 -0.7 1.4 -0.6 1.3 -0.7 1.4 -0.6 1.3 -0.5 1.7 -0.6 1.5 -0.5 1.6 -0.5 1.7 -0.4 2 -0.2 2.6 0.1 2 0.3 1.6 0.4 1.5 0.5 1.5 0.5 1.4 0.6 1.3 0.6 1.2 0.6 1.2 0.7 1.1 0.7 1 0.8 2 1.5 1.6 1.5 1.1 1.1 1.1 1.6 0.1 1.5 -1.5 2 -1 0.9 -1 0.8 -1.2 0.8 -1.2 0.7 -1.2 0.8 -1.2 0.7 -1.3 0.7 -1.2 0.7 -1.3 0.7 -1.4 0.7 -1.4 0.7 -1.5 0.6M253.5 315.6l-1.7 0.4 -1.9 0.3 -2.2 0.1 -2.7 -0.2 -1.6 -0.5 -1.5 -0.5 -1.3 -0.6 -1.3 -0.6 -1.2 -0.7 -1.2 -0.6 -1.3 -0.7 -1.2 -0.6 -1.3 -0.6 -1.3 -0.7 -1.2 -0.6 -1.1 -0.7 -1.7 -1.7 -0.6 -2.2 0 -1.6 0.8 -2.3 1.7 -1.7 1.1 -0.8 1.1 -0.7 1.2 -0.7 1.2 -0.6 1.2 -0.7 1.3 -0.6 1.3 -0.6 1.3 -0.6 1.4 -0.6 1.5 -0.5 1.5 -0.4 1.6 -0.4 1.7 -0.4 1.9 -0.3 2.4 0 2.6 0.4 1.6 0.4 1.5 0.5 1.5 0.5 1.3 0.5 1.3 0.6 1.2 0.6 2 1.5 2 1.5 2.1 1.4 2.1 1.5 1.6 1.8 -0.1 1.7 -1 1.5 -1.3 1.2 -1.1 0.8 -1.1 0.7 -1.2 0.7 -1.2 0.7 -1.1 0.7 -1.2 0.7 -1.2 0.7 -1.2 0.7 -1.2 0.6 -1.3 0.7 -1.4 0.6 -1.5 0.5 -1.6 0.5M285.4 298.4l-1.5 0.3 -2.3 0.3 -2.4 -0.1 -2.4 -0.2 -1.7 -0.4 -1.5 -0.4 -1.4 -0.6 -1.4 -0.5 -1.3 -0.6 -1.3 -0.6 -1.3 -0.6 -1.2 -0.6 -1.3 -0.6 -1.2 -0.6 -2 -1.5 -1.7 -1.6 -0.7 -1.1 -0.5 -1.5 0.1 -1.8 0.6 -1.6 1.7 -1.7 2.2 -1.3 1.3 -0.6 1.2 -0.6 1.3 -0.6 1.2 -0.6 1.2 -0.6 1.1 -0.6 1.2 -0.6 1.2 -0.6 1.4 -0.6 1.4 -0.4 1.7 -0.4 1.7 -0.1 2.4 0 2 0.1 1.7 0.3 1.6 0.4 1.5 0.5 1.3 0.5 1.3 0.5 1.3 0.6 1.2 0.6 1.2 0.6 1.1 0.6 2.2 1.4 1.9 1.5 1.7 1.6 1.4 1.8 0.5 1.8 -1.2 1.9 -2.1 1.4 -1.1 0.6 -1.2 0.7 -1.1 0.6 -1.2 0.7 -1.2 0.6 -1.1 0.7 -1.1 0.7 -1.1 0.6 -1.2 0.7 -1.3 0.6 -1.3 0.6 -1.5 0.4M315.1 281.6l-1.7 0.3 -1.8 0.2 -2.2 0 -1.8 -0.3 -1.5 -0.5 -1.4 -0.5 -1.3 -0.6 -1.3 -0.5 -1.3 -0.6 -1.3 -0.5 -1.4 -0.5 -1.3 -0.6 -1.2 -0.6 -1.2 -0.6 -2 -1.4 -1 -0.9 -1.3 -1.5 -0.8 -2.1 0.4 -2.1 1.4 -1.7 1.9 -1.4 2.1 -1.3 2.3 -1.1 2.3 -1.2 1.3 -0.5 1.2 -0.5 1.3 -0.5 1.3 -0.5 1.5 -0.4 1.8 -0.3 2 -0.1 2.5 0.1 2.2 0.3 1.7 0.3 1.6 0.4 1.4 0.4 1.3 0.6 1.2 0.5 1.1 0.6 2.2 1.3 2.2 1.3 2 1.4 1.7 1.3 1.1 0.9 0.8 1.2 -0.1 2.2 -1.5 1.7 -2 1.3 -2.2 1.3 -2.3 1.2 -2.2 1.2 -2.3 1.3 -1.2 0.5 -1.3 0.6 -1.4 0.5 -1.5 0.4" stroke="#40ee50" fill="none" stroke-width="1.0"/>
<path d="M388.9 403.1l-2 -0.5 0.8 1.3M257.1 462.7l-1 -2.6 0.1 -1.9 0.3 -1.7 0.5 -1.6 0.8 -1.4 1.1 -1.1 1.5 -1 1.5 -0.8 1.7 -0.8 1.6 -0.8 1.6 -0.9 1.5 -0.8 1.4 -1 1.4 -0.9 1.3 -1 1.3 -1 1.3 -1 1.3 -1 1.4 -0.9 1.6 -0.8 1.7 -0.7 2 -0.6 2.1 -0.4 2 -0.2 2.9 0 2.4 0.2 1.7 0.4 1.2 -1 -1.2 -2.3 -0.5 -1.5 -0.1 -1.8 0.9 -2.1 1 -1.1 1.3 -1 1.3 -0.9 1.5 -0.8 1.6 -0.8 1.5 -0.8 1.5 -0.7 1.5 -0.8 1.4 -0.9 1.3 -0.9 1.3 -0.9 1.2 -1 1.1 -1 1.2 -0.9 1.2 -1 1.4 -0.8 1.6 -0.7 1.8 -0.6 2 -0.4 2.2 -0.4 1.6 -0.1 2.7 0 1.4 0.3 2.9 0.5 1.5 0.5 -1 -0.9 -0.9 -1.1 -0.7 -1.4 -0.5 -1.4 -0.1 -1.7 0.8 -1.6 1 -1 1.2 -0.9 1.3 -0.8 1.4 -0.8 1.3 -0.8 1.3 -0.9 1.3 -0.8 1.3 -0.8 1.3 -0.9 1.2 -0.8 1.3 -0.9 1.2 -0.8 1.3 -0.8 1.2 -0.9 1.3 -0.8 1.3 -0.8 1.4 -0.8 1.5 -0.6 1.9 -0.5 2.2 -0.3 2.5 0 1.3 0 1.9 0.3 2.2 0.5 1.6 0.7 1.5 0.8 1.4 0.8 1.4 0.8 1.5 0.8 1.6 0.7 1.2 0.5 -2.1 -1.6 -1.4 -0.9 -1.3 -0.8 -1.4 -0.9 -1.4 -0.8 -1.2 -1 -1 -1.1 -0.8 -1.2 -0.4 -1.4 -0.1 -1.7 0.9 -2.1 1 -1 1.2 -0.8 1.3 -0.8 1.4 -0.7 1.3 -0.7 1.3 -0.7 1.3 -0.8 1.3 -0.8 1.2 -0.8 1.2 -0.8 1.1 -0.8 1.1 -0.9 1.1 -0.8 1.1 -0.8 1.2 -0.9 1.2 -0.7 1.3 -0.8 1.4 -0.6 1.7 -0.5 1.5 -0.2 2.5 0 2.2 0.3 1.9 0.5 1.4 0.4 -1.5 -2.1 -0.3 -1.5 0.3 -1.6 1.2 -2.1 1.9 -1.8 1.2 -0.8 1.3 -0.7 1.3 -0.6 1.3 -0.7 1.2 -0.7 1.2 -0.8 1.2 -0.7 1 -0.8 1 -0.9 1.6 -1.4 1.4 -1.1 1.2 -0.7 1.5 -0.6 1.7 -0.4 1.6 -0.3 2.5 -0.2 2.4 -0.1 2.7 0.3 2.5 -0.2 -1.4 -2.1 -0.6 -1.3 -0.3 -1.5 0.6 -1.3 2 -1.6 1.2 -0.7 1.2 -0.7 1.3 -0.6 1.2 -0.7 1.1 -0.7 1.2 -0.7 1.1 -0.7 2 -1.5 1.9 -1.6 2 -1.6 1.1 -0.6 1.3 -0.6 1.7 -0.5 2 -0.2 1.7 -0.1 2.4 0.1 1.1 0.1M443.7 323.3l0.4 1.5 0.2 1.3 -0.5 2.3 -1.7 1.7 -1.1 0.6 -1.2 0.7 -1.2 0.7 -1.2 0.6 -1.2 0.7 -1.2 0.7 -1.1 0.7 -1 0.7 -2.1 1.6 -2.1 1.5 -1.1 0.7 -1.2 0.7 -1.5 0.5 -1.5 0.2 -2.6 0.1 -2.4 0 -2.4 -0.1 -2.8 0.3 1.5 2.1 0.4 1.4 -0.1 1.5 -1.1 2.1 -2 1.6 -1.3 0.7 -1.3 0.6 -1.3 0.7 -1.2 0.7 -1.3 0.7 -1.1 0.7 -1.1 0.8 -1.1 0.8 -1.1 0.8 -1 0.9 -1.1 0.8 -1.1 0.8 -1.2 0.7 -1.5 0.6 -1.6 0.5 -1.9 0.4 -2.2 0.1 -2.4 -0.1 -2.1 -0.3 -2 -0.4 0.5 1.4 0.5 1.3 0.4 1.4 0 1.7 -1.1 1.7 -1 0.9 -1.1 0.8 -1.3 0.7 -1.2 0.8 -1.3 0.7 -1.3 0.8 -1.2 0.7 -1.3 0.8 -1.2 0.8 -1.1 0.8 -1.2 0.9 -1.1 0.8 -1.2 0.8 -1.2 0.8 -1.2 0.8 -1.5 0.7 -1.7 0.5 -2.1 0.3 -2 0.2 -2.7 0 -2.3 -0.2 -1.6 -0.4 -2.2 -0.6 -1.6 -0.6 -1.6 -0.7 -1.5 -0.7 0.8 1.2 1.1 1 1 1 1 1 0.9 1.2 0.5 1.3 0.2 1.6 -0.8 2.2 -0.9 1.1 -1.1 0.9 -1.2 0.9 -1.2 0.8 -1.3 0.8 -1.4 0.8 -1.3 0.8 -1.3 0.8 -1.3 0.8 -1.2 0.9 -1.3 0.8 -1.2 0.9 -1.3 0.8 -1.2 0.9 -1.3 0.8 -1.4 0.8 -1.5 0.8 -1.5 0.4 -2.8 0.2 -2.7 -0.1 -2.3 -0.3 -1.5 -0.2 -2.6 -0.6 -1.8 -0.6 0.8 1.2 0.9 1.2 0.7 1.2 0.5 1.5 0 1.7 -0.3 1.5 -0.6 1.3 -0.8 1.2 -1.1 1 -1.2 0.9 -1.4 0.9 -1.4 0.8 -1.5 0.8 -1.4 0.8 -1.4 0.8 -1.4 0.9 -1.4 0.8 -1.3 1 -1.2 0.9 -1.3 0.9 -1.2 1 -1.3 0.9 -1.4 0.9 -1.6 0.7 -1.8 0.6 -1.5 0.3 -3 0.1 -2.6 -0.1 -2.3 -0.3 -2.2 -0.3 -0.7 1.3 0.8 2.1 0.2 1.7 -0.4 2 -0.7 1.3 -1 1.2 -1.2 1 -1.4 1 -1.5 0.9 -1.5 0.8 -1.5 0.8 -1.6 0.9 -1.5 0.8 -1.4 0.9 -1.4 1 -1.4 0.9 -1.3 1.1 -1.2 1 -1.3 1 -1.1 0.9 -1.7 1.1 -1.7 0.7 -2 0.6 -1.6 0.2 -3.3 0.3 -2.8 0 -2.4 -0.3 -1.3 -0.3M218.2 436.4l-1.3 -1.9 -0.5 -1.5 0.1 -1.5 0.6 -1.5 1 -1.2 1.1 -1.1 1.3 -1 1.4 -0.9 1.4 -0.9 1.5 -0.9 1.5 -0.8 1.5 -0.9 1.4 -0.8 1.5 -0.8 1.5 -0.9 1.4 -0.9 1.4 -0.8 1.4 -0.9 1.4 -0.9 1.4 -0.8 1.5 -0.9 1.5 -0.8 1.6 -0.7 1.7 -0.6 2 -0.4 2.6 0.1 2.1 0.4 2 0.5 2.9 -0.2 -0.8 -1.2 -0.7 -1.2 -0.4 -1.5 0.4 -1.9 0.9 -1.5 1.1 -1.1 1.1 -1 1.1 -0.9 1.3 -0.9 1.4 -0.9 1.3 -0.8 1.5 -0.8 1.4 -0.8 1.4 -0.8 1.4 -0.8 1.3 -0.8 1.4 -0.9 1.3 -0.8 1.3 -0.8 1.3 -0.9 1.4 -0.7 1.5 -0.8 1.6 -0.6 1.8 -0.6 1.5 -0.2 2.9 -0.1 2.2 0.2 1.9 0.5 1.9 0.5 1.8 0.5 1.5 0.5 -0.9 -0.9 -0.9 -1.1 -0.7 -1.1 -0.5 -1.4 -0.3 -1.5 0.1 -1.7 0.9 -1.7 1 -1 1.2 -0.9 1.3 -0.8 1.3 -0.7 1.4 -0.8 1.5 -0.7 1.4 -0.7 1.3 -0.7 1.3 -0.8 1.3 -0.8 1.2 -0.9 1.2 -0.8 1.2 -0.8 1.2 -0.9 1.2 -0.7 1.4 -0.7 1.6 -0.6 2 -0.4 2.4 -0.1 2.7 0.2 2 0.4 1.9 0.5 1.7 0.5 1.8 0.5 1.7 0.5 1.4 0.5 -2.1 -1.7 -1.1 -0.9 -1.1 -0.9 -0.9 -1 -0.9 -1.1 -0.3 -1.4 0.2 -1.7 0.9 -1.8 0.9 -0.9 1 -0.9 1.2 -0.8 1.2 -0.8 1.3 -0.7 1.3 -0.7 1.3 -0.7 1.2 -0.8 1.3 -0.7 1.2 -0.8 1.1 -0.8 1.2 -0.7 1.2 -0.8 1.1 -0.8 1.3 -0.7 1.3 -0.7 1.5 -0.6 1.6 -0.5 1.9 -0.3 2.2 -0.2 2.8 0.2 2.3 0.3 1.4 0.3 -1.5 -1.9 -0.7 -1.1 -0.2 -1.4 1 -1.9 2 -1.7 1.1 -0.7 1.2 -0.7 1.3 -0.7 1.2 -0.7 1.2 -0.7 1.2 -0.7 1.2 -0.7 1.1 -0.8 1.2 -0.7 1.1 -0.7 1.1 -0.8 1.1 -0.7 1.1 -0.7 1.2 -0.7 1.3 -0.6 1.4 -0.6 1.6 -0.5 1.6 -0.3 2.4 0.1 2 0.3 1.7 0.5 1.6 0.5 -0.2 -1.4 -0.7 -1.1 -0.4 -1.3 0.3 -1.7 0.7 -1.2 1.8 -1.7 2 -1.5 2.2 -1.4 1.1 -0.7 1.1 -0.6 1.2 -0.7 1.1 -0.7 1.1 -0.7 2.2 -1.4 2.2 -1.3 1.2 -0.6 1.3 -0.6 1.4 -0.5 1.8 -0.3 2.1 -0.2 2.7 0.2M406.1 304.2l1 1.7 0.3 1.4 -1.2 1.8 -2.2 1.4 -1.1 0.7 -1.2 0.6 -1.1 0.7 -1.1 0.6 -2.2 1.4 -2.2 1.4 -2.2 1.4 -1.1 0.7 -1.2 0.7 -1.2 0.6 -1.2 0.6 -1.4 0.6 -1.5 0.5 -1.9 0.3 -2.7 -0.1 -2.2 -0.4 -1.7 -0.4 -2.3 0 1.5 1.9 0.7 1.9 0.1 1.4 -1.1 2 -2 1.6 -1.2 0.7 -1.3 0.6 -1.2 0.7 -1.3 0.7 -1.2 0.6 -1.1 0.8 -1.2 0.7 -1.1 0.7 -1 0.8 -1.1 0.8 -1.1 0.7 -1.2 0.8 -1.3 0.6 -1.4 0.6 -1.7 0.5 -1.8 0.4 -1.6 0.1 -2.4 0 -2 -0.3 -1.9 -0.4 -1.3 -0.4 0 1.4 1.3 2 0.2 1.5 -0.6 1.2 -1.4 1.5 -1.4 1.1 -1.2 0.8 -1.1 0.8 -1.3 0.7 -1.2 0.7 -1.3 0.8 -1.2 0.7 -1.3 0.7 -1.2 0.8 -1.2 0.8 -1.1 0.7 -1.2 0.8 -1.2 0.8 -1.2 0.8 -1.4 0.6 -1.7 0.6 -2 0.3 -2.4 0.1 -3 -0.3 -2.2 -0.3 -1.7 -0.4 -2.6 -0.1 0.9 1 0.7 1.1 0.5 1.3 0.4 1.3 0.4 1.3 -0.1 1.6 -0.7 1.2 -1 0.9 -1.2 0.8 -1.4 0.7 -1.3 0.7 -1.4 0.8 -1.3 0.7 -1.3 0.8 -1.3 0.8 -1.2 0.8 -1.2 0.8 -1.3 0.8 -1.2 0.9 -1.2 0.8 -1.3 0.8 -1.3 0.8 -1.3 0.8 -1.5 0.6 -1.7 0.6 -2 0.4 -1.8 0.1 -2.4 -0.2 -1.6 -0.2 -2.6 -0.5 -1.4 -0.3 0.6 1.9 0.7 1.7 0.1 1.6 -0.4 1.8 -0.7 1.2 -1 1 -1.2 0.9 -1.4 0.8 -1.4 0.8 -1.4 0.7 -1.5 0.8 -1.4 0.8 -1.3 0.8 -1.3 0.9 -1.3 0.8 -1.2 0.9 -1.3 0.9 -1.3 0.9 -1.3 0.9 -1.4 0.8 -1.6 0.7 -1.6 0.7 -1.7 0.6 -2 0.5 -2.2 0.3 -2.8 -0.2 -2 -0.4 -1.8 -0.6 -2.8 0.3 1.3 2.3 0.5 1.3 0.2 1.6 -1.2 2.3 -1.1 1.1 -1.2 1 -1.2 0.9 -1.4 0.9 -1.4 0.9 -1.4 0.8 -1.5 0.9 -1.5 0.8 -1.4 0.9 -1.4 0.8 -1.4 0.9 -1.4 1 -1.3 0.9 -1.4 0.9 -1.3 1 -1.5 0.8 -1.7 0.8 -1.9 0.5 -2.3 0.4 -1.5 0 -2.7 0 -1.5 -0.2 -2.9 -0.5 -1.1 -0.3M182.1 412l-1 -2.5 -0.1 -1.5 0.5 -1.9 0.7 -1.3 1 -1.2 1.2 -1 1.3 -1 1.4 -0.8 1.5 -0.8 1.5 -0.8 1.5 -0.8 1.4 -0.8 1.5 -0.8 1.4 -0.8 1.4 -0.9 1.4 -0.8 1.3 -0.9 1.3 -0.9 1.3 -0.9 1.5 -0.7 1.6 -0.7 1.9 -0.5 2.1 -0.4 2.4 -0.1 2.6 -0.1 2.9 0.2 1.4 -0.8 -0.3 -1.9 -0.1 -1.8 0.1 -1.6 0.6 -1.3 1 -1 1.3 -0.8 1.5 -0.8 1.5 -0.7 1.5 -0.7 1.5 -0.7 1.4 -0.7 1.4 -0.8 1.3 -0.8 1.3 -0.8 1.3 -0.9 1.3 -0.8 1.2 -0.8 1.3 -0.8 1.4 -0.8 1.4 -0.7 1.5 -0.7 1.7 -0.6 1.8 -0.4 1.7 -0.2 2.7 -0.1 2.3 0.2 1.4 0.2 2.9 0.2 -1.4 -2.2 -0.1 -1.4 0.4 -1.7 0.6 -1.2 0.8 -1.1 1 -0.9 1.2 -0.9 1.3 -0.7 1.3 -0.7 1.4 -0.7 1.4 -0.8 1.3 -0.7 1.3 -0.7 1.2 -0.8 1.2 -0.8 1.2 -0.8 1.2 -0.8 1.3 -0.7 1.3 -0.8 1.4 -0.6 1.6 -0.6 1.7 -0.5 1.8 -0.4 1.9 -0.3 1.9 -0.2 2.4 0.1 1.8 0.4 1.7 0.5 1.5 0.6 1.4 0.6 1.5 0.7 -0.5 -1.2 -1.5 -2.2 -0.6 -1.1 -0.5 -1.8 0.1 -1.4 0.4 -1.2 1.5 -2 1 -0.8 1.1 -0.8 1.3 -0.7 1.3 -0.7 1.3 -0.7 1.3 -0.6 1.3 -0.7 1.3 -0.7 1.2 -0.7 1.1 -0.7 1.2 -0.8 1 -0.8 1.2 -0.7 1.2 -0.7 1.5 -0.6 1.7 -0.4 2.1 -0.2 1.6 0 2.4 0 2.4 0.1 0.4 -1.7 -0.2 -1.3 0 -1.5 0.4 -1.2 1.8 -1.8 1.1 -0.7 1.2 -0.7 1.2 -0.6 1.3 -0.7 1.2 -0.7 1.2 -0.6 1.1 -0.7 1.2 -0.7 1.1 -0.7 1.1 -0.7 1.1 -0.7 1.2 -0.7 1.1 -0.7 1.3 -0.6 1.2 -0.5 1.6 -0.6 1.8 -0.3 2.1 -0.2 2.7 0.2 2.4 0.3 1.3 -0.7 -0.5 -1.7 -0.1 -1.4 0.3 -2.4 1.6 -1.6 1.2 -0.6 1.2 -0.6 1.3 -0.6 1.3 -0.6 1.2 -0.6 1.2 -0.6 1.7 -1.1 1.4 -1 2 -1.4 2.1 -1.4 1.3 -0.5 1.3 -0.4 1.9 -0.4 1.4 -0.1 2.6 -0.2 2.2 0.1 0.6 0.1M369.8 285.7l0.6 1.5 0 1.4 -0.9 1.7 -1.9 1.5 -2.3 1.2 -1.2 0.6 -1.2 0.6 -1.2 0.7 -1.2 0.6 -2.2 1.3 -2.1 1.4 -2.1 1.3 -1.2 0.7 -1.2 0.6 -1.4 0.5 -1.7 0.4 -2.1 0.1 -1.4 0.1 -2.2 -0.2 -1.8 -0.2 -1.3 0.6 0.6 1.6 -0.3 2.4 -1 2 -1.9 1.5 -1.2 0.7 -1.2 0.6 -1.3 0.7 -1.2 0.6 -1.2 0.6 -1.3 0.7 -1.1 0.7 -1.2 0.7 -1.1 0.7 -1 0.7 -1.2 0.7 -1.1 0.7 -1.3 0.7 -1.4 0.5 -1.7 0.5 -1.8 0.3 -2 0.2 -2.4 0.1 -2.8 -0.5 -0.2 1.5 0.3 1.3 -0.3 1.4 -1.3 2.1 -2 1.6 -1.2 0.7 -1.2 0.7 -1.3 0.7 -1.3 0.6 -1.3 0.7 -1.3 0.7 -1.2 0.7 -1.2 0.7 -1.2 0.7 -1.2 0.8 -1.1 0.8 -1.1 0.8 -1.2 0.7 -1.4 0.7 -1.5 0.5 -2 0.3 -2.5 0 -2.6 -0.3 -2 -0.3 -1.9 -0.3 -1.7 -0.5 -1.4 -0.6 -1.3 -0.7 -1.3 -0.7 -1.2 -0.7 -1.3 -0.7 -1.3 -0.7 -1.4 -0.6 -1.5 -0.5 1.2 2.1 1 0.8 1.2 0.8 1.2 0.7 1.3 0.7 1.2 0.8 1.1 0.8 0.9 0.9 1.2 2.2 0.1 1.4 -0.7 1.7 -1.9 1.8 -1.2 0.8 -1.2 0.8 -1.3 0.7 -1.3 0.8 -1.3 0.7 -1.3 0.7 -1.3 0.8 -1.2 0.7 -1.3 0.8 -1.3 0.8 -1.2 0.7 -1.4 0.8 -1.3 0.7 -1.5 0.6 -1.6 0.6 -1.8 0.5 -2.1 0.1 -2.3 -0.1 -1.9 -0.4 -1.8 -0.4 -1.5 -0.6 -1.6 -0.6 -1.4 -0.6 -1.4 -0.7 -1.4 -0.7 -1.3 -0.6 -1.4 -0.7 -1.4 -0.7 -1.3 -0.6 -1.3 -0.7 -1.3 -0.8 -1.1 -0.8 -1.6 -1.9 -1.1 -2.3 -0.3 -2.1 0.1 -1.4 0.5 -1.2 1.5 -1.8 1.4 -1 1.3 -0.7 1.3 -0.7 1.4 -0.7 1.3 -0.6 1.3 -0.7 1.3 -0.8 1.2 -0.7 1.3 -0.8 1.2 -0.7 1.2 -0.7 1.3 -0.7 1.5 -0.6 1.7 -0.5 1.9 -0.3 2.3 -0.1 2.5 0.2 2.1 0.3 1.4 0.2 2.5 0.3 2.3 0.1 0 -1.4 -1.2 -2.1 -1.1 -2.1 0 -1.9 0.9 -1.3 1.6 -1.5 1.2 -0.8 1.1 -0.7 1.3 -0.6 1.3 -0.7 1.3 -0.7 1.2 -0.6 1.3 -0.7 1.2 -0.7 1.2 -0.7 1.1 -0.7 1.2 -0.7 1.2 -0.7 1.2 -0.6 1.4 -0.6 1.6 -0.5 1.8 -0.3 1.5 -0.1 2.6 -0.1 2.3 0 2.2 0.2 0.3 -1.5 -0.5 -1.8 0 -1.4 1.3 -1.9 2.2 -1.4 1.2 -0.6 1.2 -0.7 1.2 -0.6 1.2 -0.6 1.2 -0.7 1.1 -0.7 1.2 -0.6 1.1 -0.7 1.2 -0.6 1.1 -0.7 1.2 -0.6 1.2 -0.6 1.3 -0.6 1.4 -0.5 1.6 -0.4 2.1 -0.2 2.3 0.1 2.1 0.1 2.1 0.2 1.6 0.2 -0.4 -2.2 -0.5 -2 0.9 -2 1.6 -1.6 2.2 -1.3 1.1 -0.7 1.2 -0.6 1.2 -0.6 1.1 -0.6 2.2 -1.2 2.2 -1.3 2.2 -1.2 1.2 -0.6 1.3 -0.5 1.5 -0.5 1.5 -0.3 1.7 -0.2 2.4 -0.1 2 0.2 1 0.1M334.6 267.8l0.9 1.1 0.3 1.9 -1.2 1.7 -1.9 1.4 -2.2 1.2 -1.1 0.6 -1.2 0.6 -1.2 0.6 -2.3 1.2 -2.1 1.3 -2.2 1.3 -1.1 0.6 -1.3 0.6 -1.3 0.5 -1.5 0.4 -1.7 0.4 -1.8 0.3 -2.3 0 -2 -0.3 -1.5 -0.5 -1.4 -0.5 -1.8 -0.3 -1.3 -0.2 1.6 1.3 1.6 1.7 1.4 1.8 0.1 1.4 -1.7 1.6 -2.3 1.3 -1.2 0.6 -1.2 0.7 -1.2 0.6 -1.3 0.6 -1.1 0.6 -1.2 0.7 -1.1 0.6 -1.2 0.7 -1.1 0.7 -1.1 0.7 -1.1 0.7 -1.2 0.6 -1.2 0.7 -1.4 0.5 -1.6 0.5 -1.8 0.2 -1.6 0.1 -2.4 0 -1.9 -0.3 -1.6 -0.4 -1.4 -0.5 -1.3 -0.6 1.9 1.6 1.1 1.5 0.5 1.5 -0.9 1.8 -1.1 1.1 -2.2 1.5 -1.3 0.6 -1.2 0.7 -1.3 0.6 -1.2 0.7 -1.3 0.7 -1.1 0.7 -1.2 0.7 -1.2 0.7 -1.1 0.7 -1.2 0.7 -1.3 0.7 -1.3 0.6 -1.5 0.6 -1.5 0.5 -1.6 0.4 -1.8 0.4 -2.1 0.2 -1.5 0 -1.9 -0.3 -1.7 -0.4 -1.5 -0.5 -1.3 -0.5 -1.4 -0.7 -1.3 -0.6 -1.2 -0.7 -1.2 -0.6 -1.2 -0.7 -1.2 -0.7 -1.3 -0.6 -1.3 -0.6 -1.2 -0.6 -1.2 -0.7 -1.9 -1.5 -1 -2.1 -0.1 -1.7 0 -1.3 0.8 -2.3 2 -1.6 1.2 -0.7 1.2 -0.7 1.2 -0.6 1.3 -0.7 1.2 -0.6 1.2 -0.6 1.3 -0.7 1.2 -0.6 1.2 -0.7 1.2 -0.6 1.3 -0.6 1.3 -0.6 1.3 -0.5 1.7 -0.5 1.6 -0.4 1.9 -0.3 1.8 0 2 0.2 1.7 0.3 1.9 0.3 1.6 0.3 -1.4 -1.7 -0.5 -1.9 0.2 -1.7 0.7 -1.6 1.9 -1.6 1.1 -0.7 1.2 -0.6 1.2 -0.6 1.3 -0.6 1.2 -0.6 1.2 -0.6 1.2 -0.6 1.1 -0.6 2.3 -1.3 2.3 -1.2 1.2 -0.6 1.4 -0.5 1.7 -0.3 2 -0.2 2.2 0 2 0.2 1.8 0.2 1.7 0.4 1.4 0.4 -0.5 -2.2 -0.8 -2 0 -1.4 0.9 -1.5 1.1 -1 2.1 -1.3 2.3 -1.2 2.3 -1.1 2.3 -1.2 2.2 -1.2 2.2 -1.2 1.2 -0.5 1.3 -0.5 1.4 -0.5 1.7 -0.3 2.1 -0.1 2.5 0.2 2.5 0.2 0.4 0.1M116.4 367.5l-1 -1.4 -0.5 -2.5 0 -1.4 0.3 -1.5 1.1 -1.9 1.1 -1 1.3 -0.8 1.4 -0.8 1.4 -0.7 1.5 -0.8 1.5 -0.7 1.4 -0.7 1.4 -0.8 1.4 -0.7 1.3 -0.8 1.4 -0.8 1.3 -0.8 1.4 -0.7 1.4 -0.7 1.5 -0.7 1.7 -0.6 1.8 -0.4 2.1 -0.3 2.4 -0.1 2.5 0.3 1.7 0.4 1.6 0.5 1.5 0.6 1.3 0.5 0.7 -1.2 -1.1 -1.2 -1.1 -1.8 -0.1 -1.6 0.5 -1.4 0.6 -1.2 0.8 -1 1 -1 1.2 -0.8 1.3 -0.8 1.3 -0.7 1.4 -0.7 1.4 -0.7 1.3 -0.7 1.4 -0.7 1.3 -0.7 1.3 -0.8 1.3 -0.7 1.3 -0.8 1.3 -0.7 1.3 -0.7 1.4 -0.6 1.6 -0.6 1.9 -0.3 2.2 -0.2 2.5 0 2.4 0.1 2.1 0.2 1.3 0.2 2.1 0.6 1.4 0.5 1.4 0.7 1.2 0.6 1.2 0.7 1.1 0.8 1.1 0.7 1 0.8 1.1 0.7 1.1 0.8 1.1 0.8 1.1 0.7 1 0.8 1.5 1.4 1 1.4 0.4 2.5 -0.5 1.3 -0.8 1.1 -1 0.9 -1.1 0.8 -1.3 0.8 -1.2 0.8 -1.4 0.8 -1.3 0.7 -1.4 0.7 -1.3 0.8 -1.4 0.7 -1.3 0.7 -1.4 0.8 -1.3 0.8 -1.3 0.7 -1.4 0.8 -1.3 0.8 -1.4 0.7 -1.5 0.6 -1.7 0.6 -1.5 0.4 -2.6 0.2 -2.8 -0.1 -1.8 -0.4 -1.5 -0.6 -1.4 -0.6 -1.3 -0.7 -2.2 -0.2 1.4 2 1.6 2 0.5 2.1 -0.3 1.4 -0.8 1.2 -1 1 -1.3 0.8 -1.4 0.8 -1.4 0.8 -1.4 0.7 -1.5 0.8 -1.4 0.8 -1.4 0.7 -1.4 0.8 -1.4 0.9 -1.3 0.8 -1.4 0.8 -1.3 0.9 -1.4 0.8 -1.4 0.7 -1.5 0.8 -1.7 0.7 -1.7 0.5 -2.2 0.3 -1.5 0 -1.4 -0.1 -2.6 -0.5 -1.8 -0.5 -1.8 -0.5 -1.5 -0.5 -1.3 -0.6M299.6 250.1l1.2 1.1 0.5 2 -1.1 1.7 -1.6 1.5 -2.1 1.2 -2.4 1.1 -1.2 0.6 -1.2 0.5 -2.3 1.2 -2.1 1.2 -2.2 1.2 -1.3 0.6 -1.3 0.4 -1.6 0.4 -1.8 0.3 -2 0.1 -2.5 -0.1 -2 -0.4 -1.4 -0.4 -1.3 -0.5 -1.3 -0.5 -1.5 -0.4 -1.4 -0.5 -1.4 -0.4 2 1.3 2.1 1.3 1.7 1.4 0.8 2 -0.4 1.5 -1 1.4 -1.7 1.5 -2 1.4 -2.3 1.3 -1.2 0.6 -1.3 0.6 -1.2 0.5 -1.3 0.6 -1.3 0.5 -1.2 0.6 -1.2 0.6 -1.2 0.7 -1.2 0.6 -1.3 0.5 -1.6 0.4 -1.8 0.3 -2.3 0 -2.3 -0.2 -1.7 -0.3 -1.5 -0.5 -1.3 -0.5 -1.2 -0.6 -1.2 -0.5 -1.2 -0.6 1.9 1.4 2 1.4 1 1.3 0.4 1.5 -0.4 1.5 -0.7 1.6 -1.8 1.8 -1.1 0.7 -1.3 0.6 -1.4 0.5 -1.3 0.6 -1.3 0.6 -1.3 0.6 -1.3 0.6 -1.2 0.7 -1.2 0.6 -1.1 0.7 -1.2 0.7 -1.2 0.7 -1.3 0.6 -1.5 0.5 -1.5 0.5 -1.9 0.3 -2.6 -0.1 -2 -0.4 -1.6 -0.4 -1.6 -0.4 -1.6 -0.4 -1.5 -0.5 -1.4 -0.4 -1.4 -0.6 -1.2 -0.6 -1.2 -0.6 -1.1 -0.6 -1.1 -0.7 -1.2 -0.6 -2.2 -1.3 -1.7 -1.5 -1.3 -1.8 -1 -1.8 -0.3 -1.1M82 344.3l-0.7 -1.7 0.1 -2.2 0 -0.4M111.9 324.5l2.1 0.2 1.8 0.3 1.7 0.4 2 0.2 1.5 0.1 -1 -1.6 -0.8 -2.1 -0.1 -1.2M147.9 306.2l2.1 0.1 1.9 0.3 1.7 0.4 1.3 0.3 2 0.4 1.6 0.4 -1.3 -1.8 -1 -1.9 -0.7 -2.1M182.2 288.7l1.9 0.3 1.8 0.2 1.8 0.3 1.8 0.3 1.6 0.4 1.4 0.5 1.3 0.5 1.1 0.6 2.2 1.4 2.1 1.3 2.1 1.4 2 1.5 1 0.9 1.4 1.5 0.6 2.2 -0.5 1.4 -1.2 2 -1.9 1.8 -1.2 0.7 -1.3 0.6 -1.4 0.6 -1.4 0.6 -1.4 0.6 -1.3 0.7 -1.3 0.7 -1.2 0.7 -1.2 0.7 -1.1 0.8 -1.3 0.7 -1.3 0.6 -1.6 0.6 -1.3 0.3 -2.4 0.3 -2.1 0.2 -1.5 0.1 -2.2 -0.1 -1.8 -0.4 -1.6 -0.4 -1.4 -0.6 -1.3 -0.6 -1.3 -0.6 -1.2 -0.6 1.3 1.9 1.3 1.8 0.9 1.6 0.6 1.5 0 1.9 -1.7 1.9 -1.2 0.8 -1.3 0.7 -1.3 0.7 -1.3 0.8 -1.4 0.6 -1.3 0.7 -1.3 0.7 -1.4 0.8 -1.3 0.7 -1.3 0.7 -1.3 0.8 -1.3 0.7 -1.2 0.8 -1.4 0.7 -1.4 0.7 -1.6 0.5 -1.7 0.4 -2.5 0.1 -2.5 0 -2.5 -0.1 -1.9 -0.3 -1.5 -0.5 -1.3 -0.7 -1.1 -0.7 -1.2 -0.7 -1.1 -0.7 1.8 1.7 1 0.7 1.3 2 0.5 1.9 -0.4 1.4 -0.6 1.2 -0.7 1.2 -0.9 1 -1.1 0.9 -1.3 0.8 -1.3 0.8 -1.4 0.7 -1.4 0.8 -1.4 0.7 -1.4 0.8 -1.3 0.8 -1.4 0.7 -1.4 0.8 -1.4 0.7 -1.5 0.7 -1.5 0.7 -1.6 0.7 -1.5 0.6 -1.7 0.6 -1.8 0.5 -1.9 0.4 -2.4 0.1 -3.1 -0.4 -1.8 -0.4 -1.5 -0.5 -1.5 -0.6 -0.4 -0.2M216.4 271.4l1.4 0.1 2.2 0.4 1.3 0.3 2 0.3 1.5 0.3 -1.4 -1.5 -0.9 -1.9 0 -1.2M246.3 256.1l2.1 0.1 2.1 0.1 1.9 0.2 1.7 0.3 0.5 -1.4 -1 -1.4 -0.6 -1.3M277.1 240.5l1.8 0.1 1.9 0.2 1.1 0.2M178.4 400.4l-2.1 0.4 -2.1 0.1 -2.8 0.1 -2.5 -0.1 -2.1 -0.4 -1.7 -0.6 -1.3 -0.7 -1.2 -0.9 -1.1 -0.9 -1 -1 -1.1 -0.8 -1.3 -0.9 -1.3 -0.7 -1.5 -0.7 -1.4 -0.7 -1.4 -0.7 -1.2 -0.8 -1.1 -1 -0.7 -1 -0.5 -1.2 -0.3 -1.4 -0.1 -1.4 0 -1.5 0.8 -1.9 1.4 -1.6 1.2 -0.9 1.2 -1 1.1 -0.7 1.6 -0.9 1.4 -0.9 1.4 -0.7 1.5 -0.8 1.4 -0.8 1.4 -0.8 1.4 -0.7 1.4 -0.8 1.5 -0.8 1.5 -0.7 1.5 -0.7 1.8 -0.5 1.8 -0.4 2.6 -0.1 2.7 0 2.3 0.2 2 0.4 1.7 0.5 1.5 0.6 2 0.3 1.8 0.5 1.1 0.9 0 1.3 1.2 0.9 1.1 0.9 1.1 0.8 1.2 0.8 1.2 0.8 1.3 0.8 1.3 0.8 1.2 0.8 1 0.9 0.8 1.1 0.1 1.4 -0.8 1.9 -0.8 1.2 -0.9 1.2 -0.9 1.1 -1.1 1 -1.3 0.9 -1.3 0.9 -1.5 0.8 -1.4 0.7 -1.5 0.8 -1.5 0.8 -1.4 0.8 -1.4 0.9 -1.3 0.9 -1.4 0.9 -1.3 0.8 -1.5 0.9 -1.6 0.7 -1.8 0.6M216.3 378.3l-2.2 0.3 -1.6 0.1 -2.8 0.1 -2.4 -0.1 -1.3 -0.3 -2.3 -0.7 -1.4 -0.7 -1.3 -0.7 -1.3 -0.8 -1.2 -0.8 -1.4 -0.7 -1.3 -0.7 -1.3 -0.8 -1.3 -0.7 -1.3 -0.7 -1.2 -0.8 -1.2 -0.8 -1 -0.9 -0.9 -1 -0.8 -1.4 -0.4 -1.9 0 -1.6 0.4 -1.5 0.6 -1.2 0.9 -1 1.1 -1 1.3 -0.8 1.3 -0.8 1.3 -0.7 1.4 -0.8 1.3 -0.7 1.4 -0.8 1.3 -0.7 1.4 -0.8 1.3 -0.7 1.4 -0.8 1.3 -0.7 1.4 -0.7 1.5 -0.6 1.6 -0.6 1.8 -0.5 2.2 -0.2 1.3 0.1 1.5 0.1 2.6 0.4 1.9 0.3 1.9 0.4 1.8 0.4 1.8 0.4 1.5 0.6 1.2 0.8 1.4 2.1 1 0.8 1.1 0.8 1.3 0.8 1.2 0.7 1.3 0.8 1.2 0.7 1.1 0.9 0.8 1 0.7 2.6 -0.2 1.5 -0.4 1.4 -0.6 1.2 -1 0.9 -1.3 0.9 -1.3 0.8 -1.4 0.7 -1.4 0.7 -1.5 0.7 -1.3 0.8 -1.4 0.8 -1.2 0.8 -1.3 0.9 -1.2 0.8 -1.3 0.9 -1.3 0.8 -1.4 0.8 -1.6 0.6 -1.8 0.5M217.9 336.6l-1.7 0.5 -1.9 0.4 -2.3 0.1 -2.7 -0.4 -1.3 -0.5 -1.5 -0.7 -1.3 -0.7 -1.3 -0.7 -1.3 -0.6 -1.3 -0.7 -1.3 -0.6 -1.3 -0.6 -1.3 -0.7 -1.3 -0.6 -1.2 -0.7 -1.1 -0.7 -1.1 -0.8 -1.7 -1.7 -1.4 -1.9 -0.4 -1.3 0 -1.5 0.6 -1.2 1.6 -1.8 1.1 -0.8 1.1 -0.8 1.2 -0.8 1.3 -0.7 1.2 -0.7 1.3 -0.7 1.3 -0.6 1.3 -0.7 1.3 -0.7 1.3 -0.6 1.3 -0.7 1.3 -0.7 1.3 -0.6 1.4 -0.6 1.5 -0.5 1.6 -0.5 1.5 -0.3 2.6 -0.1 2.1 0.2 1.8 0.3 1.6 0.4 1.6 0.5 1.4 0.5 1.4 0.6 1.2 0.6 1.1 0.7 1.2 0.7 1.1 0.7 1.1 0.7 1.1 0.8 1.1 0.7 2 1.5 2 1.6 1.7 1.8 0.9 1.9 -1.3 2.1 -1 0.9 -1.1 0.7 -1.2 0.8 -1.2 0.7 -1.3 0.7 -1.3 0.7 -1.3 0.7 -1.3 0.7 -1.3 0.7 -1.2 0.7 -1.3 0.8 -1.2 0.7 -1.2 0.8 -1.3 0.7 -1.3 0.7 -1.5 0.6 -1.5 0.6" stroke="#90ee10" fill="none" stroke-width="1.0"/>
<path d="M253.4 460.2l0.3 -1.8 0.4 -1.6 0.5 -1.5 0.5 -1.6 1 -1.2 -1.8 0.6 -2.3 0.4 -2.4 0.3 -1.4 0.1 -3 0.1 -1.1 -0.1M446.3 324.6l0.1 1.4 0 1.5 -0.8 1.8 -2.3 1.4 -1.3 0.6 -1.4 0.5 -1.4 0.6 -1.3 0.6 -1.2 0.6 -1.2 0.7 -1.1 0.7 -2.1 1.6 -1.8 1.6 -1.7 1.8 -2 1.5 -1.5 0.6 -1.6 0.1 -2.6 0 -2.4 0 -2.1 0.6 0.6 1.6 -0.1 1.3 -0.8 2.3 -1.8 1.7 -1.4 0.6 -1.5 0.6 -1.5 0.5 -1.5 0.6 -1.3 0.6 -1.3 0.7 -1.2 0.8 -1.1 0.8 -1 0.8 -1.8 1.8 -1.9 1.8 -1.1 0.8 -1.3 0.6 -1.5 0.6 -1.7 0.5 -1.9 0.4 -1.5 0.1 -2.4 -0.1 -1.7 -0.3 0.8 1.9 0.4 1.7 -0.2 1.3 -1.9 1.8 -1.3 0.7 -1.4 0.7 -1.4 0.7 -1.5 0.6 -1.4 0.7 -1.3 0.6 -1.4 0.8 -1.2 0.8 -1.2 0.8 -1.2 0.8 -1 0.9 -1 0.9 -1 0.9 -1 1 -0.9 0.9 -1.1 0.9 -1.3 0.8 -1.9 0.4 -1.3 0.1 -3 0.3 -2.7 0 -2.4 -0.2 -0.6 1.7 0.3 1.7 -0.2 1.4 -0.7 1.1 -0.8 1.1 -1.1 0.9 -1.4 0.7 -1.5 0.7 -1.2 0.6 -1.7 0.9 -1.4 0.7 -1.3 0.8 -1.4 0.8 -1.2 0.8 -1.3 0.9 -1.2 0.8 -1.2 0.9 -1.2 0.9 -1.2 1 -1 1 -1 1 -1 1 -1.2 0.9 -1.9 0.5 -2.6 0.1 -3.2 -0.4 -2.3 -0.3 -0.6 1.9 0 1.6 -0.4 1.4 -0.6 1.3 -0.6 1.3 -0.9 1.2 -1.2 0.9 -1.5 0.8 -1.6 0.7 -1.6 0.7 -1.7 0.7 -1.3 0.5 -1.7 1 -1.4 0.8 -1.3 0.9 -1.3 1 -1.1 1 -1.1 1.1 -1 1.1 -1 1.1 -1.1 1 1.5 -0.8 1.6 -0.7 1.6 -0.8 1.7 -0.7 1.5 -0.7 1.6 -0.8 1.4 -0.8 1.3 -0.9 1.2 -1 1.1 -1 1.1 -1 1.1 -1.1 1.1 -1 1.2 -0.9 1.4 -0.8 1.6 -0.7 1.9 -0.5 1.9 -0.5 2.1 -0.4 2.2 -0.3 1.9 -0.5 -0.4 -1.9 0.1 -1.6 0.7 -1.2 1.2 -1 1.3 -0.8 1.5 -0.7 1.5 -0.7 1.5 -0.7 1.4 -0.8 1.4 -0.8 1.4 -0.8 1.3 -0.8 1.3 -0.8 1.3 -0.8 1.2 -0.9 1.2 -0.9 1.2 -0.9 1.1 -0.9 1.1 -0.9 1.2 -0.9 1.2 -0.8 1.3 -0.8 1.5 -0.7 1.8 -0.5 2.1 -0.3 2.5 -0.1 1.6 -0.1 0.6 -1.7 0 -1.5 0.3 -1.4 0.7 -1.1 0.9 -1 1.2 -0.8 1.4 -0.7 1.4 -0.7 1.5 -0.7 1.5 -0.6 1.4 -0.7 1.4 -0.7 1.2 -0.8 1.3 -0.8 1.1 -0.8 1.1 -0.9 1 -0.8 1.1 -0.9 1 -0.9 1 -0.9 1.1 -0.8 1.1 -0.9 1.2 -0.7 1.4 -0.7 1.7 -0.5 1.3 -0.2 2.6 0 1.1 -0.8 0.7 -1.6 1.3 -2.1 2 -1.7 1.2 -0.8 1.3 -0.6 1.4 -0.7 1.4 -0.6 1.4 -0.6 1.3 -0.7 1.2 -0.7 1.1 -0.8 1.1 -0.8 1.8 -1.8 1.7 -1.8 1 -0.8 1.2 -0.7 1.5 -0.6 1.9 -0.4 1.9 -0.3 1.8 -0.2 2.6 -0.1 1.1 -0.8 -0.6 -1.6 -0.1 -1.4 1.3 -1.9 1.2 -0.7 1.4 -0.7 1.4 -0.5 1.4 -0.6 1.3 -0.6 1.3 -0.6 1.2 -0.7 1.2 -0.7 1.1 -0.7 2 -1.6 1.7 -1.6 1.6 -1.8 2.1 -1.5 1.3 -0.5 1.8 -0.4 2 -0.2 1.4 -0.1 0.9 0M213.7 433.4l0.1 -1.9 0.6 -1.4 1 -1.2 1.2 -1.1 -2.7 0 -2.3 0.3 -2.8 0.1 -3.1 -0.3M409.4 305.8l0.4 1.5 -0.8 2 -2.5 1.3 -1.4 0.5 -1.5 0.4 -1.3 0.6 -1.2 0.6 -1.1 0.7 -1.2 0.7 -2.1 1.4 -2.2 1.4 -1.4 1 -1.7 1.2 -2.1 1.4 -1.2 0.7 -1.3 0.6 -1.4 0.5 -1.8 0.4 -2.8 -0.2 -2.4 0 0.8 1.8 0.1 1.3 -0.8 2.2 -2.2 1.5 -1.4 0.5 -1.5 0.5 -1.6 0.5 -1.3 0.7 -1.3 0.6 -1.2 0.7 -1.2 0.7 -1.1 0.7 -1.1 0.8 -1 0.8 -1.8 1.7 -1.9 1.7 -1.2 0.8 -1.4 0.6 -1.7 0.2 -1.9 0.6 -1.8 0.2 -2.4 -0.1 -1 1.1 0 1.4 -1.7 1.9 -1.2 0.7 -1.2 0.8 -1.2 0.7 -1.2 0.7 -1.3 0.8 -1.3 0.7 -1.3 0.7 -1.3 0.7 -1.2 0.7 -1.3 0.7 -1.2 0.8 -1.1 0.8 -1.1 0.8 -1.1 0.9 -1 0.8 -1.4 2.1 -2.3 0.2 -1.6 0.6 -2.1 0.2 -2.5 0.1 -2.6 -0.2 -2.3 0.3 0.5 1.8 0.6 1.8 0 1.5 -0.5 1.3 -1 0.9 -1.3 0.7 -1.5 0.7 -1.7 0.5 -1.5 0.6 -1.5 0.7 -1.4 0.7 -1.3 0.8 -1.3 0.7 -1.3 0.8 -1.2 0.9 -1.2 0.8 -1.1 0.9 -1.1 0.9 -1 1 -1.1 0.9 -1.1 0.9 -1.4 0.8 -1.5 0.7 -1.8 0.5 -2 0.4 -1.7 0 -2.3 -0.1 -1.8 -0.3 -0.3 1.4 0 1.7 -0.3 1.4 -0.6 1.2 -0.8 1.2 -1.2 0.9 -1.4 0.8 -1.5 0.7 -1.6 0.6 -1.7 0.6 -1.6 0.7 -1.4 0.8 -1.4 0.8 -1.3 0.8 -1.2 0.9 -1.1 1 -1.1 1 -1.1 1 -1.2 1 -1.3 0.8 -1.5 0.8 -1.6 0.7 -1.7 0.6 -1.4 0.5 -2 0.8 -2.1 0.4 -2.8 -0.3 -2.3 0.5 0.9 2.1 -0.6 1.5 -1.1 1.1 -1.3 0.9 -1.3 1 -1.4 0.8 -1.4 0.8 -1.5 0.8 -1.5 0.9 -1.5 0.8 -1.5 0.8 -1.5 0.8 -1.4 0.9 -1.5 0.9 -1.3 0.9 -1.3 0.9 -1.2 1.1 -0.9 1.2 -1 1.2 1.9 -0.6 1.5 -0.8 1.6 -0.8 1.5 -0.8 1.5 -0.8 1.5 -0.9 1.4 -0.9 1.4 -0.8 1.4 -0.9 1.3 -1 1.4 -0.9 1.3 -0.9 1.4 -0.9 1.3 -0.9 1.4 -0.8 1.4 -0.9 1.6 -0.7 2 -0.5 2.9 0.2 2.2 -0.4 -0.2 -1.8 0.7 -1.3 1 -1.1 1.1 -1 1.2 -1 1.3 -0.9 1.3 -0.9 1.4 -0.8 1.4 -0.8 1.4 -0.8 1.5 -0.8 1.5 -0.7 1.4 -0.8 1.4 -0.8 1.3 -0.9 1.3 -0.8 1.3 -0.9 1.2 -0.9 1.2 -0.9 1.2 -0.9 1.3 -0.8 1.4 -0.8 1.6 -0.6 1.8 -0.6 2.1 -0.3 1.9 -0.1 2.4 0.2 1.7 0.3 -0.5 -1.9 0 -1.6 0.4 -1.4 0.8 -1.1 1 -0.9 1.3 -0.9 1.3 -0.7 1.5 -0.8 1.4 -0.7 1.5 -0.6 1.4 -0.7 1.5 -0.8 1.3 -0.7 1.3 -0.8 1.3 -0.8 1.2 -0.8 1.1 -0.9 1.1 -0.9 1.1 -0.8 1.1 -0.9 1.1 -0.9 1.3 -0.8 1.5 -0.6 1.8 -0.4 2.3 -0.2 2.8 0.1 2.9 0.2 -0.8 -1.1 -0.2 -1.4 0.5 -2 0.7 -1.3 0.9 -1 1.1 -0.9 1.3 -0.7 1.3 -0.7 1.4 -0.7 1.4 -0.6 1.3 -0.7 1.4 -0.7 1.2 -0.8 1.3 -0.7 1.1 -0.8 1.2 -0.8 1.1 -0.8 1.1 -0.8 1.1 -0.8 1.2 -0.7 1.2 -0.8 1.2 -0.7 1.3 -0.7 1.5 -0.6 1.7 -0.4 2.2 -0.2 2.6 0 -0.8 -1.8 1.1 -2.1 1 -0.9 1.2 -0.7 1.2 -0.7 1.2 -0.7 1.4 -0.7 1.3 -0.6 1.3 -0.7 1.3 -0.6 1.2 -0.7 1.2 -0.7 1.1 -0.7 1.1 -0.8 1.1 -0.7 2 -1.6 2.1 -1.6 1.1 -0.7 1.2 -0.7 1.3 -0.6 1.4 -0.5 1.8 -0.4 2.5 0 1.1 -0.7 0.6 -1.8 1 -1.2 2 -1.6 1.1 -0.7 1.2 -0.7 1.1 -0.7 1.1 -0.6 1.2 -0.7 1.2 -0.7 1.1 -0.6 1.2 -0.7 1.1 -0.7 2.1 -1.4 2.1 -1.4 1.9 -1.5 2.1 -1.4 1.4 -0.5 1.6 -0.4 2.1 -0.2M178.5 409.5l0.1 -1.7 0.4 -1.6 0.8 -1.3 1 -1.1 1.2 -1 1.3 -0.9 1.5 -0.8 1.6 -0.8 1.5 -0.7 1.6 -0.8 1.6 -0.7 1.5 -0.8 1.4 -0.8 1.5 -0.8 1.3 -0.9 1.3 -0.9 1.3 -0.9 1.2 -0.9 1.3 -1 1.1 -0.7 1.6 -0.9 1.7 -0.7 1.9 -0.4 2.3 -0.3 1.9 -0.1 2.9 -0.2 1.3 -0.8 0 -1.5 -0.1 -1.5 0.3 -1.7 0.9 -1.4 1.1 -0.9 1.5 -0.8 1.7 -0.6 1.9 -0.4 1.6 -0.7 1.6 -0.6 1.4 -0.7 1.4 -0.8 1.4 -0.8 1.3 -0.8 1.2 -0.9 1.3 -0.8 1.2 -0.9 1.2 -0.8 1.2 -0.9 1.2 -0.9 1.3 -0.7 1.4 -0.6 1.7 -0.7 1.9 -0.5 1.3 -0.2 2.8 -0.1 2.7 -0.2 0 -1.4 0.4 -1.5 0.6 -1.2 0.8 -1.1 1.1 -0.9 1.3 -0.8 1.3 -0.7 1.5 -0.6 1.4 -0.7 1.4 -0.7 1.4 -0.7 1.4 -0.7 1.3 -0.7 1.2 -0.8 1.2 -0.8 1.2 -0.8 1.2 -0.8 1.1 -0.8 1.2 -0.8 1.3 -0.7 1.4 -0.7 1.5 -0.6 1.7 -0.5 1.2 -0.3 2.3 -0.6 1.6 -0.3 2.5 0.1 1.9 -0.7 -0.3 -1.6 0.3 -1.3 1.4 -2.1 1.1 -0.8 1.2 -0.8 1.3 -0.7 1.3 -0.6 1.3 -0.7 1.4 -0.6 1.4 -0.7 1.3 -0.6 1.3 -0.7 1.2 -0.7 1.2 -0.7 1.1 -0.8 1 -0.8 2 -1.7 1.1 -0.7 1.2 -0.7 1.5 -0.6 1.8 -0.4 2.1 -0.2 2.5 0 1.5 -0.2 0.2 -1.5 0.1 -1.3 1.1 -2.1 2.2 -1.5 1.3 -0.6 1.3 -0.6 1.3 -0.7 1.3 -0.6 1.3 -0.6 1.2 -0.7 1.2 -0.7 1.1 -0.7 1.1 -0.7 2.1 -1.4 2.1 -1.5 1.1 -0.7 1.2 -0.7 1.3 -0.6 1.5 -0.4 1.6 -0.3 2.4 -0.2 2.5 0.1 1.1 -0.8 -0.1 -1.3 0.1 -2.4 -0.3 -1.5 -1.5 0.5 -1.8 0.3 -2 0.2 -1.4 0.1 -2.5 0.4 -0.5 2.3 -1.1 2 -1.9 1.5 -1.2 0.7 -1.3 0.6 -1.3 0.6 -1.3 0.6 -1.3 0.6 -1.3 0.6 -1.2 0.7 -1.1 0.6 -1.1 0.8 -2.1 1.5 -2.1 1.5 -1.1 0.7 -1.2 0.7 -1.4 0.6 -1.6 0.5 -1.6 0.3 -2.1 0.3 -2.3 0.1 -0.6 2.3 -1.4 2.1 -2.1 1.5 -1.4 0.6 -1.3 0.6 -1.4 0.7 -1.4 0.6 -1.3 0.6 -1.3 0.7 -1.3 0.7 -1.2 0.7 -1.2 0.7 -1.1 0.8 -1.1 0.8 -1 0.8 -1.1 0.8 -1 0.9 -1.2 0.7 -1.3 0.7 -1.5 0.6 -1.9 0.3 -2.6 0 -2.4 -0.3 -2.2 -0.2 -1.7 -0.2 -0.1 1.3 0.4 1.7 -0.2 1.3 -1.4 2 -1.1 1 -1.2 0.8 -1.3 0.7 -1.3 0.7 -1.4 0.7 -1.3 0.7 -1.4 0.7 -1.3 0.7 -1.3 0.8 -1.3 0.7 -1.2 0.8 -1.2 0.8 -1.2 0.8 -1.2 0.8 -1.2 0.8 -1.3 0.8 -1.3 0.8 -1.5 0.6 -1.8 0.5 -2.1 0.2 -2.8 -0.1 -2 -0.3 -1.6 -0.3 -0.4 1.3 0.1 1.6 -0.2 1.5 -0.4 1.3 -0.7 1.2 -1 0.9 -1.3 0.9 -1.4 0.7 -1.4 0.7 -1.5 0.7 -1.5 0.7 -1.5 0.7 -1.4 0.7 -1.3 0.8 -1.3 0.8 -1.3 0.9 -1.2 0.9 -1.2 0.9 -1.1 0.9 -1.2 0.9 -1.2 0.9 -1.4 0.8 -1.7 0.6 -1.7 0.2 -2.7 0.3 -2.4 0.2 -2.4 0.1 -1.1 1 -0.5 1.3 -0.8 1.2 -0.8 1.2 -0.9 1.1 -1 1.1 -1.2 1 -1.3 0.8 -1.5 0.8 -1.5 0.8 -1.5 0.7 -1.5 0.8 -1.5 0.8 -1.4 0.8 -1.4 0.8 -1.4 0.9 -1.3 0.9 -1.3 0.9 -1.2 0.9 -1.3 1 -1.4 0.8 -1.6 0.8 -1.8 0.6 -2.1 0.3 -1.8 0.2 -2.9 0.1 -2.7 0 -0.4 0M372.4 287.1l0 1.7 -0.8 1.4 -1.9 1.5 -1.1 0.6 -1.3 0.6 -1.3 0.5 -1.3 0.6 -1.3 0.5 -1.2 0.6 -1.2 0.6 -2.2 1.4 -2 1.4 -1.8 1.5 -1.4 1.1 2.6 -0.4 1.6 -0.5 1.4 -0.5 1.3 -0.5 1.3 -0.6 1.1 -0.6 2.2 -1.4 1.8 -1.5 1.8 -1.5 1.1 -1.9 2 -0.2 1.7 -0.3 1.7 -0.3 1.9 -0.2 1.7 -0.2 0.4 0M146.1 387.6l-0.2 -1.9 -0.2 -1.9 0.4 -1.6 0.9 -1.1 1.2 -0.9 1.4 -0.9 1.4 -0.8 1.4 -0.8 1.4 -0.8 1.5 -0.8 1.4 -0.7 1.5 -0.8 1.5 -0.8 1.4 -0.7 1.4 -0.8 1.4 -0.8 1.3 -0.8 1.4 -0.9 1.3 -0.8 1.3 -0.8 1.4 -0.8 1.5 -0.7 1.9 -0.4 2.4 -0.1 2.8 0.1 2.6 0.2 2.1 -0.5 -0.2 -1.8 0.1 -1.6 0.4 -1.4 0.7 -1.2 1 -0.9 1.3 -0.9 1.3 -0.7 1.4 -0.8 1.4 -0.7 1.4 -0.7 1.4 -0.7 1.4 -0.8 1.3 -0.7 1.4 -0.8 1.3 -0.7 1.3 -0.8 1.3 -0.8 1.3 -0.7 1.3 -0.8 1.4 -0.7 1.3 -0.7 1.5 -0.7 1.7 -0.5 2.1 -0.2 3.1 0.3 2.1 0.3 1.3 0.3 2.3 -0.2 -0.6 -1.8 -0.3 -1.8 0.1 -1.5 0.4 -1.2 1.8 -2 1.3 -0.7 1.3 -0.7 1.5 -0.6 1.4 -0.7 1.4 -0.6 1.4 -0.7 1.3 -0.6 1.3 -0.8 1.2 -0.7 1.2 -0.8 1.1 -0.8 1.2 -0.7 1.2 -0.8 1.3 -0.7 1.3 -0.6 1.6 -0.6 1.6 -0.3 2.5 0 2.1 0.2 2 0.3 2 0.2 2.4 -0.2 -1 -1.9 -1.2 -2.1 -0.1 -1.3 0.8 -1.3 1.9 -1.6 1.2 -0.8 1.1 -0.7 1.3 -0.7 1.4 -0.6 1.3 -0.6 1.3 -0.6 1.4 -0.7 1.2 -0.6 1.2 -0.7 1.2 -0.7 1.1 -0.7 1.2 -0.8 1 -0.7 1.1 -0.8 1.1 -0.7 1.4 -0.6 1.6 -0.5 1.8 -0.3 2.1 -0.2 1.5 0 2.7 -0.2 -0.4 -1.6 -0.1 -1.4 1.1 -2 1.1 -0.7 1.3 -0.6 1.4 -0.6 1.4 -0.5 1.2 -0.5 1.4 -0.7 1.2 -0.6 1.2 -0.6 1.2 -0.7 1.1 -0.7 1.2 -0.6 1.1 -0.7 1.2 -0.8 2 -1.3 2.1 -1.4 2.5 -1.1 2.1 -0.2 2.8 0.3 2.1 0.1 1.1 -1 -0.4 -1.4 1 -1.9 1.5 -1.4 1.2 -0.9 2.4 -1.2 1.2 -0.6 1.3 -0.5 1.2 -0.6 1.2 -0.6 2.2 -1.3 2 -1.3 2 -1.3 2.3 -1.2 1.3 -0.6 1.3 -0.5 1.5 -0.4 1.9 -0.2 1.8 0 0.5 0M338.3 269.7l-0.9 1.9 -1.7 1.5 -2.1 1.3 -1.1 0.6 -1.3 0.5 -1.2 0.5 -1.3 0.6 -1.2 0.6 -1.2 0.6 -2.2 1.2 -1.9 1.4 -2.1 1.4 -2.3 1.2 -1.4 0.5 -1.5 0.4 -1.5 0.5 -1.7 0.3 -2.1 0.1 -1.5 0.5 0.8 1.7 -1 1.9 -2.3 1.3 -1.3 0.5 -1.4 0.6 -1.3 0.5 -1.3 0.6 -1.3 0.6 -1.2 0.6 -1.2 0.6 -1.2 0.6 -1.2 0.7 -1.1 0.7 -2.1 1.4 -2 1.5 -2.1 1.5 -1.3 0.6 -1.5 0.5 -1.8 0.3 -2.1 0.2 -2.1 0.1 -0.8 2.2 -1.6 1.8 -2.3 1.4 -1.3 0.6 -1.4 0.6 -1.2 0.5 -1.5 0.6 -1.3 0.7 -1.3 0.6 -1.2 0.7 -1.1 0.8 -1.1 0.7 -1.1 0.7 -1.1 0.8 -1.2 0.7 -1.3 0.7 -1.3 0.6 -1.4 0.6 -1.4 0.6 -1.5 0.5 -1.7 0.5 -1.3 0.3 -2.7 0.2 -1.9 -0.3 -1.5 -0.5 -1.4 -0.6 1.8 1.7 0.9 1.3 -0.1 1.4 -1.8 1.8 -1.1 0.8 -1.2 0.7 -1.3 0.7 -1.4 0.6 -1.4 0.7 -1.4 0.6 -1.3 0.6 -1.4 0.7 -1.3 0.7 -1.3 0.7 -1.2 0.8 -1.2 0.7 -1.2 0.8 -1.1 0.8 -1.1 0.8 -1.2 0.8 -1.2 0.8 -1.4 0.6 -1.5 0.6 -1.7 0.5 -1.8 0.5 -2 0.3 -1.7 -0.1 -1.4 -0.3 0.2 1.6 -0.3 1.4 -0.7 1.1 -1 1 -1.1 0.8 -1.3 0.8 -1.3 0.7 -1.4 0.7 -1.3 0.8 -1.4 0.7 -1.4 0.7 -1.4 0.7 -1.4 0.7 -1.4 0.7 -1.3 0.8 -1.4 0.7 -1.2 0.8 -1.3 0.8 -1.2 0.9 -1.3 0.8 -1.2 0.8 -1.3 0.8 -1.5 0.7 -1.7 0.6 -1.9 0.4 -2.1 0.3 -2.5 0 -1.7 0.6 0 1.4 -0.6 1.5 -0.9 1.1 -1.1 0.9 -1.3 0.8 -1.6 0.7 -1.5 0.7 -1.6 0.6 -1.6 0.7 -1.5 0.7 -1.4 0.8 -1.4 0.8 -1.4 0.8 -1.4 0.8 -1.3 0.8 -1.3 0.9 -1.3 0.9 -1.3 0.9 -1.3 0.8 -1.4 0.8 -1.4 0.9 -1.5 0.7 -1.6 0.7 -2 0.4 -2.1 0 -2.1 -0.3 -1.9 -0.4 -0.3 -0.1M112.7 365l-0.2 -1.5 0.1 -1.4 0.2 -1.5 1.1 -1.7 1.2 -0.9 1.4 -0.8 1.4 -0.7 1.5 -0.7 1.6 -0.7 1.5 -0.7 1.5 -0.7 1.4 -0.7 1.4 -0.8 1.4 -0.7 1.3 -0.8 1.4 -0.8 1.3 -0.8 1.2 -0.9 1.3 -0.8 1.3 -0.7 1.5 -0.8 1.2 -0.4 2.1 -0.7 2 -0.3 2.2 -0.2 2.9 0.2 1.4 -0.7 0 -1.3 0.6 -1.5 0.7 -1.2 0.9 -1 1 -0.9 1.3 -0.8 1.4 -0.7 1.5 -0.6 1.4 -0.7 1.5 -0.6 1.4 -0.7 1.4 -0.7 1.4 -0.7 1.3 -0.7 1.3 -0.8 1.2 -0.7 1.2 -0.8 1.2 -0.8 1.2 -0.8 1.3 -0.7 1.3 -0.7 1.5 -0.6 1.9 -0.4 2 -0.1 2.4 0 2.4 0 2.2 0.2 0.4 -1.5 -0.1 -1.9 1.5 -2.1 1 -0.8 1.2 -0.7 1.3 -0.7 1.3 -0.7 1.4 -0.7 1.3 -0.6 1.3 -0.7 1.3 -0.6 1.3 -0.7 1.3 -0.7 1.3 -0.7 1.2 -0.7 1.2 -0.7 1.2 -0.7 1.2 -0.7 1.2 -0.7 1.3 -0.7 1.4 -0.6 1.6 -0.4 1.6 -0.4 2.5 -0.1 2.1 0.2 1.9 0.3 1.9 0.3 0 -1.5 0.1 -1.4 0 -1.4 0.7 -2.3 1.1 -0.8 2.4 -1.3 1.3 -0.6 1.3 -0.6 1.3 -0.6 1.3 -0.6 1.3 -0.7 1.2 -0.6 1.2 -0.6 1.2 -0.7 1.2 -0.7 1.1 -0.7 1.1 -0.7 1.2 -0.6 1.2 -0.7 1.3 -0.6 1.4 -0.5 1.6 -0.4 1.9 -0.3 1.9 0 2.1 0.1 0.7 -1.3 0.3 -1.7 0.9 -1.6 2 -1.4 1.2 -0.6 1.3 -0.6 1.3 -0.6 1.2 -0.6 1.3 -0.5 1.2 -0.6 1.3 -0.6 1.1 -0.6 2.2 -1.3 1.7 -1.1 1.5 -1 2.3 -1.2 1.4 -0.5 1.6 -0.4 1.5 -0.1 2.3 0 2 0.1 1.5 0.2 0.1 -2.2 -0.1 -1.4 1.1 -1.6 1.1 -0.8 2.3 -1.2 1.3 -0.5 1.2 -0.6 1.2 -0.5 1.2 -0.6 1.2 -0.6 2.2 -1.1 2.2 -1.3 1.7 -1.1 1.3 -0.8 2.3 -1.1 1.4 -0.5 1.6 -0.3 2.2 -0.1 2.6 0.3M304 252.3l-0.7 1.9 -1.6 1.5 -2 1.2 -2.4 1.1 -1.2 0.6 -1.2 0.5 -1.2 0.5 -1.3 0.6 -2.2 1.2 -2.1 1.3 -2 1.3 -2.2 1.2 -1.3 0.5 -1.5 0.4 -1.7 0.3 -1.9 0.2 -1.8 0.1 -2.1 0.3 -0.3 2.2 -1.5 1.7 -1.1 0.8 -1.9 1.3 -2.2 1.3 -1.2 0.6 -1.2 0.6 -1.2 0.6 -1.2 0.5 -1.3 0.6 -1.2 0.6 -1.3 0.6 -1.1 0.6 -2.2 1.3 -2.2 1.4 -1.2 0.6 -1.5 0.5 -1.8 0.3 -2.3 0 -2.6 -0.2 -0.6 2.3 -1 2 -1.9 1.6 -1.2 0.7 -1.3 0.5 -1.3 0.6 -1.4 0.6 -1.4 0.5 -1.3 0.6 -1.3 0.6 -1.2 0.6 -1.2 0.7 -1.1 0.7 -1.2 0.7 -1.1 0.7 -1.1 0.7 -1.2 0.7 -1.2 0.7 -1.3 0.6 -1.4 0.6 -1.8 0.3 -1.7 0.1 -2 -0.2 -1.6 -0.4 -1.7 -0.4 -1.7 -0.4 0.5 2.1 0.1 1.4 -0.7 1.6 -1 1.6 -1.9 1.7 -1.2 0.7 -1.3 0.7 -1.4 0.6 -1.4 0.6 -1.4 0.6 -1.4 0.6 -1.4 0.6 -1.2 0.7 -1.2 0.7 -1.2 0.8 -1.1 0.8 -1.2 0.7 -1.2 0.7 -1.3 0.7 -1.6 0.5 -1.7 0.4 -2 0.3 -2.1 0.3 -1.4 0.1 -2.3 -0.1 -1.5 -0.3 -0.2 1.4 0.6 1.9 -0.2 1.3 -2 1.8 -1.3 0.7 -1.4 0.7 -1.4 0.7 -1.4 0.6 -1.4 0.7 -1.4 0.6 -1.4 0.7 -1.3 0.7 -1.4 0.7 -1.3 0.7 -1.3 0.8 -1.3 0.7 -1.2 0.8 -1.2 0.8 -1.2 0.8 -1.3 0.8 -1.3 0.7 -1.6 0.6 -1.8 0.4 -2.3 0.2 -2.4 0 -2.5 0 -1 1 -0.4 1.3 -0.6 1.3 -0.7 1.2 -0.9 1 -1.1 0.9 -1.4 0.7 -1.4 0.7 -1.5 0.7 -1.5 0.7 -1.4 0.7 -1.5 0.7 -1.4 0.8 -1.4 0.7 -1.3 0.8 -1.4 0.8 -1.4 0.7 -1.4 0.8 -1.4 0.7 -1.4 0.8 -1.5 0.7 -1.4 0.7 -1.6 0.7 -1.6 0.7 -1.8 0.5 -2.1 0.1 -2.2 -0.1 -1.2 -0.3M114.3 323.3l2.4 0 -0.1 -1.2M150.1 305.1l1.6 0.3 2.3 0.1 -0.8 -2M184.2 287.7l1.7 0.3 1.9 0.3 1.8 0.3 -0.5 -1.8 -0.6 -1.3M218.6 270.2l1.7 0.3 -0.1 -1.1M248.3 255.1l2.1 0.1 1.2 -1.1 -0.4 -0.5M290.5 436.1l0.9 -1.2 -0.4 -1.4 0.1 -1.9 0.8 -1.8 1 -1.1 -2.2 0.4 -1.4 0 -3 0.2 -2.5 -0.2 -1.6 -0.1 -0.8 1.2 0.2 1.9 -0.4 1.6 -0.7 1.3 -0.9 1.2 -1.1 1.1 -1.3 1 -1.5 0.9 -1.6 0.8 -1.7 0.7 -1.7 0.7 -1.7 0.8 -1.5 0.8 -1.5 0.9 -1.4 1 -1.3 1 -1.2 1 -1 1.2 -1.1 1.2 -1.1 1.2 2 -0.6 1.9 -0.7 1.7 -0.7 1.7 -0.7 1.5 -0.9 1.5 -0.9 1.3 -1 1.3 -1 1.2 -1.1 1.2 -1 1.1 -1.1 1.3 -1 1.4 -0.9 1.5 -0.9 1.9 -0.6 1.2 -0.3 2.9 -0.7 2.3 -0.2 2 -0.1 0.7 0" stroke="#b8ee00" fill="none" stroke-width="1.0"/>
<path d="M267.7 445l-1.2 0.8 1.2 -0.8M406.6 355l1.1 -0.8 -1.3 0.7 0.2 0.1M436 335.9l1.1 -0.7 -1.2 0.6 0.1 0.1M192.1 395.2l0 0M228.2 374.3l1.4 -0.7 1.3 -0.9 -1.6 0.7 -1.3 0.8 0.2 0.1M159.3 371.9l0 0M229.6 333.2l1.4 -0.6 1.3 -0.8 1.1 -0.8 -1.9 0.4 -1.3 0.7 -1.1 0.8 -1.1 0.8 1.6 -0.5M265.7 312.8l1.2 -0.6 -1.3 0.6 0.1 0M122.6 352.8l1.5 -0.7 1.5 -0.7 1.3 -0.8 1.3 -0.8 -1.9 0.4 -1.5 0.7 -1.2 0.8 -1.2 1 0.2 0.1M161.2 332.4l1.4 -0.7 1.3 -0.8 1.2 -0.7 -1.9 0.3 -1.5 0.6 -1.2 0.9 -0.7 1 1.4 -0.6M195.5 314.3l1.4 -0.6 1.3 -0.6 1.3 -0.7 1.1 -0.8 1.1 -0.8 -1.9 0.3 -1.7 0.5 -1.4 0.6 -1.1 0.7 -1.5 1.9 1.4 -0.5M230.5 295.7l1.4 -0.6 1.3 -0.6 1.1 -0.7 1.5 -1.1 -2.7 0.4 -1.3 0.4 -1.3 0.8 -1.1 1.8 1.1 -0.4M261.6 279.1l1.3 -0.6 1.2 -0.6 1.7 -1.1 -2.4 0.7 -1.2 0.6 -1.1 1.2 0.5 -0.2M292.7 262.7l1.2 -0.6 2.2 -1.2 -2.4 0 -1.8 1.3 0.8 0.5" stroke="#eedd00" fill="none" stroke-width="1.0"/>
<path d="M315 453.1L113.6 323.6M242.9 453.1L444.3 323.6M351.8 428.2L150.1 305.1M206.1 428.2L407.8 305.1M387.1 404.3L185.3 287.2M170.8 404.3L372.6 287.2M420.4 381.8L218.8 270.1M137.5 381.8L339.1 270.1M452.2 360.3L251 253.8M105.7 360.3L307 253.8" stroke="#000" stroke-width="1.1" stroke-dasharray="6,3" fill="none"/>
<g fill="#fff" stroke="#f00" stroke-width="1.0" stroke-linejoin="round"><path d="M279 75.6l3.9 -5.3 -3.9 -12.9 -4 1.1z"/><path d="M275 83.5l4 -7.9 -4 -17.1 -4 -6.8zM282.9 87l3.9 -6.5 -3.9 -10.2 -3.9 5.3z"/><path d="M271.1 87.6l3.9 -4.1 -4 -31.8 -4 -7zM279 109.7l3.9 -22.7 -3.9 -11.4 -4 7.9zM286.8 93.3l3.9 -8.4 -3.9 -4.4 -3.9 6.5z"/><path d="M267.2 94.5l3.9 -6.9 -4.1 -42.9 -4 5.1zM275.1 124.1l3.9 -14.4 -4 -26.2 -3.9 4.1zM282.8 124.7l4 -31.4 -3.9 -6.3 -3.9 22.7zM290.7 100.7l3.9 -8.3 -3.9 -7.5 -3.9 8.4z"/><path d="M263.3 99.5l3.9 -5 -4.2 -44.7 -4 4.8zM271.2 129l3.9 -4.9 -4 -36.5 -3.9 6.9zM279 145.2l3.8 -20.5 -3.8 -15 -3.9 14.4zM286.7 128.4l4 -27.7 -3.9 -7.4 -4 31.4zM294.6 100.7l3.9 -5.5 -3.9 -2.8 -3.9 8.3z"/><path d="M259.2 94.5l4.1 5 -4.3 -44.9 -4.1 -2.3zM267.3 132.4l3.9 -3.4 -4 -34.5 -3.9 5zM275.1 150.4l3.9 -5.2 -3.9 -21.1 -3.9 4.9zM282.8 150.1l3.9 -21.7 -3.9 -3.7 -3.8 20.5zM290.6 125.1l4 -24.4 -3.9 0 -4 27.7zM298.7 96.1l3.9 -6.8 -4.1 5.9 -3.9 5.5z"/><path d="M255.2 91.9l4 2.6 -4.3 -42.2 -4 8.7zM263.4 127l3.9 5.4 -4 -32.9 -4.1 -5zM271.2 151.1l3.9 -0.7 -3.9 -21.4 -3.9 3.4zM279 158.3l3.8 -8.2 -3.8 -4.9 -3.9 5.2zM286.7 142.3l3.9 -17.2 -3.9 3.3 -3.9 21.7zM294.6 114.2l4.1 -18.1 -4.1 4.6 -4 24.4zM302.8 86.8l3.9 -4.7 -4.1 7.2 -3.9 6.8z"/><path d="M251 84.1l4.2 7.8 -4.3 -30.9 -3.9 11.5zM259.3 117l4.1 10 -4.2 -32.5 -4 -2.6zM267.3 145.6l3.9 5.5 -3.9 -18.7 -3.9 -5.4zM275.1 155.9l3.9 2.4 -3.9 -7.9 -3.9 0.7zM282.8 149.5l3.9 -7.2 -3.9 7.8 -3.8 8.2zM290.7 123.8l3.9 -9.6 -4 10.9 -3.9 17.2zM298.9 90.2l3.9 -3.4 -4.1 9.3 -4.1 18.1zM307.1 70.4l3.8 2.3 -4.2 9.4 -3.9 4.7z"/><path d="M247 91l4 -6.9 -4 -11.6 -4.1 5.9zM255 95l4.3 22 -4.1 -25.1 -4.2 -7.8zM263.3 129.7l4 15.9 -3.9 -18.6 -4.1 -10zM271.2 149.3l3.9 6.6 -3.9 -4.8 -3.9 -5.5zM279 149.2l3.8 0.3 -3.8 8.8 -3.9 -2.4zM286.8 127.5l3.9 -3.7 -4 18.5 -3.9 7.2zM294.9 89.1l4 1.1 -4.3 24 -3.9 9.6zM303.4 49.6l3.7 20.8 -4.3 16.4 -3.9 3.4zM310.9 87.7l3.9 -0.5 -3.9 -14.5 -3.8 -2.3z"/><path d="M243.2 107.3l3.8 -16.3 -4.1 -12.6 -4 6.7zM251 99.3l4 -4.3 -4 -10.9 -4 6.9zM259 101.6l4.3 28.1 -4 -12.7 -4.3 -22zM267.2 133.8l4 15.5 -3.9 -3.7 -4 -15.9zM275 140.6l4 8.6 -3.9 6.7 -3.9 -6.6zM282.9 127.2l3.9 0.3 -4 22 -3.8 -0.3zM291 87.6l3.9 1.5 -4.2 34.7 -3.9 3.7zM299.5 33.4l3.9 16.2 -4.5 40.6 -4 -1.1zM307.1 82.2l3.8 5.5 -3.8 -17.3 -3.7 -20.8zM314.8 106l3.9 -4 -3.9 -14.8 -3.9 0.5z"/><path d="M239.2 115.3l4 -8 -4.3 -22.2 -4.2 -1.4zM247.2 122.2l3.8 -22.9 -4 -8.3 -3.8 16.3zM255 106.5l4 -4.9 -4 -6.6 -4 4.3zM263 103.5l4.2 30.3 -3.9 -4.1 -4.3 -28.1zM271 127.9l4 12.7 -3.8 8.7 -4 -15.5zM279 120.9l3.9 6.3 -3.9 22 -4 -8.6zM287 89.8l4 -2.2 -4.2 39.9 -3.9 -0.3zM295.5 28l4 5.4 -4.6 55.7 -3.9 -1.5zM303.2 77l3.9 5.2 -3.7 -32.6 -3.9 -16.2zM310.7 119l4.1 -13 -3.9 -18.3 -3.8 -5.5zM318.6 119.3l4.1 -9.7 -4 -7.6 -3.9 4z"/><path d="M235.1 118.2l4.1 -2.9 -4.5 -31.6 -4.2 -3zM243.4 137.7l3.8 -15.5 -4 -14.9 -4 8zM251.2 132.8l3.8 -26.3 -4 -7.2 -3.8 22.9zM258.9 109.7l4.1 -6.2 -4 -1.9 -4 4.9zM266.9 103l4.1 24.9 -3.8 5.9 -4.2 -30.3zM275 115.1l4 5.8 -4 19.7 -4 -12.7zM283 91.2l4 -1.4 -4.1 37.4 -3.9 -6.3zM291.4 32.7l4.1 -4.7 -4.5 59.6 -4 2.2zM299.3 78.3l3.9 -1.3 -3.7 -43.6 -4 -5.4zM306.7 128.4l4 -9.4 -3.6 -36.8 -3.9 -5.2zM314.3 147.5l4.3 -28.2 -3.8 -13.3 -4.1 13zM322.6 125.8l4.1 -11.3 -4 -4.9 -4.1 9.7z"/><path d="M230.9 116.8l4.2 1.4 -4.6 -37.5 -4.3 -0.2zM239.5 145.4l3.9 -7.7 -4.2 -22.4 -4.1 2.9zM247.4 150.5l3.8 -17.7 -4 -10.6 -3.8 15.5zM255.2 136.8l3.7 -27.1 -3.9 -3.2 -3.8 26.3zM262.9 110.4l4 -7.4 -3.9 0.5 -4.1 6.2zM270.9 102.6l4.1 12.5 -4 12.8 -4.1 -24.9zM279 93.3l4 -2.1 -4 29.7 -4 -5.8zM287.2 43.8l4.2 -11.1 -4.4 57.1 -4 1.4zM295.2 82.8l4.1 -4.5 -3.8 -50.3 -4.1 4.7zM302.8 136.1l3.9 -7.7 -3.5 -51.4 -3.9 1.3zM310.3 164.6l4 -17.1 -3.6 -28.5 -4 9.4zM318.1 164.9l4.5 -39.1 -4 -6.5 -4.3 28.2zM326.7 129.4l4.1 -14.3 -4.1 -0.6 -4.1 11.3z"/><path d="M226.7 115.2l4.2 1.6 -4.7 -36.3 -4.2 1.3zM235.3 143l4.2 2.4 -4.4 -27.2 -4.2 -1.4zM243.5 160l3.9 -9.5 -4 -12.8 -3.9 7.7zM251.3 155l3.9 -18.2 -4 -4 -3.8 17.7zM259 136l3.9 -25.6 -4 -0.7 -3.7 27.1zM266.9 108l4 -5.4 -4 0.4 -4 7.4zM274.9 93l4.1 0.3 -4 21.8 -4.1 -12.5zM283.1 60l4.1 -16.2 -4.2 47.4 -4 2.1zM291.2 85.3l4 -2.5 -3.8 -50.1 -4.2 11.1zM298.8 138.1l4 -2 -3.5 -57.8 -4.1 4.5zM306.3 176.4l4 -11.8 -3.6 -36.2 -3.9 7.7zM313.9 186.1l4.2 -21.2 -3.8 -17.4 -4 17.1zM322 171.2l4.7 -41.8 -4.1 -3.6 -4.5 39.1zM331 124.6l4.1 -12.2 -4.3 2.7 -4.1 14.3z"/><path d="M222.3 107.9l4.4 7.3 -4.7 -33.4 -4.3 -1.3zM231 135.1l4.3 7.9 -4.4 -26.2 -4.2 -1.6zM239.4 157.2l4.1 2.8 -4 -14.6 -4.2 -2.4zM247.4 165.7l3.9 -10.7 -3.9 -4.5 -3.9 9.5zM255.1 150.4l3.9 -14.4 -3.8 0.8 -3.9 18.2zM262.9 124.8l4 -16.8 -4 2.4 -3.9 25.6zM270.8 95.8l4.1 -2.8 -4 9.6 -4 5.4zM279 81.6l4.1 -21.6 -4.1 33.3 -4.1 -0.3zM287.1 88.3l4.1 -3 -4 -41.5 -4.1 16.2zM295 131.4l3.8 6.7 -3.6 -55.3 -4 2.5zM302.5 176.6l3.8 -0.2 -3.5 -40.3 -4 2zM310 196.6l3.9 -10.5 -3.6 -21.5 -4 11.8zM317.8 192.1l4.2 -20.9 -3.9 -6.3 -4.2 21.2zM326.4 158.9l4.6 -34.3 -4.3 4.8 -4.7 41.8zM335.6 110.8l3.9 -5.4 -4.4 7 -4.1 12.2z"/><path d="M217.7 98.9l4.6 9 -4.6 -27.4 -4.2 5.1zM226.6 126.1l4.4 9 -4.3 -19.9 -4.4 -7.3zM235.1 148.4l4.3 8.8 -4.1 -14.2 -4.3 -7.9zM243.3 163.7l4.1 2 -3.9 -5.7 -4.1 -2.8zM251.2 157l3.9 -6.6 -3.8 4.6 -3.9 10.7zM258.9 134.4l4 -9.6 -3.9 11.2 -3.9 14.4zM266.7 100.5l4.1 -4.7 -3.9 12.2 -4 16.8zM274.8 85.3l4.2 -3.7 -4.1 11.4 -4.1 2.8zM283 93.6l4.1 -5.3 -4 -28.3 -4.1 21.6zM291.1 121.1l3.9 10.3 -3.8 -46.1 -4.1 3zM298.7 165.7l3.8 10.9 -3.7 -38.5 -3.8 -6.7zM306.2 196.2l3.8 0.4 -3.7 -20.2 -3.8 0.2zM313.9 199.8l3.9 -7.7 -3.9 -6 -3.9 10.5zM322.2 177.1l4.2 -18.2 -4.4 12.3 -4.2 20.9zM331.2 132.3l4.4 -21.5 -4.6 13.8 -4.6 34.3zM340.3 95l3.8 1.1 -4.6 9.3 -3.9 5.4z"/><path d="M213.4 98.8l4.3 0.1 -4.2 -13.3 -4.4 -0.6zM221.8 106l4.8 20.1 -4.3 -18.2 -4.6 -9zM230.7 137.2l4.4 11.2 -4.1 -13.3 -4.4 -9zM239.1 156.5l4.2 7.2 -3.9 -6.5 -4.3 -8.8zM247.1 157.1l4.1 -0.1 -3.8 8.7 -4.1 -2zM254.8 138.5l4.1 -4.1 -3.8 16 -3.9 6.6zM262.6 104.6l4.1 -4.1 -3.8 24.3 -4 9.6zM270.7 72.9l4.1 12.4 -4 10.5 -4.1 4.7zM279 99.4l4 -5.8 -4 -12 -4.2 3.7zM287.1 105.5l4 15.6 -4 -32.8 -4.1 5.3zM295 147.4l3.7 18.3 -3.7 -34.3 -3.9 -10.3zM302.6 183.7l3.6 12.5 -3.7 -19.6 -3.8 -10.9zM310.2 198.7l3.7 1.1 -3.9 -3.2 -3.8 -0.4zM318.3 183.6l3.9 -6.5 -4.4 15 -3.9 7.7zM327 147.1l4.2 -14.8 -4.8 26.6 -4.2 18.2zM336.3 99l4 -4 -4.7 15.8 -4.4 21.5zM345.1 79.2l3.8 2 -4.8 14.9 -3.8 -1.1z"/><path d="M209.2 101.5l4.2 -2.7 -4.3 -13.8 -4.9 -15.3zM217.5 106.5l4.3 -0.5 -4.1 -7.1 -4.3 -0.1zM225.9 114.7l4.8 22.5 -4.1 -11.1 -4.8 -20.1zM234.7 143.1l4.4 13.4 -4 -8.1 -4.4 -11.2zM242.9 151.5l4.2 5.6 -3.8 6.6 -4.2 -7.2zM250.7 139.7l4.1 -1.2 -3.6 18.5 -4.1 0.1zM258.5 109l4.1 -4.4 -3.7 29.8 -4.1 4.1zM266.4 68.7l4.3 4.2 -4 27.6 -4.1 4.1zM274.8 100.7l4.2 -1.3 -4.2 -14.1 -4.1 -12.4zM283 111l4.1 -5.5 -4.1 -11.9 -4 5.8zM291.2 115.3l3.8 32.1 -3.9 -26.3 -4 -15.6zM298.9 161.4l3.7 22.3 -3.9 -18 -3.7 -18.3zM306.5 187l3.7 11.7 -4 -2.5 -3.6 -12.5zM314.5 183.8l3.8 -0.2 -4.4 16.2 -3.7 -1.1zM323 152.7l4 -5.6 -4.8 30 -3.9 6.5zM332.3 103.2l4 -4.2 -5.1 33.3 -4.2 14.8zM341.6 64l3.5 15.2 -4.8 15.8 -4 4zM349 94.6l4 -3.9 -4.1 -9.5 -3.8 -2z"/><path d="M204.8 102.4l4.4 -0.9 -5 -31.8 -4.8 -9.4zM213.7 123.8l3.8 -17.3 -4.1 -7.7 -4.2 2.7zM221.7 116l4.2 -1.3 -4.1 -8.7 -4.3 0.5zM229.9 117.9l4.8 25.2 -4 -5.9 -4.8 -22.5zM238.5 140.8l4.4 10.7 -3.8 5 -4.4 -13.4zM246.5 136.9l4.2 2.8 -3.6 17.4 -4.2 -5.6zM254.3 110.6l4.2 -1.6 -3.7 29.5 -4.1 1.2zM262.2 67l4.2 1.7 -3.8 35.9 -4.1 4.4zM270.7 103.9l4.1 -3.2 -4.1 -27.8 -4.3 -4.2zM279 128.6l4 -17.6 -4 -11.6 -4.2 1.3zM287.1 120.2l4.1 -4.9 -4.1 -9.8 -4.1 5.5zM295.3 123.3l3.6 38.1 -3.9 -14 -3.8 -32.1zM302.9 165.2l3.6 21.8 -3.9 -3.3 -3.7 -22.3zM310.8 174.9l3.7 8.9 -4.3 14.9 -3.7 -11.7zM319.2 151.3l3.8 1.4 -4.7 30.9 -3.8 0.2zM328.3 107l4 -3.8 -5.3 43.9 -4 5.6zM337.9 56l3.7 8 -5.3 35 -4 4.2zM345.1 94.9l3.9 -0.3 -3.9 -15.4 -3.5 -15.2zM353.2 100.7l4 -6.5 -4.2 -3.5 -4 3.9z"/><path d="M200.3 100.8l4.5 1.6 -5.4 -42.1 -4.7 -7.6zM209.7 134.7l4 -10.9 -4.5 -22.3 -4.4 0.9zM218 139.1l3.7 -23.1 -4.2 -9.5 -3.8 17.3zM225.6 116.9l4.3 1 -4 -3.2 -4.2 1.3zM233.8 117.8l4.7 23 -3.8 2.3 -4.8 -25.2zM242.2 128.5l4.3 8.4 -3.6 14.6 -4.4 -10.7zM250.1 109.7l4.2 0.9 -3.6 29.1 -4.2 -2.8zM258 68.7l4.2 -1.7 -3.7 42 -4.2 1.6zM266.6 104.1l4.1 -0.2 -4.3 -35.2 -4.2 -1.7zM274.9 139.1l4.1 -10.5 -4.2 -27.9 -4.1 3.2zM283 148.1l4.1 -27.9 -4.1 -9.2 -4 17.6zM291.2 127.8l4.1 -4.5 -4.1 -8 -4.1 4.9zM299.4 127.4l3.5 37.8 -4 -3.8 -3.6 -38.1zM307.1 158.2l3.7 16.7 -4.3 12.1 -3.6 -21.8zM315.3 149.2l3.9 2.1 -4.7 32.5 -3.7 -8.9zM324.3 110.3l4 -3.3 -5.3 45.7 -3.8 -1.4zM333.9 53.4l4 2.6 -5.6 47.2 -4 3.8zM341.2 95.8l3.9 -0.9 -3.5 -30.9 -3.7 -8zM348.9 111.4l4.3 -10.7 -4.2 -6.1 -3.9 0.3zM357.4 105.4l4 -4 -4.2 -7.2 -4 6.5z"/><path d="M195.9 100.7l4.4 0.1 -5.6 -48.1 -4.5 2zM205.5 137.7l4.2 -3 -4.9 -32.3 -4.5 -1.6zM214.1 153.5l3.9 -14.4 -4.3 -15.3 -4 10.9zM221.9 141.4l3.7 -24.5 -3.9 -0.9 -3.7 23.1zM229.5 117.4l4.3 0.4 -3.9 0.1 -4.3 -1zM237.7 113.4l4.5 15.1 -3.7 12.3 -4.7 -23zM245.8 108l4.3 1.7 -3.6 27.2 -4.3 -8.4zM253.7 72.6l4.3 -3.9 -3.7 41.9 -4.2 -0.9zM262.4 103.7l4.2 0.4 -4.4 -37.1 -4.2 1.7zM270.8 144.4l4.1 -5.3 -4.2 -35.2 -4.1 0.2zM279 163.5l4 -15.4 -4 -19.5 -4.1 10.5zM287 159.5l4.2 -31.7 -4.1 -7.6 -4.1 27.9zM295.3 132l4.1 -4.6 -4.1 -4.1 -4.1 4.5zM303.6 126.2l3.5 32 -4.2 7 -3.5 -37.8zM311.5 141.4l3.8 7.8 -4.5 25.7 -3.7 -16.7zM320.2 117.6l4.1 -7.3 -5.1 41 -3.9 -2.1zM329.7 60.5l4.2 -7.1 -5.6 53.6 -4 3.3zM337.2 97.5l4 -1.7 -3.3 -39.8 -4 -2.6zM344.8 119.2l4.1 -7.8 -3.8 -16.5 -3.9 0.9zM353 121.9l4.4 -16.5 -4.2 -4.7 -4.3 10.7zM361.5 113.3l4 -3.4 -4.1 -8.5 -4 4z"/><path d="M191.5 102.3l4.4 -1.6 -5.7 -46 -4.3 5.6zM201.1 136.7l4.4 1 -5.2 -36.9 -4.4 -0.1zM210 158.7l4.1 -5.2 -4.4 -18.8 -4.2 3zM218.1 157.2l3.8 -15.8 -3.9 -2.3 -3.9 14.4zM225.7 138.1l3.8 -20.7 -3.9 -0.5 -3.7 24.5zM233.4 115.6l4.3 -2.2 -3.9 4.4 -4.3 -0.4zM241.6 107.6l4.2 0.4 -3.6 20.5 -4.5 -15.1zM249.5 82.4l4.2 -9.8 -3.6 37.1 -4.3 -1.7zM258.1 102l4.3 1.7 -4.4 -35 -4.3 3.9zM266.7 145.8l4.1 -1.4 -4.2 -40.3 -4.2 -0.4zM274.9 171.1l4.1 -7.6 -4.1 -24.4 -4.1 5.3zM283 175.3l4 -15.8 -4 -11.4 -4 15.4zM291.1 163.2l4.2 -31.2 -4.1 -4.2 -4.2 31.7zM299.5 128.6l4.1 -2.4 -4.2 1.2 -4.1 4.6zM307.9 120.6l3.6 20.8 -4.4 16.8 -3.5 -32zM316.1 121.6l4.1 -4 -4.9 31.6 -3.8 -7.8zM325.3 77.8l4.4 -17.3 -5.4 49.8 -4.1 7.3zM333.1 102l4.1 -4.5 -3.3 -44.1 -4.2 7.1zM340.8 124.3l4 -5.1 -3.6 -23.4 -4 1.7zM348.7 133.9l4.3 -12 -4.1 -10.5 -4.1 7.8zM357 130.7l4.5 -17.4 -4.1 -7.9 -4.4 16.5zM365.9 115.2l4.1 -6.6 -4.5 1.3 -4 3.4z"/><path d="M187.1 104.9l4.4 -2.6 -5.6 -42 -4.1 11.7zM196.6 135.8l4.5 0.9 -5.2 -36 -4.4 1.6zM205.7 160.1l4.3 -1.4 -4.5 -21 -4.4 -1zM214 163l4.1 -5.8 -4 -3.7 -4.1 5.2zM221.7 149.3l4 -11.2 -3.8 3.3 -3.8 15.8zM229.3 125l4.1 -9.4 -3.9 1.8 -3.8 20.7zM237.2 107.2l4.4 0.4 -3.9 5.8 -4.3 2.2zM245.5 99.2l4 -16.8 -3.7 25.6 -4.2 -0.4zM253.9 106.7l4.2 -4.7 -4.4 -29.4 -4.2 9.8zM262.5 138.7l4.2 7.1 -4.3 -42.1 -4.3 -1.7zM270.9 171.6l4 -0.5 -4.1 -26.7 -4.1 1.4zM279 183l4 -7.7 -4 -11.8 -4.1 7.6zM287 178.3l4.1 -15.1 -4.1 -3.7 -4 15.8zM295.2 158.5l4.3 -29.9 -4.2 3.4 -4.2 31.2zM303.8 126.1l4.1 -5.5 -4.3 5.6 -4.1 2.4zM312.2 117.1l3.9 4.5 -4.6 19.8 -3.6 -20.8zM320.9 94.6l4.4 -16.8 -5.1 39.8 -4.1 4zM328.9 110l4.2 -8 -3.4 -41.5 -4.4 17.3zM336.8 127.2l4 -2.9 -3.6 -26.8 -4.1 4.5zM344.7 139.2l4 -5.3 -3.9 -14.7 -4 5.1zM352.8 142.6l4.2 -11.9 -4 -8.8 -4.3 12zM361.4 131.5l4.5 -16.3 -4.4 -1.9 -4.5 17.4zM370.4 113.7l4.2 -8 -4.6 2.9 -4.1 6.6z"/><path d="M182.6 105.7l4.5 -0.8 -5.3 -32.9 -3.8 16.7zM192 131.5l4.6 4.3 -5.1 -33.5 -4.4 2.6zM201.3 157.5l4.4 2.6 -4.6 -23.4 -4.5 -0.9zM209.7 164.9l4.3 -1.9 -4 -4.3 -4.3 1.4zM217.6 155.9l4.1 -6.6 -3.6 7.9 -4.1 5.8zM225.2 132.3l4.1 -7.3 -3.6 13.1 -4 11.2zM232.8 103.3l4.4 3.9 -3.8 8.4 -4.1 9.4zM241.1 97.2l4.4 2 -3.9 8.4 -4.4 -0.4zM249.7 109.2l4.2 -2.5 -4.4 -24.3 -4 16.8zM258.3 131.5l4.2 7.2 -4.4 -36.7 -4.2 4.7zM266.7 164.1l4.2 7.5 -4.2 -25.8 -4.2 -7.1zM274.9 183.6l4.1 -0.6 -4.1 -11.9 -4 0.5zM283 185l4 -6.7 -4 -3 -4 7.7zM291.1 174.1l4.1 -15.6 -4.1 4.7 -4.1 15.1zM299.5 149.8l4.3 -23.7 -4.3 2.5 -4.3 29.9zM308 125.2l4.2 -8.1 -4.3 3.5 -4.1 5.5zM316.6 111.3l4.3 -16.7 -4.8 27 -3.9 -4.5zM324.9 113.2l4 -3.2 -3.6 -32.2 -4.4 16.8zM332.8 130.8l4 -3.6 -3.7 -25.2 -4.2 8zM340.8 139.3l3.9 -0.1 -3.9 -14.9 -4 2.9zM348.9 145.6l3.9 -3 -4.1 -8.7 -4 5.3zM357.2 141.1l4.2 -9.6 -4.4 -0.8 -4.2 11.9zM366.2 124l4.2 -10.3 -4.5 1.5 -4.5 16.3zM375.1 110.4l4.1 -7 -4.6 2.3 -4.2 8z"/><path d="M178 106.3l4.6 -0.6 -4.6 -17 -4.6 0.3zM187 119l5 12.5 -4.9 -26.6 -4.5 0.8zM196.5 147l4.8 10.5 -4.7 -21.7 -4.6 -4.3zM205.2 159.9l4.5 5 -4 -4.8 -4.4 -2.6zM213.3 159l4.3 -3.1 -3.6 7.1 -4.3 1.9zM220.9 137.2l4.3 -4.9 -3.5 17 -4.1 6.6zM228.4 103.7l4.4 -0.4 -3.5 21.7 -4.1 7.3zM236.3 75.7l4.8 21.5 -3.9 10 -4.4 -3.9zM245.3 107.7l4.4 1.5 -4.2 -10 -4.4 -2zM253.9 119.7l4.4 11.8 -4.4 -24.8 -4.2 2.5zM262.5 150.9l4.2 13.2 -4.2 -25.4 -4.2 -7.2zM270.8 178.6l4.1 5 -4 -12 -4.2 -7.5zM279 186.2l4 -1.2 -4 -2 -4.1 0.6zM287.1 179.8l4 -5.7 -4.1 4.2 -4 6.7zM295.3 166.3l4.2 -16.5 -4.3 8.7 -4.1 15.6zM303.8 141.4l4.2 -16.2 -4.2 0.9 -4.3 23.7zM312.4 120.1l4.2 -8.8 -4.4 5.8 -4.2 8.1zM320.8 117.2l4.1 -4 -4 -18.6 -4.3 16.7zM328.9 129l3.9 1.8 -3.9 -20.8 -4 3.2zM336.9 140.1l3.9 -0.8 -4 -12.1 -4 3.6zM345 145l3.9 0.6 -4.2 -6.4 -3.9 0.1zM353.3 144.5l3.9 -3.4 -4.4 1.5 -3.9 3zM362 132l4.2 -8 -4.8 7.5 -4.2 9.6zM371.2 111.6l3.9 -1.2 -4.7 3.3 -4.2 10.3zM379.9 104.7l4.1 -5 -4.8 3.7 -4.1 7z"/><path d="M173.7 110.7l4.3 -4.4 -4.6 -17.3 -5.2 -10.6zM182.5 119.3l4.5 -0.3 -4.4 -13.3 -4.6 0.6zM191.2 127.9l5.3 19.1 -4.5 -15.5 -5 -12.5zM200.3 147.8l4.9 12.1 -3.9 -2.4 -4.8 -10.5zM208.8 155l4.5 4 -3.6 5.9 -4.5 -5zM216.6 138.6l4.3 -1.4 -3.3 18.7 -4.3 3.1zM224 103.8l4.4 -0.1 -3.2 28.6 -4.3 4.9zM231.6 62.7l4.7 13 -3.5 27.6 -4.4 0.4zM240.9 102.6l4.4 5.1 -4.2 -10.5 -4.8 -21.5zM249.6 121.6l4.3 -1.9 -4.2 -10.5 -4.4 -1.5zM258 125.9l4.5 25 -4.2 -19.4 -4.4 -11.8zM266.6 159.9l4.2 18.7 -4.1 -14.5 -4.2 -13.2zM274.9 181.7l4.1 4.5 -4.1 -2.6 -4.1 -5zM283 182.7l4.1 -2.9 -4.1 5.2 -4 1.2zM291.2 171.9l4.1 -5.6 -4.2 7.8 -4 5.7zM299.6 154.8l4.2 -13.4 -4.3 8.4 -4.2 16.5zM308.2 126.7l4.2 -6.6 -4.4 5.1 -4.2 16.2zM316.6 125.3l4.2 -8.1 -4.2 -5.9 -4.2 8.8zM325 121.9l3.9 7.1 -4 -15.8 -4.1 4zM333.1 134.7l3.8 5.4 -4.1 -9.3 -3.9 -1.8zM341.2 143.4l3.8 1.6 -4.2 -5.7 -3.9 0.8zM349.4 146l3.9 -1.5 -4.4 1.1 -3.9 -0.6zM358 136.5l4 -4.5 -4.8 9.1 -3.9 3.4zM367.2 115.8l4 -4.2 -5 12.4 -4.2 8zM376.4 98.4l3.5 6.3 -4.8 5.7 -3.9 1.2zM384.8 100.5l3.8 -0.2 -4.6 -0.6 -4.1 5z"/><path d="M169.4 117.8l4.3 -7.1 -5.5 -32.3 -4.8 -1.2zM178.6 135.1l3.9 -15.8 -4.5 -13 -4.3 4.4zM186.7 127.5l4.5 0.4 -4.2 -8.9 -4.5 0.3zM195 126.8l5.3 21 -3.8 -0.8 -5.3 -19.1zM204.1 144.7l4.7 10.3 -3.6 4.9 -4.9 -12.1zM212.1 136.8l4.5 1.8 -3.3 20.4 -4.5 -4zM219.6 105l4.4 -1.2 -3.1 33.4 -4.3 1.4zM226.9 53.5l4.7 9.2 -3.2 41 -4.4 0.1zM236.5 100.5l4.4 2.1 -4.6 -26.9 -4.7 -13zM245.5 134l4.1 -12.4 -4.3 -13.9 -4.4 -5.1zM253.8 127.6l4.2 -1.7 -4.1 -6.2 -4.3 1.9zM262.2 129.8l4.4 30.1 -4.1 -9 -4.5 -25zM270.7 163.6l4.2 18.1 -4.1 -3.1 -4.2 -18.7zM279 177.8l4 4.9 -4 3.5 -4.1 -4.5zM287.2 172l4 -0.1 -4.1 7.9 -4.1 2.9zM295.5 160.9l4.1 -6.1 -4.3 11.5 -4.1 5.6zM304 138l4.2 -11.3 -4.4 14.7 -4.2 13.4zM312.3 138.2l4.3 -12.9 -4.2 -5.2 -4.2 6.6zM320.9 127.9l4.1 -6 -4.2 -4.7 -4.2 8.1zM329.4 121.7l3.7 13 -4.2 -5.7 -3.9 -7.1zM337.4 136.8l3.8 6.6 -4.3 -3.3 -3.8 -5.4zM345.5 145l3.9 1 -4.4 -1 -3.8 -1.6zM354 139.3l4 -2.8 -4.7 8 -3.9 1.5zM363.2 118.9l4 -3.1 -5.2 16.2 -4 4.5zM372.6 96.1l3.8 2.3 -5.2 13.2 -4 4.2zM381.6 86l3.2 14.5 -4.9 4.2 -3.5 -6.3zM388.9 110.8l3.8 0 -4.1 -10.5 -3.8 0.2z"/><path d="M165 122.9l4.4 -5.1 -6 -40.6 -4.7 -0.8zM174.6 146.5l4 -11.4 -4.9 -24.4 -4.3 7.1zM183.2 151.2l3.5 -23.7 -4.2 -8.2 -3.9 15.8zM190.6 129.1l4.4 -2.3 -3.8 1.1 -4.5 -0.4zM198.8 124.6l5.3 20.1 -3.8 3.1 -5.3 -21zM207.5 132.6l4.6 4.2 -3.3 18.2 -4.7 -10.3zM215.2 108.1l4.4 -3.1 -3 33.6 -4.5 -1.8zM222.3 54.7l4.6 -1.2 -2.9 50.3 -4.4 1.2zM231.9 95.8l4.6 4.7 -4.9 -37.8 -4.7 -9.2zM241.3 142.4l4.2 -8.4 -4.6 -31.4 -4.4 -2.1zM249.8 153.6l4 -26 -4.2 -6 -4.1 12.4zM257.9 132.4l4.3 -2.6 -4.2 -3.9 -4.2 1.7zM266.3 132.3l4.4 31.3 -4.1 -3.7 -4.4 -30.1zM274.8 163.3l4.2 14.5 -4.1 3.9 -4.2 -18.1zM283.1 168.1l4.1 3.9 -4.2 10.7 -4 -4.9zM291.4 160.3l4.1 0.6 -4.3 11 -4 0.1zM299.8 145.5l4.2 -7.5 -4.4 16.8 -4.1 6.1zM308.1 150.7l4.2 -12.5 -4.1 -11.5 -4.2 11.3zM316.5 148.2l4.4 -20.3 -4.3 -2.6 -4.3 12.9zM325.2 128.6l4.2 -6.9 -4.4 0.2 -4.1 6zM333.8 121.6l3.6 15.2 -4.3 -2.1 -3.7 -13zM341.7 140.8l3.8 4.2 -4.3 -1.6 -3.8 -6.6zM350.2 138.7l3.8 0.6 -4.6 6.7 -3.9 -1zM359.1 124l4.1 -5.1 -5.2 17.6 -4 2.8zM368.8 94.4l3.8 1.7 -5.4 19.7 -4 3.1zM378.2 75.4l3.4 10.6 -5.2 12.4 -3.8 -2.3zM385.1 110.1l3.8 0.7 -4.1 -10.3 -3.2 -14.5zM393 120.3l3.9 -1.9 -4.2 -7.6 -3.8 0z"/><path d="M160.5 125.2l4.5 -2.3 -6.3 -46.5 -4.5 6.2zM170.5 154.7l4.1 -8.2 -5.2 -28.7 -4.4 5.1zM179.3 165.5l3.9 -14.3 -4.6 -16.1 -4 11.4zM187.3 157.6l3.3 -28.5 -3.9 -1.6 -3.5 23.7zM194.4 126.6l4.4 -2 -3.8 2.2 -4.4 2.3zM202.6 121.1l4.9 11.5 -3.4 12.1 -5.3 -20.1zM210.9 113.4l4.3 -5.3 -3.1 28.7 -4.6 -4.2zM218 65.1l4.3 -10.4 -2.7 50.3 -4.4 3.1zM227.5 97.2l4.4 -1.4 -5 -42.3 -4.6 1.2zM237 144.5l4.3 -2.1 -4.8 -41.9 -4.6 -4.7zM245.8 168.5l4 -14.9 -4.3 -19.6 -4.2 8.4zM254 162.8l3.9 -30.4 -4.1 -4.8 -4 26zM262.1 135l4.2 -2.7 -4.1 -2.5 -4.3 2.6zM270.5 136l4.3 27.3 -4.1 0.3 -4.4 -31.3zM279 156.5l4.1 11.6 -4.1 9.7 -4.2 -14.5zM287.3 156.6l4.1 3.7 -4.2 11.7 -4.1 -3.9zM295.7 143.1l4.1 2.4 -4.3 15.4 -4.1 -0.6zM303.9 160.4l4.2 -9.7 -4.1 -12.7 -4.2 7.5zM312.2 161.4l4.3 -13.2 -4.2 -10 -4.2 12.5zM320.7 152.8l4.5 -24.2 -4.3 -0.7 -4.4 20.3zM329.7 126.8l4.1 -5.2 -4.4 0.1 -4.2 6.9zM338.1 128l3.6 12.8 -4.3 -4 -3.6 -15.2zM346.3 137.2l3.9 1.5 -4.7 6.3 -3.8 -4.2zM355.1 126.7l4 -2.7 -5.1 15.3 -3.8 -0.6zM364.7 98.4l4.1 -4 -5.6 24.5 -4.1 5.1zM374.5 68.5l3.7 6.9 -5.6 20.7 -3.8 -1.7zM381.2 109.8l3.9 0.3 -3.5 -24.1 -3.4 -10.6zM388.8 128.2l4.2 -7.9 -4.1 -9.5 -3.8 -0.7zM397.3 128.5l4 -4.4 -4.4 -5.7 -3.9 1.9z"/><path d="M155.7 124.8l4.8 0.4 -6.3 -42.6 -4.4 5.7zM166 156.8l4.5 -2.1 -5.5 -31.8 -4.5 2.3zM175.1 172.1l4.2 -6.6 -4.7 -19 -4.1 8.2zM183.4 172.8l3.9 -15.2 -4.1 -6.4 -3.9 14.3zM190.8 150.7l3.6 -24.1 -3.8 2.5 -3.3 28.5zM198.2 124.2l4.4 -3.1 -3.8 3.5 -4.4 2zM206.5 116.9l4.4 -3.5 -3.4 19.2 -4.9 -11.5zM213.9 82.4l4.1 -17.3 -2.8 43 -4.3 5.3zM223.1 102.6l4.4 -5.4 -5.2 -42.5 -4.3 10.4zM232.7 144.8l4.3 -0.3 -5.1 -48.7 -4.4 1.4zM241.6 175.7l4.2 -7.2 -4.5 -26.1 -4.3 2.1zM250 183.6l4 -20.8 -4.2 -9.2 -4 14.9zM258.1 166.7l4 -31.7 -4.2 -2.6 -3.9 30.4zM266.3 135.5l4.2 0.5 -4.2 -3.7 -4.2 2.7zM274.7 136.1l4.3 20.4 -4.2 6.8 -4.3 -27.3zM283.2 145.6l4.1 11 -4.2 11.5 -4.1 -11.6zM291.6 139.8l4.1 3.3 -4.3 17.2 -4.1 -3.7zM299.9 159.2l4 1.2 -4.1 -14.9 -4.1 -2.4zM308.1 170.6l4.1 -9.2 -4.1 -10.7 -4.2 9.7zM316.4 167.3l4.3 -14.5 -4.2 -4.6 -4.3 13.2zM325.1 152.9l4.6 -26.1 -4.5 1.8 -4.5 24.2zM334 131l4.1 -3 -4.3 -6.4 -4.1 5.2zM342.5 129.7l3.8 7.5 -4.6 3.6 -3.6 -12.8zM351.1 128.1l4 -1.4 -4.9 12 -3.9 -1.5zM360.4 105.1l4.3 -6.7 -5.6 25.6 -4 2.7zM370.4 72l4.1 -3.5 -5.7 25.9 -4.1 4zM377.4 109l3.8 0.8 -3 -34.4 -3.7 -6.9zM384.7 133.8l4.1 -5.6 -3.7 -18.1 -3.9 -0.3zM392.6 145.2l4.7 -16.7 -4.3 -8.2 -4.2 7.9zM401.6 135.2l4 -4.4 -4.3 -6.7 -4 4.4z"/><path d="M151 124.9l4.7 -0.1 -5.9 -36.5 -4 12.6zM161 151.7l5 5.1 -5.5 -31.6 -4.8 -0.4zM170.7 174.4l4.4 -2.3 -4.6 -17.4 -4.5 2.1zM179.1 176.1l4.3 -3.3 -4.1 -7.3 -4.2 6.6zM186.9 165.5l3.9 -14.8 -3.5 6.9 -3.9 15.2zM194.2 138.6l4 -14.4 -3.8 2.4 -3.6 24.1zM201.9 116.5l4.6 0.4 -3.9 4.2 -4.4 3.1zM210.1 106.8l3.8 -24.4 -3 31 -4.4 3.5zM218.8 110.7l4.3 -8.1 -5.1 -37.5 -4.1 17.3zM228.2 142.4l4.5 2.4 -5.2 -47.6 -4.4 5.4zM237.4 176.9l4.2 -1.2 -4.6 -31.2 -4.3 0.3zM246 195.4l4 -11.8 -4.2 -15.1 -4.2 7.2zM254.1 187.5l4 -20.8 -4.1 -3.9 -4 20.8zM262.2 163.4l4.1 -27.9 -4.2 -0.5 -4 31.7zM270.5 135.6l4.2 0.5 -4.2 -0.1 -4.2 -0.5zM279 131.6l4.2 14 -4.2 10.9 -4.3 -20.4zM287.4 133.9l4.2 5.9 -4.3 16.8 -4.1 -11zM295.8 155.8l4.1 3.4 -4.2 -16.1 -4.1 -3.3zM304 173.4l4.1 -2.8 -4.2 -10.2 -4 -1.2zM312.2 178.5l4.2 -11.2 -4.2 -5.9 -4.1 9.2zM320.6 173.6l4.5 -20.7 -4.4 -0.1 -4.3 14.5zM329.4 156.2l4.6 -25.2 -4.3 -4.2 -4.6 26.1zM338.4 135.1l4.1 -5.4 -4.4 -1.7 -4.1 3zM347.1 126.5l4 1.6 -4.8 9.1 -3.8 -7.5zM356.1 113.4l4.3 -8.3 -5.3 21.6 -4 1.4zM366.1 80l4.3 -8 -5.7 26.4 -4.3 6.7zM373.4 111.8l4 -2.8 -2.9 -40.5 -4.1 3.5zM380.7 138.5l4 -4.7 -3.5 -24 -3.8 -0.8zM388.3 153.9l4.3 -8.7 -3.8 -17 -4.1 5.6zM396.6 155.4l5 -20.2 -4.3 -6.7 -4.7 16.7zM406.2 136.2l3.9 -3.1 -4.5 -2.3 -4 4.4z"/><path d="M146.1 122.8l4.9 2.1 -5.2 -24 -4 12.9zM155.9 143l5.1 8.7 -5.3 -26.9 -4.7 0.1zM165.6 166.1l5.1 8.3 -4.7 -17.6 -5 -5.1zM174.5 175.8l4.6 0.3 -4 -4 -4.4 2.3zM182.6 170l4.3 -4.5 -3.5 7.3 -4.3 3.3zM190.1 148.9l4.1 -10.3 -3.4 12.1 -3.9 14.8zM197.3 116.9l4.6 -0.4 -3.7 7.7 -4 14.4zM205.5 105.9l4.6 0.9 -3.6 10.1 -4.6 -0.4zM214.6 119.6l4.2 -8.9 -4.9 -28.3 -3.8 24.4zM223.6 138l4.6 4.4 -5.1 -39.8 -4.3 8.1zM232.9 172.8l4.5 4.1 -4.7 -32.1 -4.5 -2.4zM241.7 197.1l4.3 -1.7 -4.4 -19.7 -4.2 1.2zM250 199.1l4.1 -11.6 -4.1 -3.9 -4 11.8zM258.1 183l4.1 -19.6 -4.1 3.3 -4 20.8zM266.3 155.5l4.2 -19.9 -4.2 -0.1 -4.1 27.9zM274.7 131.3l4.3 0.3 -4.3 4.5 -4.2 -0.5zM283.2 130.3l4.2 3.6 -4.2 11.7 -4.2 -14zM291.7 148.6l4.1 7.2 -4.2 -16 -4.2 -5.9zM299.9 168.3l4.1 5.1 -4.1 -14.2 -4.1 -3.4zM308.1 183.9l4.1 -5.4 -4.1 -7.9 -4.1 2.8zM316.4 186.2l4.2 -12.6 -4.2 -6.3 -4.2 11.2zM324.9 177.2l4.5 -21 -4.3 -3.3 -4.5 20.7zM333.9 153.4l4.5 -18.3 -4.4 -4.1 -4.6 25.2zM343 131.7l4.1 -5.2 -4.6 3.2 -4.1 5.4zM351.9 120.3l4.2 -6.9 -5 14.7 -4 -1.6zM361.5 93.3l4.6 -13.3 -5.7 25.1 -4.3 8.3zM369.3 115.1l4.1 -3.3 -3 -39.8 -4.3 8zM376.6 141.9l4.1 -3.4 -3.3 -29.5 -4 2.8zM384.2 159.9l4.1 -6 -3.6 -20.1 -4 4.7zM392.3 165.6l4.3 -10.2 -4 -10.2 -4.3 8.7zM401.3 155.6l4.9 -19.4 -4.6 -1 -5 20.2zM411.1 134.2l3.9 -3.2 -4.9 2.1 -3.9 3.1z"/><path d="M141.4 124.4l4.7 -1.6 -4.3 -9 -4.6 4.1zM150.3 129.8l5.6 13.2 -4.9 -18.1 -4.9 -2.1zM160.2 152.6l5.4 13.5 -4.6 -14.4 -5.1 -8.7zM169.5 169.1l5 6.7 -3.8 -1.4 -5.1 -8.3zM177.9 168.8l4.7 1.2 -3.5 6.1 -4.6 -0.3zM185.5 150.2l4.6 -1.3 -3.2 16.6 -4.3 4.5zM192.7 117.5l4.6 -0.6 -3.1 21.7 -4.1 10.3zM200.1 83.6l5.4 22.3 -3.6 10.6 -4.6 0.4zM210 119.9l4.6 -0.3 -4.5 -12.8 -4.6 -0.9zM218.9 130.6l4.7 7.4 -4.8 -27.3 -4.2 8.9zM228.2 160.4l4.7 12.4 -4.7 -30.4 -4.6 -4.4zM237.3 190.5l4.4 6.6 -4.3 -20.2 -4.5 -4.1zM245.8 201.8l4.2 -2.7 -4 -3.7 -4.3 1.7zM254 189.9l4.1 -6.9 -4 4.5 -4.1 11.6zM262.1 169.6l4.2 -14.1 -4.1 7.9 -4.1 19.6zM270.4 142l4.3 -10.7 -4.2 4.3 -4.2 19.9zM279 127.3l4.2 3 -4.2 1.3 -4.3 -0.3zM287.5 137.6l4.2 11 -4.3 -14.7 -4.2 -3.6zM295.9 158.6l4 9.7 -4.1 -12.5 -4.1 -7.2zM304.1 179.4l4 4.5 -4.1 -10.5 -4.1 -5.1zM312.3 190l4.1 -3.8 -4.2 -7.7 -4.1 5.4zM320.7 188l4.2 -10.8 -4.3 -3.6 -4.2 12.6zM329.4 170l4.5 -16.6 -4.5 2.8 -4.5 21zM338.7 139.4l4.3 -7.7 -4.6 3.4 -4.5 18.3zM347.9 120.5l4 -0.2 -4.8 6.2 -4.1 5.2zM356.8 112.3l4.7 -19 -5.4 20.1 -4.2 6.9zM365.2 117.1l4.1 -2 -3.2 -35.1 -4.6 13.3zM372.8 141.8l3.8 0.1 -3.2 -30.1 -4.1 3.3zM380.3 162.8l3.9 -2.9 -3.5 -21.4 -4.1 3.4zM388.2 171.8l4.1 -6.2 -4 -11.7 -4.1 6zM397 166l4.3 -10.4 -4.7 -0.2 -4.3 10.2zM406.3 151.7l4.8 -17.5 -4.9 2 -4.9 19.4zM415.9 133.4l4.1 -4.6 -5 2.2 -3.9 3.2z"/><path d="M136.5 124.2l4.9 0.2 -4.2 -6.5 -5.3 -5.8zM145.5 129.8l4.8 0 -4.2 -7 -4.7 1.6zM154.4 134.3l5.8 18.3 -4.3 -9.6 -5.6 -13.2zM164.2 156.2l5.3 12.9 -3.9 -3 -5.4 -13.5zM173 163.1l4.9 5.7 -3.4 7 -5 -6.7zM180.8 147.9l4.7 2.3 -2.9 19.8 -4.7 -1.2zM187.9 115l4.8 2.5 -2.6 31.4 -4.6 1.3zM194.8 69.4l5.3 14.2 -2.8 33.3 -4.6 0.6zM205.2 112.8l4.8 7.1 -4.5 -14 -5.4 -22.3zM214.5 134.6l4.4 -4 -4.3 -11 -4.6 0.3zM223.3 140.2l4.9 20.2 -4.6 -22.4 -4.7 -7.4zM232.6 174.4l4.7 16.1 -4.4 -17.7 -4.7 -12.4zM241.3 191.4l4.5 10.4 -4.1 -4.7 -4.4 -6.6zM249.7 193.5l4.3 -3.6 -4 9.2 -4.2 2.7zM257.9 173l4.2 -3.4 -4 13.4 -4.1 6.9zM266.1 146.6l4.3 -4.6 -4.1 13.5 -4.2 14.1zM274.6 119l4.4 8.3 -4.3 4 -4.3 10.7zM283.2 137.3l4.3 0.3 -4.3 -7.3 -4.2 -3zM291.8 141l4.1 17.6 -4.2 -10 -4.2 -11zM300.1 169.1l4 10.3 -4.2 -11.1 -4 -9.7zM308.3 184.2l4 5.8 -4.2 -6.1 -4 -4.5zM316.6 191.9l4.1 -3.9 -4.3 -1.8 -4.1 3.8zM325.3 176.4l4.1 -6.4 -4.5 7.2 -4.2 10.8zM334.4 148.3l4.3 -8.9 -4.8 14 -4.5 16.6zM344 113.8l3.9 6.7 -4.9 11.2 -4.3 7.7zM352.8 109.9l4 2.4 -4.9 8 -4 0.2zM361.1 120.7l4.1 -3.6 -3.7 -23.8 -4.7 19zM369 138l3.8 3.8 -3.5 -26.7 -4.1 2zM376.5 160.3l3.8 2.5 -3.7 -20.9 -3.8 -0.1zM384.4 173.3l3.8 -1.5 -4 -11.9 -3.9 2.9zM392.7 174.6l4.3 -8.6 -4.7 -0.4 -4.1 6.2zM402 160.9l4.3 -9.2 -5 3.9 -4.3 10.4zM411.5 143.6l4.4 -10.2 -4.8 0.8 -4.8 17.5zM421.4 124.1l3.8 -1.1 -5.2 5.8 -4.1 4.6z"/><path d="M131.6 124.6l4.9 -0.4 -4.6 -12.1 -5.5 -9.1zM141.1 136.9l4.4 -7.1 -4.1 -5.4 -4.9 -0.2zM149.3 130.6l5.1 3.7 -4.1 -4.5 -4.8 0zM158.3 136.8l5.9 19.4 -4 -3.6 -5.8 -18.3zM167.8 152.6l5.2 10.5 -3.5 6 -5.3 -12.9zM176.1 147.3l4.7 0.6 -2.9 20.9 -4.9 -5.7zM183.2 114.9l4.7 0.1 -2.4 35.2 -4.7 -2.3zM189.7 61.4l5.1 8 -2.1 48.1 -4.8 -2.5zM200.4 109.2l4.8 3.6 -5.1 -29.2 -5.3 -14.2zM210.3 144.1l4.2 -9.5 -4.5 -14.7 -4.8 -7.1zM218.9 144.6l4.4 -4.4 -4.4 -9.6 -4.4 4zM227.5 148.4l5.1 26 -4.4 -14 -4.9 -20.2zM236.7 174.9l4.6 16.5 -4 -0.9 -4.7 -16.1zM245.3 186.2l4.4 7.3 -3.9 8.3 -4.5 -10.4zM253.6 176.3l4.3 -3.3 -3.9 16.9 -4.3 3.6zM261.8 143.1l4.3 3.5 -4 23 -4.2 3.4zM270.2 108.6l4.4 10.4 -4.2 23 -4.3 4.6zM279 143.6l4.2 -6.3 -4.2 -10 -4.4 -8.3zM287.5 142.7l4.3 -1.7 -4.3 -3.4 -4.3 -0.3zM296.1 146.2l4 22.9 -4.2 -10.5 -4.1 -17.6zM304.3 173.9l4 10.3 -4.2 -4.8 -4 -10.3zM312.6 186.5l4 5.4 -4.3 -1.9 -4 -5.8zM321.2 178.8l4.1 -2.4 -4.6 11.6 -4.1 3.9zM330.3 151.4l4.1 -3.1 -5 21.7 -4.1 6.4zM339.9 113.3l4.1 0.5 -5.3 25.6 -4.3 8.9zM349.5 88.4l3.3 21.5 -4.9 10.6 -3.9 -6.7zM357 124.2l4.1 -3.5 -4.3 -8.4 -4 -2.4zM365.5 128.4l3.5 9.6 -3.8 -20.9 -4.1 3.6zM373 153.2l3.5 7.1 -3.7 -18.5 -3.8 -3.8zM380.8 169.1l3.6 4.2 -4.1 -10.5 -3.8 -2.5zM388.9 175.1l3.8 -0.5 -4.5 -2.8 -3.8 1.5zM397.9 166.3l4.1 -5.4 -5 5.1 -4.3 8.6zM407.4 148.7l4.1 -5.1 -5.2 8.1 -4.3 9.2zM417.8 122.1l3.6 2 -5.5 9.3 -4.4 10.2zM426.7 118.2l3.7 0.8 -5.2 4 -3.8 1.1z"/><path d="M126.8 126.1l4.8 -1.5 -5.2 -21.6 -5.2 -2.6zM136.5 141.3l4.6 -4.4 -4.6 -12.7 -4.9 0.4zM145.2 141.8l4.1 -11.2 -3.8 -0.8 -4.4 7.1zM153.2 130.7l5.1 6.1 -3.9 -2.5 -5.1 -3.7zM162.2 137.9l5.6 14.7 -3.6 3.6 -5.9 -19.4zM171.1 141.9l5 5.4 -3.1 15.8 -5.2 -10.5zM178.7 119.3l4.5 -4.4 -2.4 33 -4.7 -0.6zM185 64.8l4.7 -3.4 -1.8 53.6 -4.7 -0.1zM195.5 103.9l4.9 5.3 -5.6 -39.8 -5.1 -8zM205.9 150.5l4.4 -6.4 -5.1 -31.3 -4.8 -3.6zM215 167.8l3.9 -23.2 -4.4 -10 -4.2 9.5zM223.1 150.6l4.4 -2.2 -4.2 -8.2 -4.4 4.4zM231.7 150.6l5 24.3 -4.1 -0.5 -5.1 -26zM240.7 170.7l4.6 15.5 -4 5.2 -4.6 -16.5zM249.2 172.7l4.4 3.6 -3.9 17.2 -4.4 -7.3zM257.4 143.6l4.4 -0.5 -3.9 29.9 -4.3 3.3zM265.8 102.4l4.4 6.2 -4.1 38 -4.3 -3.5zM274.6 145.5l4.4 -1.9 -4.4 -24.6 -4.4 -10.4zM283.2 162.1l4.3 -19.4 -4.3 -5.4 -4.2 6.3zM291.9 147.9l4.2 -1.7 -4.3 -5.2 -4.3 1.7zM300.4 149.7l3.9 24.2 -4.2 -4.8 -4 -22.9zM308.7 176.6l3.9 9.9 -4.3 -2.3 -4 -10.3zM317.1 177.5l4.1 1.3 -4.6 13.1 -4 -5.4zM326.2 153.3l4.1 -1.9 -5 25 -4.1 2.4zM335.8 114.3l4.1 -1 -5.5 35 -4.1 3.1zM345.6 78.7l3.9 9.7 -5.5 25.4 -4.1 -0.5zM352.9 123.5l4.1 0.7 -4.2 -14.3 -3.3 -21.5zM361.2 134l4.3 -5.6 -4.4 -7.7 -4.1 3.5zM369.7 137.6l3.3 15.6 -4 -15.2 -3.5 -9.6zM377.3 159.7l3.5 9.4 -4.3 -8.8 -3.5 -7.1zM385.3 171.3l3.6 3.8 -4.5 -1.8 -3.6 -4.2zM394 168.1l3.9 -1.8 -5.2 8.3 -3.8 0.5zM403.6 149.4l3.8 -0.7 -5.4 12.2 -4.1 5.4zM414 120.6l3.8 1.5 -6.3 21.5 -4.1 5.1zM423.7 107.4l3 10.8 -5.3 5.9 -3.6 -2zM429.9 143l3.7 -1 -3.2 -23 -3.7 -0.8z"/><path d="M122.3 131.4l4.5 -5.3 -5.6 -25.7 -4.7 4.3zM131.8 143l4.7 -1.7 -4.9 -16.7 -4.8 1.5zM140.9 149.9l4.3 -8.1 -4.1 -4.9 -4.6 4.4zM149.3 146.9l3.9 -16.2 -3.9 -0.1 -4.1 11.2zM157.2 133.7l5 4.2 -3.9 -1.1 -5.1 -6.1zM165.9 133.7l5.2 8.2 -3.3 10.7 -5.6 -14.7zM174 120.9l4.7 -1.6 -2.6 28 -5 -5.4zM180.7 76l4.3 -11.2 -1.8 50.1 -4.5 4.4zM191 108.5l4.5 -4.6 -5.8 -42.5 -4.7 3.4zM201.4 153.4l4.5 -2.9 -5.5 -41.3 -4.9 -5.3zM210.9 180.9l4.1 -13.1 -4.7 -23.7 -4.4 6.4zM219.4 179.6l3.7 -29 -4.2 -6 -3.9 23.2zM227.2 150.8l4.5 -0.2 -4.2 -2.2 -4.4 2.2zM235.8 148.9l4.9 21.8 -4 4.2 -5 -24.3zM244.6 159.8l4.6 12.9 -3.9 13.5 -4.6 -15.5zM253 146.3l4.4 -2.7 -3.8 32.7 -4.4 -3.6zM261.3 101.6l4.5 0.8 -4 40.7 -4.4 0.5zM270.3 148.8l4.3 -3.3 -4.4 -36.9 -4.4 -6.2zM279 173l4.2 -10.9 -4.2 -18.5 -4.4 1.9zM287.5 174.2l4.4 -26.3 -4.4 -5.2 -4.3 19.4zM296.2 151.5l4.2 -1.8 -4.3 -3.5 -4.2 1.7zM304.8 152.7l3.9 23.9 -4.4 -2.7 -3.9 -24.2zM313.1 171.6l4 5.9 -4.5 9 -3.9 -9.9zM322 156.8l4.2 -3.5 -5 25.5 -4.1 -1.3zM331.5 119.6l4.3 -5.3 -5.5 37.1 -4.1 1.9zM341.6 73.5l4 5.2 -5.7 34.6 -4.1 1zM348.9 122.9l4 0.6 -3.4 -35.1 -3.9 -9.7zM356.7 146.7l4.5 -12.7 -4.2 -9.8 -4.1 -0.7zM365.5 144.4l4.2 -6.8 -4.2 -9.2 -4.3 5.6zM374.3 140.8l3 18.9 -4.3 -6.5 -3.3 -15.6zM381.8 164.4l3.5 6.9 -4.5 -2.2 -3.5 -9.4zM390.3 165.7l3.7 2.4 -5.1 7 -3.6 -3.8zM399.7 151.1l3.9 -1.7 -5.7 16.9 -3.9 1.8zM410.5 115.8l3.5 4.8 -6.6 28.1 -3.8 0.7zM420.2 101.8l3.5 5.6 -5.9 14.7 -3.8 -1.5zM425.5 151.6l4.4 -8.6 -3.2 -24.8 -3 -10.8zM433.2 165l4 -5.5 -3.6 -17.5 -3.7 1z"/><path d="M117.7 137.2l4.6 -5.8 -5.8 -26.7 -4.4 8.2zM127.2 147.6l4.6 -4.6 -5 -16.9 -4.5 5.3zM136.3 154.5l4.6 -4.6 -4.4 -8.6 -4.7 1.7zM145.1 157l4.2 -10.1 -4.1 -5.1 -4.3 8.1zM153.1 146.1l4.1 -12.4 -4 -3 -3.9 16.2zM161 132.5l4.9 1.2 -3.7 4.2 -5 -4.2zM169.4 125.1l4.6 -4.2 -2.9 21 -5.2 -8.2zM176.6 91.9l4.1 -15.9 -2 43.3 -4.7 1.6zM186.4 113.7l4.6 -5.2 -6 -43.7 -4.3 11.2zM197 157.7l4.4 -4.3 -5.9 -49.5 -4.5 4.6zM206.7 188.6l4.2 -7.7 -5 -30.4 -4.5 2.9zM215.4 197.3l4 -17.7 -4.4 -11.8 -4.1 13.1zM223.5 181.2l3.7 -30.4 -4.1 -0.2 -3.7 29zM231.3 148.9l4.5 0 -4.1 1.7 -4.5 0.2zM239.9 144.3l4.7 15.5 -3.9 10.9 -4.9 -21.8zM248.5 142.3l4.5 4 -3.8 26.4 -4.6 -12.9zM256.9 107.4l4.4 -5.8 -3.9 42 -4.4 2.7zM265.9 147.5l4.4 1.3 -4.5 -46.4 -4.5 -0.8zM274.7 181.4l4.3 -8.4 -4.4 -27.5 -4.3 3.3zM283.2 188.7l4.3 -14.5 -4.3 -12.1 -4.2 10.9zM291.8 180.8l4.4 -29.3 -4.3 -3.6 -4.4 26.3zM300.6 153l4.2 -0.3 -4.4 -3 -4.2 1.8zM309.2 153l3.9 18.6 -4.4 5 -3.9 -23.9zM317.8 154.8l4.2 2 -4.9 20.7 -4 -5.9zM327.1 128.2l4.4 -8.6 -5.3 33.7 -4.2 3.5zM337.2 79.9l4.4 -6.4 -5.8 40.8 -4.3 5.3zM344.7 123.6l4.2 -0.7 -3.3 -44.2 -4 -5.2zM352.4 156.2l4.3 -9.5 -3.8 -23.2 -4 -0.6zM360.6 166.2l4.9 -21.8 -4.3 -10.4 -4.5 12.7zM370 149.1l4.3 -8.3 -4.6 -3.2 -4.2 6.8zM378.8 144.4l3 20 -4.5 -4.7 -3 -18.9zM386.7 161l3.6 4.7 -5 5.6 -3.5 -6.9zM395.8 151.1l3.9 0 -5.7 17 -3.7 -2.4zM406.4 119.3l4.1 -3.5 -6.9 33.6 -3.9 1.7zM416.8 95.2l3.4 6.6 -6.2 18.8 -3.5 -4.8zM421.6 154.9l3.9 -3.3 -1.8 -44.2 -3.5 -5.6zM427.5 191.8l5.7 -26.8 -3.3 -22 -4.4 8.6zM436.9 179.8l4.5 -10 -4.2 -10.3 -4 5.5z"/><path d="M112.8 138.2l4.9 -1 -5.6 -24.3 -4.1 11.6zM122.5 151.5l4.7 -3.9 -4.9 -16.2 -4.6 5.8zM131.7 158.6l4.6 -4.1 -4.5 -11.5 -4.6 4.6zM140.6 161.7l4.5 -4.7 -4.2 -7.1 -4.6 4.6zM148.9 156l4.2 -9.9 -3.8 0.8 -4.2 10.1zM156.3 135.3l4.7 -2.8 -3.8 1.2 -4.1 12.4zM164.6 127l4.8 -1.9 -3.5 8.6 -4.9 -1.2zM172.9 115.9l3.7 -24 -2.6 29 -4.6 4.2zM181.9 119.4l4.5 -5.7 -5.7 -37.7 -4.1 15.9zM192.2 156.3l4.8 1.4 -6 -49.2 -4.6 5.2zM202.3 193.2l4.4 -4.6 -5.3 -35.2 -4.4 4.3zM211.2 205.9l4.2 -8.6 -4.5 -16.4 -4.2 7.7zM219.5 200.6l4 -19.4 -4.1 -1.6 -4 17.7zM227.4 173.8l3.9 -24.9 -4.1 1.9 -3.7 30.4zM235.4 148.6l4.5 -4.3 -4.1 4.6 -4.5 0zM244 139.3l4.5 3 -3.9 17.5 -4.7 -15.5zM252.4 116.9l4.5 -9.5 -3.9 38.9 -4.5 -4zM261.5 145.2l4.4 2.3 -4.6 -45.9 -4.4 5.8zM270.4 180l4.3 1.4 -4.4 -32.6 -4.4 -1.3zM279 200.7l4.2 -12 -4.2 -15.7 -4.3 8.4zM287.4 199.4l4.4 -18.6 -4.3 -6.6 -4.3 14.5zM296.1 182.5l4.5 -29.5 -4.4 -1.5 -4.4 29.3zM305 153.3l4.2 -0.3 -4.4 -0.3 -4.2 0.3zM313.8 146.2l4 8.6 -4.7 16.8 -3.9 -18.6zM322.8 133l4.3 -4.8 -5.1 28.6 -4.2 -2zM332.5 94l4.7 -14.1 -5.7 39.7 -4.4 8.6zM340.4 129.9l4.3 -6.3 -3.1 -50.1 -4.4 6.4zM348.1 163.2l4.3 -7 -3.5 -33.3 -4.2 0.7zM356.1 180.2l4.5 -14 -3.9 -19.5 -4.3 9.5zM364.8 177.9l5.2 -28.8 -4.5 -4.7 -4.9 21.8zM374.6 151l4.2 -6.6 -4.5 -3.6 -4.3 8.3zM383.6 145.4l3.1 15.6 -4.9 3.4 -3 -20zM392.2 147.4l3.6 3.7 -5.5 14.6 -3.6 -4.7zM402.2 123.8l4.2 -4.5 -6.7 31.8 -3.9 0zM412.8 96.4l4 -1.2 -6.3 20.6 -4.1 3.5zM417.9 153l3.7 1.9 -1.4 -53.1 -3.4 -6.6zM423.3 199.9l4.2 -8.1 -2 -40.2 -3.9 3.3zM430.5 217.6l6.4 -37.8 -3.7 -14.8 -5.7 26.8zM441 190.6l4.7 -13.3 -4.3 -7.5 -4.5 10z"/><path d="M107.7 138.5l5.1 -0.3 -4.8 -13.7 -4.5 7.9zM117.2 148.1l5.3 3.4 -4.8 -14.3 -4.9 1zM126.9 160.1l4.8 -1.5 -4.5 -11 -4.7 3.9zM135.7 162l4.9 -0.3 -4.3 -7.2 -4.6 4.1zM144.2 160l4.7 -4 -3.8 1 -4.5 4.7zM151.9 142.2l4.4 -6.9 -3.2 10.8 -4.2 9.9zM159.5 122.6l5.1 4.4 -3.6 5.5 -4.7 2.8zM168.1 118.2l4.8 -2.3 -3.5 9.2 -4.8 1.9zM177.7 132l4.2 -12.6 -5.3 -27.5 -3.7 24zM187.3 151.4l4.9 4.9 -5.8 -42.6 -4.5 5.7zM197.5 187.7l4.8 5.5 -5.3 -35.5 -4.8 -1.4zM206.9 210.7l4.3 -4.8 -4.5 -17.3 -4.4 4.6zM215.4 211.3l4.1 -10.7 -4.1 -3.3 -4.2 8.6zM223.3 190.2l4.1 -16.4 -3.9 7.4 -4 19.4zM231.2 163.2l4.2 -14.6 -4.1 0.3 -3.9 24.9zM239.5 142.8l4.5 -3.5 -4.1 5 -4.5 4.3zM248.1 133l4.3 -16.1 -3.9 25.4 -4.5 -3zM257.1 146.9l4.4 -1.7 -4.6 -37.8 -4.5 9.5zM266 177.1l4.4 2.9 -4.5 -32.5 -4.4 -2.3zM274.7 204.5l4.3 -3.8 -4.3 -19.3 -4.3 -1.4zM283.2 210.8l4.2 -11.4 -4.2 -10.7 -4.2 12zM291.7 203.4l4.4 -20.9 -4.3 -1.7 -4.4 18.6zM300.5 180.6l4.5 -27.3 -4.4 -0.3 -4.5 29.5zM309.6 147.8l4.2 -1.6 -4.6 6.8 -4.2 0.3zM318.5 137.4l4.3 -4.4 -5 21.8 -4 -8.6zM327.9 108.8l4.6 -14.8 -5.4 34.2 -4.3 4.8zM336.1 136.9l4.3 -7 -3.2 -50 -4.7 14.1zM343.8 169.2l4.3 -6 -3.4 -39.6 -4.3 6.3zM351.8 189.2l4.3 -9 -3.7 -24 -4.3 7zM360.2 193.1l4.6 -15.2 -4.2 -11.7 -4.5 14zM369.5 176.4l5.1 -25.4 -4.6 -1.9 -5.2 28.8zM379.4 149.6l4.2 -4.2 -4.8 -1 -4.2 6.6zM388.6 141.4l3.6 6 -5.5 13.6 -3.1 -15.6zM398.2 126.8l4 -3 -6.4 27.3 -3.6 -3.7zM408.5 101.1l4.3 -4.7 -6.4 22.9 -4.2 4.5zM414.1 152.7l3.8 0.3 -1.1 -57.8 -4 1.2zM419.5 201.2l3.8 -1.3 -1.7 -45 -3.7 -1.9zM425.9 230.6l4.6 -13 -3 -25.8 -4.2 8.1zM434.2 232.3l6.8 -41.7 -4.1 -10.8 -6.4 37.8zM445.8 192.3l4.6 -12 -4.7 -3 -4.7 13.3z"/><path d="M103 142.8l4.7 -4.3 -4.2 -6.1 -4.8 3.6zM111.8 143.5l5.4 4.6 -4.4 -9.9 -5.1 0.3zM121.7 157l5.2 3.1 -4.4 -8.6 -5.3 -3.4zM130.8 162.2l4.9 -0.2 -4 -3.4 -4.8 1.5zM139.3 158.7l4.9 1.3 -3.6 1.7 -4.9 0.3zM147.1 145.4l4.8 -3.2 -3 13.8 -4.7 4zM154.6 123.3l4.9 -0.7 -3.2 12.7 -4.4 6.9zM162.1 97.8l6 20.4 -3.5 8.8 -5.1 -4.4zM173 135.1l4.7 -3.1 -4.8 -16.1 -4.8 2.3zM182.4 146.8l4.9 4.6 -5.4 -32 -4.2 12.6zM192.4 176.2l5.1 11.5 -5.3 -31.4 -4.9 -4.9zM202.2 207.2l4.7 3.5 -4.6 -17.5 -4.8 -5.5zM211 214.1l4.4 -2.8 -4.2 -5.4 -4.3 4.8zM219.1 201.9l4.2 -11.7 -3.8 10.4 -4.1 10.7zM227 174.5l4.2 -11.3 -3.8 10.6 -4.1 16.4zM235 146.6l4.5 -3.8 -4.1 5.8 -4.2 14.6zM243.7 136.2l4.4 -3.2 -4.1 6.3 -4.5 3.5zM252.6 146.6l4.5 0.3 -4.7 -30 -4.3 16.1zM261.6 169.5l4.4 7.6 -4.5 -31.9 -4.4 1.7zM270.4 199.8l4.3 4.7 -4.3 -24.5 -4.4 -2.9zM279 216.4l4.2 -5.6 -4.2 -10.1 -4.3 3.8zM287.5 213.4l4.2 -10 -4.3 -4 -4.2 11.4zM296.1 200.5l4.4 -19.9 -4.4 1.9 -4.4 20.9zM305.1 163.8l4.5 -16 -4.6 5.5 -4.5 27.3zM314.2 140.1l4.3 -2.7 -4.7 8.8 -4.2 1.6zM323.2 131.7l4.7 -22.9 -5.1 24.2 -4.3 4.4zM331.8 139.4l4.3 -2.5 -3.6 -42.9 -4.6 14.8zM339.8 167.7l4 1.5 -3.4 -39.3 -4.3 7zM347.6 195.3l4.2 -6.1 -3.7 -26 -4.3 6zM355.9 201.1l4.3 -8 -4.1 -12.9 -4.3 9zM364.8 194.6l4.7 -18.2 -4.7 1.5 -4.6 15.2zM374.6 167.3l4.8 -17.7 -4.8 1.4 -5.1 25.4zM384.5 144l4.1 -2.6 -5 4 -4.2 4.2zM393.9 133l4.3 -6.2 -6 20.6 -3.6 -6zM403.8 114.7l4.7 -13.6 -6.3 22.7 -4 3zM410.4 151l3.7 1.7 -1.3 -56.3 -4.3 4.7zM415.9 200.6l3.6 0.6 -1.6 -48.2 -3.8 -0.3zM421.8 236.6l4.1 -6 -2.6 -30.7 -3.8 1.3zM429.4 248.3l4.8 -16 -3.7 -14.7 -4.6 13zM439.1 230.8l6.7 -38.5 -4.8 -1.7 -6.8 41.7zM451.5 184.1l4.2 -7 -5.3 3.2 -4.6 12z"/><path d="M99.2 158.4l3.8 -15.6 -4.3 -6.8 -4.8 3.2zM107.1 148.1l4.7 -4.6 -4.1 -5 -4.7 4.3zM116.1 149.9l5.6 7.1 -4.5 -8.9 -5.4 -4.6zM125.6 160l5.2 2.2 -3.9 -2.1 -5.2 -3.1zM134.4 159.9l4.9 -1.2 -3.6 3.3 -4.9 0.2zM142.3 147.2l4.8 -1.8 -2.9 14.6 -4.9 -1.3zM149.6 122.7l5 0.6 -2.7 18.9 -4.8 3.2zM156.6 88.1l5.5 9.7 -2.6 24.8 -4.9 0.7zM167.8 128.1l5.2 7 -4.9 -16.9 -6 -20.4zM177.8 151.3l4.6 -4.5 -4.7 -14.8 -4.7 3.1zM186.9 159.7l5.5 16.5 -5.1 -24.8 -4.9 -4.6zM197 192.8l5.2 14.4 -4.7 -19.5 -5.1 -11.5zM206.4 212.5l4.6 1.6 -4.1 -3.4 -4.7 -3.5zM214.6 204.2l4.5 -2.3 -3.7 9.4 -4.4 2.8zM222.6 182.4l4.4 -7.9 -3.7 15.7 -4.2 11.7zM230.6 150.8l4.4 -4.2 -3.8 16.6 -4.2 11.3zM238.8 119.5l4.9 16.7 -4.2 6.6 -4.5 3.8zM248.1 148.6l4.5 -2 -4.5 -13.6 -4.4 3.2zM257 153.6l4.6 15.9 -4.5 -22.6 -4.5 -0.3zM266 184.6l4.4 15.2 -4.4 -22.7 -4.4 -7.6zM274.7 212.5l4.3 3.9 -4.3 -11.9 -4.3 -4.7zM283.2 217l4.3 -3.6 -4.3 -2.6 -4.2 5.6zM291.8 206.8l4.3 -6.3 -4.4 2.9 -4.2 10zM300.7 177.6l4.4 -13.8 -4.6 16.8 -4.4 19.9zM309.9 142.5l4.3 -2.4 -4.6 7.7 -4.5 16zM318.9 133.4l4.3 -1.7 -4.7 5.7 -4.3 2.7zM327.5 143.1l4.3 -3.7 -3.9 -30.6 -4.7 22.9zM335.9 160.7l3.9 7 -3.7 -30.8 -4.3 2.5zM343.7 192l3.9 3.3 -3.8 -26.1 -4 -1.5zM351.7 207.5l4.2 -6.4 -4.1 -11.9 -4.2 6.1zM360.4 204.4l4.4 -9.8 -4.6 -1.5 -4.3 8zM370.1 180.2l4.5 -12.9 -5.1 9.1 -4.7 18.2zM380.2 149.8l4.3 -5.8 -5.1 5.6 -4.8 17.7zM390 130.7l3.9 2.3 -5.3 8.4 -4.1 2.6zM398.8 132.1l5 -17.4 -5.6 12.1 -4.3 6.2zM406.7 148.9l3.7 2.1 -1.9 -49.9 -4.7 13.6zM412.6 193.7l3.3 6.9 -1.8 -47.9 -3.7 -1.7zM418.4 233.7l3.4 2.9 -2.3 -35.4 -3.6 -0.6zM425.4 253.9l4 -5.6 -3.5 -17.7 -4.1 6zM434.4 245.5l4.7 -14.7 -4.9 1.5 -4.8 16zM445.3 215.2l6.2 -31.1 -5.7 8.2 -6.7 38.5zM457.2 175.4l3.7 -0.8 -5.2 2.5 -4.2 7z"/><path d="M95.3 172l3.9 -13.6 -5.3 -19.2 -4.6 6.5zM103.9 170.9l3.2 -22.8 -4.1 -5.3 -3.8 15.6zM111.1 151.3l5 -1.4 -4.3 -6.4 -4.7 4.6zM120 152.6l5.6 7.4 -3.9 -3 -5.6 -7.1zM129.2 157.7l5.2 2.2 -3.6 2.3 -5.2 -2.2zM137.7 152.9l4.6 -5.7 -3 11.5 -4.9 1.2zM144.8 125l4.8 -2.3 -2.5 22.7 -4.8 1.8zM151.2 82.4l5.4 5.7 -2 35.2 -5 -0.6zM162.7 124.8l5.1 3.3 -5.7 -30.3 -5.5 -9.7zM173.5 162.9l4.3 -11.6 -4.8 -16.2 -5.2 -7zM182.3 162.8l4.6 -3.1 -4.5 -12.9 -4.6 4.5zM191.3 166.7l5.7 26.1 -4.6 -16.6 -5.5 -16.5zM201.2 197.5l5.2 15 -4.2 -5.3 -5.2 -14.4zM210 201.1l4.6 3.1 -3.6 9.9 -4.6 -1.6zM218.1 183.1l4.5 -0.7 -3.5 19.5 -4.5 2.3zM226 155l4.6 -4.2 -3.6 23.7 -4.4 7.9zM234 112.8l4.8 6.7 -3.8 27.1 -4.4 4.2zM243.6 148.5l4.5 0.1 -4.4 -12.4 -4.9 -16.7zM252.5 155.1l4.5 -1.5 -4.4 -7 -4.5 2zM261.4 160.7l4.6 23.9 -4.4 -15.1 -4.6 -15.9zM270.3 194.2l4.4 18.3 -4.3 -12.7 -4.4 -15.2zM279 214.2l4.2 2.8 -4.2 -0.6 -4.3 -3.9zM287.6 206.8l4.2 0 -4.3 6.6 -4.3 3.6zM296.4 182.7l4.3 -5.1 -4.6 22.9 -4.3 6.3zM305.5 144.9l4.4 -2.4 -4.8 21.3 -4.4 13.8zM314.8 121l4.1 12.4 -4.7 6.7 -4.3 2.4zM323.2 145.8l4.3 -2.7 -4.3 -11.4 -4.3 1.7zM331.9 151.7l4 9 -4.1 -21.3 -4.3 3.7zM339.9 183l3.8 9 -3.9 -24.3 -3.9 -7zM347.9 203.6l3.8 3.9 -4.1 -12.2 -3.9 -3.3zM356.3 207.3l4.1 -2.9 -4.5 -3.3 -4.2 6.4zM365.6 190.8l4.5 -10.6 -5.3 14.4 -4.4 9.8zM376 153.5l4.2 -3.7 -5.6 17.5 -4.5 12.9zM386.4 122.9l3.6 7.8 -5.5 13.3 -4.3 5.8zM395.1 127.9l3.7 4.2 -4.9 0.9 -3.9 -2.3zM402.9 146.9l3.8 2 -2.9 -34.2 -5 17.4zM409.7 178.4l2.9 15.3 -2.2 -42.7 -3.7 -2.1zM415.6 220.8l2.8 12.9 -2.5 -33.1 -3.3 -6.9zM422.1 248.5l3.3 5.4 -3.6 -17.3 -3.4 -2.9zM430.6 248.3l3.8 -2.8 -5 2.8 -4 5.6zM440.9 224.1l4.4 -8.9 -6.2 15.6 -4.7 14.7zM452.3 190.2l4.9 -14.8 -5.7 8.7 -6.2 31.1zM463.4 163.7l3 6.8 -5.5 4.1 -3.7 0.8z"/><path d="M91 181.3l4.3 -9.3 -6 -26.3 -4.6 6.4zM100.3 188.4l3.6 -17.5 -4.7 -12.5 -3.9 13.6zM108.1 176.7l3 -25.4 -4 -3.2 -3.2 22.8zM114.9 152.2l5.1 0.4 -3.9 -2.7 -5 1.4zM123.6 150l5.6 7.7 -3.6 2.3 -5.6 -7.4zM132.9 154.9l4.8 -2 -3.3 7 -5.2 -2.2zM140.4 134.4l4.4 -9.4 -2.5 22.2 -4.6 5.7zM146.3 85.9l4.9 -3.5 -1.6 40.3 -4.8 2.3zM157.6 123.7l5.1 1.1 -6.1 -36.7 -5.4 -5.7zM169.1 170.6l4.4 -7.7 -5.7 -34.8 -5.1 -3.3zM178.8 189l3.5 -26.2 -4.5 -11.5 -4.3 11.6zM186.5 167l4.8 -0.3 -4.4 -7 -4.6 3.1zM195.3 167.1l5.9 30.4 -4.2 -4.7 -5.7 -26.1zM204.9 188.4l5.1 12.7 -3.6 11.4 -5.2 -15zM213.3 180l4.8 3.1 -3.5 21.1 -4.6 -3.1zM221.4 154.8l4.6 0.2 -3.4 27.4 -4.5 0.7zM229.3 112.2l4.7 0.6 -3.4 38 -4.6 4.2zM239.1 154.6l4.5 -6.1 -4.8 -29 -4.8 -6.7zM248.2 170.3l4.3 -15.2 -4.4 -6.5 -4.5 -0.1zM256.9 161.4l4.5 -0.7 -4.4 -7.1 -4.5 1.5zM265.7 164.3l4.6 29.9 -4.3 -9.6 -4.6 -23.9zM274.6 197.4l4.4 16.8 -4.3 -1.7 -4.4 -18.3zM283.3 202.4l4.3 4.4 -4.4 10.2 -4.2 -2.8zM292 184.5l4.4 -1.8 -4.6 24.1 -4.2 0zM301.2 146.6l4.3 -1.7 -4.8 32.7 -4.3 5.1zM310.5 116.1l4.3 4.9 -4.9 21.5 -4.4 2.4zM318.9 149.5l4.3 -3.7 -4.3 -12.4 -4.1 -12.4zM327.6 157l4.3 -5.3 -4.4 -8.6 -4.3 2.7zM336.3 161.9l3.6 21.1 -4 -22.3 -4 -9zM344.2 192l3.7 11.6 -4.2 -11.6 -3.8 -9zM352.5 202.8l3.8 4.5 -4.6 0.2 -3.8 -3.9zM361.5 192.8l4.1 -2 -5.2 13.6 -4.1 2.9zM371.7 159.5l4.3 -6 -5.9 26.7 -4.5 10.6zM382.6 118.2l3.8 4.7 -6.2 26.9 -4.2 3.7zM391.9 111.2l3.2 16.7 -5.1 2.8 -3.6 -7.8zM399 145.9l3.9 1 -4.1 -14.8 -3.7 -4.2zM407.1 158.1l2.6 20.3 -3 -29.5 -3.8 -2zM413.4 197.3l2.2 23.5 -3 -27.1 -2.9 -15.3zM419.6 232.6l2.5 15.9 -3.7 -14.8 -2.8 -12.9zM427.4 242.2l3.2 6.1 -5.2 5.6 -3.3 -5.4zM437.4 223.4l3.5 0.7 -6.5 21.4 -3.8 2.8zM448.7 190.5l3.6 -0.3 -7 25 -4.4 8.9zM460 159.8l3.4 3.9 -6.2 11.7 -4.9 14.8zM468.6 162.8l2.7 9.5 -4.9 -1.8 -3 -6.8z"/><path d="M86 183.2l5 -1.9 -6.3 -29.2 -5.3 -0.8zM96.3 200.3l4 -11.9 -5 -16.4 -4.3 9.3zM104.9 199.4l3.2 -22.7 -4.2 -5.8 -3.6 17.5zM112 179.6l2.9 -27.4 -3.8 -0.9 -3 25.4zM118.6 151l5 -1 -3.6 2.6 -5.1 -0.4zM127.6 151.5l5.3 3.4 -3.7 2.8 -5.6 -7.7zM135.7 140.2l4.7 -5.8 -2.7 18.5 -4.8 2zM142 98.4l4.3 -12.5 -1.5 39.1 -4.4 9.4zM152.8 126.6l4.8 -2.9 -6.4 -41.3 -4.9 3.5zM164.5 175.3l4.6 -4.7 -6.4 -45.8 -5.1 -1.1zM174.8 205l4 -16 -5.3 -26.1 -4.4 7.7zM183.4 201.9l3.1 -34.9 -4.2 -4.2 -3.5 26.2zM190.6 168.9l4.7 -1.8 -4 -0.4 -4.8 0.3zM199.3 163.9l5.6 24.5 -3.7 9.1 -5.9 -30.4zM208.5 174.2l4.8 5.8 -3.3 21.1 -5.1 -12.7zM216.6 151.7l4.8 3.1 -3.3 28.3 -4.8 -3.1zM224.5 111l4.8 1.2 -3.3 42.8 -4.6 -0.2zM234.6 158.6l4.5 -4 -5.1 -41.8 -4.7 -0.6zM243.9 183.9l4.3 -13.6 -4.6 -21.8 -4.5 6.1zM252.7 189.1l4.2 -27.7 -4.4 -6.3 -4.3 15.2zM261.3 165.4l4.4 -1.1 -4.3 -3.6 -4.5 0.7zM270.1 167.4l4.5 30 -4.3 -3.2 -4.6 -29.9zM279 188l4.3 14.4 -4.3 11.8 -4.4 -16.8zM287.7 181.5l4.3 3 -4.4 22.3 -4.3 -4.4zM296.8 151.1l4.4 -4.5 -4.8 36.1 -4.4 1.8zM306.1 114.8l4.4 1.3 -5 28.8 -4.3 1.7zM314.5 156.2l4.4 -6.7 -4.1 -28.5 -4.3 -4.9zM323 175.9l4.6 -18.9 -4.4 -11.2 -4.3 3.7zM332 166.9l4.3 -5 -4.4 -10.2 -4.3 5.3zM340.8 166.8l3.4 25.2 -4.3 -9 -3.6 -21.1zM348.9 190.2l3.6 12.6 -4.6 0.8 -3.7 -11.6zM357.6 190.4l3.9 2.4 -5.2 14.5 -3.8 -4.5zM367.4 165l4.3 -5.5 -6.1 31.3 -4.1 2zM378.5 116.8l4.1 1.4 -6.6 35.3 -4.3 6zM388.5 99.6l3.4 11.6 -5.5 11.7 -3.8 -4.7zM395 146.3l4 -0.4 -3.9 -18 -3.2 -16.7zM403.3 156.4l3.8 1.7 -4.2 -11.2 -3.9 -1zM411.7 164.5l1.7 32.8 -3.7 -18.9 -2.6 -20.3zM417.6 207.7l2 24.9 -4 -11.8 -2.2 -23.5zM424.8 228.1l2.6 14.1 -5.3 6.3 -2.5 -15.9zM434.1 218.5l3.3 4.9 -6.8 24.9 -3.2 -6.1zM445.6 183.3l3.1 7.2 -7.8 33.6 -3.5 -0.7zM457.7 144.2l2.3 15.6 -7.7 30.4 -3.6 0.3zM465.6 155.4l3 7.4 -5.2 0.9 -3.4 -3.9zM472.6 175.6l3.2 4.1 -4.5 -7.4 -2.7 -9.5z"/><path d="M80.2 176.9l5.8 6.3 -6.6 -31.9 -5.7 -3.9zM91.6 204.4l4.7 -4.1 -5.3 -19 -5 1.9zM100.9 211.9l4 -12.5 -4.6 -11 -4 11.9zM108.8 201.5l3.2 -21.9 -3.9 -2.9 -3.2 22.7zM115.5 176.9l3.1 -25.9 -3.7 1.2 -2.9 27.4zM122.3 149.5l5.3 2 -4 -1.5 -5 1zM131.2 148l4.5 -7.8 -2.8 14.7 -5.3 -3.4zM137.8 113.4l4.2 -15 -1.6 36 -4.7 5.8zM148.2 133l4.6 -6.4 -6.5 -40.7 -4.3 12.5zM159.6 175.9l4.9 -0.6 -6.9 -51.6 -4.8 2.9zM170.5 212.9l4.3 -7.9 -5.7 -34.4 -4.6 4.7zM179.6 222.2l3.8 -20.3 -4.6 -12.9 -4 16zM187.4 203.6l3.2 -34.7 -4.1 -1.9 -3.1 34.9zM194.6 166.4l4.7 -2.5 -4 3.2 -4.7 1.8zM203.2 159.4l5.3 14.8 -3.6 14.2 -5.6 -24.5zM212 154.4l4.6 -2.7 -3.3 28.3 -4.8 -5.8zM219.7 111.3l4.8 -0.3 -3.1 43.8 -4.8 -3.1zM229.9 158.4l4.7 0.2 -5.3 -46.4 -4.8 -1.2zM239.5 192.2l4.4 -8.3 -4.8 -29.3 -4.5 4zM248.5 207.2l4.2 -18.1 -4.5 -18.8 -4.3 13.6zM257.1 198.9l4.2 -33.5 -4.4 -4 -4.2 27.7zM265.6 166.3l4.5 1.1 -4.4 -3.1 -4.4 1.1zM274.5 167l4.5 21 -4.4 9.4 -4.5 -30zM283.4 174.3l4.3 7.2 -4.4 20.9 -4.3 -14.4zM292.3 155.8l4.5 -4.7 -4.8 33.4 -4.3 -3zM301.7 118.8l4.4 -4 -4.9 31.8 -4.4 4.5zM310.1 160.8l4.4 -4.6 -4 -40.1 -4.4 -1.3zM318.5 189.5l4.5 -13.6 -4.1 -26.4 -4.4 6.7zM327.1 193.5l4.9 -26.6 -4.4 -9.9 -4.6 18.9zM336.5 172.2l4.3 -5.4 -4.5 -4.9 -4.3 5zM345.5 166.9l3.4 23.3 -4.7 1.8 -3.4 -25.2zM353.9 181.3l3.7 9.1 -5.1 12.4 -3.6 -12.6zM363.3 165.9l4.1 -0.9 -5.9 27.8 -3.9 -2.4zM374.1 122.6l4.4 -5.8 -6.8 42.7 -4.3 5.5zM384.7 93.2l3.8 6.4 -5.9 18.6 -4.1 -1.4zM391.1 144l3.9 2.3 -3.1 -35.1 -3.4 -11.6zM398.5 171.1l4.8 -14.7 -4.3 -10.5 -4 0.4zM407.6 167l4.1 -2.5 -4.6 -6.4 -3.8 -1.7zM416.3 170.9l1.3 36.8 -4.2 -10.4 -1.7 -32.8zM422.7 205.2l2.1 22.9 -5.2 4.5 -2 -24.9zM431.1 208.8l3 9.7 -6.7 23.7 -2.6 -14.1zM442.4 177l3.2 6.3 -8.2 40.1 -3.3 -4.9zM455.5 125.4l2.2 18.8 -9 46.3 -3.1 -7.2zM463.9 132.9l1.7 22.5 -5.6 4.4 -2.3 -15.6zM467.9 186.9l4.7 -11.3 -4 -12.8 -3 -7.4zM476.8 186.1l3.8 -1.8 -4.8 -4.6 -3.2 -4.1z"/><path d="M74 167.7l6.2 9.2 -6.5 -29.5 -5.6 -3zM85.7 197.3l5.9 7.1 -5.6 -21.2 -5.8 -6.3zM96.3 217.1l4.6 -5.2 -4.6 -11.6 -4.7 4.1zM104.8 214.1l4 -12.6 -3.9 -2.1 -4 12.5zM111.9 194.8l3.6 -17.9 -3.5 2.7 -3.2 21.9zM118.3 164.2l4 -14.7 -3.7 1.5 -3.1 25.9zM126.1 148.6l5.1 -0.6 -3.6 3.5 -5.3 -2zM134.5 140l3.3 -26.6 -2.1 26.8 -4.5 7.8zM143.4 137.8l4.8 -4.8 -6.2 -34.6 -4.2 15zM154.6 173.4l5 2.5 -6.8 -49.3 -4.6 6.4zM165.6 212.4l4.9 0.5 -6 -37.6 -4.9 0.6zM175.5 233.8l4.1 -11.6 -4.8 -17.2 -4.3 7.9zM183.6 224.4l3.8 -20.8 -4 -1.7 -3.8 20.3zM191.2 198.4l3.4 -32 -4 2.5 -3.2 34.7zM198.5 161.6l4.7 -2.2 -3.9 4.5 -4.7 2.5zM207.2 154.5l4.8 -0.1 -3.5 19.8 -5.3 -14.8zM215.3 125.8l4.4 -14.5 -3.1 40.4 -4.6 2.7zM225.2 157.9l4.7 0.5 -5.4 -47.4 -4.8 0.3zM235 194.5l4.5 -2.3 -4.9 -33.6 -4.7 -0.2zM244.2 217.6l4.3 -10.4 -4.6 -23.3 -4.4 8.3zM252.9 218.5l4.2 -19.6 -4.4 -9.8 -4.2 18.1zM261.4 199.7l4.2 -33.4 -4.3 -0.9 -4.2 33.5zM270 166l4.5 1 -4.4 0.4 -4.5 -1.1zM279 164.1l4.4 10.2 -4.4 13.7 -4.5 -21zM287.9 154.4l4.4 1.4 -4.6 25.7 -4.3 -7.2zM297.1 125.7l4.6 -6.9 -4.9 32.3 -4.5 4.7zM305.7 164.2l4.4 -3.4 -4 -46 -4.4 4zM314.1 195.6l4.4 -6.1 -4 -33.3 -4.4 4.6zM322.6 209.4l4.5 -15.9 -4.1 -17.6 -4.5 13.6zM331.5 203.5l5 -31.3 -4.5 -5.3 -4.9 26.6zM341.2 173.1l4.3 -6.2 -4.7 -0.1 -4.3 5.4zM350.3 166.2l3.6 15.1 -5 8.9 -3.4 -23.3zM359.2 165.6l4.1 0.3 -5.7 24.5 -3.7 -9.1zM369.6 131.1l4.5 -8.5 -6.7 42.4 -4.1 0.9zM380.3 96.9l4.4 -3.7 -6.2 23.6 -4.4 5.8zM386.9 147l4.2 -3 -2.6 -44.4 -3.8 -6.4zM394 181.4l4.5 -10.3 -3.5 -24.8 -3.9 -2.3zM402.1 193.2l5.5 -26.2 -4.3 -10.6 -4.8 14.7zM412.1 175l4.2 -4.1 -4.6 -6.4 -4.1 2.5zM421.2 172.7l1.5 32.5 -5.1 2.5 -1.3 -36.8zM428.9 188.2l2.2 20.6 -6.3 19.3 -2.1 -22.9zM439 171.2l3.4 5.8 -8.3 41.5 -3 -9.7zM452.4 116.3l3.1 9.1 -9.9 57.9 -3.2 -6.3zM461.9 112.5l2 20.4 -6.2 11.3 -2.2 -18.8zM465.3 175.4l2.6 11.5 -2.3 -31.5 -1.7 -22.5zM471 209.8l5.8 -23.7 -4.2 -10.5 -4.7 11.3zM481.3 193.3l4.2 -6.6 -4.9 -2.4 -3.8 1.8z"/><path d="M67.1 151.6l6.9 16.1 -5.9 -23.3 -6.2 -7.9zM79.2 183.8l6.5 13.5 -5.5 -20.4 -6.2 -9.2zM90.4 208.4l5.9 8.7 -4.7 -12.7 -5.9 -7.1zM100 218.3l4.8 -4.2 -3.9 -2.2 -4.6 5.2zM107.6 204.4l4.3 -9.6 -3.1 6.7 -4 12.6zM114.3 178.4l4 -14.2 -2.8 12.7 -3.6 17.9zM120.8 146l5.3 2.6 -3.8 0.9 -4 14.7zM129.8 145.9l4.7 -5.9 -3.3 8 -5.1 0.6zM139 148.5l4.4 -10.7 -5.6 -24.4 -3.3 26.6zM149.1 165.8l5.5 7.6 -6.4 -40.4 -4.8 4.8zM160.5 207.1l5.1 5.3 -6 -36.5 -5 -2.5zM170.7 233.7l4.8 0.1 -5 -20.9 -4.9 -0.5zM179.6 237.9l4 -13.5 -4 -2.2 -4.1 11.6zM187.3 218.3l3.9 -19.9 -3.8 5.2 -3.8 20.8zM194.7 184.8l3.8 -23.2 -3.9 4.8 -3.4 32zM202.5 155.3l4.7 -0.8 -4 4.9 -4.7 2.2zM211.2 146.1l4.1 -20.3 -3.3 28.6 -4.8 0.1zM220.6 159.5l4.6 -1.6 -5.5 -46.6 -4.4 14.5zM230.3 191l4.7 3.5 -5.1 -36.1 -4.7 -0.5zM239.7 220.7l4.5 -3.1 -4.7 -25.4 -4.5 2.3zM248.6 229.7l4.3 -11.2 -4.4 -11.3 -4.3 10.4zM257.2 220.3l4.2 -20.6 -4.3 -0.8 -4.2 19.6zM265.7 193.1l4.3 -27.1 -4.4 0.3 -4.2 33.4zM274.5 165.9l4.5 -1.8 -4.5 2.9 -4.5 -1zM283.5 155l4.4 -0.6 -4.5 19.9 -4.4 -10.2zM292.6 133.3l4.5 -7.6 -4.8 30.1 -4.4 -1.4zM301.4 162.4l4.3 1.8 -4 -45.4 -4.6 6.9zM309.8 198.5l4.3 -2.9 -4 -34.8 -4.4 3.4zM318.3 217l4.3 -7.6 -4.1 -19.9 -4.4 6.1zM326.9 221.7l4.6 -18.2 -4.4 -10 -4.5 15.9zM336.1 203.8l5.1 -30.7 -4.7 -0.9 -5 31.3zM345.9 172.7l4.4 -6.5 -4.8 0.7 -4.3 6.2zM355.2 161.6l4 4 -5.3 15.7 -3.6 -15.1zM364.9 143l4.7 -11.9 -6.3 34.8 -4.1 -0.3zM375.5 110.7l4.8 -13.8 -6.2 25.7 -4.5 8.5zM382.6 153.1l4.3 -6.1 -2.2 -53.8 -4.4 3.7zM389.6 189.9l4.4 -8.5 -2.9 -37.4 -4.2 3zM397.4 207.8l4.7 -14.6 -3.6 -22.1 -4.5 10.3zM406.4 204.5l5.7 -29.5 -4.5 -8 -5.5 26.2zM417 176.2l4.2 -3.5 -4.9 -1.8 -4.2 4.1zM426.7 165.8l2.2 22.4 -6.2 17 -1.5 -32.5zM435.7 165l3.3 6.2 -7.9 37.6 -2.2 -20.6zM448.3 120l4.1 -3.7 -10 60.7 -3.4 -5.8zM458.7 104.3l3.2 8.2 -6.4 12.9 -3.1 -9.1zM462.6 164.5l2.7 10.9 -1.4 -42.5 -2 -20.4zM467.6 208l3.4 1.8 -3.1 -22.9 -2.6 -11.5zM474.9 223.1l6.4 -29.8 -4.5 -7.2 -5.8 23.7zM487.1 188l4.2 -6.5 -5.8 5.2 -4.2 6.6z"/><path d="M61 145.4l6.1 6.2 -5.2 -15.1 -6 -5.2zM72 164.1l7.2 19.7 -5.2 -16.1 -6.9 -16.1zM83.7 192.4l6.7 16 -4.7 -11.1 -6.5 -13.5zM94.2 210.1l5.8 8.2 -3.7 -1.2 -5.9 -8.7zM102.9 209l4.7 -4.6 -2.8 9.7 -4.8 4.2zM109.8 186.3l4.5 -7.9 -2.4 16.4 -4.3 9.6zM115.9 149.8l4.9 -3.8 -2.5 18.2 -4 14.2zM123 124.3l6.8 21.6 -3.7 2.7 -5.3 -2.6zM134.1 151.3l4.9 -2.8 -4.5 -8.5 -4.7 5.9zM143.8 161l5.3 4.8 -5.7 -28 -4.4 10.7zM154.5 189.4l6 17.7 -5.9 -33.7 -5.5 -7.6zM165.4 225.8l5.3 7.9 -5.1 -21.3 -5.1 -5.3zM174.9 239.8l4.7 -1.9 -4.1 -4.1 -4.8 -0.1zM183.1 228.9l4.2 -10.6 -3.7 6.1 -4 13.5zM190.4 198.1l4.3 -13.3 -3.5 13.6 -3.9 19.9zM197.9 162l4.6 -6.7 -4 6.3 -3.8 23.2zM206.5 149.7l4.7 -3.6 -4 8.4 -4.7 0.8zM215.8 157.1l4.8 2.4 -5.3 -33.7 -4.1 20.3zM225.5 184.9l4.8 6.1 -5.1 -33.1 -4.6 1.6zM235 214.1l4.7 6.6 -4.7 -26.2 -4.7 -3.5zM244.1 231.6l4.5 -1.9 -4.4 -12.1 -4.5 3.1zM252.8 231.2l4.4 -10.9 -4.3 -1.8 -4.3 11.2zM261.4 211.7l4.3 -18.6 -4.3 6.6 -4.2 20.6zM270 182.7l4.5 -16.8 -4.5 0.1 -4.3 27.1zM279 158l4.5 -3 -4.5 9.1 -4.5 1.8zM288 148.2l4.6 -14.9 -4.7 21.1 -4.4 0.6zM297 161.9l4.4 0.5 -4.3 -36.7 -4.5 7.6zM305.6 194.7l4.2 3.8 -4.1 -34.3 -4.3 -1.8zM313.9 223l4.4 -6 -4.2 -21.4 -4.3 2.9zM322.5 230.6l4.4 -8.9 -4.3 -12.3 -4.3 7.6zM331.4 224.6l4.7 -20.8 -4.6 -0.3 -4.6 18.2zM340.9 197.7l5 -25 -4.7 0.4 -5.1 30.7zM350.9 165.8l4.3 -4.2 -4.9 4.6 -4.4 6.5zM360.3 154.7l4.6 -11.7 -5.7 22.6 -4 -4zM370.4 129.7l5.1 -19 -5.9 20.4 -4.7 11.9zM378.2 158.6l4.4 -5.5 -2.3 -56.2 -4.8 13.8zM385.4 193.2l4.2 -3.3 -2.7 -42.9 -4.3 6.1zM393.1 214.8l4.3 -7 -3.4 -26.4 -4.4 8.5zM401.5 220.6l4.9 -16.1 -4.3 -11.3 -4.7 14.6zM411.4 203.3l5.6 -27.1 -4.9 -1.2 -5.7 29.5zM422.4 171.4l4.3 -5.6 -5.5 6.9 -4.2 3.5zM432.5 156.2l3.2 8.8 -6.8 23.2 -2.2 -22.4zM443.5 130.7l4.8 -10.7 -9.3 51.2 -3.3 -6.2zM454.4 109.7l4.3 -5.4 -6.3 12 -4.1 3.7zM459.3 159.5l3.3 5 -0.7 -52 -3.2 -8.2zM464.4 203.2l3.2 4.8 -2.3 -32.6 -2.7 -10.9zM471 226.4l3.9 -3.3 -3.9 -13.3 -3.4 -1.8zM480.3 220.6l6.8 -32.6 -5.8 5.3 -6.4 29.8zM493 182.4l4.3 -7.1 -6 6.2 -4.2 6.5z"/><path d="M65.8 156.4l6.2 7.7 -4.9 -12.5 -6.1 -6.2zM76.2 169.5l7.5 22.9 -4.5 -8.6 -7.2 -19.7zM87.5 194.6l6.7 15.5 -3.8 -1.7 -6.7 -16zM97.4 205.2l5.5 3.8 -2.9 9.3 -5.8 -8.2zM104.8 188l5 -1.7 -2.2 18.1 -4.7 4.6zM110.9 153.7l5 -3.9 -1.6 28.6 -4.5 7.9zM116.9 112.9l6.1 11.4 -2.2 21.7 -4.9 3.8zM128.3 142l5.8 9.3 -4.3 -5.4 -6.8 -21.6zM138.7 161.7l5.1 -0.7 -4.8 -12.5 -4.9 2.8zM148.3 169.7l6.2 19.7 -5.4 -23.6 -5.3 -4.8zM159.4 206.5l6 19.3 -4.9 -18.7 -6 -17.7zM169.5 229.3l5.4 10.5 -4.2 -6.1 -5.3 -7.9zM178.3 229.7l4.8 -0.8 -3.5 9 -4.7 1.9zM185.9 204l4.5 -5.9 -3.1 20.2 -4.2 10.6zM193.3 168.2l4.6 -6.2 -3.2 22.8 -4.3 13.3zM201.1 135.8l5.4 13.9 -4 5.6 -4.6 6.7zM211 159.8l4.8 -2.7 -4.6 -11 -4.7 3.6zM220.4 169.3l5.1 15.6 -4.9 -25.4 -4.8 -2.4zM230.2 202.6l4.8 11.5 -4.7 -23.1 -4.8 -6.1zM239.5 224.9l4.6 6.7 -4.4 -10.9 -4.7 -6.6zM248.4 233.9l4.4 -2.7 -4.2 -1.5 -4.5 1.9zM257 224.4l4.4 -12.7 -4.2 8.6 -4.4 10.9zM265.6 193.5l4.4 -10.8 -4.3 10.4 -4.3 18.6zM274.4 162.1l4.6 -4.1 -4.5 7.9 -4.5 16.8zM283.5 153.5l4.5 -5.3 -4.5 6.8 -4.5 3zM292.5 159.6l4.5 2.3 -4.4 -28.6 -4.6 14.9zM301.3 186.8l4.3 7.9 -4.2 -32.3 -4.4 -0.5zM309.7 219l4.2 4 -4.1 -24.5 -4.2 -3.8zM318.2 235.4l4.3 -4.8 -4.2 -13.6 -4.4 6zM327 233.3l4.4 -8.7 -4.5 -2.9 -4.4 8.9zM336.2 216.8l4.7 -19.1 -4.8 6.1 -4.7 20.8zM346.1 182.1l4.8 -16.3 -5 6.9 -5 25zM356.1 156l4.2 -1.3 -5.1 6.9 -4.3 4.2zM365.4 149.8l5 -20.1 -5.5 13.3 -4.6 11.7zM374 161.3l4.2 -2.7 -2.7 -47.9 -5.1 19zM381.4 193.8l4 -0.6 -2.8 -40.1 -4.4 5.5zM389.1 215.5l4 -0.7 -3.5 -24.9 -4.2 3.3zM397.3 225.9l4.2 -5.3 -4.1 -12.8 -4.3 7zM406.5 218.6l4.9 -15.3 -5 1.2 -4.9 16.1zM417.3 190.1l5.1 -18.7 -5.4 4.8 -5.6 27.1zM428.5 158.2l4 -2 -5.8 9.6 -4.3 5.6zM438.5 146.2l5 -15.5 -7.8 34.3 -3.2 -8.8zM449.5 121.9l4.9 -12.2 -6.1 10.3 -4.8 10.7zM455.5 160.3l3.8 -0.8 -0.6 -55.2 -4.3 5.4zM461.1 198.4l3.3 4.8 -1.8 -38.7 -3.3 -5zM467.6 224l3.4 2.4 -3.4 -18.4 -3.2 -4.8zM476 227.9l4.3 -7.3 -5.4 2.5 -3.9 3.3zM486.4 211.8l6.6 -29.4 -5.9 5.6 -6.8 32.6z"/><path d="M69.9 160.3l6.3 9.2 -4.2 -5.4 -6.2 -7.7zM80 171l7.5 23.6 -3.8 -2.2 -7.5 -22.9zM91.2 194.2l6.2 11 -3.2 4.9 -6.7 -15.5zM99.3 184.7l5.5 3.3 -1.9 21 -5.5 -3.8zM105.6 152.7l5.3 1 -1.1 32.6 -5 1.7zM111.2 108.2l5.7 4.7 -1 36.9 -5 3.9zM122.8 139.3l5.5 2.7 -5.3 -17.7 -6.1 -11.4zM134.1 169l4.6 -7.3 -4.6 -10.4 -5.8 -9.3zM143.2 169.6l5.1 0.1 -4.5 -8.7 -5.1 0.7zM152.8 178.2l6.6 28.3 -4.9 -17.1 -6.2 -19.7zM163.6 209.3l5.9 20 -4.1 -3.5 -6 -19.3zM173 220.8l5.3 8.9 -3.4 10.1 -5.4 -10.5zM181.1 204l4.8 0 -2.8 24.9 -4.8 0.8zM188.5 170.1l4.8 -1.9 -2.9 29.9 -4.5 5.9zM196 130.4l5.1 5.4 -3.2 26.2 -4.6 6.2zM206.5 166.7l4.5 -6.9 -4.5 -10.1 -5.4 -13.9zM215.6 170.9l4.8 -1.6 -4.6 -12.2 -4.8 2.7zM224.9 179l5.3 23.6 -4.7 -17.7 -5.1 -15.6zM234.6 212.9l4.9 12 -4.5 -10.8 -4.8 -11.5zM243.8 226.8l4.6 7.1 -4.3 -2.3 -4.6 -6.7zM252.5 226.2l4.5 -1.8 -4.2 6.8 -4.4 2.7zM261.1 200.7l4.5 -7.2 -4.2 18.2 -4.4 12.7zM269.9 166.3l4.5 -4.2 -4.4 20.6 -4.4 10.8zM279 147.9l4.5 5.6 -4.5 4.5 -4.6 4.1zM288 165.5l4.5 -5.9 -4.5 -11.4 -4.5 5.3zM297 171.2l4.3 15.6 -4.3 -24.9 -4.5 -2.3zM305.7 203l4 16 -4.1 -24.3 -4.3 -7.9zM314.1 228.2l4.1 7.2 -4.3 -12.4 -4.2 -4zM322.8 235.9l4.2 -2.6 -4.5 -2.7 -4.3 4.8zM331.8 224.6l4.4 -7.8 -4.8 7.8 -4.4 8.7zM341.5 194.4l4.6 -12.3 -5.2 15.6 -4.7 19.1zM351.8 157.9l4.3 -1.9 -5.2 9.8 -4.8 16.3zM361.1 153l4.3 -3.2 -5.1 4.9 -4.2 1.3zM369.8 161.1l4.2 0.2 -3.6 -31.6 -5 20.1zM377.6 189l3.8 4.8 -3.2 -35.2 -4.2 2.7zM385.2 214.1l3.9 1.4 -3.7 -22.3 -4 0.6zM393.3 228.6l4 -2.7 -4.2 -11.1 -4 0.7zM402.3 224.9l4.2 -6.3 -5 2 -4.2 5.3zM412.7 199.6l4.6 -9.5 -5.9 13.2 -4.9 15.3zM424.2 163.7l4.3 -5.5 -6.1 13.2 -5.1 18.7zM434.7 144.2l3.8 2 -6 10 -4 2zM443.6 147.1l5.9 -25.2 -6 8.8 -5 15.5zM451.8 159.2l3.7 1.1 -1.1 -50.6 -4.9 12.2zM458 192.2l3.1 6.2 -1.8 -38.9 -3.8 0.8zM464.4 220.3l3.2 3.7 -3.2 -20.8 -3.3 -4.8zM472.6 226.6l3.4 1.3 -5 -1.5 -3.4 -2.4zM482.3 217.8l4.1 -6 -6.1 8.8 -4.3 7.3z"/><path d="M73.8 162.8l6.2 8.2 -3.8 -1.5 -6.3 -9.2zM84 174l7.2 20.2 -3.7 0.4 -7.5 -23.6zM93.6 179.8l5.7 4.9 -1.9 20.5 -6.2 -11zM100.1 150.9l5.5 1.8 -0.8 35.3 -5.5 -3.3zM105.7 105.9l5.5 2.3 -0.3 45.5 -5.3 -1zM117.7 141.2l5.1 -1.9 -5.9 -26.4 -5.7 -4.7zM129.3 174.3l4.8 -5.3 -5.8 -27 -5.5 -2.7zM139.4 189.1l3.8 -19.5 -4.5 -7.9 -4.6 7.3zM147.4 172.5l5.4 5.7 -4.5 -8.5 -5.1 -0.1zM157 181.8l6.6 27.5 -4.2 -2.8 -6.6 -28.3zM167.1 201.1l5.9 19.7 -3.5 8.5 -5.9 -20zM175.9 198.7l5.2 5.3 -2.8 25.7 -5.3 -8.9zM183.6 171l4.9 -0.9 -2.6 33.9 -4.8 0zM190.8 126.5l5.2 3.9 -2.7 37.8 -4.8 1.9zM201.8 171.6l4.7 -4.9 -5.4 -30.9 -5.1 -5.4zM211.4 189.5l4.2 -18.6 -4.6 -11.1 -4.5 6.9zM220.1 178.1l4.8 0.9 -4.5 -9.7 -4.8 1.6zM229.4 187.1l5.2 25.8 -4.4 -10.3 -5.3 -23.6zM238.9 212.7l4.9 14.1 -4.3 -1.9 -4.9 -12zM247.9 218.8l4.6 7.4 -4.1 7.7 -4.6 -7.1zM256.6 202.8l4.5 -2.1 -4.1 23.7 -4.5 1.8zM265.3 166.1l4.6 0.2 -4.3 27.2 -4.5 7.2zM274.4 143.6l4.6 4.3 -4.6 14.2 -4.5 4.2zM283.5 177.3l4.5 -11.8 -4.5 -12 -4.5 -5.6zM292.5 175.6l4.5 -4.4 -4.5 -11.6 -4.5 5.9zM301.6 179.4l4.1 23.6 -4.4 -16.2 -4.3 -15.6zM310.1 210.3l4 17.9 -4.4 -9.2 -4 -16zM318.6 231.1l4.2 4.8 -4.6 -0.5 -4.1 -7.2zM327.6 227.2l4.2 -2.6 -4.8 8.7 -4.2 2.6zM337.2 199.8l4.3 -5.4 -5.3 22.4 -4.4 7.8zM347.5 159.2l4.3 -1.3 -5.7 24.2 -4.6 12.3zM357 147.8l4.1 5.2 -5 3 -4.3 1.9zM365.3 168.8l4.5 -7.7 -4.4 -11.3 -4.3 3.2zM374.3 172.4l3.3 16.6 -3.6 -27.7 -4.2 -0.2zM381.6 206.9l3.6 7.2 -3.8 -20.3 -3.8 -4.8zM389.4 226.3l3.9 2.3 -4.2 -13.1 -3.9 -1.4zM398.3 225.4l4 -0.5 -5 1 -4 2.7zM408.4 206.4l4.3 -6.8 -6.2 19 -4.2 6.3zM420 166.8l4.2 -3.1 -6.9 26.4 -4.6 9.5zM431.6 131.8l3.1 12.4 -6.2 14 -4.3 5.5zM439.6 148.1l4 -1 -5.1 -0.9 -3.8 -2zM447.8 161.3l4 -2.1 -2.3 -37.3 -5.9 25.2zM454.9 184.5l3.1 7.7 -2.5 -31.9 -3.7 -1.1zM461.5 212l2.9 8.3 -3.3 -21.9 -3.1 -6.2zM469.3 223.3l3.3 3.3 -5 -2.6 -3.2 -3.7zM478.7 217.5l3.6 0.3 -6.3 10.1 -3.4 -1.3z"/><path d="M77.9 166.6l6.1 7.4 -4 -3 -6.2 -8.2zM87.4 170.5l6.2 9.3 -2.4 14.4 -7.2 -20.2zM95 153.3l5.1 -2.4 -0.8 33.8 -5.7 -4.9zM100.4 107.8l5.3 -1.9 -0.1 46.8 -5.5 -1.8zM112.6 143.4l5.1 -2.2 -6.5 -33 -5.5 -2.3zM124.5 178.9l4.8 -4.6 -6.5 -35 -5.1 1.9zM135 199.5l4.4 -10.4 -5.3 -20.1 -4.8 5.3zM143.8 195.9l3.6 -23.4 -4.2 -2.9 -3.8 19.5zM151.5 175.2l5.5 6.6 -4.2 -3.6 -5.4 -5.7zM160.8 177.7l6.3 23.4 -3.5 8.2 -6.6 -27.5zM170.4 187.4l5.5 11.3 -2.9 22.1 -5.9 -19.7zM178.6 170.8l5 0.2 -2.5 33 -5.2 -5.3zM185.9 128.8l4.9 -2.3 -2.3 43.6 -4.9 0.9zM197 173.4l4.8 -1.8 -5.8 -41.2 -5.2 -3.9zM207.1 201.2l4.3 -11.7 -4.9 -22.8 -4.7 4.9zM216.2 205.4l3.9 -27.3 -4.5 -7.2 -4.2 18.6zM224.6 183.6l4.8 3.5 -4.5 -8.1 -4.8 -0.9zM233.6 183.5l5.3 29.2 -4.3 0.2 -5.2 -25.8zM243.1 206.8l4.8 12 -4.1 8 -4.9 -14.1zM252 201.6l4.6 1.2 -4.1 23.4 -4.6 -7.4zM260.7 167.6l4.6 -1.5 -4.2 34.6 -4.5 2.1zM269.7 138.3l4.7 5.3 -4.5 22.7 -4.6 -0.2zM279 182.6l4.5 -5.3 -4.5 -29.4 -4.6 -4.3zM288 198.5l4.5 -22.9 -4.5 -10.1 -4.5 11.8zM297.1 182.8l4.5 -3.4 -4.6 -8.2 -4.5 4.4zM306.2 183.4l3.9 26.9 -4.4 -7.3 -4.1 -23.6zM314.7 213.5l3.9 17.6 -4.5 -2.9 -4 -17.9zM323.4 224.2l4.2 3 -4.8 8.7 -4.2 -4.8zM332.8 203.9l4.4 -4.1 -5.4 24.8 -4.2 2.6zM343.1 159.6l4.4 -0.4 -6 35.2 -4.3 5.4zM352.9 143.5l4.1 4.3 -5.2 10.1 -4.3 1.3zM360.5 184.5l4.8 -15.7 -4.2 -15.8 -4.1 -5.2zM369.8 178.1l4.5 -5.7 -4.5 -11.3 -4.5 7.7zM378.7 182.4l2.9 24.5 -4 -17.9 -3.3 -16.6zM386.1 215.4l3.3 10.9 -4.2 -12.2 -3.6 -7.2zM394.4 225.2l3.9 0.2 -5 3.2 -3.9 -2.3zM404.4 207.8l4 -1.4 -6.1 18.5 -4 0.5zM415.7 172.6l4.3 -5.8 -7.3 32.8 -4.3 6.8zM428.1 125.6l3.5 6.2 -7.4 31.9 -4.2 3.1zM437 131.1l2.6 17 -4.9 -3.9 -3.1 -12.4zM443.6 165.3l4.2 -4 -4.2 -14.2 -4 1zM452.1 172.8l2.8 11.7 -3.1 -25.3 -4 2.1zM458.8 200.7l2.7 11.3 -3.5 -19.8 -3.1 -7.7zM466.5 214.4l2.8 8.9 -4.9 -3 -2.9 -8.3zM475.6 212.3l3.1 5.2 -6.1 9.1 -3.3 -3.3z"/><path d="M81.6 166.6l5.8 3.9 -3.4 3.5 -6.1 -7.4zM90.3 160.7l4.7 -7.4 -1.4 26.5 -6.2 -9.3zM95.9 119.6l4.5 -11.8 -0.3 43.1 -5.1 2.4zM107.3 144.4l5.3 -1 -6.9 -37.5 -5.3 1.9zM119.7 184.6l4.8 -5.7 -6.8 -37.7 -5.1 2.2zM130.5 207.6l4.5 -8.1 -5.7 -25.2 -4.8 4.6zM139.6 208.5l4.2 -12.6 -4.4 -6.8 -4.4 10.4zM147.8 196.7l3.7 -21.5 -4.1 -2.7 -3.6 23.4zM155.4 171.9l5.4 5.8 -3.8 4.1 -5.5 -6.6zM164.6 174.3l5.8 13.1 -3.3 13.7 -6.3 -23.4zM173.6 170l5 0.8 -2.7 27.9 -5.5 -11.3zM181.1 135.6l4.8 -6.8 -2.3 42.2 -5 -0.2zM192.2 177.1l4.8 -3.7 -6.2 -46.9 -4.9 2.3zM202.5 208.3l4.6 -7.1 -5.3 -29.6 -4.8 1.8zM212 223l4.2 -17.6 -4.8 -15.9 -4.3 11.7zM220.7 214.4l3.9 -30.8 -4.5 -5.5 -3.9 27.3zM228.8 181.1l4.8 2.4 -4.2 3.6 -4.8 -3.5zM237.9 180.9l5.2 25.9 -4.2 5.9 -5.3 -29.2zM247.3 195.2l4.7 6.4 -4.1 17.2 -4.8 -12zM256.1 172.5l4.6 -4.9 -4.1 35.2 -4.6 -1.2zM265 138.2l4.7 0.1 -4.4 27.8 -4.6 1.5zM274.4 186.6l4.6 -4 -4.6 -39 -4.7 -5.3zM283.4 213.3l4.6 -14.8 -4.5 -21.2 -4.5 5.3zM292.4 211.9l4.7 -29.1 -4.6 -7.2 -4.5 22.9zM301.7 186.8l4.5 -3.4 -4.6 -4 -4.5 3.4zM310.8 184.6l3.9 28.9 -4.6 -3.2 -3.9 -26.9zM319.4 207.7l4 16.5 -4.8 6.9 -3.9 -17.6zM328.6 201.8l4.2 2.1 -5.2 23.3 -4.2 -3zM338.6 165.7l4.5 -6.1 -5.9 40.2 -4.4 4.1zM348.6 143.7l4.3 -0.2 -5.4 15.7 -4.4 0.4zM355.9 194.6l4.6 -10.1 -3.5 -36.7 -4.1 -4.3zM364.4 208.5l5.4 -30.4 -4.5 -9.3 -4.8 15.7zM374.3 188.1l4.4 -5.7 -4.4 -10 -4.5 5.7zM383.4 187.9l2.7 27.5 -4.5 -8.5 -2.9 -24.5zM391 215.5l3.4 9.7 -5 1.1 -3.3 -10.9zM400.3 209.2l4.1 -1.4 -6.1 17.6 -3.9 -0.2zM411.4 176.6l4.3 -4 -7.3 33.8 -4 1.4zM424.1 124.5l4 1.1 -8.1 41.2 -4.3 5.8zM433.6 122.3l3.4 8.8 -5.4 0.7 -3.5 -6.2zM439.2 171.3l4.4 -6 -4 -17.2 -2.6 -17zM447.7 179.4l4.4 -6.6 -4.3 -11.5 -4.2 4zM456.7 181.2l2.1 19.5 -3.9 -16.2 -2.8 -11.7zM463.8 203.7l2.7 10.7 -5 -2.4 -2.7 -11.3zM472.5 206.4l3.1 5.9 -6.3 11 -2.8 -8.9z"/><path d="M85.1 163.4l5.2 -2.7 -2.9 9.8 -5.8 -3.9zM92.8 146.7l3.1 -27.1 -0.9 33.7 -4.7 7.4zM102.2 148l5.1 -3.6 -6.9 -36.6 -4.5 11.8zM114.6 185.6l5.1 -1 -7.1 -41.2 -5.3 1zM125.7 212.1l4.8 -4.5 -6 -28.7 -4.8 5.7zM135.1 217.2l4.5 -8.7 -4.6 -9 -4.5 8.1zM143.5 209.1l4.3 -12.4 -4 -0.8 -4.2 12.6zM151.4 191.5l4 -19.6 -3.9 3.3 -3.7 21.5zM159.5 172.9l5.1 1.4 -3.8 3.4 -5.4 -5.8zM168.5 170.4l5.1 -0.4 -3.2 17.4 -5.8 -13.1zM176.6 147.5l4.5 -11.9 -2.5 35.2 -5 -0.8zM187.2 177.2l5 -0.1 -6.3 -48.3 -4.8 6.8zM197.8 211l4.7 -2.7 -5.5 -34.9 -4.8 3.7zM207.7 236l4.3 -13 -4.9 -21.8 -4.6 7.1zM216.5 233.1l4.2 -18.7 -4.5 -9 -4.2 17.6zM225 215.7l3.8 -34.6 -4.2 2.5 -3.9 30.8zM233.1 178.6l4.8 2.3 -4.3 2.6 -4.8 -2.4zM242.3 179.2l5 16 -4.2 11.6 -5.2 -25.9zM251.4 176.3l4.7 -3.8 -4.1 29.1 -4.7 -6.4zM260.3 144.4l4.7 -6.2 -4.3 29.4 -4.6 4.9zM269.8 188.9l4.6 -2.3 -4.7 -48.3 -4.7 -0.1zM279 218.9l4.4 -5.6 -4.4 -30.7 -4.6 4zM287.9 233.8l4.5 -21.9 -4.4 -13.4 -4.6 14.8zM296.9 221.2l4.8 -34.4 -4.6 -4 -4.7 29.1zM306.3 190.4l4.5 -5.8 -4.6 -1.2 -4.5 3.4zM315.6 180l3.8 27.7 -4.7 5.8 -3.9 -28.9zM324.5 192.4l4.1 9.4 -5.2 22.4 -4 -16.5zM334.1 172l4.5 -6.3 -5.8 38.2 -4.2 -2.1zM344 148.5l4.6 -4.8 -5.5 15.9 -4.5 6.1zM351.4 203.9l4.5 -9.3 -3 -51.1 -4.3 0.2zM359.4 230.4l5 -21.9 -3.9 -24 -4.6 10.1zM368.4 228.1l5.9 -40 -4.5 -10 -5.4 30.4zM379 194.3l4.4 -6.4 -4.7 -5.5 -4.4 5.7zM388.3 189.6l2.7 25.9 -4.9 -0.1 -2.7 -27.5zM396.6 204.5l3.7 4.7 -5.9 16 -3.4 -9.7zM407 182.1l4.4 -5.5 -7 31.2 -4.1 1.4zM419.6 130.2l4.5 -5.7 -8.4 48.1 -4.3 4zM429.7 120.4l3.9 1.9 -5.5 3.3 -4 -1.1zM435 175.1l4.2 -3.8 -2.2 -40.2 -3.4 -8.8zM442.1 200.9l5.6 -21.5 -4.1 -14.1 -4.4 6zM452.2 189.6l4.5 -8.4 -4.6 -8.4 -4.4 6.6zM461.8 183.1l2 20.6 -5 -3 -2.1 -19.5zM469.5 198.6l3 7.8 -6 8 -2.7 -10.7z"/><path d="M88.2 156.1l4.6 -9.4 -2.5 14 -5.2 2.7zM97.9 160.5l4.3 -12.5 -6.3 -28.4 -3.1 27.1zM109 183l5.6 2.6 -7.3 -41.2 -5.1 3.6zM120.6 213.3l5.1 -1.2 -6 -27.5 -5.1 1zM130.3 222.2l4.8 -5 -4.6 -9.6 -4.8 4.5zM139.1 218.6l4.4 -9.5 -3.9 -0.6 -4.5 8.7zM147.1 202.9l4.3 -11.4 -3.6 5.2 -4.3 12.4zM155 183.7l4.5 -10.8 -4.1 -1 -4 19.6zM163.7 174.1l4.8 -3.7 -3.9 3.9 -5.1 -1.4zM172.4 164.8l4.2 -17.3 -3 22.5 -5.1 0.4zM182.2 177.1l5 0.1 -6.1 -41.6 -4.5 11.9zM192.7 205.4l5.1 5.6 -5.6 -33.9 -5 0.1zM202.9 235.3l4.8 0.7 -5.2 -27.7 -4.7 2.7zM212.1 244.8l4.4 -11.7 -4.5 -10.1 -4.3 13zM220.7 233.9l4.3 -18.2 -4.3 -1.3 -4.2 18.7zM229.1 208.7l4 -30.1 -4.3 2.5 -3.8 34.6zM237.5 177.3l4.8 1.9 -4.4 1.7 -4.8 -2.3zM246.7 174.8l4.7 1.5 -4.1 18.9 -5 -16zM255.7 155.1l4.6 -10.7 -4.2 28.1 -4.7 3.8zM265.2 185.8l4.6 3.1 -4.8 -50.7 -4.7 6.2zM274.4 220.7l4.6 -1.8 -4.6 -32.3 -4.6 2.3zM283.4 242l4.5 -8.2 -4.5 -20.5 -4.4 5.6zM292.3 243.1l4.6 -21.9 -4.5 -9.3 -4.5 21.9zM301.5 224.6l4.8 -34.2 -4.6 -3.6 -4.8 34.4zM311.1 185.6l4.5 -5.6 -4.8 4.6 -4.5 5.8zM320.4 178.1l4.1 14.3 -5.1 15.3 -3.8 -27.7zM329.7 173.2l4.4 -1.2 -5.5 29.8 -4.1 -9.4zM339.5 154.2l4.5 -5.7 -5.4 17.2 -4.5 6.3zM347 208.1l4.4 -4.2 -2.8 -60.2 -4.6 4.8zM354.7 245.3l4.7 -14.9 -3.5 -35.8 -4.5 9.3zM363.1 256.8l5.3 -28.7 -4 -19.6 -5 21.9zM372.9 236.7l6.1 -42.4 -4.7 -6.2 -5.9 40zM383.9 196.9l4.4 -7.3 -4.9 -1.7 -4.4 6.4zM393.5 187l3.1 17.5 -5.6 11 -2.7 -25.9zM402.7 187.4l4.3 -5.3 -6.7 27.1 -3.7 -4.7zM414.5 145.7l5.1 -15.5 -8.2 46.4 -4.4 5.5zM425.2 127l4.5 -6.6 -5.6 4.1 -4.5 5.7zM430.8 178.8l4.2 -3.7 -1.4 -52.8 -3.9 -1.9zM437.3 212.9l4.8 -12 -2.9 -29.6 -4.2 3.8zM445.8 219.6l6.4 -30 -4.5 -10.2 -5.6 21.5zM457.5 188.9l4.3 -5.8 -5.1 -1.9 -4.5 8.4zM467.5 179.9l2 18.7 -5.7 5.1 -2 -20.6z"/><path d="M93.1 167.1l4.8 -6.6 -5.1 -13.8 -4.6 9.4zM103.5 180.9l5.5 2.1 -6.8 -35 -4.3 12.5zM115 208.6l5.6 4.7 -6 -27.7 -5.6 -2.6zM125.3 224.8l5 -2.6 -4.6 -10.1 -5.1 1.2zM134.4 225.8l4.7 -7.2 -4 -1.4 -4.8 5zM142.5 211l4.6 -8.1 -3.6 6.2 -4.4 9.5zM150.5 193.3l4.5 -9.6 -3.6 7.8 -4.3 11.4zM158.6 175l5.1 -0.9 -4.2 -1.2 -4.5 10.8zM167.6 171.4l4.8 -6.6 -3.9 5.6 -4.8 3.7zM177.2 176.1l5 1 -5.6 -29.6 -4.2 17.3zM187.4 197.5l5.3 7.9 -5.5 -28.2 -5 -0.1zM197.7 225.6l5.2 9.7 -5.1 -24.3 -5.1 -5.6zM207.3 243.2l4.8 1.6 -4.4 -8.8 -4.8 -0.7zM216.2 242.4l4.5 -8.5 -4.2 -0.8 -4.4 11.7zM224.7 225.3l4.4 -16.6 -4.1 7 -4.3 18.2zM233.2 197.5l4.3 -20.2 -4.4 1.3 -4 30.1zM241.9 175.1l4.8 -0.3 -4.4 4.4 -4.8 -1.9zM251.1 168.7l4.6 -13.6 -4.3 21.2 -4.7 -1.5zM260.5 182.8l4.7 3 -4.9 -41.4 -4.6 10.7zM269.9 215.3l4.5 5.4 -4.6 -31.8 -4.6 -3.1zM279 243.3l4.4 -1.3 -4.4 -23.1 -4.6 1.8zM287.9 253l4.4 -9.9 -4.4 -9.3 -4.5 8.2zM296.9 242.3l4.6 -17.7 -4.6 -3.4 -4.6 21.9zM306.2 216.8l4.9 -31.2 -4.8 4.8 -4.8 34.2zM315.9 182.2l4.5 -4.1 -4.8 1.9 -4.5 5.6zM325.3 174.7l4.4 -1.5 -5.2 19.2 -4.1 -14.3zM334.8 162.7l4.7 -8.5 -5.4 17.8 -4.4 1.2zM342.9 203.3l4.1 4.8 -3 -59.6 -4.5 5.7zM350.3 251.8l4.4 -6.5 -3.3 -41.4 -4.4 4.2zM358.4 271.8l4.7 -15 -3.7 -26.4 -4.7 14.9zM367.4 268.5l5.5 -31.8 -4.5 -8.6 -5.3 28.7zM377.7 237.8l6.2 -40.9 -4.9 -2.6 -6.1 42.4zM388.9 195.9l4.6 -8.9 -5.2 2.6 -4.4 7.3zM398.8 184.6l3.9 2.8 -6.1 17.1 -3.1 -17.5zM409.1 167.6l5.4 -21.9 -7.5 36.4 -4.3 5.3zM419.8 146.1l5.4 -19.1 -5.6 3.2 -5.1 15.5zM426.5 183.8l4.3 -5 -1.1 -58.4 -4.5 6.6zM432.9 221l4.4 -8.1 -2.3 -37.8 -4.2 3.7zM440.6 237.8l5.2 -18.2 -3.7 -18.7 -4.8 12zM450.6 225.4l6.9 -36.5 -5.3 0.7 -6.4 30zM463.1 186.6l4.4 -6.7 -5.7 3.2 -4.3 5.8z"/><path d="M98.1 180.9l5.4 0 -5.6 -20.4 -4.8 6.6zM108.7 197l6.3 11.6 -6 -25.6 -5.5 -2.1zM119.8 220.5l5.5 4.3 -4.7 -11.5 -5.6 -4.7zM129.3 226.2l5.1 -0.4 -4.1 -3.6 -5 2.6zM137.8 218.5l4.7 -7.5 -3.4 7.6 -4.7 7.2zM145.8 201.2l4.7 -7.9 -3.4 9.6 -4.6 8.1zM153.6 177.6l5 -2.6 -3.6 8.7 -4.5 9.6zM162 163.2l5.6 8.2 -3.9 2.7 -5.1 0.9zM172.2 178.5l5 -2.4 -4.8 -11.3 -4.8 6.6zM181.8 184.7l5.6 12.8 -5.2 -20.4 -5 -1zM192.1 210.9l5.6 14.7 -5 -20.2 -5.3 -7.9zM202.2 235l5.1 8.2 -4.4 -7.9 -5.2 -9.7zM211.5 242.6l4.7 -0.2 -4.1 2.4 -4.8 -1.6zM220.3 235.6l4.4 -10.3 -4 8.6 -4.5 8.5zM228.6 207.3l4.6 -9.8 -4.1 11.2 -4.4 16.6zM237.2 178.4l4.7 -3.3 -4.4 2.2 -4.3 20.2zM246.3 169.9l4.8 -1.2 -4.4 6.1 -4.8 0.3zM255.8 179.7l4.7 3.1 -4.8 -27.7 -4.6 13.6zM265.2 205.6l4.7 9.7 -4.7 -29.5 -4.7 -3zM274.4 235.8l4.6 7.5 -4.6 -22.6 -4.5 -5.4zM283.4 252.4l4.5 0.6 -4.5 -11 -4.4 1.3zM292.4 252.4l4.5 -10.1 -4.6 0.8 -4.4 9.9zM301.5 234.4l4.7 -17.6 -4.7 7.8 -4.6 17.7zM311.1 201l4.8 -18.8 -4.8 3.4 -4.9 31.2zM320.8 176.9l4.5 -2.2 -4.9 3.4 -4.5 4.1zM330.2 173l4.6 -10.3 -5.1 10.5 -4.4 1.5zM338.7 198.5l4.2 4.8 -3.4 -49.1 -4.7 8.5zM346.4 243.1l3.9 8.7 -3.3 -43.7 -4.1 -4.8zM354.2 275.1l4.2 -3.3 -3.7 -26.5 -4.4 6.5zM362.6 285.5l4.8 -17 -4.3 -11.7 -4.7 15zM372.2 267.4l5.5 -29.6 -4.8 -1.1 -5.5 31.8zM383 231.3l5.9 -35.4 -5 1 -6.2 40.9zM394.1 193.7l4.7 -9.1 -5.3 2.4 -4.6 8.9zM404.1 181.1l5 -13.5 -6.4 19.8 -3.9 -2.8zM414.2 168.2l5.6 -22.1 -5.3 -0.4 -5.4 21.9zM421.8 192.9l4.7 -9.1 -1.3 -56.8 -5.4 19.1zM428.6 226.2l4.3 -5.2 -2.1 -42.2 -4.3 5zM435.9 249.1l4.7 -11.3 -3.3 -24.9 -4.4 8.1zM444.8 249.1l5.8 -23.7 -4.8 -5.8 -5.2 18.2zM456.4 219l6.7 -32.4 -5.6 2.3 -6.9 36.5z"/><path d="M103.2 195.3l5.5 1.7 -5.2 -16.1 -5.4 0zM113.2 204.7l6.6 15.8 -4.8 -11.9 -6.3 -11.6zM123.7 221.1l5.6 5.1 -4 -1.4 -5.5 -4.3zM132.9 221.2l4.9 -2.7 -3.4 7.3 -5.1 0.4zM141 206.3l4.8 -5.1 -3.3 9.8 -4.7 7.5zM148.7 182.8l4.9 -5.2 -3.1 15.7 -4.7 7.9zM156.8 163.4l5.2 -0.2 -3.4 11.8 -5 2.6zM167.2 181l5 -2.5 -4.6 -7.1 -5.6 -8.2zM176.7 184.5l5.1 0.2 -4.6 -8.6 -5 2.4zM186.2 190.3l5.9 20.6 -4.7 -13.4 -5.6 -12.8zM196.7 219.8l5.5 15.2 -4.5 -9.4 -5.6 -14.7zM206.4 235.1l5.1 7.5 -4.2 0.6 -5.1 -8.2zM215.5 236.9l4.8 -1.3 -4.1 6.8 -4.7 0.2zM224 214.8l4.6 -7.5 -3.9 18 -4.4 10.3zM232.4 180.2l4.8 -1.8 -4 19.1 -4.6 9.8zM241.3 156.3l5 13.6 -4.4 5.2 -4.7 3.3zM251 181.5l4.8 -1.8 -4.7 -11 -4.8 1.2zM260.4 188.6l4.8 17 -4.7 -22.8 -4.7 -3.1zM269.8 220.4l4.6 15.4 -4.5 -20.5 -4.7 -9.7zM279 243.3l4.4 9.1 -4.4 -9.1 -4.6 -7.5zM288 250.9l4.4 1.5 -4.5 0.6 -4.5 -0.6zM297 242.1l4.5 -7.7 -4.6 7.9 -4.5 10.1zM306.5 212.4l4.6 -11.4 -4.9 15.8 -4.7 17.6zM316.2 179.9l4.6 -3 -4.9 5.3 -4.8 18.8zM325.7 174.2l4.5 -1.2 -4.9 1.7 -4.5 2.2zM334.6 190.6l4.1 7.9 -3.9 -35.8 -4.6 10.3zM342.7 227.1l3.7 16 -3.5 -39.8 -4.2 -4.8zM350.4 266.9l3.8 8.2 -3.9 -23.3 -3.9 -8.7zM358.5 287.1l4.1 -1.6 -4.2 -13.7 -4.2 3.3zM367.5 283l4.7 -15.6 -4.8 1.1 -4.8 17zM377.5 259.6l5.5 -28.3 -5.3 6.5 -5.5 29.6zM388.4 224.1l5.7 -30.4 -5.2 2.2 -5.9 35.4zM399.5 190.6l4.6 -9.5 -5.3 3.5 -4.7 9.1zM409.2 183.1l5 -14.9 -5.1 -0.6 -5 13.5zM417.7 194.7l4.1 -1.8 -2 -46.8 -5.6 22.1zM424.7 225.8l3.9 0.4 -2.1 -42.4 -4.7 9.1zM431.6 254.9l4.3 -5.8 -3 -28.1 -4.3 5.2zM440 261.9l4.8 -12.8 -4.2 -11.3 -4.7 11.3zM450.5 244.5l5.9 -25.5 -5.8 6.4 -5.8 23.7z"/><path d="M107.7 202.2l5.5 2.5 -4.5 -7.7 -5.5 -1.7zM117.3 206.9l6.4 14.2 -3.9 -0.6 -6.6 -15.8zM127.3 216.4l5.6 4.8 -3.6 5 -5.6 -5.1zM136.1 211l4.9 -4.7 -3.2 12.2 -4.9 2.7zM143.8 187.9l4.9 -5.1 -2.9 18.4 -4.8 5.1zM151.8 165.9l5 -2.5 -3.2 14.2 -4.9 5.2zM162.4 187.4l4.8 -6.4 -5.2 -17.8 -5.2 0.2zM172.2 195.6l4.5 -11.1 -4.5 -6 -5 2.5zM181 186.4l5.2 3.9 -4.4 -5.6 -5.1 -0.2zM190.6 193.9l6.1 25.9 -4.6 -8.9 -5.9 -20.6zM200.9 219.4l5.5 15.7 -4.2 -0.1 -5.5 -15.2zM210.5 230.1l5 6.8 -4 5.7 -5.1 -7.5zM219.3 218.6l4.7 -3.8 -3.7 20.8 -4.8 1.3zM227.6 182.8l4.8 -2.6 -3.8 27.1 -4.6 7.5zM236.3 152.2l5 4.1 -4.1 22.1 -4.8 1.8zM246.3 185.2l4.7 -3.7 -4.7 -11.6 -5 -13.6zM255.7 192.6l4.7 -4 -4.6 -8.9 -4.8 1.8zM265 194.5l4.8 25.9 -4.6 -14.8 -4.8 -17zM274.4 226.1l4.6 17.2 -4.6 -7.5 -4.6 -15.4zM283.5 240.7l4.5 10.2 -4.6 1.5 -4.4 -9.1zM292.6 241.3l4.4 0.8 -4.6 10.3 -4.4 -1.5zM301.9 218.4l4.6 -6 -5 22 -4.5 7.7zM311.7 182.3l4.5 -2.4 -5.1 21.1 -4.6 11.4zM321.3 169.4l4.4 4.8 -4.9 2.7 -4.6 3zM330.2 190.9l4.4 -0.3 -4.4 -17.6 -4.5 1.2zM339.1 203.8l3.6 23.3 -4 -28.6 -4.1 -7.9zM346.9 246.9l3.5 20 -4 -23.8 -3.7 -16zM354.8 276.5l3.7 10.6 -4.3 -12 -3.8 -8.2zM363.3 286.4l4.2 -3.4 -4.9 2.5 -4.1 1.6zM372.7 275.2l4.8 -15.6 -5.3 7.8 -4.7 15.6zM383 248.9l5.4 -24.8 -5.4 7.2 -5.5 28.3zM393.9 215.8l5.6 -25.2 -5.4 3.1 -5.7 30.4zM404.6 190.5l4.6 -7.4 -5.1 -2 -4.6 9.5zM414 189.6l3.7 5.1 -3.5 -26.5 -5 14.9zM421.5 215.4l3.2 10.4 -2.9 -32.9 -4.1 1.8zM428.3 247l3.3 7.9 -3 -28.7 -3.9 -0.4zM435.8 267l4.2 -5.1 -4.1 -12.8 -4.3 5.8zM445.4 259.6l5.1 -15.1 -5.7 4.6 -4.8 12.8z"/><path d="M112 206.7l5.3 0.2 -4.1 -2.2 -5.5 -2.5zM121 203.3l6.3 13.1 -3.6 4.7 -6.4 -14.2zM130.7 208.8l5.4 2.2 -3.2 10.2 -5.6 -4.8zM139 194.5l4.8 -6.6 -2.8 18.4 -4.9 4.7zM146.6 168.5l5.2 -2.6 -3.1 16.9 -4.9 5.1zM157.7 195l4.7 -7.6 -5.6 -24 -5 2.5zM167.4 202.5l4.8 -6.9 -5 -14.6 -4.8 6.4zM176.9 206.3l4.1 -19.9 -4.3 -1.9 -4.5 11.1zM185.3 186.6l5.3 7.3 -4.4 -3.6 -5.2 -3.9zM194.9 192.5l6 26.9 -4.2 0.4 -6.1 -25.9zM205.1 216l5.4 14.1 -4.1 5 -5.5 -15.7zM214.4 217.9l4.9 0.7 -3.8 18.3 -5 -6.8zM222.7 186.9l4.9 -4.1 -3.6 32 -4.7 3.8zM231.3 152.3l5 -0.1 -3.9 28 -4.8 2.6zM241.5 189.2l4.8 -4 -5 -28.9 -5 -4.1zM251.2 209.5l4.5 -16.9 -4.7 -11.1 -4.7 3.7zM260.3 195l4.7 -0.5 -4.6 -5.9 -4.7 4zM269.6 195l4.8 31.1 -4.6 -5.7 -4.8 -25.9zM279 227.7l4.5 13 -4.5 2.6 -4.6 -17.2zM288.1 236l4.5 5.3 -4.6 9.6 -4.5 -10.2zM297.4 220.9l4.5 -2.5 -4.9 23.7 -4.4 -0.8zM307.1 185l4.6 -2.7 -5.2 30.1 -4.6 6zM316.8 168.7l4.5 0.7 -5.1 10.5 -4.5 2.4zM325.3 206.3l4.9 -15.4 -4.5 -16.7 -4.4 -4.8zM334.7 204.7l4.4 -0.9 -4.5 -13.2 -4.4 0.3zM343.7 212.8l3.2 34.1 -4.2 -19.8 -3.6 -23.3zM351.4 255.5l3.4 21 -4.4 -9.6 -3.5 -20zM359.6 277.1l3.7 9.3 -4.8 0.7 -3.7 -10.6zM368.5 278.6l4.2 -3.4 -5.2 7.8 -4.2 3.4zM378.2 263.2l4.8 -14.3 -5.5 10.7 -4.8 15.6zM388.7 236.5l5.2 -20.7 -5.5 8.3 -5.4 24.8zM399 216.1l5.6 -25.6 -5.1 0.1 -5.6 25.2zM409.6 194.8l4.4 -5.2 -4.8 -6.5 -4.6 7.4zM418.8 196.5l2.7 18.9 -3.8 -20.7 -3.7 -5.1zM425.9 226.6l2.4 20.4 -3.6 -21.2 -3.2 -10.4zM432.6 258.8l3.2 8.2 -4.2 -12.1 -3.3 -7.9zM441.2 264.8l4.2 -5.2 -5.4 2.3 -4.2 5.1z"/><path d="M115.8 206l5.2 -2.7 -3.7 3.6 -5.3 -0.2zM124.6 199l6.1 9.8 -3.4 7.6 -6.3 -13.1zM133.9 197.4l5.1 -2.9 -2.9 16.5 -5.4 -2.2zM141.6 173.1l5 -4.6 -2.8 19.4 -4.8 6.6zM152.6 198.2l5.1 -3.2 -5.9 -29.1 -5.2 2.6zM162.7 210.5l4.7 -8 -5 -15.1 -4.7 7.6zM172.3 216.3l4.6 -10 -4.7 -10.7 -4.8 6.9zM181.2 209.4l4.1 -22.8 -4.3 -0.2 -4.1 19.9zM189.6 187.6l5.3 4.9 -4.3 1.4 -5.3 -7.3zM199.3 195.7l5.8 20.3 -4.2 3.4 -6 -26.9zM209.1 208.8l5.3 9.1 -3.9 12.2 -5.4 -14.1zM217.9 190.8l4.8 -3.9 -3.4 31.7 -4.9 -0.7zM226.4 154.9l4.9 -2.6 -3.7 30.5 -4.9 4.1zM236.8 194l4.7 -4.8 -5.2 -37 -5 0.1zM246.5 219.4l4.7 -9.9 -4.9 -24.3 -4.8 4zM255.8 221.7l4.5 -26.7 -4.6 -2.4 -4.5 16.9zM264.9 193.9l4.7 1.1 -4.6 -0.5 -4.7 0.5zM274.3 200.4l4.7 27.3 -4.6 -1.6 -4.8 -31.1zM283.6 224.1l4.5 11.9 -4.6 4.7 -4.5 -13zM292.8 220.1l4.6 0.8 -4.8 20.4 -4.5 -5.3zM302.5 188.4l4.6 -3.4 -5.2 33.4 -4.5 2.5zM312.2 167.1l4.6 1.6 -5.1 13.6 -4.6 2.7zM320.7 216.1l4.6 -9.8 -4 -36.9 -4.5 -0.7zM329.5 235.8l5.2 -31.1 -4.5 -13.8 -4.9 15.4zM339.2 216l4.5 -3.2 -4.6 -9 -4.4 0.9zM348.5 217.3l2.9 38.2 -4.5 -8.6 -3.2 -34.1zM356.3 255.4l3.3 21.7 -4.8 -0.6 -3.4 -21zM364.7 270.7l3.8 7.9 -5.2 7.8 -3.7 -9.3zM373.8 268l4.4 -4.8 -5.5 12 -4.2 3.4zM383.9 249.5l4.8 -13 -5.7 12.4 -4.8 14.3zM393.8 234.9l5.2 -18.8 -5.1 -0.3 -5.2 20.7zM403.6 225.7l6 -30.9 -5 -4.3 -5.6 25.6zM414.5 200.4l4.3 -3.9 -4.8 -6.9 -4.4 5.2zM423.8 201.4l2.1 25.2 -4.4 -11.2 -2.7 -18.9zM430.6 234.9l2 23.9 -4.3 -11.8 -2.4 -20.4zM437.9 258.6l3.3 6.2 -5.4 2.2 -3.2 -8.2z"/><path d="M119.5 202.9l5.1 -3.9 -3.6 4.3 -5.2 2.7zM128.3 193.9l5.6 3.5 -3.2 11.4 -6.1 -9.8zM136.6 178.7l5 -5.6 -2.6 21.4 -5.1 2.9zM147.5 200.9l5.1 -2.7 -6 -29.7 -5 4.6zM157.8 215.2l4.9 -4.7 -5 -15.5 -5.1 3.2zM167.5 222.3l4.8 -6 -4.9 -13.8 -4.7 8zM176.8 222l4.4 -12.6 -4.3 -3.1 -4.6 10zM185.5 209.1l4.1 -21.5 -4.3 -1 -4.1 22.8zM194.2 193.4l5.1 2.3 -4.4 -3.2 -5.3 -4.9zM203.6 194.9l5.5 13.9 -4 7.2 -5.8 -20.3zM213 192.7l4.9 -1.9 -3.5 27.1 -5.3 -9.1zM221.6 164.2l4.8 -9.3 -3.7 32 -4.8 3.9zM231.9 195.8l4.9 -1.8 -5.5 -41.7 -4.9 2.6zM241.9 226.7l4.6 -7.3 -5 -30.2 -4.7 4.8zM251.3 237.5l4.5 -15.8 -4.6 -12.2 -4.7 9.9zM260.4 227.1l4.5 -33.2 -4.6 1.1 -4.5 26.7zM269.6 199.5l4.7 0.9 -4.7 -5.4 -4.7 -1.1zM279 204.7l4.6 19.4 -4.6 3.6 -4.7 -27.3zM288.3 210.3l4.5 9.8 -4.7 15.9 -4.5 -11.9zM297.8 188.6l4.7 -0.2 -5.1 32.5 -4.6 -0.8zM307.6 169.1l4.6 -2 -5.1 17.9 -4.6 3.4zM316.2 219.2l4.5 -3.1 -3.9 -47.4 -4.6 -1.6zM324.7 253.6l4.8 -17.8 -4.2 -29.5 -4.6 9.8zM333.7 256.2l5.5 -40.2 -4.5 -11.3 -5.2 31.1zM344 220.3l4.5 -3 -4.8 -4.5 -4.5 3.2zM353.5 215.9l2.8 39.5 -4.9 0.1 -2.9 -38.2zM361.4 249l3.3 21.7 -5.1 6.4 -3.3 -21.7zM370.1 259.2l3.7 8.8 -5.3 10.6 -3.8 -7.9zM379.4 256.8l4.5 -7.3 -5.7 13.7 -4.4 4.8zM389 247.5l4.8 -12.6 -5.1 1.6 -4.8 13zM398.3 246.3l5.3 -20.6 -4.6 -9.6 -5.2 18.8zM408.3 233.4l6.2 -33 -4.9 -5.6 -6 30.9zM419.3 207.2l4.5 -5.8 -5 -4.9 -4.3 3.9zM428.8 205.1l1.8 29.8 -4.7 -8.3 -2.1 -25.2zM435.4 240.2l2.5 18.4 -5.3 0.2 -2 -23.9z"/><path d="M123.2 197.7l5.1 -3.8 -3.7 5.1 -5.1 3.9zM131.7 185.4l4.9 -6.7 -2.7 18.7 -5.6 -3.5zM142.4 203.1l5.1 -2.2 -5.9 -27.8 -5 5.6zM152.8 218.1l5 -2.9 -5.2 -17 -5.1 2.7zM162.6 226.5l4.9 -4.2 -4.8 -11.8 -4.9 4.7zM172 227.8l4.8 -5.8 -4.5 -5.7 -4.8 6zM181 221.9l4.5 -12.8 -4.3 0.3 -4.4 12.6zM189.9 212.1l4.3 -18.7 -4.6 -5.8 -4.1 21.5zM198.6 195.4l5 -0.5 -4.3 0.8 -5.1 -2.3zM207.9 191.2l5.1 1.5 -3.9 16.1 -5.5 -13.9zM217 177.7l4.6 -13.5 -3.7 26.6 -4.9 1.9zM227 198.4l4.9 -2.6 -5.5 -40.9 -4.8 9.3zM237.1 230l4.8 -3.3 -5.1 -32.7 -4.9 1.8zM246.7 246.8l4.6 -9.3 -4.8 -18.1 -4.6 7.3zM255.9 246.8l4.5 -19.7 -4.6 -5.4 -4.5 15.8zM265 228.7l4.6 -29.2 -4.7 -5.6 -4.5 33.2zM274.3 206.4l4.7 -1.7 -4.7 -4.3 -4.7 -0.9zM283.7 200l4.6 10.3 -4.7 13.8 -4.6 -19.4zM293.2 188l4.6 0.6 -5 31.5 -4.5 -9.8zM302.8 173l4.8 -3.9 -5.1 19.3 -4.7 0.2zM311.6 223.5l4.6 -4.3 -4 -52.1 -4.6 2zM320.1 261.7l4.6 -8.1 -4 -37.5 -4.5 3.1zM328.9 277.8l4.8 -21.6 -4.2 -20.4 -4.8 17.8zM338.4 263.1l5.6 -42.8 -4.8 -4.3 -5.5 40.2zM349 218.8l4.5 -2.9 -5 1.4 -4.5 3zM358.7 211.4l2.7 37.6 -5.1 6.4 -2.8 -39.5zM366.8 240.5l3.3 18.7 -5.4 11.5 -3.3 -21.7zM375.5 250.7l3.9 6.1 -5.6 11.2 -3.7 -8.8zM384.5 255.1l4.5 -7.6 -5.1 2 -4.5 7.3zM393.5 258.4l4.8 -12.1 -4.5 -11.4 -4.8 12.6zM402.9 253.6l5.4 -20.2 -4.7 -7.7 -5.3 20.6zM412.9 242.2l6.4 -35 -4.8 -6.8 -6.2 33zM424.4 211l4.4 -5.9 -5 -3.7 -4.5 5.8zM433.7 212.1l1.7 28.1 -4.8 -5.3 -1.8 -29.8z"/><path d="M126.7 190.5l5 -5.1 -3.4 8.5 -5.1 3.8zM136.8 199.1l5.6 4 -5.8 -24.4 -4.9 6.7zM147.5 218.8l5.3 -0.7 -5.3 -17.2 -5.1 2.2zM157.7 231.7l4.9 -5.2 -4.8 -11.3 -5 2.9zM167.1 233.1l4.9 -5.3 -4.5 -5.5 -4.9 4.2zM176.3 231l4.7 -9.1 -4.2 0.1 -4.8 5.8zM185.2 221.6l4.7 -9.5 -4.4 -3 -4.5 12.8zM194.1 210.1l4.5 -14.7 -4.4 -2 -4.3 18.7zM202.9 193.9l5 -2.7 -4.3 3.7 -5 0.5zM212.3 190l4.7 -12.3 -4 15 -5.1 -1.5zM222.2 201.9l4.8 -3.5 -5.4 -34.2 -4.6 13.5zM232.2 227l4.9 3 -5.2 -34.2 -4.9 2.6zM242 249.5l4.7 -2.7 -4.8 -20.1 -4.8 3.3zM251.3 255.7l4.6 -8.9 -4.6 -9.3 -4.6 9.3zM260.4 246.7l4.6 -18 -4.6 -1.6 -4.5 19.7zM269.6 227.8l4.7 -21.4 -4.7 -6.9 -4.6 29.2zM279 203.7l4.7 -3.7 -4.7 4.7 -4.7 1.7zM288.5 191.2l4.7 -3.2 -4.9 22.3 -4.6 -10.3zM298.1 178.8l4.7 -5.8 -5 15.6 -4.6 -0.6zM307 223.6l4.6 -0.1 -4 -54.4 -4.8 3.9zM315.6 267.2l4.5 -5.5 -3.9 -42.5 -4.6 4.3zM324.2 289.7l4.7 -11.9 -4.2 -24.2 -4.6 8.1zM333.3 288.6l5.1 -25.5 -4.7 -6.9 -4.8 21.6zM343.3 260.2l5.7 -41.4 -5 1.5 -5.6 42.8zM354.2 215.6l4.5 -4.2 -5.2 4.5 -4.5 2.9zM363.7 211.2l3.1 29.3 -5.4 8.5 -2.7 -37.6zM372.1 233.7l3.4 17 -5.4 8.5 -3.3 -18.7zM380.6 250.6l3.9 4.5 -5.1 1.7 -3.9 -6.1zM389 264.5l4.5 -6.1 -4.5 -10.9 -4.5 7.6zM398.3 263.1l4.6 -9.5 -4.6 -7.3 -4.8 12.1zM407.6 261l5.3 -18.8 -4.6 -8.8 -5.4 20.2zM417.9 244.8l6.5 -33.8 -5.1 -3.8 -6.4 35zM429.2 217.4l4.5 -5.3 -4.9 -7 -4.4 5.9z"/><path d="M131.7 202.9l5.1 -3.8 -5.1 -13.7 -5 5.1zM141.4 207.1l6.1 11.7 -5.1 -15.7 -5.6 -4zM152.5 232.2l5.2 -0.5 -4.9 -13.6 -5.3 0.7zM162.3 240.1l4.8 -7 -4.5 -6.6 -4.9 5.2zM171.6 238.9l4.7 -7.9 -4.3 -3.2 -4.9 5.3zM180.5 230.1l4.7 -8.5 -4.2 0.3 -4.7 9.1zM189.5 221.7l4.6 -11.6 -4.2 2 -4.7 9.5zM198.2 203.8l4.7 -9.9 -4.3 1.5 -4.5 14.7zM207.4 193.4l4.9 -3.4 -4.4 1.2 -5 2.7zM217.1 198.5l5.1 3.4 -5.2 -24.2 -4.7 12.3zM227.1 220.3l5.1 6.7 -5.2 -28.6 -4.8 3.5zM237 243.7l5 5.8 -4.9 -19.5 -4.9 -3zM246.6 257.4l4.7 -1.7 -4.6 -8.9 -4.7 2.7zM255.8 254.9l4.6 -8.2 -4.5 0.1 -4.6 8.9zM265 240.7l4.6 -12.9 -4.6 0.9 -4.6 18zM274.2 217l4.8 -13.3 -4.7 2.7 -4.7 21.4zM283.7 195.1l4.8 -3.9 -4.8 8.8 -4.7 3.7zM293.3 188l4.8 -9.2 -4.9 9.2 -4.7 3.2zM302.5 217.9l4.5 5.7 -4.2 -50.6 -4.7 5.8zM311.3 261.1l4.3 6.1 -4 -43.7 -4.6 0.1zM319.8 294l4.4 -4.3 -4.1 -28 -4.5 5.5zM328.7 301.1l4.6 -12.5 -4.4 -10.8 -4.7 11.9zM338.2 285.8l5.1 -25.6 -4.9 2.9 -5.1 25.5zM348.5 251.7l5.7 -36.1 -5.2 3.2 -5.7 41.4zM359.3 214.8l4.4 -3.6 -5 0.2 -4.5 4.2zM368.8 213.3l3.3 20.4 -5.3 6.8 -3.1 -29.3zM377.3 232.7l3.3 17.9 -5.1 0.1 -3.4 -17zM385.2 260l3.8 4.5 -4.5 -9.4 -3.9 -4.5zM394 266.9l4.3 -3.8 -4.8 -4.7 -4.5 6.1zM403.2 267.1l4.4 -6.1 -4.7 -7.4 -4.6 9.5zM412.8 261.9l5.1 -17.1 -5 -2.6 -5.3 18.8zM423.2 244.4l6 -27 -4.8 -6.4 -6.5 33.8z"/><path d="M136.2 209.3l5.2 -2.2 -4.6 -8 -5.1 3.8zM146.3 217.9l6.2 14.3 -5 -13.4 -6.1 -11.7zM157.3 243.1l5 -3 -4.6 -8.4 -5.2 0.5zM166.9 247.2l4.7 -8.3 -4.5 -5.8 -4.8 7zM175.7 237.5l4.8 -7.4 -4.2 0.9 -4.7 7.9zM184.7 227.8l4.8 -6.1 -4.3 -0.1 -4.7 8.5zM193.6 216l4.6 -12.2 -4.1 6.3 -4.6 11.6zM202.4 198l5 -4.6 -4.5 0.5 -4.7 9.9zM212 199.5l5.1 -1 -4.8 -8.5 -4.9 3.4zM221.8 207.8l5.3 12.5 -4.9 -18.4 -5.1 -3.4zM231.9 231.4l5.1 12.3 -4.8 -16.7 -5.1 -6.7zM241.7 251.5l4.9 5.9 -4.6 -7.9 -5 -5.8zM251.1 257.4l4.7 -2.5 -4.5 0.8 -4.7 1.7zM260.3 246l4.7 -5.3 -4.6 6 -4.6 8.2zM269.5 226l4.7 -9 -4.6 10.8 -4.6 12.9zM279 194.5l4.7 0.6 -4.7 8.6 -4.8 13.3zM288.6 191.3l4.7 -3.3 -4.8 3.2 -4.8 3.9zM298 204.5l4.5 13.4 -4.4 -39.1 -4.8 9.2zM307 245.7l4.3 15.4 -4.3 -37.5 -4.5 -5.7zM315.6 284l4.2 10 -4.2 -26.8 -4.3 -6.1zM324.4 301.7l4.3 -0.6 -4.5 -11.4 -4.4 4.3zM333.6 296.7l4.6 -10.9 -4.9 2.8 -4.6 12.5zM343.5 270.8l5 -19.1 -5.2 8.5 -5.1 25.6zM353.9 241.5l5.4 -26.7 -5.1 0.8 -5.7 36.1zM364.5 211.7l4.3 1.6 -5.1 -2.1 -4.4 3.6zM373.9 213.7l3.4 19 -5.2 1 -3.3 -20.4zM381.9 242.2l3.3 17.8 -4.6 -9.4 -3.3 -17.9zM390.3 260.2l3.7 6.7 -5 -2.4 -3.8 -4.5zM399.1 268l4.1 -0.9 -4.9 -4 -4.3 3.8zM408.4 267.5l4.4 -5.6 -5.2 -0.9 -4.4 6.1zM418.3 258l4.9 -13.6 -5.3 0.4 -5.1 17.1z"/><path d="M141 218.1l5.3 -0.2 -4.9 -10.8 -5.2 2.2zM151 225.8l6.3 17.3 -4.8 -10.9 -6.2 -14.3zM161.7 247.5l5.2 -0.3 -4.6 -7.1 -5 3zM170.8 242.8l4.9 -5.3 -4.1 1.4 -4.7 8.3zM179.7 231.8l5 -4 -4.2 2.3 -4.8 7.4zM188.5 217.9l5.1 -1.9 -4.1 5.7 -4.8 6.1zM197.5 205.1l4.9 -7.1 -4.2 5.8 -4.6 12.2zM207.4 212.1l4.6 -12.6 -4.6 -6.1 -5 4.6zM216.8 208l5 -0.2 -4.7 -9.3 -5.1 1zM226.4 210.4l5.5 21 -4.8 -11.1 -5.3 -12.5zM236.6 238.6l5.1 12.9 -4.7 -7.8 -5.1 -12.3zM246.2 252.3l4.9 5.1 -4.5 0 -4.9 -5.9zM255.5 248.2l4.8 -2.2 -4.5 8.9 -4.7 2.5zM264.8 228.8l4.7 -2.8 -4.5 14.7 -4.7 5.3zM274.1 196.9l4.9 -2.4 -4.8 22.5 -4.7 9zM283.8 186.2l4.8 5.1 -4.9 3.8 -4.7 -0.6zM293.3 202.9l4.7 1.6 -4.7 -16.5 -4.7 3.3zM302.8 214.8l4.2 30.9 -4.5 -27.8 -4.5 -13.4zM311.5 263.1l4.1 20.9 -4.3 -22.9 -4.3 -15.4zM320.2 291.7l4.2 10 -4.6 -7.7 -4.2 -10zM329.2 297.8l4.4 -1.1 -4.9 4.4 -4.3 0.6zM338.9 280.6l4.6 -9.8 -5.3 15 -4.6 10.9zM349.1 254l4.8 -12.5 -5.4 10.2 -5 19.1zM359.6 224l4.9 -12.3 -5.2 3.1 -5.4 26.7zM369.6 212.9l4.3 0.8 -5.1 -0.4 -4.3 -1.6zM378.9 217l3 25.2 -4.6 -9.5 -3.4 -19zM387 243.8l3.3 16.4 -5.1 -0.2 -3.3 -17.8zM395.5 259.1l3.6 8.9 -5.1 -1.1 -3.7 -6.7zM404.3 267.4l4.1 0.1 -5.2 -0.4 -4.1 0.9zM413.8 264l4.5 -6 -5.5 3.9 -4.4 5.6z"/><path d="M145.5 224l5.5 1.8 -4.7 -7.9 -5.3 0.2zM155.3 227.7l6.4 19.8 -4.4 -4.4 -6.3 -17.3zM165.6 242.2l5.2 0.6 -3.9 4.4 -5.2 0.3zM174.7 235.2l5 -3.4 -4 5.7 -4.9 5.3zM183.5 220.8l5 -2.9 -3.8 9.9 -5 4zM192.5 208.7l5 -3.6 -3.9 10.9 -5.1 1.9zM202.7 224.5l4.7 -12.4 -5 -14.1 -4.9 7.1zM212.4 228.8l4.4 -20.8 -4.8 -8.5 -4.6 12.6zM221.3 208.7l5.1 1.7 -4.6 -2.6 -5 0.2zM231.1 215.8l5.5 22.8 -4.7 -7.2 -5.5 -21zM241.1 240.8l5.1 11.5 -4.5 -0.8 -5.1 -12.9zM250.7 244.9l4.8 3.3 -4.4 9.2 -4.9 -5.1zM259.9 229.4l4.9 -0.6 -4.5 17.2 -4.8 2.2zM269.3 199.8l4.8 -2.9 -4.6 29.1 -4.7 2.8zM279 180.5l4.8 5.7 -4.8 8.3 -4.9 2.4zM288.5 219.2l4.8 -16.3 -4.7 -11.6 -4.8 -5.1zM298.2 210l4.6 4.8 -4.8 -10.3 -4.7 -1.6zM307.6 223.9l3.9 39.2 -4.5 -17.4 -4.2 -30.9zM316.2 269.9l4 21.8 -4.6 -7.7 -4.1 -20.9zM325.1 289.3l4.1 8.5 -4.8 3.9 -4.2 -10zM334.4 284.5l4.5 -3.9 -5.3 16.1 -4.4 1.1zM344.5 260.9l4.6 -6.9 -5.6 16.8 -4.6 9.8zM355 229.8l4.6 -5.8 -5.7 17.5 -4.8 12.5zM364.8 222.3l4.8 -9.4 -5.1 -1.2 -4.9 12.3zM374.6 217.4l4.3 -0.4 -5 -3.3 -4.3 -0.8zM384.1 219.3l2.9 24.5 -5.1 -1.6 -3 -25.2zM392.2 243.9l3.3 15.2 -5.2 1.1 -3.3 -16.4zM400.6 260.4l3.7 7 -5.2 0.6 -3.6 -8.9zM409.6 266.3l4.2 -2.3 -5.4 3.5 -4.1 -0.1z"/><path d="M149.8 226.3l5.5 1.4 -4.3 -1.9 -5.5 -1.8zM159.4 225.8l6.2 16.4 -3.9 5.3 -6.4 -19.8zM169.6 237.3l5.1 -2.1 -3.9 7.6 -5.2 -0.6zM178.4 224.5l5.1 -3.7 -3.8 11 -5 3.4zM187.3 209.1l5.2 -0.4 -4 9.2 -5 2.9zM198 233.7l4.7 -9.2 -5.2 -19.4 -5 3.6zM207.8 242.1l4.6 -13.3 -5 -16.7 -4.7 12.4zM217.1 237.5l4.2 -28.8 -4.5 -0.7 -4.4 20.8zM226 214.2l5.1 1.6 -4.7 -5.4 -5.1 -1.7zM235.8 219.4l5.3 21.4 -4.5 -2.2 -5.5 -22.8zM245.7 240.7l5 4.2 -4.5 7.4 -5.1 -11.5zM255.1 232l4.8 -2.6 -4.4 18.8 -4.8 -3.3zM264.4 199.1l4.9 0.7 -4.5 29 -4.9 0.6zM274.1 180l4.9 0.5 -4.9 16.4 -4.8 2.9zM283.7 227.1l4.8 -7.9 -4.7 -33 -4.8 -5.7zM293.2 243.1l5 -33.1 -4.9 -7.1 -4.8 16.3zM302.9 220.6l4.7 3.3 -4.8 -9.1 -4.6 -4.8zM312.4 230.8l3.8 39.1 -4.7 -6.8 -3.9 -39.2zM321.1 269.9l4 19.4 -4.9 2.4 -4 -21.8zM330.2 278l4.2 6.5 -5.2 13.3 -4.1 -8.5zM339.9 264.5l4.6 -3.6 -5.6 19.7 -4.5 3.9zM350.5 231.6l4.5 -1.8 -5.9 24.2 -4.6 6.9zM360.3 224.6l4.5 -2.3 -5.2 1.7 -4.6 5.8zM369.5 234.4l5.1 -17 -5 -4.5 -4.8 9.4zM379.7 219.5l4.4 -0.2 -5.2 -2.3 -4.3 0.4zM389.3 219.9l2.9 24 -5.2 -0.1 -2.9 -24.5zM397.4 245.2l3.2 15.2 -5.1 -1.3 -3.3 -15.2zM405.7 263.2l3.9 3.1 -5.3 1.1 -3.7 -7z"/><path d="M154 225l5.4 0.8 -4.1 1.9 -5.5 -1.4zM163.7 226.5l5.9 10.8 -4 4.9 -6.2 -16.4zM173.4 229.4l5 -4.9 -3.7 10.7 -5.1 2.1zM182.2 212.1l5.1 -3 -3.8 11.7 -5.1 3.7zM192.9 236.4l5.1 -2.7 -5.5 -25 -5.2 0.4zM203 251.3l4.8 -9.2 -5.1 -17.6 -4.7 9.2zM212.6 254.3l4.5 -16.8 -4.7 -8.7 -4.6 13.3zM221.8 243.1l4.2 -28.9 -4.7 -5.5 -4.2 28.8zM230.7 217l5.1 2.4 -4.7 -3.6 -5.1 -1.6zM240.5 223.1l5.2 17.6 -4.6 0.1 -5.3 -21.4zM250.2 230.6l4.9 1.4 -4.4 12.9 -5 -4.2zM259.6 207.7l4.8 -8.6 -4.5 30.3 -4.8 2.6zM269.1 184.1l5 -4.1 -4.8 19.8 -4.9 -0.7zM279 231.7l4.7 -4.6 -4.7 -46.6 -4.9 -0.5zM288.4 262.8l4.8 -19.7 -4.7 -23.9 -4.8 7.9zM297.8 263.1l5.1 -42.5 -4.7 -10.6 -5 33.1zM307.7 228.6l4.7 2.2 -4.8 -6.9 -4.7 -3.3zM317.2 234.5l3.9 35.4 -4.9 0 -3.8 -39.1zM326.1 263.5l4.1 14.5 -5.1 11.3 -4 -19.4zM335.6 260.7l4.3 3.8 -5.5 20 -4.2 -6.5zM346.1 229.9l4.4 1.7 -6 29.3 -4.6 3.6zM355.9 224.2l4.4 0.4 -5.3 5.2 -4.5 1.8zM364.6 245.8l4.9 -11.4 -4.7 -12.1 -4.5 2.3zM374.3 242.6l5.4 -23.1 -5.1 -2.1 -5.1 17zM385 220.3l4.3 -0.4 -5.2 -0.6 -4.4 0.2zM394.7 218.7l2.7 26.5 -5.2 -1.3 -2.9 -24zM402.5 248.9l3.2 14.3 -5.1 -2.8 -3.2 -15.2z"/><path d="M158.1 222.5l5.6 4 -4.3 -0.7 -5.4 -0.8zM167.8 223.8l5.6 5.6 -3.8 7.9 -5.9 -10.8zM177.2 217.7l5 -5.6 -3.8 12.4 -5 4.9zM187.7 236.5l5.2 -0.1 -5.6 -27.3 -5.1 3zM198.2 258.5l4.8 -7.2 -5 -17.6 -5.1 2.7zM207.9 264.4l4.7 -10.1 -4.8 -12.2 -4.8 9.2zM217.3 262.1l4.5 -19 -4.7 -5.6 -4.5 16.8zM226.4 246.6l4.3 -29.6 -4.7 -2.8 -4.2 28.9zM235.3 218.4l5.2 4.7 -4.7 -3.7 -5.1 -2.4zM245.1 219.6l5.1 11 -4.5 10.1 -5.2 -17.6zM254.7 215.6l4.9 -7.9 -4.5 24.3 -4.9 -1.4zM264.2 194.8l4.9 -10.7 -4.7 15 -4.8 8.6zM274.2 236.5l4.8 -4.8 -4.9 -51.7 -5 4.1zM283.7 272l4.7 -9.2 -4.7 -35.7 -4.7 4.6zM293 287.7l4.8 -24.6 -4.6 -20 -4.8 19.7zM302.5 272.5l5.2 -43.9 -4.8 -8 -5.1 42.5zM312.6 232.6l4.6 1.9 -4.8 -3.7 -4.7 -2.2zM322.2 235.3l3.9 28.2 -5 6.4 -3.9 -35.4zM331.4 251.7l4.2 9 -5.4 17.3 -4.1 -14.5zM341.5 232.5l4.6 -2.6 -6.2 34.6 -4.3 -3.8zM351.5 222.5l4.4 1.7 -5.4 7.4 -4.4 -1.7zM360 252l4.6 -6.2 -4.3 -21.2 -4.4 -0.4zM369.1 259.7l5.2 -17.1 -4.8 -8.2 -4.9 11.4zM379.1 249.7l5.9 -29.4 -5.3 -0.8 -5.4 23.1zM390.3 220.2l4.4 -1.5 -5.4 1.2 -4.3 0.4zM400 220l2.5 28.9 -5.1 -3.7 -2.7 -26.5z"/><path d="M162.2 219.4l5.6 4.4 -4.1 2.7 -5.6 -4zM171.8 217.8l5.4 -0.1 -3.8 11.7 -5.6 -5.6zM182.4 235.8l5.3 0.7 -5.5 -24.4 -5 5.6zM193.1 259l5.1 -0.5 -5.3 -22.1 -5.2 0.1zM203.2 273l4.7 -8.6 -4.9 -13.1 -4.8 7.2zM212.7 273.7l4.6 -11.6 -4.7 -7.8 -4.7 10.1zM221.9 265.4l4.5 -18.8 -4.6 -3.5 -4.5 19zM230.9 245.7l4.4 -27.3 -4.6 -1.4 -4.3 29.6zM240 218l5.1 1.6 -4.6 3.5 -5.2 -4.7zM249.7 217.5l5 -1.9 -4.5 15 -5.1 -11zM259.4 208l4.8 -13.2 -4.6 12.9 -4.9 7.9zM269.3 239.2l4.9 -2.7 -5.1 -52.4 -4.9 10.7zM279 278.1l4.7 -6.1 -4.7 -40.3 -4.8 4.8zM288.3 298.7l4.7 -11 -4.6 -24.9 -4.7 9.2zM297.6 299.5l4.9 -27 -4.7 -9.4 -4.8 24.6zM307.4 272.9l5.2 -40.3 -4.9 -4 -5.2 43.9zM317.6 233.2l4.6 2.1 -5 -0.8 -4.6 -1.9zM327.3 231.5l4.1 20.2 -5.3 11.8 -3.9 -28.2zM336.9 234.8l4.6 -2.3 -5.9 28.2 -4.2 -9zM346.8 227.8l4.7 -5.3 -5.4 7.4 -4.6 2.6zM355.5 253.5l4.5 -1.5 -4.1 -27.8 -4.4 -1.7zM364.3 270.4l4.8 -10.7 -4.5 -13.9 -4.6 6.2zM373.8 269.6l5.3 -19.9 -4.8 -7.1 -5.2 17.1zM384.3 252l6 -31.8 -5.3 0.1 -5.9 29.4zM395.5 223.6l4.5 -3.6 -5.3 -1.3 -4.4 1.5z"/><path d="M166.5 218.7l5.3 -0.9 -4 6 -5.6 -4.4zM176.6 225.9l5.8 9.9 -5.2 -18.1 -5.4 0.1zM187.6 252.5l5.5 6.5 -5.4 -22.5 -5.3 -0.7zM198.1 273.8l5.1 -0.8 -5 -14.5 -5.1 0.5zM207.9 283.2l4.8 -9.5 -4.8 -9.3 -4.7 8.6zM217.2 276.2l4.7 -10.8 -4.6 -3.3 -4.6 11.6zM226.3 262l4.6 -16.3 -4.5 0.9 -4.5 18.8zM235.4 240.3l4.6 -22.3 -4.7 0.4 -4.4 27.3zM244.8 220.4l4.9 -2.9 -4.6 2.1 -5.1 -1.6zM254.5 217.2l4.9 -9.2 -4.7 7.6 -5 1.9zM264.4 238.7l4.9 0.5 -5.1 -44.4 -4.8 13.2zM274.2 272.9l4.8 5.2 -4.8 -41.6 -4.9 2.7zM283.6 302.8l4.7 -4.1 -4.6 -26.7 -4.7 6.1zM292.9 312.6l4.7 -13.1 -4.6 -11.8 -4.7 11zM302.4 299.2l5 -26.3 -4.9 -0.4 -4.9 27zM312.3 271.2l5.3 -38 -5 -0.6 -5.2 40.3zM322.7 232.7l4.6 -1.2 -5.1 3.8 -4.6 -2.1zM332.5 227.4l4.4 7.4 -5.5 16.9 -4.1 -20.2zM342 233.9l4.8 -6.1 -5.3 4.7 -4.6 2.3zM351 253.2l4.5 0.3 -4 -31 -4.7 5.3zM359.8 273.4l4.5 -3 -4.3 -18.4 -4.5 1.5zM368.9 282.7l4.9 -13.1 -4.7 -9.9 -4.8 10.7zM378.8 275.5l5.5 -23.5 -5.2 -2.3 -5.3 19.9zM389.6 252l5.9 -28.4 -5.2 -3.4 -6 31.8z"/><path d="M171.5 230.5l5.1 -4.6 -4.8 -8.1 -5.3 0.9zM181.6 236.8l6 15.7 -5.2 -16.7 -5.8 -9.9zM192.6 266.4l5.5 7.4 -5 -14.8 -5.5 -6.5zM202.9 285.1l5 -1.9 -4.7 -10.2 -5.1 0.8zM212.4 284.5l4.8 -8.3 -4.5 -2.5 -4.8 9.5zM221.6 272.3l4.7 -10.3 -4.4 3.4 -4.7 10.8zM230.7 255.7l4.7 -15.4 -4.5 5.4 -4.6 16.3zM240 234.3l4.8 -13.9 -4.8 -2.4 -4.6 22.3zM249.5 222.9l5 -5.7 -4.8 0.3 -4.9 2.9zM259.4 230.5l5 8.2 -5 -30.7 -4.9 9.2zM269.3 257.9l4.9 15 -4.9 -33.7 -4.9 -0.5zM279 293l4.6 9.8 -4.6 -24.7 -4.8 -5.2zM288.3 315.7l4.6 -3.1 -4.6 -13.9 -4.7 4.1zM297.7 313.8l4.7 -14.6 -4.8 0.3 -4.7 13.1zM307.3 294.7l5 -23.5 -4.9 1.7 -5 26.3zM317.3 266.9l5.4 -34.2 -5.1 0.5 -5.3 38zM327.8 231.2l4.7 -3.8 -5.2 4.1 -4.6 1.2zM337.6 229.8l4.4 4.1 -5.1 0.9 -4.4 -7.4zM346.6 252l4.4 1.2 -4.2 -25.4 -4.8 6.1zM355.6 270.1l4.2 3.3 -4.3 -19.9 -4.5 -0.3zM364.5 285.6l4.4 -2.9 -4.6 -12.3 -4.5 3zM373.7 289.8l5.1 -14.3 -5 -5.9 -4.9 13.1zM384.3 270.6l5.3 -18.6 -5.3 0 -5.5 23.5z"/><path d="M176.4 240.6l5.2 -3.8 -5 -10.9 -5.1 4.6zM186.6 248.7l6 17.7 -5 -13.9 -6 -15.7zM197.5 277.3l5.4 7.8 -4.8 -11.3 -5.5 -7.4zM207.4 287.1l5 -2.6 -4.5 -1.3 -5 1.9zM216.7 280.4l4.9 -8.1 -4.4 3.9 -4.8 8.3zM226 269.4l4.7 -13.7 -4.4 6.3 -4.7 10.3zM235.3 251.6l4.7 -17.3 -4.6 6 -4.7 15.4zM244.7 235.6l4.8 -12.7 -4.7 -2.5 -4.8 13.9zM254.4 231.8l5 -1.3 -4.9 -13.3 -5 5.7zM264.3 237.6l5 20.3 -4.9 -19.2 -5 -8.2zM274.1 272.2l4.9 20.8 -4.8 -20.1 -4.9 -15zM283.7 304.1l4.6 11.6 -4.7 -12.9 -4.6 -9.8zM293.1 315.1l4.6 -1.3 -4.8 -1.2 -4.6 3.1zM302.5 310.3l4.8 -15.6 -4.9 4.5 -4.7 14.6zM312.3 287.1l5 -20.2 -5 4.3 -5 23.5zM322.5 257.5l5.3 -26.3 -5.1 1.5 -5.4 34.2zM332.8 234.7l4.8 -4.9 -5.1 -2.4 -4.7 3.8zM342.5 238.9l4.1 13.1 -4.6 -18.1 -4.4 -4.1zM351.3 264.1l4.3 6 -4.6 -16.9 -4.4 -1.2zM360.2 281.9l4.3 3.7 -4.7 -12.2 -4.2 -3.3zM369.4 291.4l4.3 -1.6 -4.8 -7.1 -4.4 2.9zM379.1 286.7l5.2 -16.1 -5.5 4.9 -5.1 14.3z"/><path d="M181.2 248.4l5.4 0.3 -5 -11.9 -5.2 3.8zM191.3 254.1l6.2 23.2 -4.9 -10.9 -6 -17.7zM202.1 282.1l5.3 5 -4.5 -2 -5.4 -7.8zM211.7 282.6l5 -2.2 -4.3 4.1 -5 2.6zM221.3 280.1l4.7 -10.7 -4.4 2.9 -4.9 8.1zM230.5 265.7l4.8 -14.1 -4.6 4.1 -4.7 13.7zM239.9 250.9l4.8 -15.3 -4.7 -1.3 -4.7 17.3zM249.7 251l4.7 -19.2 -4.9 -8.9 -4.8 12.7zM259.3 239.1l5 -1.5 -4.9 -7.1 -5 1.3zM269.2 244.3l4.9 27.9 -4.8 -14.3 -5 -20.3zM279 282l4.7 22.1 -4.7 -11.1 -4.9 -20.8zM288.5 304.6l4.6 10.5 -4.8 0.6 -4.6 -11.6zM297.9 311.5l4.6 -1.2 -4.8 3.5 -4.6 1.3zM307.5 300.8l4.8 -13.7 -5 7.6 -4.8 15.6zM317.5 278.1l5 -20.6 -5.2 9.4 -5 20.2zM327.6 258.3l5.2 -23.6 -5 -3.5 -5.3 26.3zM337.8 240.5l4.7 -1.6 -4.9 -9.1 -4.8 4.9zM347.6 242.7l3.7 21.4 -4.7 -12.1 -4.1 -13.1zM356.2 272.5l4 9.4 -4.6 -11.8 -4.3 -6zM365.2 287.1l4.2 4.3 -4.9 -5.8 -4.3 -3.7zM374.7 287.6l4.4 -0.9 -5.4 3.1 -4.3 1.6z"/><path d="M185.8 251l5.5 3.1 -4.7 -5.4 -5.4 -0.3zM196 260.7l6.1 21.4 -4.6 -4.8 -6.2 -23.2zM206.3 275.5l5.4 7.1 -4.3 4.5 -5.3 -5zM216.2 281.4l5.1 -1.3 -4.6 0.3 -5 2.2zM225.7 274.6l4.8 -8.9 -4.5 3.7 -4.7 10.7zM235.1 265.2l4.8 -14.3 -4.6 0.7 -4.8 14.1zM244.9 266.5l4.8 -15.5 -5 -15.4 -4.8 15.3zM254.6 265.5l4.7 -26.4 -4.9 -7.3 -4.7 19.2zM264.2 243.1l5 1.2 -4.9 -6.7 -5 1.5zM274 248.8l5 33.2 -4.9 -9.8 -4.9 -27.9zM283.8 285.9l4.7 18.7 -4.8 -0.5 -4.7 -22.1zM293.3 303.2l4.6 8.3 -4.8 3.6 -4.6 -10.5zM302.8 304.5l4.7 -3.7 -5 9.5 -4.6 1.2zM312.6 290.5l4.9 -12.4 -5.2 9 -4.8 13.7zM322.5 277.4l5.1 -19.1 -5.1 -0.8 -5 20.6zM332.4 269.2l5.4 -28.7 -5 -5.8 -5.2 23.6zM343.1 239.5l4.5 3.2 -5.1 -3.8 -4.7 1.6zM352.8 243.9l3.4 28.6 -4.9 -8.4 -3.7 -21.4zM361.2 277l4 10.1 -5 -5.2 -4 -9.4zM370.6 283.7l4.1 3.9 -5.3 3.8 -4.2 -4.3z"/><path d="M190.5 256l5.5 4.7 -4.7 -6.6 -5.5 -3.1zM200.3 255.3l6 20.2 -4.2 6.6 -6.1 -21.4zM210.8 273.4l5.4 8 -4.5 1.2 -5.4 -7.1zM220.6 275.9l5.1 -1.3 -4.4 5.5 -5.1 1.3zM230.2 272.1l4.9 -6.9 -4.6 0.5 -4.8 8.9zM240.1 281.5l4.8 -15 -5 -15.6 -4.8 14.3zM249.8 280.8l4.8 -15.3 -4.9 -14.5 -4.8 15.5zM259.5 273.7l4.7 -30.6 -4.9 -4 -4.7 26.4zM269.1 244.5l4.9 4.3 -4.8 -4.5 -5 -1.2zM279 252.5l4.8 33.4 -4.8 -3.9 -5 -33.2zM288.6 284.6l4.7 18.6 -4.8 1.4 -4.7 -18.7zM298.2 296.7l4.6 7.8 -4.9 7 -4.6 -8.3zM307.9 295.1l4.7 -4.6 -5.1 10.3 -4.7 3.7zM317.6 290.5l4.9 -13.1 -5 0.7 -4.9 12.4zM327.3 288.7l5.1 -19.5 -4.8 -10.9 -5.1 19.1zM337.4 272.1l5.7 -32.6 -5.3 1 -5.4 28.7zM348.3 239.3l4.5 4.6 -5.2 -1.2 -4.5 -3.2zM358 245.3l3.2 31.7 -5 -4.5 -3.4 -28.6zM366.6 274.1l4 9.6 -5.4 3.4 -4 -10.1z"/><path d="M194.8 250.4l5.5 4.9 -4.3 5.4 -5.5 -4.7zM204.8 253.1l6 20.3 -4.5 2.1 -6 -20.2zM215.3 271.8l5.3 4.1 -4.4 5.5 -5.4 -8zM225.1 273.8l5.1 -1.7 -4.5 2.5 -5.1 1.3zM235.2 288.4l4.9 -6.9 -5 -16.3 -4.9 6.9zM245.1 294.5l4.7 -13.7 -4.9 -14.3 -4.8 15zM254.7 291.2l4.8 -17.5 -4.9 -8.2 -4.8 15.3zM264.3 276.4l4.8 -31.9 -4.9 -1.4 -4.7 30.6zM274 246.5l5 6 -5 -3.7 -4.9 -4.3zM283.9 255l4.7 29.6 -4.8 1.3 -4.8 -33.4zM293.6 278.5l4.6 18.2 -4.9 6.5 -4.7 -18.6zM303.2 290.1l4.7 5 -5.1 9.4 -4.6 -7.8zM312.8 296l4.8 -5.5 -5 0 -4.7 4.6zM322.3 302.8l5 -14.1 -4.8 -11.3 -4.9 13.1zM332.1 297.5l5.3 -25.4 -5 -2.9 -5.1 19.5zM342.4 278.5l5.9 -39.2 -5.2 0.2 -5.7 32.6zM353.5 243.5l4.5 1.8 -5.2 -1.4 -4.5 -4.6zM363.4 243.9l3.2 30.2 -5.4 2.9 -3.2 -31.7z"/><path d="M199.3 250.2l5.5 2.9 -4.5 2.2 -5.5 -4.9zM209.5 255.5l5.8 16.3 -4.5 1.6 -6 -20.3zM219.9 271.2l5.2 2.6 -4.5 2.1 -5.3 -4.1zM230.2 290l5 -1.6 -5 -16.3 -5.1 1.7zM240.2 304l4.9 -9.5 -5 -13 -4.9 6.9zM249.9 305.5l4.8 -14.3 -4.9 -10.4 -4.7 13.7zM259.5 294.4l4.8 -18 -4.8 -2.7 -4.8 17.5zM269.1 278.1l4.9 -31.6 -4.9 -2 -4.8 31.9zM279 248.9l4.9 6.1 -4.9 -2.5 -5 -6zM288.9 255.5l4.7 23 -5 6.1 -4.7 -29.6zM298.6 277.1l4.6 13 -5 6.6 -4.6 -18.2zM308.2 290.8l4.6 5.2 -4.9 -0.9 -4.7 -5zM317.6 308l4.7 -5.2 -4.7 -12.3 -4.8 5.5zM327.2 311.8l4.9 -14.3 -4.8 -8.8 -5 14.1zM337 306.3l5.4 -27.8 -5 -6.4 -5.3 25.4zM347.4 286.1l6.1 -42.6 -5.2 -4.2 -5.9 39.2zM358.7 246.5l4.7 -2.6 -5.4 1.4 -4.5 -1.8z"/><path d="M204.2 255.1l5.3 0.4 -4.7 -2.4 -5.5 -2.9zM214.2 257.3l5.7 13.9 -4.6 0.6 -5.8 -16.3zM225 286.1l5.2 3.9 -5.1 -16.2 -5.2 -2.6zM235.2 304.9l5 -0.9 -5 -15.6 -5 1.6zM245.1 316.5l4.8 -11 -4.8 -11 -4.9 9.5zM254.7 309.1l4.8 -14.7 -4.8 -3.2 -4.8 14.3zM264.3 295.1l4.8 -17 -4.8 -1.7 -4.8 18zM274 278.8l5 -29.9 -5 -2.4 -4.9 31.6zM283.9 253.4l5 2.1 -5 -0.5 -4.9 -6.1zM293.9 258.9l4.7 18.2 -5 1.4 -4.7 -23zM303.6 281.2l4.6 9.6 -5 -0.7 -4.6 -13zM313.1 298.2l4.5 9.8 -4.8 -12 -4.6 -5.2zM322.5 313.7l4.7 -1.9 -4.9 -9 -4.7 5.2zM332.1 315.5l4.9 -9.2 -4.9 -8.8 -4.9 14.3zM342 310.2l5.4 -24.1 -5 -7.6 -5.4 27.8zM352.6 284.6l6.1 -38.1 -5.2 -3 -6.1 42.6z"/><path d="M208.9 257.5l5.3 -0.2 -4.7 -1.8 -5.3 -0.4zM219.2 268l5.8 18.1 -5.1 -14.9 -5.7 -13.9zM229.9 298.7l5.3 6.2 -5 -14.9 -5.2 -3.9zM240.1 317.6l5 -1.1 -4.9 -12.5 -5 0.9zM249.9 320.6l4.8 -11.5 -4.8 -3.6 -4.8 11zM259.5 309l4.8 -13.9 -4.8 -0.7 -4.8 14.7zM269.1 297.4l4.9 -18.6 -4.9 -0.7 -4.8 17zM279 277.2l4.9 -23.8 -4.9 -4.5 -5 29.9zM289 256.8l4.9 2.1 -5 -3.4 -5 -2.1zM298.9 263.1l4.7 18.1 -5 -4.1 -4.7 -18.2zM308.6 283.3l4.5 14.9 -4.9 -7.4 -4.6 -9.6zM318.1 303.2l4.4 10.5 -4.9 -5.7 -4.5 -9.8zM327.6 314l4.5 1.5 -4.9 -3.7 -4.7 1.9zM337.1 319.6l4.9 -9.4 -5 -3.9 -4.9 9.2zM347.3 307.7l5.3 -23.1 -5.2 1.5 -5.4 24.1z"/><path d="M213.8 265.1l5.4 2.9 -5 -10.7 -5.3 0.2zM224.2 276.4l5.7 22.3 -4.9 -12.6 -5.8 -18.1zM234.9 311l5.2 6.6 -4.9 -12.7 -5.3 -6.2zM244.9 324.5l5 -3.9 -4.8 -4.1 -5 1.1zM254.6 317.2l4.9 -8.2 -4.8 0.1 -4.8 11.5zM264.2 307.7l4.9 -10.3 -4.8 -2.3 -4.8 13.9zM274 291.6l5 -14.4 -5 1.6 -4.9 18.6zM283.9 272.2l5.1 -15.4 -5.1 -3.4 -4.9 23.8zM294 258.4l4.9 4.7 -5 -4.2 -4.9 -2.1zM304.1 260.6l4.5 22.7 -5 -2.1 -4.7 -18.1zM313.7 284.4l4.4 18.8 -5 -5 -4.5 -14.9zM323.1 306.4l4.5 7.6 -5.1 -0.3 -4.4 -10.5zM332.5 319.6l4.6 0 -5 -4.1 -4.5 -1.5zM342.3 317.8l5 -10.1 -5.3 2.5 -4.9 9.4z"/><path d="M218.8 274.8l5.4 1.6 -5 -8.4 -5.4 -2.9zM229.1 283.6l5.8 27.4 -5 -12.3 -5.7 -22.3zM239.8 317.8l5.1 6.7 -4.8 -6.9 -5.2 -6.6zM249.6 323.2l5 -6 -4.7 3.4 -5 3.9zM259.3 314.1l4.9 -6.4 -4.7 1.3 -4.9 8.2zM269 297l5 -5.4 -4.9 5.8 -4.9 10.3zM279 279.7l4.9 -7.5 -4.9 5 -5 14.4zM289 271.8l5 -13.4 -5 -1.6 -5.1 15.4zM299.2 255.6l4.9 5 -5.2 2.5 -4.9 -4.7zM309.3 258.3l4.4 26.1 -5.1 -1.1 -4.5 -22.7zM318.8 285.8l4.3 20.6 -5 -3.2 -4.4 -18.8zM328.1 312.3l4.4 7.3 -4.9 -5.6 -4.5 -7.6zM337.8 317.9l4.5 -0.1 -5.2 1.8 -4.6 0z"/><path d="M223.8 283.3l5.3 0.3 -4.9 -7.2 -5.4 -1.6zM234 290.1l5.8 27.7 -4.9 -6.8 -5.8 -27.4zM244.5 317.5l5.1 5.7 -4.7 1.3 -5.1 -6.7zM254.3 318.6l5 -4.5 -4.7 3.1 -5 6zM264.1 301.5l4.9 -4.5 -4.8 10.7 -4.9 6.4zM273.9 284.9l5.1 -5.2 -5 11.9 -5 5.4zM284 277.7l5 -5.9 -5.1 0.4 -4.9 7.5zM294.1 275.5l5.1 -19.9 -5.2 2.8 -5 13.4zM304.4 254l4.9 4.3 -5.2 2.3 -4.9 -5zM314.5 256.4l4.3 29.4 -5.1 -1.4 -4.4 -26.1zM323.9 289.7l4.2 22.6 -5 -5.9 -4.3 -20.6zM333.4 309.5l4.4 8.4 -5.3 1.7 -4.4 -7.3z"/><path d="M228.8 290.2l5.2 -0.1 -4.9 -6.5 -5.3 -0.3zM238.8 290.2l5.7 27.3 -4.7 0.3 -5.8 -27.7zM249.2 311.5l5.1 7.1 -4.7 4.6 -5.1 -5.7zM259 302.2l5.1 -0.7 -4.8 12.6 -5 4.5zM268.9 285.5l5 -0.6 -4.9 12.1 -4.9 4.5zM279 281.8l5 -4.1 -5 2 -5.1 5.2zM289 284.5l5.1 -9 -5.1 -3.7 -5 5.9zM299.2 274.7l5.2 -20.7 -5.2 1.6 -5.1 19.9zM309.7 251.4l4.8 5 -5.2 1.9 -4.9 -4.3zM319.7 260.5l4.2 29.2 -5.1 -3.9 -4.3 -29.4zM329.2 286.8l4.2 22.7 -5.3 2.8 -4.2 -22.6z"/><path d="M233.5 289.8l5.3 0.4 -4.8 -0.1 -5.2 0.1zM243.5 285.1l5.7 26.4 -4.7 6 -5.7 -27.3zM253.8 294.5l5.2 7.7 -4.7 16.4 -5.1 -7.1zM263.8 283l5.1 2.5 -4.8 16 -5.1 0.7zM273.9 283.7l5.1 -1.9 -5.1 3.1 -5 0.6zM284 288.9l5 -4.4 -5 -6.8 -5 4.1zM294.1 285.9l5.1 -11.2 -5.1 0.8 -5.1 9zM304.4 272.3l5.3 -20.9 -5.3 2.6 -5.2 20.7zM314.9 255l4.8 5.5 -5.2 -4.1 -4.8 -5zM325.1 260l4.1 26.8 -5.3 2.9 -4.2 -29.2z"/><path d="M238.3 285.3l5.2 -0.2 -4.7 5.1 -5.3 -0.4zM248.3 276.4l5.5 18.1 -4.6 17 -5.7 -26.4zM258.6 280.6l5.2 2.4 -4.8 19.2 -5.2 -7.7zM268.8 281.2l5.1 2.5 -5 1.8 -5.1 -2.5zM279 294.9l5 -6 -5 -7.1 -5.1 1.9zM289.1 294.2l5 -8.3 -5.1 -1.4 -5 4.4zM299.3 286l5.1 -13.7 -5.2 2.4 -5.1 11.2zM309.6 276.5l5.3 -21.5 -5.2 -3.6 -5.3 20.9zM320.1 260.3l5 -0.3 -5.4 0.5 -4.8 -5.5z"/><path d="M243.1 280.6l5.2 -4.2 -4.8 8.7 -5.2 0.2zM253.2 271.3l5.4 9.3 -4.8 13.9 -5.5 -18.1zM263.6 277.3l5.2 3.9 -5 1.8 -5.2 -2.4zM273.9 295.5l5.1 -0.6 -5.1 -11.2 -5.1 -2.5zM284 304.2l5.1 -10 -5.1 -5.3 -5 6zM294.2 297.9l5.1 -11.9 -5.2 -0.1 -5 8.3zM304.5 287.7l5.1 -11.2 -5.2 -4.2 -5.1 13.7zM314.8 283l5.3 -22.7 -5.2 -5.3 -5.3 21.5z"/><path d="M248 273.4l5.2 -2.1 -4.9 5.1 -5.2 4.2zM258.3 269.4l5.3 7.9 -5 3.3 -5.4 -9.3zM268.7 292.1l5.2 3.4 -5.1 -14.3 -5.2 -3.9zM279 306.1l5 -1.9 -5 -9.3 -5.1 0.6zM289.1 309.6l5.1 -11.7 -5.1 -3.7 -5.1 10zM299.3 300.5l5.2 -12.8 -5.2 -1.7 -5.1 11.9zM309.6 292.1l5.2 -9.1 -5.2 -6.5 -5.1 11.2z"/><path d="M252.9 268.6l5.4 0.8 -5.1 1.9 -5.2 2.1zM263.4 281.2l5.3 10.9 -5.1 -14.8 -5.3 -7.9zM273.8 303.8l5.2 2.3 -5.1 -10.6 -5.2 -3.4zM284 314.8l5.1 -5.2 -5.1 -5.4 -5 1.9zM294.2 311.7l5.1 -11.2 -5.1 -2.6 -5.1 11.7zM304.5 301.6l5.1 -9.5 -5.1 -4.4 -5.2 12.8z"/><path d="M258.2 280.2l5.2 1 -5.1 -11.8 -5.4 -0.8zM268.6 289.7l5.2 14.1 -5.1 -11.7 -5.3 -10.9zM279 314l5 0.8 -5 -8.7 -5.2 -2.3zM289.2 315l5 -3.3 -5.1 -2.1 -5.1 5.2zM299.5 307.7l5 -6.1 -5.2 -1.1 -5.1 11.2z"/><path d="M263.3 287.1l5.3 2.6 -5.2 -8.5 -5.2 -1zM273.8 294.6l5.2 19.4 -5.2 -10.2 -5.2 -14.1zM284.1 313.5l5.1 1.5 -5.2 -0.2 -5 -0.8zM294.4 309.2l5.1 -1.5 -5.3 4 -5 3.3z"/><path d="M268.5 288l5.3 6.6 -5.2 -4.9 -5.3 -2.6zM279 294.6l5.1 18.9 -5.1 0.5 -5.2 -19.4zM289.3 307.9l5.1 1.3 -5.2 5.8 -5.1 -1.5z"/><path d="M273.7 293.6l5.3 1 -5.2 0 -5.3 -6.6zM284.2 291.1l5.1 16.8 -5.2 5.6 -5.1 -18.9z"/><path d="M279 293.4l5.2 -2.3 -5.2 3.5 -5.3 -1z"/></g>
<path d="M78.1 341.7L50.2 77.1M479.8 341.7L507.7 77.1M78.1 341.7L279 477.5M279 477.5L479.8 341.7M71.8 281.8L76.8 279.4M65.1 218L70.2 215.8M57.9 149.9L63.2 147.8M75 312.2L77.4 311M68.5 250.4L70.9 249.3M61.6 184.5L64.1 183.5M54.1 114.1L56.7 113.2M235.7 448.2L238.6 446.4M322.2 448.2L319.3 446.4M195 420.7L197.9 419M362.9 420.7L360 419M156.7 394.8L159.6 393.1M401.2 394.8L398.3 393.1M120.5 370.3L123.4 368.7M437.4 370.3L434.5 368.7M86.2 347.1L89.1 345.7M471.7 347.1L468.8 345.7" stroke="#000" stroke-width="1.4" fill="none" stroke-linecap="square"/>
<g fill="#000" stroke="#000" stroke-width="0.12"><text transform="matrix(1.2165 0.8372 -1.2329 0.8372 269.47 487.63)" font-size="10" text-anchor="middle" dy="0.36em">0</text><text transform="matrix(1.1427 0.7864 -1.2312 0.7864 226.08 457.77)" font-size="10" text-anchor="middle" dy="0.36em">20</text><text transform="matrix(1.0754 0.7400 -1.2276 0.7400 185.28 429.69)" font-size="10" text-anchor="middle" dy="0.36em">40</text><text transform="matrix(1.0139 0.6977 -1.2222 0.6977 146.84 403.24)" font-size="10" text-anchor="middle" dy="0.36em">60</text><text transform="matrix(0.9575 0.6589 -1.2156 0.6589 110.58 378.29)" font-size="10" text-anchor="middle" dy="0.36em">80</text><text transform="matrix(0.9057 0.6232 -1.2078 0.6232 76.30 354.70)" font-size="10" text-anchor="middle" dy="0.36em">100</text><text transform="matrix(1.1339 -0.7787 1.2286 0.7788 335.77 453.22)" font-size="10" text-anchor="middle" dy="0.36em">20</text><text transform="matrix(1.0674 -0.7331 1.2247 0.7331 376.26 425.41)" font-size="10" text-anchor="middle" dy="0.36em">40</text><text transform="matrix(1.0066 -0.6913 1.2193 0.6914 414.41 399.21)" font-size="10" text-anchor="middle" dy="0.36em">60</text><text transform="matrix(0.9509 -0.6531 1.2125 0.6531 450.42 374.48)" font-size="10" text-anchor="middle" dy="0.36em">80</text><text transform="matrix(0.8996 -0.6179 1.2047 0.6179 484.46 351.10)" font-size="10" text-anchor="middle" dy="0.36em">100</text><text transform="matrix(1.1758 -0.5551 0.1317 1.2130 66.65 288.03)" font-size="10" text-anchor="end">0.25</text><text transform="matrix(1.2192 -0.5257 0.1405 1.2934 59.73 224.34)" font-size="10" text-anchor="end">0.50</text><text transform="matrix(1.2660 -0.4911 0.1501 1.3819 52.35 156.36)" font-size="10" text-anchor="end">0.75</text><text transform="matrix(1.3164 -0.4503 0.1607 1.4799 44.45 83.65)" font-size="10" text-anchor="end">1.00</text><text transform="matrix(1.0517 0.7468 -1.2617 0.7468 150.23 433.81)" font-size="15.5" text-anchor="middle">y-axis [µm]</text><text transform="matrix(1.0517 -0.7444 1.2580 0.7444 405.62 432.37)" font-size="15.5" text-anchor="middle">x-axis [µm]</text><text transform="translate(26.05 223) rotate(-93.9) scale(1.37 1)" font-size="19" text-anchor="middle">Signal (normalized)</text></g>
</svg>
</body></html>
